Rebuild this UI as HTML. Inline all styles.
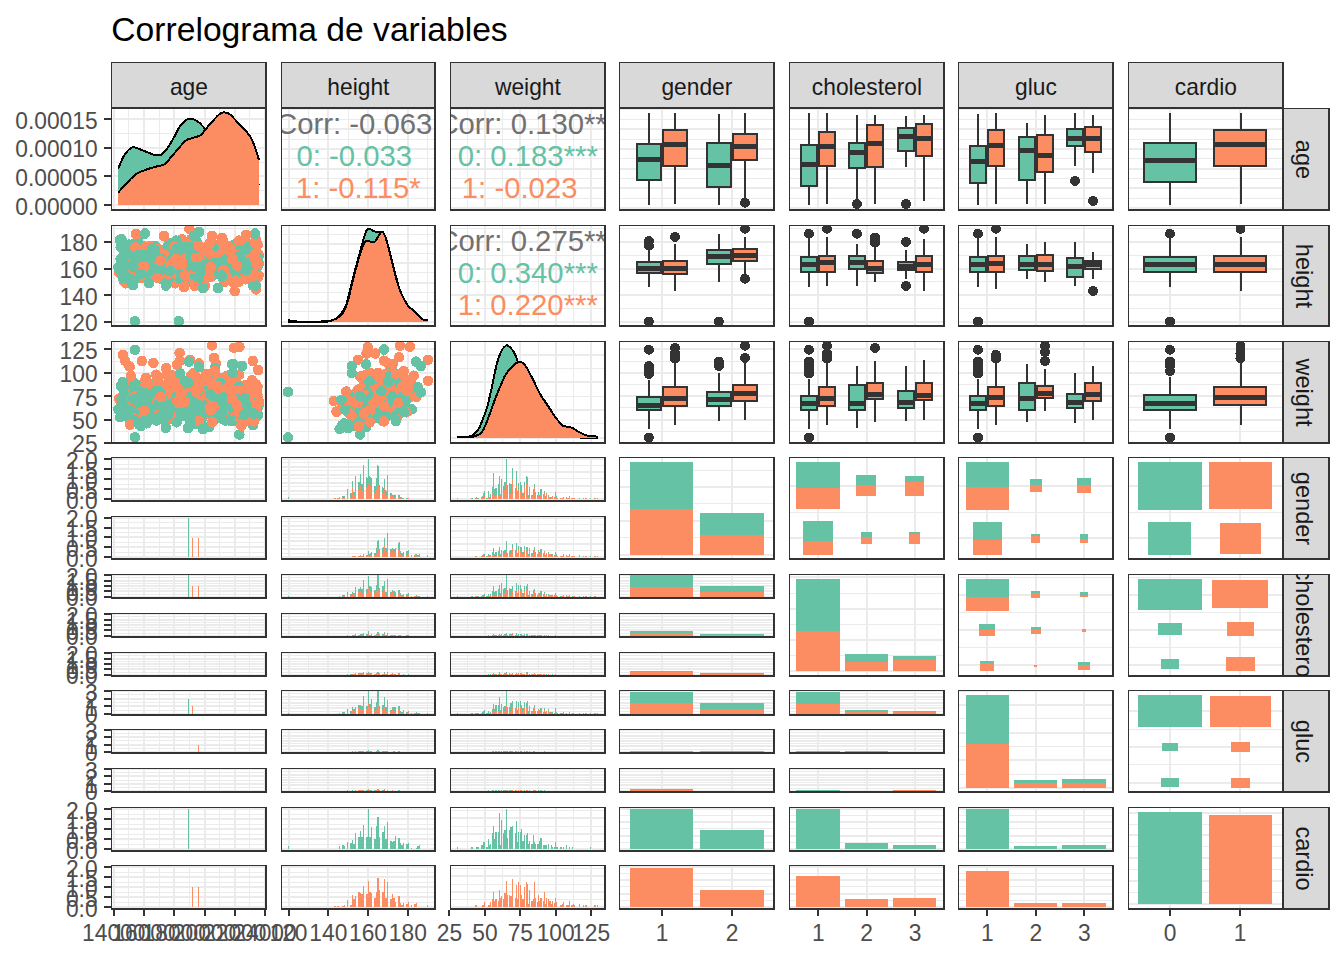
<!DOCTYPE html>
<html><head><meta charset="utf-8"><title>Correlograma de variables</title>
<style>html,body{margin:0;padding:0;background:#fff;}svg{display:block;font-family:"Liberation Sans",sans-serif;}.a{fill:#66C2A5}.b{fill:#FC8D62}</style>
</head><body>
<svg width="1344" height="960" viewBox="0 0 1344 960" shape-rendering="crispEdges">
<rect width="1344" height="960" fill="#fff"/>
<defs><clipPath id="c1"><rect x="1283" y="108" width="46" height="102"/></clipPath><clipPath id="c2"><rect x="1283" y="225" width="46" height="101"/></clipPath><clipPath id="c3"><rect x="1283" y="341" width="46" height="102"/></clipPath><clipPath id="c4"><rect x="1283" y="457" width="46" height="102"/></clipPath><clipPath id="c5"><rect x="1283" y="574" width="46" height="102"/></clipPath><clipPath id="c6"><rect x="1283" y="690" width="46" height="102"/></clipPath><clipPath id="c7"><rect x="1283" y="807" width="46" height="102"/></clipPath><clipPath id="c8"><rect x="111" y="108" width="155" height="102"/></clipPath><clipPath id="c9"><rect x="281" y="108" width="154" height="102"/></clipPath><clipPath id="c10"><rect x="450" y="108" width="155" height="102"/></clipPath><clipPath id="c11"><rect x="619" y="108" width="155" height="102"/></clipPath><clipPath id="c12"><rect x="789" y="108" width="155" height="102"/></clipPath><clipPath id="c13"><rect x="958" y="108" width="155" height="102"/></clipPath><clipPath id="c14"><rect x="1128" y="108" width="155" height="102"/></clipPath><clipPath id="c15"><rect x="111" y="225" width="155" height="101"/></clipPath><clipPath id="c16"><rect x="281" y="225" width="154" height="101"/></clipPath><clipPath id="c17"><rect x="450" y="225" width="155" height="101"/></clipPath><clipPath id="c18"><rect x="619" y="225" width="155" height="101"/></clipPath><clipPath id="c19"><rect x="789" y="225" width="155" height="101"/></clipPath><clipPath id="c20"><rect x="958" y="225" width="155" height="101"/></clipPath><clipPath id="c21"><rect x="1128" y="225" width="155" height="101"/></clipPath><clipPath id="c22"><rect x="111" y="341" width="155" height="102"/></clipPath><clipPath id="c23"><rect x="281" y="341" width="154" height="102"/></clipPath><clipPath id="c24"><rect x="450" y="341" width="155" height="102"/></clipPath><clipPath id="c25"><rect x="619" y="341" width="155" height="102"/></clipPath><clipPath id="c26"><rect x="789" y="341" width="155" height="102"/></clipPath><clipPath id="c27"><rect x="958" y="341" width="155" height="102"/></clipPath><clipPath id="c28"><rect x="1128" y="341" width="155" height="102"/></clipPath><clipPath id="c29"><rect x="619" y="574" width="155" height="24"/></clipPath><clipPath id="c30"><rect x="619" y="613" width="155" height="24"/></clipPath><clipPath id="c31"><rect x="619" y="652" width="155" height="24"/></clipPath><clipPath id="c32"><rect x="619" y="690" width="155" height="25"/></clipPath><clipPath id="c33"><rect x="619" y="729" width="155" height="24"/></clipPath><clipPath id="c34"><rect x="619" y="768" width="155" height="24"/></clipPath><clipPath id="c35"><rect x="789" y="690" width="155" height="25"/></clipPath><clipPath id="c36"><rect x="789" y="729" width="155" height="24"/></clipPath><clipPath id="c37"><rect x="789" y="768" width="155" height="24"/></clipPath><clipPath id="c38"><rect x="619" y="807" width="155" height="44"/></clipPath><clipPath id="c39"><rect x="619" y="865" width="155" height="44"/></clipPath><clipPath id="c40"><rect x="789" y="807" width="155" height="44"/></clipPath><clipPath id="c41"><rect x="789" y="865" width="155" height="44"/></clipPath><clipPath id="c42"><rect x="958" y="807" width="155" height="44"/></clipPath><clipPath id="c43"><rect x="958" y="865" width="155" height="44"/></clipPath></defs>
<text x="111.3" y="40.6" font-size="33.65" fill="#000" text-anchor="start" >Correlograma de variables</text>
<rect x="111" y="62" width="155" height="46" fill="#D9D9D9"/>
<path d="M111 62H267V108H111Z M112 63V107H265V63Z" fill="#333333" fill-rule="evenodd"/>
<text transform="translate(188.9 94.8) scale(0.966 1)" font-size="23.6" fill="#1A1A1A" text-anchor="middle" >age</text>
<rect x="281" y="62" width="154" height="46" fill="#D9D9D9"/>
<path d="M281 62H436V108H281Z M282 63V107H434V63Z" fill="#333333" fill-rule="evenodd"/>
<text transform="translate(358.4 94.8) scale(0.966 1)" font-size="23.6" fill="#1A1A1A" text-anchor="middle" >height</text>
<rect x="450" y="62" width="155" height="46" fill="#D9D9D9"/>
<path d="M450 62H606V108H450Z M451 63V107H604V63Z" fill="#333333" fill-rule="evenodd"/>
<text transform="translate(527.9 94.8) scale(0.966 1)" font-size="23.6" fill="#1A1A1A" text-anchor="middle" >weight</text>
<rect x="619" y="62" width="155" height="46" fill="#D9D9D9"/>
<path d="M619 62H775V108H619Z M620 63V107H773V63Z" fill="#333333" fill-rule="evenodd"/>
<text transform="translate(696.9 94.8) scale(0.966 1)" font-size="23.6" fill="#1A1A1A" text-anchor="middle" >gender</text>
<rect x="789" y="62" width="155" height="46" fill="#D9D9D9"/>
<path d="M789 62H945V108H789Z M790 63V107H943V63Z" fill="#333333" fill-rule="evenodd"/>
<text transform="translate(866.9 94.8) scale(0.966 1)" font-size="23.6" fill="#1A1A1A" text-anchor="middle" >cholesterol</text>
<rect x="958" y="62" width="155" height="46" fill="#D9D9D9"/>
<path d="M958 62H1114V108H958Z M959 63V107H1112V63Z" fill="#333333" fill-rule="evenodd"/>
<text transform="translate(1035.9 94.8) scale(0.966 1)" font-size="23.6" fill="#1A1A1A" text-anchor="middle" >gluc</text>
<rect x="1128" y="62" width="155" height="46" fill="#D9D9D9"/>
<path d="M1128 62H1284V108H1128Z M1129 63V107H1282V63Z" fill="#333333" fill-rule="evenodd"/>
<text transform="translate(1205.9 94.8) scale(0.966 1)" font-size="23.6" fill="#1A1A1A" text-anchor="middle" >cardio</text>
<rect x="1283" y="108" width="46" height="102" fill="#D9D9D9"/>
<path d="M1283 108H1330V211H1283Z M1284 109V209H1328V109Z" fill="#333333" fill-rule="evenodd"/>
<g clip-path="url(#c1)"><text transform="translate(1295.8 159.5) rotate(90) scale(1.0 1)" font-size="23.6" fill="#1A1A1A" text-anchor="middle">age</text></g>
<rect x="1283" y="225" width="46" height="101" fill="#D9D9D9"/>
<path d="M1283 225H1330V327H1283Z M1284 226V325H1328V226Z" fill="#333333" fill-rule="evenodd"/>
<g clip-path="url(#c2)"><text transform="translate(1295.8 276) rotate(90) scale(1.0 1)" font-size="23.6" fill="#1A1A1A" text-anchor="middle">height</text></g>
<rect x="1283" y="341" width="46" height="102" fill="#D9D9D9"/>
<path d="M1283 341H1330V444H1283Z M1284 342V442H1328V342Z" fill="#333333" fill-rule="evenodd"/>
<g clip-path="url(#c3)"><text transform="translate(1295.8 392.5) rotate(90) scale(1.0 1)" font-size="23.6" fill="#1A1A1A" text-anchor="middle">weight</text></g>
<rect x="1283" y="457" width="46" height="102" fill="#D9D9D9"/>
<path d="M1283 457H1330V560H1283Z M1284 458V558H1328V458Z" fill="#333333" fill-rule="evenodd"/>
<g clip-path="url(#c4)"><text transform="translate(1295.8 508.5) rotate(90) scale(1.0 1)" font-size="23.6" fill="#1A1A1A" text-anchor="middle">gender</text></g>
<rect x="1283" y="574" width="46" height="102" fill="#D9D9D9"/>
<path d="M1283 574H1330V677H1283Z M1284 575V675H1328V575Z" fill="#333333" fill-rule="evenodd"/>
<g clip-path="url(#c5)"><text transform="translate(1295.8 625.5) rotate(90) scale(1.0 1)" font-size="23.6" fill="#1A1A1A" text-anchor="middle">cholesterol</text></g>
<rect x="1283" y="690" width="46" height="102" fill="#D9D9D9"/>
<path d="M1283 690H1330V793H1283Z M1284 691V791H1328V691Z" fill="#333333" fill-rule="evenodd"/>
<g clip-path="url(#c6)"><text transform="translate(1295.8 741.5) rotate(90) scale(1.0 1)" font-size="23.6" fill="#1A1A1A" text-anchor="middle">gluc</text></g>
<rect x="1283" y="807" width="46" height="102" fill="#D9D9D9"/>
<path d="M1283 807H1330V910H1283Z M1284 808V908H1328V808Z" fill="#333333" fill-rule="evenodd"/>
<g clip-path="url(#c7)"><text transform="translate(1295.8 858.5) rotate(90) scale(1.0 1)" font-size="23.6" fill="#1A1A1A" text-anchor="middle">cardio</text></g>
<rect x="111" y="108" width="155" height="102" fill="#fff"/>
<path d="M111 190h155v1h-155zM111 162h155v1h-155zM111 133h155v1h-155zM111 204h155v2h-155zM111 175h155v2h-155zM111 147h155v2h-155zM111 118h155v2h-155zM128 108h1v102h-1zM159 108h1v102h-1zM189 108h1v102h-1zM219 108h1v102h-1zM249 108h1v102h-1zM113 108h2v102h-2zM143 108h2v102h-2zM173 108h2v102h-2zM204 108h2v102h-2zM234 108h2v102h-2zM264 108h2v102h-2z" fill="#EBEBEB"/>
<g clip-path="url(#c8)">
<path d="M118.25 205.1 L118.25 168.75 L118.67 167.75 L119.22 166.39 L119.88 164.76 L120.61 162.97 L121.39 161.12 L122.19 159.32 L122.99 157.66 L123.75 156.25 L124.5 155.03 L125.29 153.88 L126.09 152.8 L126.91 151.8 L127.71 150.89 L128.51 150.07 L129.27 149.35 L130 148.75 L130.65 148.26 L131.22 147.88 L131.75 147.6 L132.27 147.42 L132.81 147.33 L133.43 147.31 L134.14 147.37 L135 147.5 L135.99 147.73 L137.09 148.07 L138.27 148.52 L139.53 149.03 L140.85 149.59 L142.21 150.16 L143.6 150.72 L145 151.25 L146.48 151.82 L148.07 152.48 L149.72 153.18 L151.41 153.88 L153.07 154.51 L154.67 155.02 L156.16 155.37 L157.5 155.5 L158.68 155.42 L159.73 155.2 L160.68 154.84 L161.56 154.34 L162.41 153.73 L163.24 153 L164.1 152.17 L165 151.25 L165.94 150.2 L166.88 148.99 L167.81 147.65 L168.75 146.22 L169.69 144.71 L170.62 143.15 L171.56 141.57 L172.5 140 L173.45 138.35 L174.4 136.56 L175.37 134.7 L176.33 132.81 L177.28 130.97 L178.21 129.22 L179.12 127.63 L180 126.25 L180.85 125.08 L181.7 124.04 L182.52 123.14 L183.33 122.34 L184.11 121.65 L184.86 121.04 L185.57 120.49 L186.25 120 L186.86 119.58 L187.39 119.25 L187.87 119 L188.33 118.83 L188.79 118.72 L189.29 118.68 L189.85 118.69 L190.5 118.75 L191.24 118.85 L192.04 118.99 L192.9 119.19 L193.8 119.45 L194.72 119.78 L195.65 120.19 L196.58 120.67 L197.5 121.25 L198.41 121.94 L199.34 122.74 L200.28 123.64 L201.22 124.61 L202.17 125.63 L203.11 126.67 L204.06 127.72 L205 128.75 L205.94 129.81 L206.88 130.93 L207.81 132.08 L208.75 133.25 L209.69 134.4 L210.62 135.51 L211.56 136.55 L212.5 137.5 L213.42 138.35 L214.32 139.13 L215.2 139.84 L216.09 140.52 L217 141.15 L217.95 141.77 L218.94 142.38 L220 143 L221.13 143.59 L222.32 144.12 L223.57 144.63 L224.84 145.12 L226.14 145.64 L227.44 146.19 L228.73 146.8 L230 147.5 L231.25 148.27 L232.5 149.08 L233.75 149.93 L235 150.83 L236.25 151.78 L237.5 152.79 L238.75 153.86 L240 155 L241.28 156.24 L242.62 157.61 L243.97 159.05 L245.31 160.55 L246.62 162.05 L247.85 163.53 L248.99 164.94 L250 166.25 L250.87 167.45 L251.62 168.58 L252.29 169.66 L252.88 170.7 L253.42 171.74 L253.94 172.78 L254.46 173.86 L255 175 L255.58 176.26 L256.16 177.65 L256.75 179.1 L257.31 180.55 L257.84 181.93 L258.3 183.17 L258.7 184.22 L259 185 L259 205.1 Z" fill="#66C2A5"/>
<path d="M118.25 168.75 L118.67 167.75 L119.22 166.39 L119.88 164.76 L120.61 162.97 L121.39 161.12 L122.19 159.32 L122.99 157.66 L123.75 156.25 L124.5 155.03 L125.29 153.88 L126.09 152.8 L126.91 151.8 L127.71 150.89 L128.51 150.07 L129.27 149.35 L130 148.75 L130.65 148.26 L131.22 147.88 L131.75 147.6 L132.27 147.42 L132.81 147.33 L133.43 147.31 L134.14 147.37 L135 147.5 L135.99 147.73 L137.09 148.07 L138.27 148.52 L139.53 149.03 L140.85 149.59 L142.21 150.16 L143.6 150.72 L145 151.25 L146.48 151.82 L148.07 152.48 L149.72 153.18 L151.41 153.88 L153.07 154.51 L154.67 155.02 L156.16 155.37 L157.5 155.5 L158.68 155.42 L159.73 155.2 L160.68 154.84 L161.56 154.34 L162.41 153.73 L163.24 153 L164.1 152.17 L165 151.25 L165.94 150.2 L166.88 148.99 L167.81 147.65 L168.75 146.22 L169.69 144.71 L170.62 143.15 L171.56 141.57 L172.5 140 L173.45 138.35 L174.4 136.56 L175.37 134.7 L176.33 132.81 L177.28 130.97 L178.21 129.22 L179.12 127.63 L180 126.25 L180.85 125.08 L181.7 124.04 L182.52 123.14 L183.33 122.34 L184.11 121.65 L184.86 121.04 L185.57 120.49 L186.25 120 L186.86 119.58 L187.39 119.25 L187.87 119 L188.33 118.83 L188.79 118.72 L189.29 118.68 L189.85 118.69 L190.5 118.75 L191.24 118.85 L192.04 118.99 L192.9 119.19 L193.8 119.45 L194.72 119.78 L195.65 120.19 L196.58 120.67 L197.5 121.25 L198.41 121.94 L199.34 122.74 L200.28 123.64 L201.22 124.61 L202.17 125.63 L203.11 126.67 L204.06 127.72 L205 128.75 L205.94 129.81 L206.88 130.93 L207.81 132.08 L208.75 133.25 L209.69 134.4 L210.62 135.51 L211.56 136.55 L212.5 137.5 L213.42 138.35 L214.32 139.13 L215.2 139.84 L216.09 140.52 L217 141.15 L217.95 141.77 L218.94 142.38 L220 143 L221.13 143.59 L222.32 144.12 L223.57 144.63 L224.84 145.12 L226.14 145.64 L227.44 146.19 L228.73 146.8 L230 147.5 L231.25 148.27 L232.5 149.08 L233.75 149.93 L235 150.83 L236.25 151.78 L237.5 152.79 L238.75 153.86 L240 155 L241.28 156.24 L242.62 157.61 L243.97 159.05 L245.31 160.55 L246.62 162.05 L247.85 163.53 L248.99 164.94 L250 166.25 L250.87 167.45 L251.62 168.58 L252.29 169.66 L252.88 170.7 L253.42 171.74 L253.94 172.78 L254.46 173.86 L255 175 L255.58 176.26 L256.16 177.65 L256.75 179.1 L257.31 180.55 L257.84 181.93 L258.3 183.17 L258.7 184.22 L259 185" fill="none" stroke="#000" stroke-width="2" stroke-linejoin="round"/>
<path d="M118.25 205.1 L118.25 192.5 L118.75 191.94 L119.39 191.21 L120.14 190.35 L121 189.38 L121.93 188.33 L122.93 187.23 L123.95 186.11 L125 185 L126.09 183.84 L127.27 182.56 L128.51 181.21 L129.8 179.84 L131.11 178.49 L132.42 177.21 L133.73 176.03 L135 175 L136.23 174.13 L137.44 173.37 L138.64 172.7 L139.84 172.11 L141.07 171.56 L142.32 171.04 L143.63 170.53 L145 170 L146.48 169.46 L148.07 168.95 L149.72 168.45 L151.41 167.97 L153.07 167.51 L154.67 167.07 L156.16 166.65 L157.5 166.25 L158.66 165.94 L159.67 165.74 L160.57 165.61 L161.41 165.47 L162.22 165.27 L163.07 164.96 L163.98 164.47 L165 163.75 L166.13 162.76 L167.32 161.55 L168.57 160.17 L169.84 158.67 L171.14 157.1 L172.44 155.52 L173.73 153.97 L175 152.5 L176.28 151.03 L177.62 149.48 L178.97 147.9 L180.31 146.33 L181.62 144.83 L182.85 143.45 L183.99 142.24 L185 141.25 L185.83 140.52 L186.48 140.03 L187.02 139.7 L187.5 139.5 L187.98 139.36 L188.52 139.22 L189.17 139.04 L190 138.75 L191.04 138.4 L192.27 138.04 L193.6 137.69 L195 137.31 L196.4 136.92 L197.73 136.49 L198.96 136.02 L200 135.5 L200.85 134.94 L201.54 134.36 L202.13 133.75 L202.66 133.09 L203.16 132.4 L203.69 131.66 L204.29 130.86 L205 130 L205.82 129.05 L206.7 128.01 L207.63 126.9 L208.59 125.75 L209.58 124.58 L210.57 123.43 L211.55 122.31 L212.5 121.25 L213.45 120.21 L214.43 119.14 L215.42 118.07 L216.41 117.03 L217.37 116.05 L218.3 115.16 L219.18 114.38 L220 113.75 L220.74 113.27 L221.43 112.92 L222.06 112.68 L222.66 112.53 L223.23 112.46 L223.81 112.44 L224.39 112.46 L225 112.5 L225.59 112.54 L226.13 112.57 L226.66 112.64 L227.19 112.77 L227.76 112.98 L228.4 113.33 L229.14 113.82 L230 114.5 L231.01 115.4 L232.15 116.51 L233.38 117.78 L234.69 119.17 L236.03 120.63 L237.38 122.12 L238.72 123.59 L240 125 L241.28 126.37 L242.62 127.76 L243.97 129.16 L245.31 130.58 L246.62 132 L247.85 133.42 L248.99 134.84 L250 136.25 L250.87 137.65 L251.62 139.03 L252.29 140.41 L252.88 141.8 L253.42 143.19 L253.94 144.6 L254.46 146.03 L255 147.5 L255.58 149.09 L256.16 150.83 L256.75 152.65 L257.31 154.45 L257.84 156.17 L258.3 157.72 L258.7 159.03 L259 160 L259 205.1 Z" fill="#FC8D62"/>
<path d="M118.25 192.5 L118.75 191.94 L119.39 191.21 L120.14 190.35 L121 189.38 L121.93 188.33 L122.93 187.23 L123.95 186.11 L125 185 L126.09 183.84 L127.27 182.56 L128.51 181.21 L129.8 179.84 L131.11 178.49 L132.42 177.21 L133.73 176.03 L135 175 L136.23 174.13 L137.44 173.37 L138.64 172.7 L139.84 172.11 L141.07 171.56 L142.32 171.04 L143.63 170.53 L145 170 L146.48 169.46 L148.07 168.95 L149.72 168.45 L151.41 167.97 L153.07 167.51 L154.67 167.07 L156.16 166.65 L157.5 166.25 L158.66 165.94 L159.67 165.74 L160.57 165.61 L161.41 165.47 L162.22 165.27 L163.07 164.96 L163.98 164.47 L165 163.75 L166.13 162.76 L167.32 161.55 L168.57 160.17 L169.84 158.67 L171.14 157.1 L172.44 155.52 L173.73 153.97 L175 152.5 L176.28 151.03 L177.62 149.48 L178.97 147.9 L180.31 146.33 L181.62 144.83 L182.85 143.45 L183.99 142.24 L185 141.25 L185.83 140.52 L186.48 140.03 L187.02 139.7 L187.5 139.5 L187.98 139.36 L188.52 139.22 L189.17 139.04 L190 138.75 L191.04 138.4 L192.27 138.04 L193.6 137.69 L195 137.31 L196.4 136.92 L197.73 136.49 L198.96 136.02 L200 135.5 L200.85 134.94 L201.54 134.36 L202.13 133.75 L202.66 133.09 L203.16 132.4 L203.69 131.66 L204.29 130.86 L205 130 L205.82 129.05 L206.7 128.01 L207.63 126.9 L208.59 125.75 L209.58 124.58 L210.57 123.43 L211.55 122.31 L212.5 121.25 L213.45 120.21 L214.43 119.14 L215.42 118.07 L216.41 117.03 L217.37 116.05 L218.3 115.16 L219.18 114.38 L220 113.75 L220.74 113.27 L221.43 112.92 L222.06 112.68 L222.66 112.53 L223.23 112.46 L223.81 112.44 L224.39 112.46 L225 112.5 L225.59 112.54 L226.13 112.57 L226.66 112.64 L227.19 112.77 L227.76 112.98 L228.4 113.33 L229.14 113.82 L230 114.5 L231.01 115.4 L232.15 116.51 L233.38 117.78 L234.69 119.17 L236.03 120.63 L237.38 122.12 L238.72 123.59 L240 125 L241.28 126.37 L242.62 127.76 L243.97 129.16 L245.31 130.58 L246.62 132 L247.85 133.42 L248.99 134.84 L250 136.25 L250.87 137.65 L251.62 139.03 L252.29 140.41 L252.88 141.8 L253.42 143.19 L253.94 144.6 L254.46 146.03 L255 147.5 L255.58 149.09 L256.16 150.83 L256.75 152.65 L257.31 154.45 L257.84 156.17 L258.3 157.72 L258.7 159.03 L259 160" fill="none" stroke="#000" stroke-width="2" stroke-linejoin="round"/>
</g>
<path d="M111 108H267V211H111Z M112 109V209H265V109Z" fill="#333333" fill-rule="evenodd"/>
<rect x="281" y="108" width="154" height="102" fill="#fff"/>
<path d="M281 198h154v1h-154zM281 178h154v1h-154zM281 158h154v1h-154zM281 139h154v1h-154zM281 119h154v1h-154zM281 207h154v2h-154zM281 187h154v2h-154zM281 168h154v2h-154zM281 148h154v2h-154zM281 128h154v2h-154zM281 108h154v2h-154zM308 108h1v102h-1zM348 108h1v102h-1zM387 108h1v102h-1zM427 108h1v102h-1zM288 108h2v102h-2zM327 108h2v102h-2zM367 108h2v102h-2zM407 108h2v102h-2z" fill="#EBEBEB"/>
<g clip-path="url(#c9)">
<text x="358.3" y="133.7" font-size="29.3" fill="#717171" text-anchor="middle" >Corr: -0.063.</text>
<text x="354.23" y="165.9" font-size="29.3" fill="#66C2A5" text-anchor="middle" >0: -0.033</text>
<text x="358.3" y="198.4" font-size="29.3" fill="#FC8D62" text-anchor="middle" >1: -0.115*</text>
</g>
<path d="M281 108H436V211H281Z M282 109V209H434V109Z" fill="#333333" fill-rule="evenodd"/>
<rect x="450" y="108" width="155" height="102" fill="#fff"/>
<path d="M450 198h155v1h-155zM450 178h155v1h-155zM450 158h155v1h-155zM450 139h155v1h-155zM450 119h155v1h-155zM450 207h155v2h-155zM450 187h155v2h-155zM450 168h155v2h-155zM450 148h155v2h-155zM450 128h155v2h-155zM450 108h155v2h-155zM467 108h1v102h-1zM502 108h1v102h-1zM538 108h1v102h-1zM573 108h1v102h-1zM484 108h2v102h-2zM519 108h2v102h-2zM555 108h2v102h-2zM590 108h2v102h-2z" fill="#EBEBEB"/>
<g clip-path="url(#c10)">
<text x="527.8" y="133.7" font-size="29.3" fill="#717171" text-anchor="middle" >Corr: 0.130***</text>
<text x="527.8" y="165.9" font-size="29.3" fill="#66C2A5" text-anchor="middle" >0: 0.183***</text>
<text x="519.66" y="198.4" font-size="29.3" fill="#FC8D62" text-anchor="middle" >1: -0.023</text>
</g>
<path d="M450 108H606V211H450Z M451 109V209H604V109Z" fill="#333333" fill-rule="evenodd"/>
<rect x="619" y="108" width="155" height="102" fill="#fff"/>
<path d="M619 198h155v1h-155zM619 178h155v1h-155zM619 158h155v1h-155zM619 139h155v1h-155zM619 119h155v1h-155zM619 207h155v2h-155zM619 187h155v2h-155zM619 168h155v2h-155zM619 148h155v2h-155zM619 128h155v2h-155zM619 108h155v2h-155zM661 108h2v102h-2zM731 108h2v102h-2z" fill="#EBEBEB"/>
<g clip-path="url(#c11)">
<rect x="648" y="113" width="2" height="31" fill="#333333"/>
<rect x="648" y="179.9" width="2" height="24.7" fill="#333333"/>
<rect x="637" y="144" width="24" height="36" fill="#66C2A5" stroke="#333333" stroke-width="2"/>
<rect x="637" y="157" width="24" height="5" fill="#333333"/>
<rect x="674" y="113" width="2" height="17" fill="#333333"/>
<rect x="674" y="165.9" width="2" height="37.7" fill="#333333"/>
<rect x="663" y="130" width="24" height="36" fill="#FC8D62" stroke="#333333" stroke-width="2"/>
<rect x="663" y="142" width="24" height="5" fill="#333333"/>
<rect x="718" y="114.25" width="2" height="28.75" fill="#333333"/>
<rect x="718" y="186.75" width="2" height="17.85" fill="#333333"/>
<rect x="707" y="143" width="24" height="44" fill="#66C2A5" stroke="#333333" stroke-width="2"/>
<rect x="707" y="163" width="24" height="5" fill="#333333"/>
<rect x="744" y="113" width="2" height="21" fill="#333333"/>
<rect x="744" y="160" width="2" height="39" fill="#333333"/>
<rect x="733" y="134" width="24" height="26" fill="#FC8D62" stroke="#333333" stroke-width="2"/>
<rect x="733" y="144" width="24" height="5" fill="#333333"/>
<circle cx="745" cy="202.75" r="5" fill="#333333"/>
</g>
<path d="M619 108H775V211H619Z M620 109V209H773V109Z" fill="#333333" fill-rule="evenodd"/>
<rect x="789" y="108" width="155" height="102" fill="#fff"/>
<path d="M789 198h155v1h-155zM789 178h155v1h-155zM789 158h155v1h-155zM789 139h155v1h-155zM789 119h155v1h-155zM789 207h155v2h-155zM789 187h155v2h-155zM789 168h155v2h-155zM789 148h155v2h-155zM789 128h155v2h-155zM789 108h155v2h-155zM817 108h2v102h-2zM866 108h2v102h-2zM914 108h2v102h-2z" fill="#EBEBEB"/>
<g clip-path="url(#c12)">
<rect x="808" y="113" width="2" height="32" fill="#333333"/>
<rect x="808" y="185.9" width="2" height="18.7" fill="#333333"/>
<rect x="801" y="145" width="16" height="41" fill="#66C2A5" stroke="#333333" stroke-width="2"/>
<rect x="801" y="162" width="16" height="5" fill="#333333"/>
<rect x="826" y="113" width="2" height="18.75" fill="#333333"/>
<rect x="826" y="165.9" width="2" height="37.7" fill="#333333"/>
<rect x="819" y="132" width="16" height="34" fill="#FC8D62" stroke="#333333" stroke-width="2"/>
<rect x="819" y="144" width="16" height="5" fill="#333333"/>
<rect x="856" y="115.25" width="2" height="27.75" fill="#333333"/>
<rect x="856" y="168" width="2" height="31" fill="#333333"/>
<rect x="849" y="143" width="16" height="25" fill="#66C2A5" stroke="#333333" stroke-width="2"/>
<rect x="849" y="150" width="16" height="5" fill="#333333"/>
<circle cx="856.9" cy="204" r="5" fill="#333333"/>
<rect x="874" y="115.25" width="2" height="9.65" fill="#333333"/>
<rect x="874" y="167.1" width="2" height="36.5" fill="#333333"/>
<rect x="867" y="125" width="16" height="42" fill="#FC8D62" stroke="#333333" stroke-width="2"/>
<rect x="867" y="141" width="16" height="5" fill="#333333"/>
<rect x="905" y="116.1" width="2" height="11.9" fill="#333333"/>
<rect x="905" y="151.1" width="2" height="15.8" fill="#333333"/>
<rect x="898" y="128" width="16" height="23" fill="#66C2A5" stroke="#333333" stroke-width="2"/>
<rect x="898" y="134" width="16" height="5" fill="#333333"/>
<circle cx="906" cy="204" r="5" fill="#333333"/>
<rect x="923" y="115.25" width="2" height="8.75" fill="#333333"/>
<rect x="923" y="155.9" width="2" height="45" fill="#333333"/>
<rect x="916" y="124" width="16" height="32" fill="#FC8D62" stroke="#333333" stroke-width="2"/>
<rect x="916" y="136" width="16" height="5" fill="#333333"/>
</g>
<path d="M789 108H945V211H789Z M790 109V209H943V109Z" fill="#333333" fill-rule="evenodd"/>
<rect x="958" y="108" width="155" height="102" fill="#fff"/>
<path d="M958 198h155v1h-155zM958 178h155v1h-155zM958 158h155v1h-155zM958 139h155v1h-155zM958 119h155v1h-155zM958 207h155v2h-155zM958 187h155v2h-155zM958 168h155v2h-155zM958 148h155v2h-155zM958 128h155v2h-155zM958 108h155v2h-155zM986 108h2v102h-2zM1035 108h2v102h-2zM1083 108h2v102h-2z" fill="#EBEBEB"/>
<g clip-path="url(#c13)">
<rect x="977" y="114.25" width="2" height="31.65" fill="#333333"/>
<rect x="977" y="183" width="2" height="21.6" fill="#333333"/>
<rect x="970" y="146" width="16" height="37" fill="#66C2A5" stroke="#333333" stroke-width="2"/>
<rect x="970" y="159" width="16" height="5" fill="#333333"/>
<rect x="995" y="113" width="2" height="16.9" fill="#333333"/>
<rect x="995" y="165.9" width="2" height="37.7" fill="#333333"/>
<rect x="988" y="130" width="16" height="36" fill="#FC8D62" stroke="#333333" stroke-width="2"/>
<rect x="988" y="143" width="16" height="5" fill="#333333"/>
<rect x="1026" y="123.1" width="2" height="14" fill="#333333"/>
<rect x="1026" y="180" width="2" height="23.6" fill="#333333"/>
<rect x="1019" y="137" width="16" height="43" fill="#66C2A5" stroke="#333333" stroke-width="2"/>
<rect x="1019" y="148" width="16" height="5" fill="#333333"/>
<rect x="1044" y="115.25" width="2" height="19.35" fill="#333333"/>
<rect x="1044" y="172.1" width="2" height="31.5" fill="#333333"/>
<rect x="1037" y="135" width="16" height="37" fill="#FC8D62" stroke="#333333" stroke-width="2"/>
<rect x="1037" y="153" width="16" height="5" fill="#333333"/>
<rect x="1074" y="113" width="2" height="16" fill="#333333"/>
<rect x="1074" y="146.1" width="2" height="19.5" fill="#333333"/>
<rect x="1067" y="129" width="16" height="17" fill="#66C2A5" stroke="#333333" stroke-width="2"/>
<rect x="1067" y="136" width="16" height="5" fill="#333333"/>
<circle cx="1075" cy="180.9" r="5" fill="#333333"/>
<rect x="1092" y="115.25" width="2" height="11.65" fill="#333333"/>
<rect x="1092" y="152.1" width="2" height="20.65" fill="#333333"/>
<rect x="1085" y="127" width="16" height="25" fill="#FC8D62" stroke="#333333" stroke-width="2"/>
<rect x="1085" y="136" width="16" height="5" fill="#333333"/>
<circle cx="1093.1" cy="200.9" r="5" fill="#333333"/>
</g>
<path d="M958 108H1114V211H958Z M959 109V209H1112V109Z" fill="#333333" fill-rule="evenodd"/>
<rect x="1128" y="108" width="155" height="102" fill="#fff"/>
<path d="M1128 198h155v1h-155zM1128 178h155v1h-155zM1128 158h155v1h-155zM1128 139h155v1h-155zM1128 119h155v1h-155zM1128 207h155v2h-155zM1128 187h155v2h-155zM1128 168h155v2h-155zM1128 148h155v2h-155zM1128 128h155v2h-155zM1128 108h155v2h-155zM1169 108h2v102h-2zM1239 108h2v102h-2z" fill="#EBEBEB"/>
<g clip-path="url(#c14)">
<rect x="1169" y="113" width="2" height="30" fill="#333333"/>
<rect x="1169" y="182.1" width="2" height="22.5" fill="#333333"/>
<rect x="1144" y="143" width="52" height="39" fill="#66C2A5" stroke="#333333" stroke-width="2"/>
<rect x="1144" y="158" width="52" height="5" fill="#333333"/>
<rect x="1240" y="113" width="2" height="17" fill="#333333"/>
<rect x="1240" y="165.9" width="2" height="37.7" fill="#333333"/>
<rect x="1214" y="130" width="52" height="36" fill="#FC8D62" stroke="#333333" stroke-width="2"/>
<rect x="1214" y="142" width="52" height="5" fill="#333333"/>
</g>
<path d="M1128 108H1284V211H1128Z M1129 109V209H1282V109Z" fill="#333333" fill-rule="evenodd"/>
<rect x="111" y="225" width="155" height="101" fill="#fff"/>
<path d="M111 308h155v1h-155zM111 281h155v1h-155zM111 255h155v1h-155zM111 228h155v1h-155zM111 321h155v2h-155zM111 294h155v2h-155zM111 268h155v2h-155zM111 241h155v2h-155zM128 225h1v101h-1zM159 225h1v101h-1zM189 225h1v101h-1zM219 225h1v101h-1zM249 225h1v101h-1zM113 225h2v101h-2zM143 225h2v101h-2zM173 225h2v101h-2zM204 225h2v101h-2zM234 225h2v101h-2zM264 225h2v101h-2z" fill="#EBEBEB"/>
<g clip-path="url(#c15)">
<circle class="a" r="5.3" cx="202.2" cy="268.6"/>
<circle class="b" r="5.3" cx="151.8" cy="267.3"/>
<circle class="b" r="5.3" cx="239.2" cy="264.6"/>
<circle class="b" r="5.3" cx="208.8" cy="257.9"/>
<circle class="b" r="5.3" cx="201.0" cy="253.9"/>
<circle class="b" r="5.3" cx="245.3" cy="249.9"/>
<circle class="a" r="5.3" cx="234.6" cy="269.9"/>
<circle class="a" r="5.3" cx="229.4" cy="256.6"/>
<circle class="a" r="5.3" cx="250.3" cy="268.6"/>
<circle class="b" r="5.3" cx="125.7" cy="283.3"/>
<circle class="a" r="5.3" cx="234.9" cy="268.6"/>
<circle class="a" r="5.3" cx="120.7" cy="247.3"/>
<circle class="b" r="5.3" cx="163.2" cy="256.6"/>
<circle class="a" r="5.3" cx="223.0" cy="259.3"/>
<circle class="a" r="5.3" cx="183.9" cy="243.3"/>
<circle class="a" r="5.3" cx="186.3" cy="263.3"/>
<circle class="b" r="5.3" cx="192.1" cy="264.6"/>
<circle class="a" r="5.3" cx="151.8" cy="257.9"/>
<circle class="a" r="5.3" cx="205.5" cy="249.9"/>
<circle class="a" r="5.3" cx="165.4" cy="273.9"/>
<circle class="a" r="5.3" cx="200.3" cy="272.6"/>
<circle class="a" r="5.3" cx="177.1" cy="268.6"/>
<circle class="a" r="5.3" cx="236.3" cy="260.6"/>
<circle class="a" r="5.3" cx="189.2" cy="257.9"/>
<circle class="a" r="5.3" cx="126.8" cy="253.9"/>
<circle class="b" r="5.3" cx="175.4" cy="283.3"/>
<circle class="b" r="5.3" cx="211.3" cy="276.6"/>
<circle class="a" r="5.3" cx="241.8" cy="256.6"/>
<circle class="b" r="5.3" cx="181.7" cy="260.6"/>
<circle class="b" r="5.3" cx="161.0" cy="257.9"/>
<circle class="a" r="5.3" cx="121.9" cy="264.6"/>
<circle class="b" r="5.3" cx="179.0" cy="248.6"/>
<circle class="b" r="5.3" cx="124.5" cy="273.9"/>
<circle class="a" r="5.3" cx="140.8" cy="277.9"/>
<circle class="b" r="5.3" cx="184.7" cy="265.9"/>
<circle class="b" r="5.3" cx="222.1" cy="255.3"/>
<circle class="b" r="5.3" cx="168.2" cy="272.6"/>
<circle class="b" r="5.3" cx="210.2" cy="273.9"/>
<circle class="a" r="5.3" cx="188.0" cy="281.9"/>
<circle class="b" r="5.3" cx="231.2" cy="255.3"/>
<circle class="a" r="5.3" cx="253.5" cy="260.6"/>
<circle class="a" r="5.3" cx="177.4" cy="275.3"/>
<circle class="b" r="5.3" cx="219.8" cy="273.9"/>
<circle class="a" r="5.3" cx="130.2" cy="252.6"/>
<circle class="a" r="5.3" cx="145.7" cy="264.6"/>
<circle class="a" r="5.3" cx="212.2" cy="260.6"/>
<circle class="a" r="5.3" cx="129.5" cy="267.3"/>
<circle class="a" r="5.3" cx="214.0" cy="260.6"/>
<circle class="a" r="5.3" cx="230.2" cy="249.9"/>
<circle class="b" r="5.3" cx="222.0" cy="263.3"/>
<circle class="b" r="5.3" cx="227.8" cy="269.9"/>
<circle class="a" r="5.3" cx="128.8" cy="263.3"/>
<circle class="b" r="5.3" cx="219.7" cy="260.6"/>
<circle class="b" r="5.3" cx="228.8" cy="267.3"/>
<circle class="b" r="5.3" cx="123.7" cy="280.6"/>
<circle class="b" r="5.3" cx="185.6" cy="277.9"/>
<circle class="b" r="5.3" cx="201.6" cy="259.3"/>
<circle class="a" r="5.3" cx="239.4" cy="273.9"/>
<circle class="b" r="5.3" cx="188.1" cy="273.9"/>
<circle class="b" r="5.3" cx="222.5" cy="256.6"/>
<circle class="a" r="5.3" cx="221.4" cy="261.9"/>
<circle class="a" r="5.3" cx="159.7" cy="267.3"/>
<circle class="b" r="5.3" cx="161.4" cy="255.3"/>
<circle class="a" r="5.3" cx="189.5" cy="257.9"/>
<circle class="b" r="5.3" cx="226.4" cy="260.6"/>
<circle class="a" r="5.3" cx="246.5" cy="272.6"/>
<circle class="b" r="5.3" cx="191.9" cy="263.3"/>
<circle class="a" r="5.3" cx="202.2" cy="267.3"/>
<circle class="b" r="5.3" cx="210.9" cy="264.6"/>
<circle class="b" r="5.3" cx="140.0" cy="249.9"/>
<circle class="b" r="5.3" cx="223.1" cy="259.3"/>
<circle class="a" r="5.3" cx="182.3" cy="263.3"/>
<circle class="b" r="5.3" cx="207.9" cy="256.6"/>
<circle class="a" r="5.3" cx="190.5" cy="272.6"/>
<circle class="a" r="5.3" cx="149.9" cy="256.6"/>
<circle class="a" r="5.3" cx="201.8" cy="259.3"/>
<circle class="a" r="5.3" cx="149.8" cy="269.9"/>
<circle class="b" r="5.3" cx="257.6" cy="244.6"/>
<circle class="a" r="5.3" cx="122.5" cy="265.9"/>
<circle class="a" r="5.3" cx="224.5" cy="263.3"/>
<circle class="b" r="5.3" cx="133.6" cy="257.9"/>
<circle class="a" r="5.3" cx="208.8" cy="275.3"/>
<circle class="b" r="5.3" cx="138.7" cy="273.9"/>
<circle class="b" r="5.3" cx="204.4" cy="259.3"/>
<circle class="b" r="5.3" cx="235.8" cy="271.3"/>
<circle class="a" r="5.3" cx="209.3" cy="255.3"/>
<circle class="a" r="5.3" cx="146.6" cy="268.6"/>
<circle class="b" r="5.3" cx="195.3" cy="275.3"/>
<circle class="b" r="5.3" cx="236.6" cy="256.6"/>
<circle class="b" r="5.3" cx="143.5" cy="263.3"/>
<circle class="a" r="5.3" cx="228.2" cy="268.6"/>
<circle class="b" r="5.3" cx="178.5" cy="263.3"/>
<circle class="b" r="5.3" cx="252.6" cy="269.9"/>
<circle class="b" r="5.3" cx="205.4" cy="275.3"/>
<circle class="b" r="5.3" cx="145.0" cy="263.3"/>
<circle class="b" r="5.3" cx="144.6" cy="265.9"/>
<circle class="a" r="5.3" cx="191.8" cy="263.3"/>
<circle class="a" r="5.3" cx="213.8" cy="256.6"/>
<circle class="a" r="5.3" cx="201.1" cy="263.3"/>
<circle class="b" r="5.3" cx="220.5" cy="247.3"/>
<circle class="b" r="5.3" cx="245.8" cy="269.9"/>
<circle class="a" r="5.3" cx="189.8" cy="267.3"/>
<circle class="b" r="5.3" cx="210.6" cy="269.9"/>
<circle class="b" r="5.3" cx="212.3" cy="263.3"/>
<circle class="b" r="5.3" cx="176.4" cy="277.9"/>
<circle class="b" r="5.3" cx="203.0" cy="268.6"/>
<circle class="a" r="5.3" cx="177.9" cy="255.3"/>
<circle class="a" r="5.3" cx="132.7" cy="249.9"/>
<circle class="a" r="5.3" cx="132.2" cy="244.6"/>
<circle class="b" r="5.3" cx="123.9" cy="260.6"/>
<circle class="b" r="5.3" cx="191.8" cy="267.3"/>
<circle class="a" r="5.3" cx="133.3" cy="279.3"/>
<circle class="b" r="5.3" cx="191.6" cy="259.3"/>
<circle class="a" r="5.3" cx="123.1" cy="249.9"/>
<circle class="b" r="5.3" cx="203.8" cy="269.9"/>
<circle class="b" r="5.3" cx="193.8" cy="256.6"/>
<circle class="b" r="5.3" cx="234.6" cy="259.3"/>
<circle class="a" r="5.3" cx="132.9" cy="267.3"/>
<circle class="b" r="5.3" cx="232.5" cy="252.6"/>
<circle class="b" r="5.3" cx="251.1" cy="277.9"/>
<circle class="b" r="5.3" cx="236.2" cy="261.9"/>
<circle class="a" r="5.3" cx="208.3" cy="252.6"/>
<circle class="a" r="5.3" cx="139.3" cy="265.9"/>
<circle class="b" r="5.3" cx="153.5" cy="255.3"/>
<circle class="b" r="5.3" cx="232.4" cy="253.9"/>
<circle class="b" r="5.3" cx="184.0" cy="260.6"/>
<circle class="a" r="5.3" cx="129.7" cy="255.3"/>
<circle class="b" r="5.3" cx="221.0" cy="265.9"/>
<circle class="a" r="5.3" cx="135.3" cy="257.9"/>
<circle class="b" r="5.3" cx="209.0" cy="260.6"/>
<circle class="a" r="5.3" cx="243.3" cy="272.6"/>
<circle class="b" r="5.3" cx="142.1" cy="256.6"/>
<circle class="b" r="5.3" cx="215.9" cy="255.3"/>
<circle class="a" r="5.3" cx="236.4" cy="268.6"/>
<circle class="a" r="5.3" cx="230.3" cy="259.3"/>
<circle class="b" r="5.3" cx="182.3" cy="267.3"/>
<circle class="a" r="5.3" cx="184.1" cy="265.9"/>
<circle class="a" r="5.3" cx="202.1" cy="276.6"/>
<circle class="b" r="5.3" cx="235.3" cy="253.9"/>
<circle class="b" r="5.3" cx="193.6" cy="267.3"/>
<circle class="b" r="5.3" cx="179.6" cy="273.9"/>
<circle class="a" r="5.3" cx="169.4" cy="273.9"/>
<circle class="a" r="5.3" cx="238.7" cy="252.6"/>
<circle class="b" r="5.3" cx="215.4" cy="267.3"/>
<circle class="a" r="5.3" cx="180.6" cy="249.9"/>
<circle class="b" r="5.3" cx="227.2" cy="275.3"/>
<circle class="b" r="5.3" cx="239.3" cy="272.6"/>
<circle class="a" r="5.3" cx="201.7" cy="279.3"/>
<circle class="a" r="5.3" cx="241.6" cy="260.6"/>
<circle class="b" r="5.3" cx="243.7" cy="256.6"/>
<circle class="b" r="5.3" cx="234.6" cy="252.6"/>
<circle class="b" r="5.3" cx="169.8" cy="261.9"/>
<circle class="b" r="5.3" cx="225.3" cy="268.6"/>
<circle class="b" r="5.3" cx="245.6" cy="279.3"/>
<circle class="b" r="5.3" cx="184.8" cy="264.6"/>
<circle class="b" r="5.3" cx="204.5" cy="272.6"/>
<circle class="b" r="5.3" cx="166.3" cy="275.3"/>
<circle class="b" r="5.3" cx="223.5" cy="261.9"/>
<circle class="a" r="5.3" cx="191.6" cy="264.6"/>
<circle class="b" r="5.3" cx="203.0" cy="264.6"/>
<circle class="a" r="5.3" cx="205.7" cy="272.6"/>
<circle class="b" r="5.3" cx="125.2" cy="272.6"/>
<circle class="b" r="5.3" cx="160.7" cy="264.6"/>
<circle class="a" r="5.3" cx="177.7" cy="257.9"/>
<circle class="b" r="5.3" cx="236.0" cy="267.3"/>
<circle class="b" r="5.3" cx="246.4" cy="244.6"/>
<circle class="a" r="5.3" cx="250.3" cy="269.9"/>
<circle class="a" r="5.3" cx="142.0" cy="256.6"/>
<circle class="b" r="5.3" cx="216.9" cy="268.6"/>
<circle class="b" r="5.3" cx="189.4" cy="257.9"/>
<circle class="b" r="5.3" cx="142.1" cy="252.6"/>
<circle class="a" r="5.3" cx="165.9" cy="263.3"/>
<circle class="a" r="5.3" cx="248.3" cy="247.3"/>
<circle class="a" r="5.3" cx="227.2" cy="263.3"/>
<circle class="b" r="5.3" cx="225.9" cy="245.9"/>
<circle class="b" r="5.3" cx="142.5" cy="267.3"/>
<circle class="a" r="5.3" cx="148.3" cy="277.9"/>
<circle class="b" r="5.3" cx="172.1" cy="267.3"/>
<circle class="b" r="5.3" cx="205.7" cy="268.6"/>
<circle class="a" r="5.3" cx="256.6" cy="260.6"/>
<circle class="b" r="5.3" cx="238.2" cy="277.9"/>
<circle class="b" r="5.3" cx="193.7" cy="260.6"/>
<circle class="b" r="5.3" cx="241.0" cy="248.6"/>
<circle class="b" r="5.3" cx="168.3" cy="255.3"/>
<circle class="a" r="5.3" cx="204.9" cy="249.9"/>
<circle class="a" r="5.3" cx="168.7" cy="277.9"/>
<circle class="a" r="5.3" cx="176.6" cy="260.6"/>
<circle class="b" r="5.3" cx="165.3" cy="263.3"/>
<circle class="a" r="5.3" cx="211.4" cy="261.9"/>
<circle class="a" r="5.3" cx="227.5" cy="272.6"/>
<circle class="a" r="5.3" cx="162.8" cy="259.3"/>
<circle class="a" r="5.3" cx="164.7" cy="257.9"/>
<circle class="b" r="5.3" cx="178.8" cy="259.3"/>
<circle class="a" r="5.3" cx="205.1" cy="251.3"/>
<circle class="a" r="5.3" cx="162.1" cy="269.9"/>
<circle class="a" r="5.3" cx="186.6" cy="252.6"/>
<circle class="b" r="5.3" cx="248.2" cy="260.6"/>
<circle class="a" r="5.3" cx="185.5" cy="265.9"/>
<circle class="a" r="5.3" cx="258.7" cy="255.3"/>
<circle class="a" r="5.3" cx="197.4" cy="267.3"/>
<circle class="b" r="5.3" cx="216.1" cy="260.6"/>
<circle class="a" r="5.3" cx="196.4" cy="261.9"/>
<circle class="a" r="5.3" cx="197.2" cy="256.6"/>
<circle class="a" r="5.3" cx="143.7" cy="256.6"/>
<circle class="b" r="5.3" cx="223.6" cy="261.9"/>
<circle class="b" r="5.3" cx="213.9" cy="261.9"/>
<circle class="a" r="5.3" cx="139.7" cy="265.9"/>
<circle class="b" r="5.3" cx="249.9" cy="263.3"/>
<circle class="a" r="5.3" cx="170.6" cy="268.6"/>
<circle class="b" r="5.3" cx="227.2" cy="259.3"/>
<circle class="b" r="5.3" cx="183.9" cy="268.6"/>
<circle class="b" r="5.3" cx="198.8" cy="253.9"/>
<circle class="a" r="5.3" cx="146.5" cy="259.3"/>
<circle class="a" r="5.3" cx="171.4" cy="264.6"/>
<circle class="a" r="5.3" cx="174.0" cy="259.3"/>
<circle class="b" r="5.3" cx="227.6" cy="257.9"/>
<circle class="a" r="5.3" cx="147.5" cy="256.6"/>
<circle class="a" r="5.3" cx="245.4" cy="271.3"/>
<circle class="b" r="5.3" cx="235.9" cy="253.9"/>
<circle class="a" r="5.3" cx="197.8" cy="261.9"/>
<circle class="a" r="5.3" cx="158.4" cy="264.6"/>
<circle class="b" r="5.3" cx="225.2" cy="244.6"/>
<circle class="b" r="5.3" cx="225.1" cy="265.9"/>
<circle class="b" r="5.3" cx="219.7" cy="253.9"/>
<circle class="b" r="5.3" cx="219.7" cy="267.3"/>
<circle class="b" r="5.3" cx="212.0" cy="273.9"/>
<circle class="a" r="5.3" cx="128.9" cy="244.6"/>
<circle class="b" r="5.3" cx="247.6" cy="257.9"/>
<circle class="b" r="5.3" cx="212.8" cy="272.6"/>
<circle class="b" r="5.3" cx="170.3" cy="267.3"/>
<circle class="a" r="5.3" cx="196.4" cy="263.3"/>
<circle class="a" r="5.3" cx="132.9" cy="255.3"/>
<circle class="b" r="5.3" cx="248.3" cy="256.6"/>
<circle class="b" r="5.3" cx="241.3" cy="268.6"/>
<circle class="b" r="5.3" cx="217.3" cy="255.3"/>
<circle class="b" r="5.3" cx="252.4" cy="248.6"/>
<circle class="a" r="5.3" cx="190.7" cy="268.6"/>
<circle class="b" r="5.3" cx="228.3" cy="263.3"/>
<circle class="a" r="5.3" cx="252.3" cy="257.9"/>
<circle class="b" r="5.3" cx="119.1" cy="272.6"/>
<circle class="a" r="5.3" cx="199.2" cy="259.3"/>
<circle class="b" r="5.3" cx="180.8" cy="257.9"/>
<circle class="a" r="5.3" cx="188.7" cy="257.9"/>
<circle class="b" r="5.3" cx="221.0" cy="261.9"/>
<circle class="a" r="5.3" cx="194.3" cy="276.6"/>
<circle class="b" r="5.3" cx="213.8" cy="260.6"/>
<circle class="a" r="5.3" cx="182.7" cy="267.3"/>
<circle class="a" r="5.3" cx="199.6" cy="253.9"/>
<circle class="a" r="5.3" cx="147.3" cy="276.6"/>
<circle class="a" r="5.3" cx="125.5" cy="261.9"/>
<circle class="b" r="5.3" cx="157.8" cy="263.3"/>
<circle class="a" r="5.3" cx="184.8" cy="249.9"/>
<circle class="b" r="5.3" cx="247.8" cy="260.6"/>
<circle class="b" r="5.3" cx="233.3" cy="265.9"/>
<circle class="b" r="5.3" cx="191.4" cy="260.6"/>
<circle class="a" r="5.3" cx="229.0" cy="260.6"/>
<circle class="a" r="5.3" cx="121.4" cy="263.3"/>
<circle class="b" r="5.3" cx="214.1" cy="251.3"/>
<circle class="a" r="5.3" cx="179.6" cy="259.3"/>
<circle class="a" r="5.3" cx="196.6" cy="241.9"/>
<circle class="b" r="5.3" cx="160.8" cy="275.3"/>
<circle class="b" r="5.3" cx="212.5" cy="261.9"/>
<circle class="b" r="5.3" cx="220.4" cy="263.3"/>
<circle class="a" r="5.3" cx="228.4" cy="272.6"/>
<circle class="b" r="5.3" cx="258.1" cy="253.9"/>
<circle class="a" r="5.3" cx="229.7" cy="272.6"/>
<circle class="a" r="5.3" cx="190.0" cy="263.3"/>
<circle class="b" r="5.3" cx="243.6" cy="255.3"/>
<circle class="a" r="5.3" cx="151.4" cy="259.3"/>
<circle class="a" r="5.3" cx="156.2" cy="271.3"/>
<circle class="b" r="5.3" cx="247.0" cy="277.9"/>
<circle class="b" r="5.3" cx="210.3" cy="260.6"/>
<circle class="b" r="5.3" cx="237.2" cy="259.3"/>
<circle class="a" r="5.3" cx="154.5" cy="267.3"/>
<circle class="a" r="5.3" cx="183.0" cy="271.3"/>
<circle class="a" r="5.3" cx="196.3" cy="257.9"/>
<circle class="b" r="5.3" cx="176.3" cy="261.9"/>
<circle class="a" r="5.3" cx="258.1" cy="264.6"/>
<circle class="a" r="5.3" cx="179.2" cy="268.6"/>
<circle class="b" r="5.3" cx="210.7" cy="256.6"/>
<circle class="a" r="5.3" cx="185.1" cy="259.3"/>
<circle class="a" r="5.3" cx="197.5" cy="260.6"/>
<circle class="a" r="5.3" cx="199.2" cy="267.3"/>
<circle class="a" r="5.3" cx="222.6" cy="271.3"/>
<circle class="b" r="5.3" cx="146.2" cy="263.3"/>
<circle class="b" r="5.3" cx="214.2" cy="263.3"/>
<circle class="b" r="5.3" cx="203.7" cy="264.6"/>
<circle class="b" r="5.3" cx="151.6" cy="271.3"/>
<circle class="a" r="5.3" cx="228.7" cy="245.9"/>
<circle class="a" r="5.3" cx="212.8" cy="273.9"/>
<circle class="b" r="5.3" cx="184.6" cy="273.9"/>
<circle class="a" r="5.3" cx="204.5" cy="264.6"/>
<circle class="b" r="5.3" cx="242.6" cy="253.9"/>
<circle class="a" r="5.3" cx="239.4" cy="264.6"/>
<circle class="a" r="5.3" cx="208.4" cy="253.9"/>
<circle class="b" r="5.3" cx="243.2" cy="260.6"/>
<circle class="a" r="5.3" cx="203.4" cy="265.9"/>
<circle class="a" r="5.3" cx="228.7" cy="263.3"/>
<circle class="b" r="5.3" cx="228.6" cy="264.6"/>
<circle class="b" r="5.3" cx="192.8" cy="271.3"/>
<circle class="b" r="5.3" cx="214.7" cy="260.6"/>
<circle class="b" r="5.3" cx="203.3" cy="265.9"/>
<circle class="b" r="5.3" cx="212.2" cy="260.6"/>
<circle class="a" r="5.3" cx="211.8" cy="272.6"/>
<circle class="b" r="5.3" cx="251.2" cy="273.9"/>
<circle class="a" r="5.3" cx="143.3" cy="261.9"/>
<circle class="b" r="5.3" cx="235.6" cy="265.9"/>
<circle class="b" r="5.3" cx="226.2" cy="260.6"/>
<circle class="a" r="5.3" cx="197.4" cy="261.9"/>
<circle class="b" r="5.3" cx="258.6" cy="275.3"/>
<circle class="a" r="5.3" cx="213.6" cy="261.9"/>
<circle class="b" r="5.3" cx="212.9" cy="249.9"/>
<circle class="a" r="5.3" cx="175.6" cy="272.6"/>
<circle class="b" r="5.3" cx="134.5" cy="261.9"/>
<circle class="a" r="5.3" cx="149.7" cy="248.6"/>
<circle class="a" r="5.3" cx="155.4" cy="245.9"/>
<circle class="b" r="5.3" cx="254.3" cy="259.3"/>
<circle class="a" r="5.3" cx="135.4" cy="263.3"/>
<circle class="b" r="5.3" cx="238.0" cy="257.9"/>
<circle class="b" r="5.3" cx="257.1" cy="260.6"/>
<circle class="a" r="5.3" cx="185.7" cy="260.6"/>
<circle class="b" r="5.3" cx="214.2" cy="247.3"/>
<circle class="b" r="5.3" cx="237.8" cy="268.6"/>
<circle class="a" r="5.3" cx="134.8" cy="252.6"/>
<circle class="b" r="5.3" cx="196.6" cy="264.6"/>
<circle class="a" r="5.3" cx="187.5" cy="264.6"/>
<circle class="a" r="5.3" cx="222.1" cy="252.6"/>
<circle class="b" r="5.3" cx="208.6" cy="253.9"/>
<circle class="a" r="5.3" cx="142.8" cy="271.3"/>
<circle class="a" r="5.3" cx="234.5" cy="272.6"/>
<circle class="a" r="5.3" cx="253.6" cy="259.3"/>
<circle class="a" r="5.3" cx="183.4" cy="248.6"/>
<circle class="b" r="5.3" cx="257.5" cy="265.9"/>
<circle class="a" r="5.3" cx="255.7" cy="255.3"/>
<circle class="a" r="5.3" cx="134.3" cy="263.3"/>
<circle class="b" r="5.3" cx="255.6" cy="267.3"/>
<circle class="a" r="5.3" cx="185.7" cy="264.6"/>
<circle class="b" r="5.3" cx="193.6" cy="265.9"/>
<circle class="b" r="5.3" cx="189.7" cy="253.9"/>
<circle class="a" r="5.3" cx="173.1" cy="244.6"/>
<circle class="b" r="5.3" cx="236.5" cy="264.6"/>
<circle class="a" r="5.3" cx="169.6" cy="267.3"/>
<circle class="a" r="5.3" cx="147.0" cy="264.6"/>
<circle class="a" r="5.3" cx="178.9" cy="257.9"/>
<circle class="b" r="5.3" cx="198.0" cy="244.6"/>
<circle class="a" r="5.3" cx="211.1" cy="256.6"/>
<circle class="a" r="5.3" cx="210.5" cy="243.3"/>
<circle class="b" r="5.3" cx="198.5" cy="261.9"/>
<circle class="a" r="5.3" cx="199.2" cy="251.3"/>
<circle class="a" r="5.3" cx="203.1" cy="256.6"/>
<circle class="b" r="5.3" cx="142.9" cy="259.3"/>
<circle class="b" r="5.3" cx="178.2" cy="271.3"/>
<circle class="b" r="5.3" cx="186.9" cy="271.3"/>
<circle class="a" r="5.3" cx="139.1" cy="259.3"/>
<circle class="b" r="5.3" cx="195.6" cy="273.9"/>
<circle class="a" r="5.3" cx="180.6" cy="255.3"/>
<circle class="a" r="5.3" cx="203.3" cy="260.6"/>
<circle class="b" r="5.3" cx="192.3" cy="264.6"/>
<circle class="b" r="5.3" cx="186.4" cy="248.6"/>
<circle class="a" r="5.3" cx="215.1" cy="265.9"/>
<circle class="a" r="5.3" cx="248.1" cy="265.9"/>
<circle class="a" r="5.3" cx="195.1" cy="259.3"/>
<circle class="b" r="5.3" cx="187.9" cy="251.3"/>
<circle class="a" r="5.3" cx="198.7" cy="273.9"/>
<circle class="b" r="5.3" cx="180.3" cy="257.9"/>
<circle class="b" r="5.3" cx="196.7" cy="271.3"/>
<circle class="a" r="5.3" cx="159.3" cy="256.6"/>
<circle class="b" r="5.3" cx="227.9" cy="265.9"/>
<circle class="a" r="5.3" cx="225.6" cy="272.6"/>
<circle class="a" r="5.3" cx="221.8" cy="275.3"/>
<circle class="a" r="5.3" cx="210.6" cy="267.3"/>
<circle class="b" r="5.3" cx="257.8" cy="253.9"/>
<circle class="b" r="5.3" cx="259.0" cy="263.3"/>
<circle class="a" r="5.3" cx="124.9" cy="272.6"/>
<circle class="a" r="5.3" cx="220.1" cy="273.9"/>
<circle class="a" r="5.3" cx="187.0" cy="260.6"/>
<circle class="b" r="5.3" cx="222.9" cy="268.6"/>
<circle class="b" r="5.3" cx="146.7" cy="269.9"/>
<circle class="a" r="5.3" cx="203.7" cy="249.9"/>
<circle class="b" r="5.3" cx="152.3" cy="253.9"/>
<circle class="b" r="5.3" cx="182.0" cy="239.3"/>
<circle class="b" r="5.3" cx="199.5" cy="269.9"/>
<circle class="b" r="5.3" cx="144.8" cy="256.6"/>
<circle class="b" r="5.3" cx="218.6" cy="264.6"/>
<circle class="b" r="5.3" cx="246.3" cy="263.3"/>
<circle class="b" r="5.3" cx="205.6" cy="257.9"/>
<circle class="b" r="5.3" cx="243.8" cy="257.9"/>
<circle class="a" r="5.3" cx="167.8" cy="256.6"/>
<circle class="b" r="5.3" cx="221.4" cy="264.6"/>
<circle class="b" r="5.3" cx="197.8" cy="260.6"/>
<circle class="b" r="5.3" cx="177.1" cy="249.9"/>
<circle class="a" r="5.3" cx="208.3" cy="261.9"/>
<circle class="b" r="5.3" cx="250.5" cy="244.6"/>
<circle class="a" r="5.3" cx="213.8" cy="271.3"/>
<circle class="b" r="5.3" cx="229.8" cy="271.3"/>
<circle class="a" r="5.3" cx="150.2" cy="259.3"/>
<circle class="a" r="5.3" cx="211.0" cy="267.3"/>
<circle class="a" r="5.3" cx="240.6" cy="263.3"/>
<circle class="b" r="5.3" cx="144.4" cy="275.3"/>
<circle class="a" r="5.3" cx="203.5" cy="257.9"/>
<circle class="b" r="5.3" cx="228.0" cy="257.9"/>
<circle class="a" r="5.3" cx="171.1" cy="252.6"/>
<circle class="b" r="5.3" cx="251.4" cy="261.9"/>
<circle class="a" r="5.3" cx="214.9" cy="252.6"/>
<circle class="b" r="5.3" cx="153.8" cy="267.3"/>
<circle class="a" r="5.3" cx="246.8" cy="260.6"/>
<circle class="a" r="5.3" cx="153.5" cy="273.9"/>
<circle class="a" r="5.3" cx="241.5" cy="248.6"/>
<circle class="a" r="5.3" cx="258.3" cy="257.9"/>
<circle class="b" r="5.3" cx="136.4" cy="264.6"/>
<circle class="a" r="5.3" cx="190.7" cy="261.9"/>
<circle class="b" r="5.3" cx="214.1" cy="264.6"/>
<circle class="a" r="5.3" cx="181.0" cy="271.3"/>
<circle class="a" r="5.3" cx="248.2" cy="255.3"/>
<circle class="a" r="5.3" cx="202.9" cy="260.6"/>
<circle class="b" r="5.3" cx="230.5" cy="252.6"/>
<circle class="b" r="5.3" cx="222.7" cy="264.6"/>
<circle class="b" r="5.3" cx="212.7" cy="256.6"/>
<circle class="a" r="5.3" cx="152.3" cy="251.3"/>
<circle class="b" r="5.3" cx="247.7" cy="272.6"/>
<circle class="a" r="5.3" cx="157.2" cy="272.6"/>
<circle class="b" r="5.3" cx="229.5" cy="264.6"/>
<circle class="a" r="5.3" cx="223.7" cy="257.9"/>
<circle class="a" r="5.3" cx="230.9" cy="259.3"/>
<circle class="a" r="5.3" cx="137.1" cy="265.9"/>
<circle class="b" r="5.3" cx="252.1" cy="260.6"/>
<circle class="a" r="5.3" cx="225.2" cy="268.6"/>
<circle class="a" r="5.3" cx="131.0" cy="269.9"/>
<circle class="a" r="5.3" cx="240.2" cy="271.3"/>
<circle class="b" r="5.3" cx="214.5" cy="251.3"/>
<circle class="b" r="5.3" cx="219.7" cy="271.3"/>
<circle class="a" r="5.3" cx="168.8" cy="243.3"/>
<circle class="b" r="5.3" cx="182.9" cy="267.3"/>
<circle class="b" r="5.3" cx="214.3" cy="259.3"/>
<circle class="a" r="5.3" cx="223.3" cy="255.3"/>
<circle class="b" r="5.3" cx="214.2" cy="267.3"/>
<circle class="b" r="5.3" cx="123.7" cy="251.3"/>
<circle class="a" r="5.3" cx="200.9" cy="279.3"/>
<circle class="a" r="5.3" cx="200.6" cy="249.9"/>
<circle class="b" r="5.3" cx="217.1" cy="251.3"/>
<circle class="a" r="5.3" cx="246.5" cy="255.3"/>
<circle class="b" r="5.3" cx="251.1" cy="263.3"/>
<circle class="b" r="5.3" cx="172.7" cy="265.9"/>
<circle class="b" r="5.3" cx="234.1" cy="265.9"/>
<circle class="b" r="5.3" cx="247.0" cy="257.9"/>
<circle class="a" r="5.3" cx="253.4" cy="276.6"/>
<circle class="a" r="5.3" cx="249.5" cy="245.9"/>
<circle class="a" r="5.3" cx="161.7" cy="249.9"/>
<circle class="b" r="5.3" cx="158.5" cy="264.6"/>
<circle class="b" r="5.3" cx="191.6" cy="273.9"/>
<circle class="b" r="5.3" cx="219.0" cy="247.3"/>
<circle class="a" r="5.3" cx="226.3" cy="269.9"/>
<circle class="a" r="5.3" cx="168.9" cy="259.3"/>
<circle class="a" r="5.3" cx="150.7" cy="251.3"/>
<circle class="a" r="5.3" cx="217.1" cy="272.6"/>
<circle class="b" r="5.3" cx="218.6" cy="265.9"/>
<circle class="b" r="5.3" cx="157.6" cy="248.6"/>
<circle class="a" r="5.3" cx="135.6" cy="268.6"/>
<circle class="a" r="5.3" cx="189.6" cy="275.3"/>
<circle class="b" r="5.3" cx="245.1" cy="268.6"/>
<circle class="a" r="5.3" cx="218.2" cy="264.6"/>
<circle class="b" r="5.3" cx="223.5" cy="267.3"/>
<circle class="a" r="5.3" cx="168.2" cy="255.3"/>
<circle class="b" r="5.3" cx="147.8" cy="264.6"/>
<circle class="b" r="5.3" cx="185.5" cy="256.6"/>
<circle class="a" r="5.3" cx="187.7" cy="255.3"/>
<circle class="b" r="5.3" cx="139.6" cy="272.6"/>
<circle class="b" r="5.3" cx="178.2" cy="257.9"/>
<circle class="a" r="5.3" cx="192.0" cy="253.9"/>
<circle class="b" r="5.3" cx="206.0" cy="261.9"/>
<circle class="a" r="5.3" cx="156.5" cy="260.6"/>
<circle class="a" r="5.3" cx="153.0" cy="252.6"/>
<circle class="a" r="5.3" cx="209.0" cy="269.9"/>
<circle class="b" r="5.3" cx="222.4" cy="267.3"/>
<circle class="a" r="5.3" cx="235.3" cy="259.3"/>
<circle class="b" r="5.3" cx="137.0" cy="264.6"/>
<circle class="a" r="5.3" cx="250.5" cy="261.9"/>
<circle class="b" r="5.3" cx="199.4" cy="259.3"/>
<circle class="a" r="5.3" cx="192.2" cy="264.6"/>
<circle class="b" r="5.3" cx="194.7" cy="276.6"/>
<circle class="b" r="5.3" cx="187.9" cy="265.9"/>
<circle class="a" r="5.3" cx="196.0" cy="271.3"/>
<circle class="b" r="5.3" cx="252.7" cy="255.3"/>
<circle class="a" r="5.3" cx="235.8" cy="253.9"/>
<circle class="a" r="5.3" cx="234.6" cy="244.6"/>
<circle class="a" r="5.3" cx="155.0" cy="268.6"/>
<circle class="b" r="5.3" cx="149.8" cy="245.9"/>
<circle class="a" r="5.3" cx="253.1" cy="285.9"/>
<circle class="b" r="5.3" cx="237.7" cy="257.9"/>
<circle class="b" r="5.3" cx="238.2" cy="268.6"/>
<circle class="b" r="5.3" cx="249.3" cy="253.9"/>
<circle class="a" r="5.3" cx="174.8" cy="275.3"/>
<circle class="b" r="5.3" cx="187.4" cy="269.9"/>
<circle class="a" r="5.3" cx="186.8" cy="267.3"/>
<circle class="b" r="5.3" cx="152.9" cy="276.6"/>
<circle class="b" r="5.3" cx="175.4" cy="256.6"/>
<circle class="b" r="5.3" cx="193.5" cy="267.3"/>
<circle class="a" r="5.3" cx="257.4" cy="267.3"/>
<circle class="b" r="5.3" cx="188.9" cy="267.3"/>
<circle class="b" r="5.3" cx="189.5" cy="257.9"/>
<circle class="a" r="5.3" cx="232.5" cy="280.6"/>
<circle class="a" r="5.3" cx="249.1" cy="265.9"/>
<circle class="b" r="5.3" cx="165.4" cy="269.9"/>
<circle class="a" r="5.3" cx="182.4" cy="247.3"/>
<circle class="b" r="5.3" cx="257.3" cy="261.9"/>
<circle class="b" r="5.3" cx="220.0" cy="257.9"/>
<circle class="a" r="5.3" cx="187.4" cy="260.6"/>
<circle class="a" r="5.3" cx="132.4" cy="271.3"/>
<circle class="a" r="5.3" cx="148.4" cy="255.3"/>
<circle class="b" r="5.3" cx="235.8" cy="267.3"/>
<circle class="b" r="5.3" cx="253.9" cy="267.3"/>
<circle class="a" r="5.3" cx="202.1" cy="248.6"/>
<circle class="b" r="5.3" cx="192.8" cy="277.9"/>
<circle class="b" r="5.3" cx="229.3" cy="264.6"/>
<circle class="b" r="5.3" cx="169.9" cy="261.9"/>
<circle class="b" r="5.3" cx="196.0" cy="253.9"/>
<circle class="b" r="5.3" cx="244.5" cy="272.6"/>
<circle class="a" r="5.3" cx="191.5" cy="244.6"/>
<circle class="b" r="5.3" cx="233.5" cy="264.6"/>
<circle class="a" r="5.3" cx="216.3" cy="271.3"/>
<circle class="a" r="5.3" cx="229.9" cy="265.9"/>
<circle class="b" r="5.3" cx="226.0" cy="260.6"/>
<circle class="b" r="5.3" cx="246.5" cy="260.6"/>
<circle class="a" r="5.3" cx="128.8" cy="244.6"/>
<circle class="b" r="5.3" cx="227.8" cy="269.9"/>
<circle class="b" r="5.3" cx="159.4" cy="259.3"/>
<circle class="b" r="5.3" cx="220.9" cy="252.6"/>
<circle class="a" r="5.3" cx="118.4" cy="267.3"/>
<circle class="b" r="5.3" cx="173.2" cy="243.3"/>
<circle class="b" r="5.3" cx="226.6" cy="264.6"/>
<circle class="a" r="5.3" cx="231.1" cy="263.3"/>
<circle class="a" r="5.3" cx="122.8" cy="277.9"/>
<circle class="a" r="5.3" cx="194.2" cy="259.3"/>
<circle class="a" r="5.3" cx="129.1" cy="264.6"/>
<circle class="b" r="5.3" cx="213.9" cy="261.9"/>
<circle class="a" r="5.3" cx="184.7" cy="273.9"/>
<circle class="b" r="5.3" cx="227.3" cy="257.9"/>
<circle class="a" r="5.3" cx="159.9" cy="253.9"/>
<circle class="b" r="5.3" cx="230.4" cy="267.3"/>
<circle class="b" r="5.3" cx="193.3" cy="269.9"/>
<circle class="a" r="5.3" cx="207.5" cy="273.9"/>
<circle class="b" r="5.3" cx="254.1" cy="261.9"/>
<circle class="b" r="5.3" cx="237.3" cy="263.3"/>
<circle class="b" r="5.3" cx="257.6" cy="277.9"/>
<circle class="a" r="5.3" cx="176.0" cy="273.9"/>
<circle class="a" r="5.3" cx="137.0" cy="249.9"/>
<circle class="a" r="5.3" cx="173.5" cy="273.9"/>
<circle class="b" r="5.3" cx="232.7" cy="281.9"/>
<circle class="b" r="5.3" cx="173.6" cy="269.9"/>
<circle class="a" r="5.3" cx="203.2" cy="271.3"/>
<circle class="a" r="5.3" cx="193.0" cy="267.3"/>
<circle class="b" r="5.3" cx="160.8" cy="263.3"/>
<circle class="a" r="5.3" cx="184.6" cy="251.3"/>
<circle class="a" r="5.3" cx="210.2" cy="268.6"/>
<circle class="a" r="5.3" cx="164.9" cy="259.3"/>
<circle class="b" r="5.3" cx="248.0" cy="259.3"/>
<circle class="b" r="5.3" cx="234.5" cy="268.6"/>
<circle class="a" r="5.3" cx="156.4" cy="259.3"/>
<circle class="b" r="5.3" cx="195.0" cy="263.3"/>
<circle class="a" r="5.3" cx="214.6" cy="259.3"/>
<circle class="b" r="5.3" cx="196.4" cy="259.3"/>
<circle class="a" r="5.3" cx="139.1" cy="269.9"/>
<circle class="b" r="5.3" cx="207.2" cy="257.9"/>
<circle class="a" r="5.3" cx="163.0" cy="255.3"/>
<circle class="b" r="5.3" cx="141.6" cy="256.6"/>
<circle class="b" r="5.3" cx="146.4" cy="255.3"/>
<circle class="b" r="5.3" cx="204.8" cy="253.9"/>
<circle class="b" r="5.3" cx="210.4" cy="244.6"/>
<circle class="a" r="5.3" cx="185.9" cy="272.6"/>
<circle class="a" r="5.3" cx="140.0" cy="251.3"/>
<circle class="b" r="5.3" cx="145.4" cy="268.6"/>
<circle class="b" r="5.3" cx="142.3" cy="277.9"/>
<circle class="b" r="5.3" cx="164.7" cy="259.3"/>
<circle class="a" r="5.3" cx="130.9" cy="271.3"/>
<circle class="b" r="5.3" cx="224.0" cy="265.9"/>
<circle class="a" r="5.3" cx="179.4" cy="265.9"/>
<circle class="a" r="5.3" cx="166.6" cy="276.6"/>
<circle class="b" r="5.3" cx="149.0" cy="257.9"/>
<circle class="a" r="5.3" cx="228.6" cy="273.9"/>
<circle class="a" r="5.3" cx="184.6" cy="255.3"/>
<circle class="b" r="5.3" cx="254.8" cy="243.3"/>
<circle class="a" r="5.3" cx="192.8" cy="269.9"/>
<circle class="a" r="5.3" cx="150.7" cy="261.9"/>
<circle class="a" r="5.3" cx="162.5" cy="279.3"/>
<circle class="b" r="5.3" cx="230.6" cy="253.9"/>
<circle class="a" r="5.3" cx="181.4" cy="260.6"/>
<circle class="b" r="5.3" cx="147.8" cy="257.9"/>
<circle class="b" r="5.3" cx="195.8" cy="275.3"/>
<circle class="b" r="5.3" cx="204.9" cy="285.9"/>
<circle class="b" r="5.3" cx="199.8" cy="248.6"/>
<circle class="a" r="5.3" cx="188.4" cy="261.9"/>
<circle class="a" r="5.3" cx="209.0" cy="260.6"/>
<circle class="b" r="5.3" cx="143.0" cy="245.9"/>
<circle class="a" r="5.3" cx="188.9" cy="264.6"/>
<circle class="a" r="5.3" cx="121.0" cy="271.3"/>
<circle class="b" r="5.3" cx="221.2" cy="260.6"/>
<circle class="a" r="5.3" cx="212.5" cy="253.9"/>
<circle class="b" r="5.3" cx="171.0" cy="264.6"/>
<circle class="b" r="5.3" cx="239.4" cy="240.6"/>
<circle class="b" r="5.3" cx="197.3" cy="271.3"/>
<circle class="a" r="5.3" cx="221.6" cy="273.9"/>
<circle class="a" r="5.3" cx="200.0" cy="267.3"/>
<circle class="a" r="5.3" cx="148.5" cy="265.9"/>
<circle class="b" r="5.3" cx="144.6" cy="260.6"/>
<circle class="b" r="5.3" cx="209.5" cy="267.3"/>
<circle class="a" r="5.3" cx="223.5" cy="247.3"/>
<circle class="b" r="5.3" cx="219.0" cy="269.9"/>
<circle class="a" r="5.3" cx="166.9" cy="257.9"/>
<circle class="b" r="5.3" cx="239.1" cy="247.3"/>
<circle class="b" r="5.3" cx="183.1" cy="263.3"/>
<circle class="a" r="5.3" cx="238.2" cy="257.9"/>
<circle class="a" r="5.3" cx="126.0" cy="255.3"/>
<circle class="b" r="5.3" cx="230.8" cy="277.9"/>
<circle class="a" r="5.3" cx="183.4" cy="265.9"/>
<circle class="a" r="5.3" cx="239.6" cy="272.6"/>
<circle class="b" r="5.3" cx="231.6" cy="280.6"/>
<circle class="b" r="5.3" cx="232.0" cy="256.6"/>
<circle class="a" r="5.3" cx="221.7" cy="268.6"/>
<circle class="a" r="5.3" cx="191.1" cy="257.9"/>
<circle class="a" r="5.3" cx="208.5" cy="249.9"/>
<circle class="b" r="5.3" cx="218.1" cy="272.6"/>
<circle class="b" r="5.3" cx="217.9" cy="257.9"/>
<circle class="b" r="5.3" cx="162.9" cy="253.9"/>
<circle class="b" r="5.3" cx="234.5" cy="264.6"/>
<circle class="a" r="5.3" cx="195.4" cy="240.6"/>
<circle class="a" r="5.3" cx="178.4" cy="260.6"/>
<circle class="b" r="5.3" cx="192.3" cy="273.9"/>
<circle class="a" r="5.3" cx="212.9" cy="247.3"/>
<circle class="a" r="5.3" cx="197.4" cy="244.6"/>
<circle class="b" r="5.3" cx="188.1" cy="264.6"/>
<circle class="a" r="5.3" cx="183.4" cy="257.9"/>
<circle class="b" r="5.3" cx="222.1" cy="248.6"/>
<circle class="a" r="5.3" cx="189.0" cy="268.6"/>
<circle class="a" r="5.3" cx="253.0" cy="277.9"/>
<circle class="b" r="5.3" cx="128.4" cy="252.6"/>
<circle class="b" r="5.3" cx="136.6" cy="259.3"/>
<circle class="a" r="5.3" cx="145.1" cy="268.6"/>
<circle class="a" r="5.3" cx="192.7" cy="255.3"/>
<circle class="a" r="5.3" cx="176.4" cy="240.6"/>
<circle class="b" r="5.3" cx="147.2" cy="269.9"/>
<circle class="a" r="5.3" cx="149.1" cy="253.9"/>
<circle class="a" r="5.3" cx="147.6" cy="272.6"/>
<circle class="b" r="5.3" cx="245.5" cy="268.6"/>
<circle class="b" r="5.3" cx="231.8" cy="267.3"/>
<circle class="b" r="5.3" cx="171.4" cy="264.6"/>
<circle class="b" r="5.3" cx="185.3" cy="268.6"/>
<circle class="a" r="5.3" cx="124.3" cy="251.3"/>
<circle class="a" r="5.3" cx="190.9" cy="245.9"/>
<circle class="b" r="5.3" cx="233.5" cy="251.3"/>
<circle class="b" r="5.3" cx="233.3" cy="275.3"/>
<circle class="a" r="5.3" cx="167.1" cy="271.3"/>
<circle class="a" r="5.3" cx="168.6" cy="244.6"/>
<circle class="a" r="5.3" cx="233.2" cy="260.6"/>
<circle class="b" r="5.3" cx="169.1" cy="267.3"/>
<circle class="b" r="5.3" cx="227.9" cy="268.6"/>
<circle class="b" r="5.3" cx="247.5" cy="260.6"/>
<circle class="b" r="5.3" cx="160.9" cy="272.6"/>
<circle class="b" r="5.3" cx="139.2" cy="273.9"/>
<circle class="a" r="5.3" cx="146.1" cy="269.9"/>
<circle class="b" r="5.3" cx="237.0" cy="265.9"/>
<circle class="a" r="5.3" cx="239.1" cy="257.9"/>
<circle class="a" r="5.3" cx="170.3" cy="249.9"/>
<circle class="a" r="5.3" cx="230.7" cy="268.6"/>
<circle class="b" r="5.3" cx="175.0" cy="249.9"/>
<circle class="a" r="5.3" cx="221.7" cy="272.6"/>
<circle class="a" r="5.3" cx="190.8" cy="252.6"/>
<circle class="b" r="5.3" cx="227.3" cy="263.3"/>
<circle class="a" r="5.3" cx="219.3" cy="255.3"/>
<circle class="a" r="5.3" cx="225.5" cy="251.3"/>
<circle class="a" r="5.3" cx="217.3" cy="257.9"/>
<circle class="b" r="5.3" cx="166.4" cy="261.9"/>
<circle class="a" r="5.3" cx="138.1" cy="240.6"/>
<circle class="b" r="5.3" cx="153.8" cy="256.6"/>
<circle class="b" r="5.3" cx="227.4" cy="255.3"/>
<circle class="b" r="5.3" cx="177.4" cy="259.3"/>
<circle class="a" r="5.3" cx="237.7" cy="265.9"/>
<circle class="b" r="5.3" cx="232.8" cy="257.9"/>
<circle class="b" r="5.3" cx="190.7" cy="268.6"/>
<circle class="b" r="5.3" cx="212.2" cy="265.9"/>
<circle class="a" r="5.3" cx="149.5" cy="256.6"/>
<circle class="b" r="5.3" cx="199.0" cy="252.6"/>
<circle class="a" r="5.3" cx="220.2" cy="248.6"/>
<circle class="b" r="5.3" cx="232.5" cy="253.9"/>
<circle class="b" r="5.3" cx="168.6" cy="261.9"/>
<circle class="a" r="5.3" cx="181.4" cy="264.6"/>
<circle class="b" r="5.3" cx="128.2" cy="257.9"/>
<circle class="a" r="5.3" cx="192.1" cy="272.6"/>
<circle class="a" r="5.3" cx="157.0" cy="256.6"/>
<circle class="b" r="5.3" cx="214.6" cy="251.3"/>
<circle class="b" r="5.3" cx="132.7" cy="268.6"/>
<circle class="a" r="5.3" cx="123.8" cy="255.3"/>
<circle class="b" r="5.3" cx="148.1" cy="257.9"/>
<circle class="a" r="5.3" cx="133.9" cy="244.6"/>
<circle class="b" r="5.3" cx="176.6" cy="273.9"/>
<circle class="a" r="5.3" cx="200.6" cy="261.9"/>
<circle class="a" r="5.3" cx="146.7" cy="272.6"/>
<circle class="a" r="5.3" cx="122.2" cy="272.6"/>
<circle class="b" r="5.3" cx="251.1" cy="271.3"/>
<circle class="b" r="5.3" cx="203.4" cy="255.3"/>
<circle class="a" r="5.3" cx="146.2" cy="259.3"/>
<circle class="b" r="5.3" cx="232.3" cy="257.9"/>
<circle class="b" r="5.3" cx="151.8" cy="255.3"/>
<circle class="b" r="5.3" cx="211.9" cy="251.3"/>
<circle class="a" r="5.3" cx="196.2" cy="276.6"/>
<circle class="b" r="5.3" cx="192.4" cy="264.6"/>
<circle class="a" r="5.3" cx="229.6" cy="255.3"/>
<circle class="a" r="5.3" cx="229.3" cy="265.9"/>
<circle class="a" r="5.3" cx="218.7" cy="261.9"/>
<circle class="a" r="5.3" cx="186.5" cy="261.9"/>
<circle class="b" r="5.3" cx="168.8" cy="273.9"/>
<circle class="b" r="5.3" cx="211.8" cy="248.6"/>
<circle class="a" r="5.3" cx="196.0" cy="261.9"/>
<circle class="a" r="5.3" cx="212.7" cy="268.6"/>
<circle class="b" r="5.3" cx="211.2" cy="260.6"/>
<circle class="b" r="5.3" cx="211.6" cy="256.6"/>
<circle class="b" r="5.3" cx="205.5" cy="256.6"/>
<circle class="a" r="5.3" cx="200.6" cy="265.9"/>
<circle class="b" r="5.3" cx="224.5" cy="277.9"/>
<circle class="b" r="5.3" cx="167.3" cy="257.9"/>
<circle class="b" r="5.3" cx="232.3" cy="265.9"/>
<circle class="a" r="5.3" cx="125.3" cy="260.6"/>
<circle class="b" r="5.3" cx="228.7" cy="253.9"/>
<circle class="b" r="5.3" cx="142.9" cy="268.6"/>
<circle class="a" r="5.3" cx="130.8" cy="251.3"/>
<circle class="b" r="5.3" cx="176.5" cy="260.6"/>
<circle class="a" r="5.3" cx="249.3" cy="264.6"/>
<circle class="a" r="5.3" cx="154.7" cy="273.9"/>
<circle class="b" r="5.3" cx="238.8" cy="267.3"/>
<circle class="a" r="5.3" cx="158.3" cy="265.9"/>
<circle class="a" r="5.3" cx="208.0" cy="263.3"/>
<circle class="a" r="5.3" cx="241.1" cy="257.9"/>
<circle class="b" r="5.3" cx="228.5" cy="245.9"/>
<circle class="a" r="5.3" cx="238.8" cy="261.9"/>
<circle class="a" r="5.3" cx="232.1" cy="271.3"/>
<circle class="a" r="5.3" cx="152.2" cy="261.9"/>
<circle class="a" r="5.3" cx="222.6" cy="264.6"/>
<circle class="b" r="5.3" cx="172.7" cy="259.3"/>
<circle class="a" r="5.3" cx="239.4" cy="263.3"/>
<circle class="b" r="5.3" cx="153.8" cy="275.3"/>
<circle class="b" r="5.3" cx="183.6" cy="275.3"/>
<circle class="b" r="5.3" cx="179.3" cy="267.3"/>
<circle class="a" r="5.3" cx="249.1" cy="257.9"/>
<circle class="a" r="5.3" cx="149.2" cy="263.3"/>
<circle class="b" r="5.3" cx="238.2" cy="265.9"/>
<circle class="b" r="5.3" cx="191.1" cy="239.3"/>
<circle class="b" r="5.3" cx="199.7" cy="265.9"/>
<circle class="b" r="5.3" cx="240.2" cy="251.3"/>
<circle class="a" r="5.3" cx="201.7" cy="256.6"/>
<circle class="b" r="5.3" cx="194.8" cy="285.9"/>
<circle class="a" r="5.3" cx="224.3" cy="257.9"/>
<circle class="b" r="5.3" cx="188.2" cy="261.9"/>
<circle class="a" r="5.3" cx="224.4" cy="257.9"/>
<circle class="b" r="5.3" cx="204.3" cy="277.9"/>
<circle class="a" r="5.3" cx="141.6" cy="263.3"/>
<circle class="a" r="5.3" cx="230.4" cy="257.9"/>
<circle class="a" r="5.3" cx="199.5" cy="256.6"/>
<circle class="b" r="5.3" cx="156.3" cy="252.6"/>
<circle class="a" r="5.3" cx="139.4" cy="268.6"/>
<circle class="a" r="5.3" cx="134.0" cy="279.3"/>
<circle class="a" r="5.3" cx="152.2" cy="260.6"/>
<circle class="b" r="5.3" cx="221.9" cy="253.9"/>
<circle class="a" r="5.3" cx="195.0" cy="252.6"/>
<circle class="b" r="5.3" cx="193.1" cy="259.3"/>
<circle class="b" r="5.3" cx="256.0" cy="239.3"/>
<circle class="b" r="5.3" cx="207.3" cy="271.3"/>
<circle class="b" r="5.3" cx="149.9" cy="264.6"/>
<circle class="a" r="5.3" cx="208.2" cy="253.9"/>
<circle class="b" r="5.3" cx="199.1" cy="257.9"/>
<circle class="b" r="5.3" cx="231.4" cy="253.9"/>
<circle class="a" r="5.3" cx="130.4" cy="259.3"/>
<circle class="a" r="5.3" cx="239.4" cy="249.9"/>
<circle class="b" r="5.3" cx="197.2" cy="257.9"/>
<circle class="a" r="5.3" cx="214.4" cy="273.9"/>
<circle class="b" r="5.3" cx="200.0" cy="251.3"/>
<circle class="b" r="5.3" cx="212.7" cy="261.9"/>
<circle class="b" r="5.3" cx="230.1" cy="256.6"/>
<circle class="b" r="5.3" cx="256.8" cy="260.6"/>
<circle class="b" r="5.3" cx="247.2" cy="260.6"/>
<circle class="a" r="5.3" cx="236.6" cy="268.6"/>
<circle class="a" r="5.3" cx="163.3" cy="261.9"/>
<circle class="a" r="5.3" cx="120.6" cy="259.3"/>
<circle class="a" r="5.3" cx="121.7" cy="260.6"/>
<circle class="a" r="5.3" cx="169.2" cy="259.3"/>
<circle class="b" r="5.3" cx="246.5" cy="276.6"/>
<circle class="b" r="5.3" cx="174.5" cy="247.3"/>
<circle class="a" r="5.3" cx="179.7" cy="268.6"/>
<circle class="b" r="5.3" cx="180.3" cy="260.6"/>
<circle class="b" r="5.3" cx="228.5" cy="271.3"/>
<circle class="a" r="5.3" cx="202.2" cy="261.9"/>
<circle class="a" r="5.3" cx="148.4" cy="259.3"/>
<circle class="b" r="5.3" cx="222.9" cy="240.6"/>
<circle class="b" r="5.3" cx="249.2" cy="265.9"/>
<circle class="a" r="5.3" cx="192.1" cy="273.9"/>
<circle class="a" r="5.3" cx="183.5" cy="273.9"/>
<circle class="a" r="5.3" cx="206.1" cy="268.6"/>
<circle class="b" r="5.3" cx="178.6" cy="267.3"/>
<circle class="a" r="5.3" cx="184.7" cy="253.9"/>
<circle class="a" r="5.3" cx="138.6" cy="257.9"/>
<circle class="a" r="5.3" cx="247.8" cy="263.3"/>
<circle class="a" r="5.3" cx="148.6" cy="263.3"/>
<circle class="a" r="5.3" cx="131.1" cy="264.6"/>
<circle class="b" r="5.3" cx="212.7" cy="264.6"/>
<circle class="a" r="5.3" cx="121.4" cy="239.3"/>
<circle class="a" r="5.3" cx="179.2" cy="261.9"/>
<circle class="b" r="5.3" cx="216.3" cy="260.6"/>
<circle class="b" r="5.3" cx="251.1" cy="268.6"/>
<circle class="a" r="5.3" cx="229.2" cy="257.9"/>
<circle class="a" r="5.3" cx="131.9" cy="249.9"/>
<circle class="b" r="5.3" cx="217.7" cy="256.6"/>
<circle class="a" r="5.3" cx="152.1" cy="248.6"/>
<circle class="b" r="5.3" cx="222.4" cy="248.6"/>
<circle class="b" r="5.3" cx="171.4" cy="256.6"/>
<circle class="a" r="5.3" cx="190.3" cy="247.3"/>
<circle class="b" r="5.3" cx="136.5" cy="269.9"/>
<circle class="a" r="5.3" cx="202.4" cy="252.6"/>
<circle class="b" r="5.3" cx="244.7" cy="256.6"/>
<circle class="a" r="5.3" cx="210.2" cy="260.6"/>
<circle class="b" r="5.3" cx="214.7" cy="244.6"/>
<circle class="a" r="5.3" cx="150.8" cy="259.3"/>
<circle class="b" r="5.3" cx="250.2" cy="265.9"/>
<circle class="a" r="5.3" cx="184.0" cy="273.9"/>
<circle class="a" r="5.3" cx="168.8" cy="264.6"/>
<circle class="a" r="5.3" cx="190.4" cy="265.9"/>
<circle class="a" r="5.3" cx="237.8" cy="256.6"/>
<circle class="b" r="5.3" cx="247.4" cy="277.9"/>
<circle class="b" r="5.3" cx="237.7" cy="268.6"/>
<circle class="a" r="5.3" cx="213.5" cy="247.3"/>
<circle class="a" r="5.3" cx="168.7" cy="253.9"/>
<circle class="b" r="5.3" cx="163.9" cy="253.9"/>
<circle class="b" r="5.3" cx="150.4" cy="268.6"/>
<circle class="a" r="5.3" cx="213.3" cy="269.9"/>
<circle class="a" r="5.3" cx="188.5" cy="267.3"/>
<circle class="b" r="5.3" cx="238.1" cy="269.9"/>
<circle class="a" r="5.3" cx="240.1" cy="263.3"/>
<circle class="a" r="5.3" cx="154.9" cy="249.9"/>
<circle class="a" r="5.3" cx="172.8" cy="268.6"/>
<circle class="b" r="5.3" cx="224.4" cy="281.9"/>
<circle class="a" r="5.3" cx="228.5" cy="257.9"/>
<circle class="a" r="5.3" cx="242.0" cy="260.6"/>
<circle class="b" r="5.3" cx="195.3" cy="267.3"/>
<circle class="b" r="5.3" cx="126.9" cy="256.6"/>
<circle class="b" r="5.3" cx="175.5" cy="259.3"/>
<circle class="b" r="5.3" cx="254.8" cy="256.6"/>
<circle class="b" r="5.3" cx="135.2" cy="247.3"/>
<circle class="b" r="5.3" cx="188.9" cy="256.6"/>
<circle class="b" r="5.3" cx="217.3" cy="265.9"/>
<circle class="b" r="5.3" cx="189.5" cy="268.6"/>
<circle class="a" r="5.3" cx="209.7" cy="249.9"/>
<circle class="b" r="5.3" cx="197.2" cy="253.9"/>
<circle class="a" r="5.3" cx="178.5" cy="260.6"/>
<circle class="a" r="5.3" cx="184.4" cy="253.9"/>
<circle class="b" r="5.3" cx="218.3" cy="264.6"/>
<circle class="b" r="5.3" cx="236.5" cy="255.3"/>
<circle class="a" r="5.3" cx="177.2" cy="248.6"/>
<circle class="b" r="5.3" cx="231.8" cy="261.9"/>
<circle class="a" r="5.3" cx="151.6" cy="261.9"/>
<circle class="b" r="5.3" cx="238.5" cy="268.6"/>
<circle class="b" r="5.3" cx="235.3" cy="269.9"/>
<circle class="a" r="5.3" cx="130.4" cy="280.6"/>
<circle class="a" r="5.3" cx="124.0" cy="267.3"/>
<circle class="a" r="5.3" cx="203.2" cy="265.9"/>
<circle class="b" r="5.3" cx="216.8" cy="261.9"/>
<circle class="b" r="5.3" cx="199.5" cy="259.3"/>
<circle class="a" r="5.3" cx="242.2" cy="267.3"/>
<circle class="a" r="5.3" cx="221.9" cy="276.6"/>
<circle class="a" r="5.3" cx="217.4" cy="264.6"/>
<circle class="b" r="5.3" cx="206.2" cy="249.9"/>
<circle class="b" r="5.3" cx="188.9" cy="260.6"/>
<circle class="a" r="5.3" cx="214.6" cy="264.6"/>
<circle class="a" r="5.3" cx="150.4" cy="268.6"/>
<circle class="b" r="5.3" cx="158.0" cy="263.3"/>
<circle class="a" r="5.3" cx="123.7" cy="264.6"/>
<circle class="a" r="5.3" cx="161.6" cy="269.9"/>
<circle class="b" r="5.3" cx="144.3" cy="260.6"/>
<circle class="a" r="5.3" cx="137.4" cy="257.9"/>
<circle class="a" r="5.3" cx="210.6" cy="265.9"/>
<circle class="a" r="5.3" cx="145.2" cy="253.9"/>
<circle class="b" r="5.3" cx="229.9" cy="264.6"/>
<circle class="a" r="5.3" cx="161.6" cy="264.6"/>
<circle class="a" r="5.3" cx="150.7" cy="267.3"/>
<circle class="a" r="5.3" cx="150.2" cy="271.3"/>
<circle class="b" r="5.3" cx="185.7" cy="257.9"/>
<circle class="a" r="5.3" cx="121.9" cy="243.3"/>
<circle class="b" r="5.3" cx="177.0" cy="269.9"/>
<circle class="a" r="5.3" cx="180.6" cy="279.3"/>
<circle class="a" r="5.3" cx="126.0" cy="255.3"/>
<circle class="b" r="5.3" cx="209.4" cy="276.6"/>
<circle class="b" r="5.3" cx="253.9" cy="276.6"/>
<circle class="b" r="5.3" cx="204.5" cy="256.6"/>
<circle class="a" r="5.3" cx="204.8" cy="264.6"/>
<circle class="a" r="5.3" cx="159.5" cy="268.6"/>
<circle class="a" r="5.3" cx="181.3" cy="272.6"/>
<circle class="a" r="5.3" cx="144.5" cy="257.9"/>
<circle class="b" r="5.3" cx="230.6" cy="251.3"/>
<circle class="b" r="5.3" cx="196.8" cy="268.6"/>
<circle class="b" r="5.3" cx="212.6" cy="257.9"/>
<circle class="b" r="5.3" cx="209.4" cy="269.9"/>
<circle class="b" r="5.3" cx="180.1" cy="261.9"/>
<circle class="a" r="5.3" cx="199.1" cy="277.9"/>
<circle class="a" r="5.3" cx="140.1" cy="271.3"/>
<circle class="a" r="5.3" cx="245.7" cy="249.9"/>
<circle class="b" r="5.3" cx="227.6" cy="263.3"/>
<circle class="b" r="5.3" cx="209.5" cy="243.3"/>
<circle class="a" r="5.3" cx="140.7" cy="261.9"/>
<circle class="a" r="5.3" cx="255.4" cy="264.6"/>
<circle class="b" r="5.3" cx="255.8" cy="243.3"/>
<circle class="a" r="5.3" cx="124.1" cy="264.6"/>
<circle class="a" r="5.3" cx="231.7" cy="267.3"/>
<circle class="a" r="5.3" cx="244.7" cy="263.3"/>
<circle class="a" r="5.3" cx="237.8" cy="260.6"/>
<circle class="a" r="5.3" cx="253.1" cy="259.3"/>
<circle class="b" r="5.3" cx="220.6" cy="267.3"/>
<circle class="b" r="5.3" cx="138.8" cy="267.3"/>
<circle class="a" r="5.3" cx="209.8" cy="256.6"/>
<circle class="b" r="5.3" cx="221.8" cy="261.9"/>
<circle class="b" r="5.3" cx="170.6" cy="264.6"/>
<circle class="a" r="5.3" cx="191.2" cy="252.6"/>
<circle class="a" r="5.3" cx="250.8" cy="263.3"/>
<circle class="a" r="5.3" cx="223.2" cy="268.6"/>
<circle class="a" r="5.3" cx="224.0" cy="260.6"/>
<circle class="a" r="5.3" cx="237.8" cy="256.6"/>
<circle class="a" r="5.3" cx="134.9" cy="259.3"/>
<circle class="a" r="5.3" cx="193.7" cy="253.9"/>
<circle class="a" r="5.3" cx="200.7" cy="271.3"/>
<circle class="a" r="5.3" cx="170.3" cy="271.3"/>
<circle class="a" r="5.3" cx="233.5" cy="269.9"/>
<circle class="a" r="5.3" cx="186.0" cy="267.3"/>
<circle class="a" r="5.3" cx="223.8" cy="265.9"/>
<circle class="a" r="5.3" cx="195.1" cy="265.9"/>
<circle class="b" r="5.3" cx="255.7" cy="275.3"/>
<circle class="b" r="5.3" cx="157.4" cy="277.9"/>
<circle class="a" r="5.3" cx="218.4" cy="261.9"/>
<circle class="b" r="5.3" cx="198.9" cy="245.9"/>
<circle class="a" r="5.3" cx="157.7" cy="257.9"/>
<circle class="a" r="5.3" cx="214.9" cy="265.9"/>
<circle class="a" r="5.3" cx="189.7" cy="260.6"/>
<circle class="a" r="5.3" cx="133.4" cy="267.3"/>
<circle class="b" r="5.3" cx="210.0" cy="253.9"/>
<circle class="a" r="5.3" cx="138.7" cy="255.3"/>
<circle class="b" r="5.3" cx="181.6" cy="261.9"/>
<circle class="b" r="5.3" cx="223.5" cy="269.9"/>
<circle class="a" r="5.3" cx="237.9" cy="269.9"/>
<circle class="b" r="5.3" cx="195.8" cy="257.9"/>
<circle class="a" r="5.3" cx="222.0" cy="275.3"/>
<circle class="b" r="5.3" cx="238.9" cy="281.9"/>
<circle class="b" r="5.3" cx="144.3" cy="267.3"/>
<circle class="a" r="5.3" cx="195.0" cy="267.3"/>
<circle class="b" r="5.3" cx="237.3" cy="265.9"/>
<circle class="a" r="5.3" cx="184.7" cy="269.9"/>
<circle class="b" r="5.3" cx="210.6" cy="267.3"/>
<circle class="b" r="5.3" cx="184.9" cy="275.3"/>
<circle class="a" r="5.3" cx="246.3" cy="269.9"/>
<circle class="a" r="5.3" cx="140.7" cy="273.9"/>
<circle class="b" r="5.3" cx="232.3" cy="259.3"/>
<circle class="b" r="5.3" cx="178.4" cy="260.6"/>
<circle class="a" r="5.3" cx="161.6" cy="259.3"/>
<circle class="b" r="5.3" cx="181.9" cy="264.6"/>
<circle class="b" r="5.3" cx="257.2" cy="264.6"/>
<circle class="b" r="5.3" cx="253.8" cy="257.9"/>
<circle class="b" r="5.3" cx="160.7" cy="260.6"/>
<circle class="a" r="5.3" cx="134.9" cy="321.2"/>
<circle class="a" r="5.3" cx="178.8" cy="321.2"/>
<circle class="b" r="5.3" cx="189.4" cy="228.8"/>
<circle class="a" r="5.3" cx="255.0" cy="233.5"/>
<circle class="a" r="5.3" cx="165.9" cy="285.6"/>
<circle class="b" r="5.3" cx="234.6" cy="291.2"/>
<circle class="b" r="5.3" cx="255.9" cy="289.4"/>
<circle class="a" r="5.3" cx="255.9" cy="285.6"/>
<circle class="b" r="5.3" cx="136.0" cy="234.0"/>
<circle class="a" r="5.3" cx="145.0" cy="233.5"/>
<circle class="b" r="5.3" cx="164.0" cy="236.0"/>
<circle class="a" r="5.3" cx="194.0" cy="236.0"/>
<circle class="a" r="5.3" cx="199.0" cy="232.0"/>
<circle class="b" r="5.3" cx="212.0" cy="236.0"/>
<circle class="b" r="5.3" cx="222.0" cy="238.0"/>
<circle class="b" r="5.3" cx="246.0" cy="235.0"/>
<circle class="a" r="5.3" cx="133.0" cy="285.0"/>
<circle class="a" r="5.3" cx="149.0" cy="283.0"/>
<circle class="b" r="5.3" cx="184.0" cy="287.0"/>
<circle class="a" r="5.3" cx="203.0" cy="288.0"/>
<circle class="a" r="5.3" cx="218.0" cy="288.0"/>
<circle class="a" r="5.3" cx="120.0" cy="240.0"/>
</g>
<path d="M111 225H267V327H111Z M112 226V325H265V226Z" fill="#333333" fill-rule="evenodd"/>
<rect x="281" y="225" width="154" height="101" fill="#fff"/>
<path d="M281 311h154v1h-154zM281 292h154v1h-154zM281 272h154v1h-154zM281 253h154v1h-154zM281 234h154v1h-154zM281 321h154v2h-154zM281 301h154v2h-154zM281 282h154v2h-154zM281 262h154v2h-154zM281 243h154v2h-154zM308 225h1v101h-1zM348 225h1v101h-1zM387 225h1v101h-1zM427 225h1v101h-1zM288 225h2v101h-2zM327 225h2v101h-2zM367 225h2v101h-2zM407 225h2v101h-2z" fill="#EBEBEB"/>
<g clip-path="url(#c16)">
<path d="M288 321.9 L288 319.38 L288.15 319.47 L288.31 319.61 L288.5 319.77 L288.73 319.95 L289.01 320.13 L289.35 320.31 L289.76 320.48 L290.25 320.62 L290.78 320.76 L291.33 320.89 L291.92 321.01 L292.58 321.13 L293.34 321.24 L294.23 321.34 L295.27 321.43 L296.5 321.5 L297.95 321.55 L299.61 321.6 L301.43 321.62 L303.38 321.64 L305.4 321.65 L307.46 321.65 L309.51 321.64 L311.5 321.62 L313.55 321.61 L315.74 321.59 L318 321.56 L320.25 321.52 L322.43 321.48 L324.45 321.42 L326.25 321.34 L327.75 321.25 L328.92 321.14 L329.82 321 L330.5 320.85 L331.03 320.68 L331.46 320.51 L331.85 320.33 L332.26 320.16 L332.75 320 L333.27 319.87 L333.76 319.78 L334.22 319.7 L334.66 319.61 L335.1 319.49 L335.55 319.33 L336.01 319.09 L336.5 318.75 L337.03 318.3 L337.58 317.75 L338.15 317.12 L338.73 316.45 L339.3 315.74 L339.85 315.04 L340.38 314.37 L340.88 313.75 L341.33 313.18 L341.76 312.64 L342.17 312.12 L342.55 311.6 L342.93 311.08 L343.29 310.54 L343.65 309.98 L344 309.38 L344.34 308.76 L344.67 308.16 L344.98 307.55 L345.29 306.91 L345.59 306.23 L345.89 305.49 L346.19 304.67 L346.5 303.75 L346.81 302.73 L347.11 301.62 L347.41 300.43 L347.71 299.18 L348.02 297.88 L348.33 296.53 L348.66 295.15 L349 293.75 L349.36 292.3 L349.74 290.79 L350.13 289.22 L350.52 287.62 L350.93 286 L351.33 284.39 L351.73 282.8 L352.12 281.25 L352.51 279.75 L352.89 278.28 L353.27 276.83 L353.65 275.39 L354.03 273.94 L354.42 272.46 L354.83 270.94 L355.25 269.38 L355.69 267.75 L356.14 266.07 L356.61 264.36 L357.09 262.62 L357.57 260.86 L358.05 259.11 L358.53 257.36 L359 255.62 L359.47 253.88 L359.95 252.1 L360.43 250.3 L360.91 248.52 L361.39 246.76 L361.86 245.05 L362.31 243.41 L362.75 241.88 L363.17 240.4 L363.58 238.96 L363.98 237.56 L364.38 236.23 L364.76 234.97 L365.13 233.82 L365.51 232.78 L365.88 231.88 L366.23 231.1 L366.56 230.44 L366.87 229.88 L367.19 229.43 L367.51 229.07 L367.85 228.8 L368.22 228.61 L368.62 228.5 L369.07 228.51 L369.54 228.66 L370.03 228.92 L370.55 229.26 L371.08 229.63 L371.62 230.01 L372.18 230.35 L372.75 230.62 L373.34 230.86 L373.97 231.09 L374.62 231.32 L375.27 231.54 L375.93 231.74 L376.57 231.91 L377.18 232.04 L377.75 232.12 L378.28 232.13 L378.79 232.05 L379.28 231.91 L379.74 231.76 L380.19 231.62 L380.64 231.52 L381.07 231.52 L381.5 231.62 L381.92 231.8 L382.31 232 L382.69 232.23 L383.06 232.54 L383.43 232.94 L383.81 233.47 L384.21 234.14 L384.62 235 L385.06 236.06 L385.52 237.3 L385.99 238.69 L386.46 240.21 L386.94 241.82 L387.42 243.49 L387.9 245.18 L388.38 246.88 L388.84 248.6 L389.31 250.42 L389.78 252.3 L390.25 254.22 L390.72 256.16 L391.19 258.1 L391.66 260.01 L392.12 261.88 L392.6 263.72 L393.08 265.59 L393.56 267.45 L394.04 269.3 L394.51 271.12 L394.98 272.89 L395.44 274.61 L395.88 276.25 L396.29 277.82 L396.69 279.33 L397.07 280.78 L397.44 282.19 L397.81 283.56 L398.19 284.89 L398.58 286.2 L399 287.5 L399.44 288.77 L399.89 290.02 L400.36 291.24 L400.84 292.42 L401.32 293.58 L401.8 294.71 L402.28 295.81 L402.75 296.88 L403.22 297.93 L403.69 298.97 L404.16 299.99 L404.62 300.98 L405.09 301.92 L405.56 302.81 L406.03 303.63 L406.5 304.38 L406.97 305.02 L407.44 305.58 L407.91 306.06 L408.38 306.48 L408.84 306.88 L409.31 307.28 L409.78 307.68 L410.25 308.12 L410.71 308.59 L411.16 309.03 L411.6 309.48 L412.05 309.92 L412.5 310.38 L412.97 310.85 L413.47 311.35 L414 311.88 L414.57 312.45 L415.18 313.08 L415.81 313.74 L416.46 314.41 L417.12 315.08 L417.76 315.73 L418.4 316.33 L419 316.88 L419.58 317.38 L420.13 317.86 L420.68 318.32 L421.21 318.75 L421.74 319.14 L422.28 319.48 L422.82 319.77 L423.38 320 L423.97 320.15 L424.62 320.22 L425.29 320.23 L425.96 320.2 L426.59 320.14 L427.16 320.07 L427.64 320.02 L428 320 L428 321.9 Z" fill="#66C2A5"/>
<path d="M288 319.38 L288.15 319.47 L288.31 319.61 L288.5 319.77 L288.73 319.95 L289.01 320.13 L289.35 320.31 L289.76 320.48 L290.25 320.62 L290.78 320.76 L291.33 320.89 L291.92 321.01 L292.58 321.13 L293.34 321.24 L294.23 321.34 L295.27 321.43 L296.5 321.5 L297.95 321.55 L299.61 321.6 L301.43 321.62 L303.38 321.64 L305.4 321.65 L307.46 321.65 L309.51 321.64 L311.5 321.62 L313.55 321.61 L315.74 321.59 L318 321.56 L320.25 321.52 L322.43 321.48 L324.45 321.42 L326.25 321.34 L327.75 321.25 L328.92 321.14 L329.82 321 L330.5 320.85 L331.03 320.68 L331.46 320.51 L331.85 320.33 L332.26 320.16 L332.75 320 L333.27 319.87 L333.76 319.78 L334.22 319.7 L334.66 319.61 L335.1 319.49 L335.55 319.33 L336.01 319.09 L336.5 318.75 L337.03 318.3 L337.58 317.75 L338.15 317.12 L338.73 316.45 L339.3 315.74 L339.85 315.04 L340.38 314.37 L340.88 313.75 L341.33 313.18 L341.76 312.64 L342.17 312.12 L342.55 311.6 L342.93 311.08 L343.29 310.54 L343.65 309.98 L344 309.38 L344.34 308.76 L344.67 308.16 L344.98 307.55 L345.29 306.91 L345.59 306.23 L345.89 305.49 L346.19 304.67 L346.5 303.75 L346.81 302.73 L347.11 301.62 L347.41 300.43 L347.71 299.18 L348.02 297.88 L348.33 296.53 L348.66 295.15 L349 293.75 L349.36 292.3 L349.74 290.79 L350.13 289.22 L350.52 287.62 L350.93 286 L351.33 284.39 L351.73 282.8 L352.12 281.25 L352.51 279.75 L352.89 278.28 L353.27 276.83 L353.65 275.39 L354.03 273.94 L354.42 272.46 L354.83 270.94 L355.25 269.38 L355.69 267.75 L356.14 266.07 L356.61 264.36 L357.09 262.62 L357.57 260.86 L358.05 259.11 L358.53 257.36 L359 255.62 L359.47 253.88 L359.95 252.1 L360.43 250.3 L360.91 248.52 L361.39 246.76 L361.86 245.05 L362.31 243.41 L362.75 241.88 L363.17 240.4 L363.58 238.96 L363.98 237.56 L364.38 236.23 L364.76 234.97 L365.13 233.82 L365.51 232.78 L365.88 231.88 L366.23 231.1 L366.56 230.44 L366.87 229.88 L367.19 229.43 L367.51 229.07 L367.85 228.8 L368.22 228.61 L368.62 228.5 L369.07 228.51 L369.54 228.66 L370.03 228.92 L370.55 229.26 L371.08 229.63 L371.62 230.01 L372.18 230.35 L372.75 230.62 L373.34 230.86 L373.97 231.09 L374.62 231.32 L375.27 231.54 L375.93 231.74 L376.57 231.91 L377.18 232.04 L377.75 232.12 L378.28 232.13 L378.79 232.05 L379.28 231.91 L379.74 231.76 L380.19 231.62 L380.64 231.52 L381.07 231.52 L381.5 231.62 L381.92 231.8 L382.31 232 L382.69 232.23 L383.06 232.54 L383.43 232.94 L383.81 233.47 L384.21 234.14 L384.62 235 L385.06 236.06 L385.52 237.3 L385.99 238.69 L386.46 240.21 L386.94 241.82 L387.42 243.49 L387.9 245.18 L388.38 246.88 L388.84 248.6 L389.31 250.42 L389.78 252.3 L390.25 254.22 L390.72 256.16 L391.19 258.1 L391.66 260.01 L392.12 261.88 L392.6 263.72 L393.08 265.59 L393.56 267.45 L394.04 269.3 L394.51 271.12 L394.98 272.89 L395.44 274.61 L395.88 276.25 L396.29 277.82 L396.69 279.33 L397.07 280.78 L397.44 282.19 L397.81 283.56 L398.19 284.89 L398.58 286.2 L399 287.5 L399.44 288.77 L399.89 290.02 L400.36 291.24 L400.84 292.42 L401.32 293.58 L401.8 294.71 L402.28 295.81 L402.75 296.88 L403.22 297.93 L403.69 298.97 L404.16 299.99 L404.62 300.98 L405.09 301.92 L405.56 302.81 L406.03 303.63 L406.5 304.38 L406.97 305.02 L407.44 305.58 L407.91 306.06 L408.38 306.48 L408.84 306.88 L409.31 307.28 L409.78 307.68 L410.25 308.12 L410.71 308.59 L411.16 309.03 L411.6 309.48 L412.05 309.92 L412.5 310.38 L412.97 310.85 L413.47 311.35 L414 311.88 L414.57 312.45 L415.18 313.08 L415.81 313.74 L416.46 314.41 L417.12 315.08 L417.76 315.73 L418.4 316.33 L419 316.88 L419.58 317.38 L420.13 317.86 L420.68 318.32 L421.21 318.75 L421.74 319.14 L422.28 319.48 L422.82 319.77 L423.38 320 L423.97 320.15 L424.62 320.22 L425.29 320.23 L425.96 320.2 L426.59 320.14 L427.16 320.07 L427.64 320.02 L428 320" fill="none" stroke="#000" stroke-width="2" stroke-linejoin="round"/>
<path d="M288 321.9 L288 321.62 L289.86 321.63 L292.39 321.63 L295.41 321.63 L298.73 321.63 L302.19 321.63 L305.58 321.63 L308.75 321.63 L311.5 321.62 L313.96 321.62 L316.34 321.63 L318.62 321.65 L320.78 321.66 L322.8 321.65 L324.65 321.63 L326.31 321.58 L327.75 321.5 L328.9 321.39 L329.76 321.26 L330.39 321.11 L330.88 320.94 L331.28 320.74 L331.68 320.52 L332.14 320.27 L332.75 320 L333.48 319.7 L334.25 319.39 L335.06 319.06 L335.88 318.7 L336.69 318.3 L337.5 317.87 L338.27 317.4 L339 316.88 L339.69 316.32 L340.37 315.75 L341.02 315.14 L341.66 314.49 L342.27 313.79 L342.87 313.02 L343.44 312.18 L344 311.25 L344.53 310.24 L345.03 309.17 L345.5 308.04 L345.95 306.84 L346.4 305.56 L346.84 304.2 L347.29 302.77 L347.75 301.25 L348.22 299.61 L348.69 297.85 L349.16 295.99 L349.62 294.06 L350.09 292.09 L350.56 290.12 L351.03 288.16 L351.5 286.25 L351.97 284.37 L352.44 282.47 L352.91 280.57 L353.38 278.67 L353.84 276.78 L354.31 274.91 L354.78 273.07 L355.25 271.25 L355.71 269.46 L356.17 267.7 L356.63 265.95 L357.09 264.22 L357.55 262.51 L358.02 260.82 L358.5 259.15 L359 257.5 L359.52 255.82 L360.06 254.1 L360.62 252.36 L361.19 250.66 L361.75 249.04 L362.31 247.52 L362.85 246.17 L363.38 245 L363.87 244.03 L364.36 243.2 L364.83 242.52 L365.29 241.95 L365.75 241.5 L366.2 241.13 L366.66 240.85 L367.12 240.62 L367.59 240.52 L368.06 240.57 L368.53 240.74 L369 240.98 L369.47 241.25 L369.94 241.52 L370.41 241.74 L370.88 241.88 L371.34 241.97 L371.81 242.09 L372.28 242.21 L372.75 242.3 L373.22 242.34 L373.69 242.3 L374.16 242.15 L374.62 241.88 L375.1 241.43 L375.57 240.83 L376.05 240.12 L376.52 239.34 L377 238.52 L377.46 237.7 L377.92 236.93 L378.38 236.25 L378.82 235.59 L379.26 234.89 L379.69 234.19 L380.12 233.52 L380.54 232.91 L380.95 232.41 L381.35 232.05 L381.75 231.88 L382.13 231.86 L382.5 231.97 L382.85 232.2 L383.2 232.54 L383.55 232.99 L383.9 233.56 L384.26 234.23 L384.62 235 L385 235.89 L385.37 236.9 L385.75 238.03 L386.13 239.26 L386.52 240.58 L386.92 241.99 L387.33 243.46 L387.75 245 L388.19 246.65 L388.66 248.46 L389.14 250.37 L389.62 252.34 L390.11 254.34 L390.59 256.31 L391.06 258.21 L391.5 260 L391.92 261.69 L392.33 263.33 L392.72 264.93 L393.1 266.48 L393.48 268.01 L393.86 269.52 L394.24 271.01 L394.62 272.5 L395.01 273.97 L395.39 275.43 L395.77 276.87 L396.15 278.28 L396.53 279.68 L396.92 281.05 L397.33 282.41 L397.75 283.75 L398.19 285.08 L398.64 286.4 L399.11 287.7 L399.59 288.98 L400.07 290.24 L400.55 291.46 L401.03 292.63 L401.5 293.75 L401.97 294.82 L402.45 295.86 L402.93 296.86 L403.41 297.81 L403.89 298.73 L404.36 299.61 L404.81 300.45 L405.25 301.25 L405.66 302 L406.05 302.71 L406.41 303.36 L406.77 303.98 L407.14 304.58 L407.52 305.15 L407.93 305.7 L408.38 306.25 L408.86 306.77 L409.37 307.25 L409.9 307.69 L410.45 308.12 L411.01 308.56 L411.58 309 L412.16 309.48 L412.75 310 L413.35 310.57 L413.96 311.18 L414.58 311.81 L415.21 312.46 L415.85 313.12 L416.49 313.76 L417.12 314.4 L417.75 315 L418.37 315.6 L418.99 316.23 L419.61 316.85 L420.23 317.46 L420.86 318.04 L421.48 318.56 L422.11 319.01 L422.75 319.38 L423.43 319.64 L424.17 319.81 L424.93 319.91 L425.69 319.96 L426.4 319.98 L427.05 319.98 L427.59 319.98 L428 320 L428 321.9 Z" fill="#FC8D62"/>
<path d="M288 321.62 L289.86 321.63 L292.39 321.63 L295.41 321.63 L298.73 321.63 L302.19 321.63 L305.58 321.63 L308.75 321.63 L311.5 321.62 L313.96 321.62 L316.34 321.63 L318.62 321.65 L320.78 321.66 L322.8 321.65 L324.65 321.63 L326.31 321.58 L327.75 321.5 L328.9 321.39 L329.76 321.26 L330.39 321.11 L330.88 320.94 L331.28 320.74 L331.68 320.52 L332.14 320.27 L332.75 320 L333.48 319.7 L334.25 319.39 L335.06 319.06 L335.88 318.7 L336.69 318.3 L337.5 317.87 L338.27 317.4 L339 316.88 L339.69 316.32 L340.37 315.75 L341.02 315.14 L341.66 314.49 L342.27 313.79 L342.87 313.02 L343.44 312.18 L344 311.25 L344.53 310.24 L345.03 309.17 L345.5 308.04 L345.95 306.84 L346.4 305.56 L346.84 304.2 L347.29 302.77 L347.75 301.25 L348.22 299.61 L348.69 297.85 L349.16 295.99 L349.62 294.06 L350.09 292.09 L350.56 290.12 L351.03 288.16 L351.5 286.25 L351.97 284.37 L352.44 282.47 L352.91 280.57 L353.38 278.67 L353.84 276.78 L354.31 274.91 L354.78 273.07 L355.25 271.25 L355.71 269.46 L356.17 267.7 L356.63 265.95 L357.09 264.22 L357.55 262.51 L358.02 260.82 L358.5 259.15 L359 257.5 L359.52 255.82 L360.06 254.1 L360.62 252.36 L361.19 250.66 L361.75 249.04 L362.31 247.52 L362.85 246.17 L363.38 245 L363.87 244.03 L364.36 243.2 L364.83 242.52 L365.29 241.95 L365.75 241.5 L366.2 241.13 L366.66 240.85 L367.12 240.62 L367.59 240.52 L368.06 240.57 L368.53 240.74 L369 240.98 L369.47 241.25 L369.94 241.52 L370.41 241.74 L370.88 241.88 L371.34 241.97 L371.81 242.09 L372.28 242.21 L372.75 242.3 L373.22 242.34 L373.69 242.3 L374.16 242.15 L374.62 241.88 L375.1 241.43 L375.57 240.83 L376.05 240.12 L376.52 239.34 L377 238.52 L377.46 237.7 L377.92 236.93 L378.38 236.25 L378.82 235.59 L379.26 234.89 L379.69 234.19 L380.12 233.52 L380.54 232.91 L380.95 232.41 L381.35 232.05 L381.75 231.88 L382.13 231.86 L382.5 231.97 L382.85 232.2 L383.2 232.54 L383.55 232.99 L383.9 233.56 L384.26 234.23 L384.62 235 L385 235.89 L385.37 236.9 L385.75 238.03 L386.13 239.26 L386.52 240.58 L386.92 241.99 L387.33 243.46 L387.75 245 L388.19 246.65 L388.66 248.46 L389.14 250.37 L389.62 252.34 L390.11 254.34 L390.59 256.31 L391.06 258.21 L391.5 260 L391.92 261.69 L392.33 263.33 L392.72 264.93 L393.1 266.48 L393.48 268.01 L393.86 269.52 L394.24 271.01 L394.62 272.5 L395.01 273.97 L395.39 275.43 L395.77 276.87 L396.15 278.28 L396.53 279.68 L396.92 281.05 L397.33 282.41 L397.75 283.75 L398.19 285.08 L398.64 286.4 L399.11 287.7 L399.59 288.98 L400.07 290.24 L400.55 291.46 L401.03 292.63 L401.5 293.75 L401.97 294.82 L402.45 295.86 L402.93 296.86 L403.41 297.81 L403.89 298.73 L404.36 299.61 L404.81 300.45 L405.25 301.25 L405.66 302 L406.05 302.71 L406.41 303.36 L406.77 303.98 L407.14 304.58 L407.52 305.15 L407.93 305.7 L408.38 306.25 L408.86 306.77 L409.37 307.25 L409.9 307.69 L410.45 308.12 L411.01 308.56 L411.58 309 L412.16 309.48 L412.75 310 L413.35 310.57 L413.96 311.18 L414.58 311.81 L415.21 312.46 L415.85 313.12 L416.49 313.76 L417.12 314.4 L417.75 315 L418.37 315.6 L418.99 316.23 L419.61 316.85 L420.23 317.46 L420.86 318.04 L421.48 318.56 L422.11 319.01 L422.75 319.38 L423.43 319.64 L424.17 319.81 L424.93 319.91 L425.69 319.96 L426.4 319.98 L427.05 319.98 L427.59 319.98 L428 320" fill="none" stroke="#000" stroke-width="2" stroke-linejoin="round"/>
</g>
<path d="M281 225H436V327H281Z M282 226V325H434V226Z" fill="#333333" fill-rule="evenodd"/>
<rect x="450" y="225" width="155" height="101" fill="#fff"/>
<path d="M450 308h155v1h-155zM450 281h155v1h-155zM450 255h155v1h-155zM450 228h155v1h-155zM450 321h155v2h-155zM450 294h155v2h-155zM450 268h155v2h-155zM450 241h155v2h-155zM467 225h1v101h-1zM502 225h1v101h-1zM538 225h1v101h-1zM573 225h1v101h-1zM484 225h2v101h-2zM519 225h2v101h-2zM555 225h2v101h-2zM590 225h2v101h-2z" fill="#EBEBEB"/>
<g clip-path="url(#c17)">
<text x="527.8" y="250.7" font-size="29.3" fill="#717171" text-anchor="middle" >Corr: 0.275***</text>
<text x="527.8" y="282.9" font-size="29.3" fill="#66C2A5" text-anchor="middle" >0: 0.340***</text>
<text x="527.8" y="315.4" font-size="29.3" fill="#FC8D62" text-anchor="middle" >1: 0.220***</text>
</g>
<path d="M450 225H606V327H450Z M451 226V325H604V226Z" fill="#333333" fill-rule="evenodd"/>
<rect x="619" y="225" width="155" height="101" fill="#fff"/>
<path d="M619 308h155v1h-155zM619 281h155v1h-155zM619 255h155v1h-155zM619 228h155v1h-155zM619 321h155v2h-155zM619 294h155v2h-155zM619 268h155v2h-155zM619 241h155v2h-155zM661 225h2v101h-2zM731 225h2v101h-2z" fill="#EBEBEB"/>
<g clip-path="url(#c18)">
<rect x="648" y="250" width="2" height="11.9" fill="#333333"/>
<rect x="648" y="273.1" width="2" height="13.8" fill="#333333"/>
<rect x="637" y="262" width="24" height="11" fill="#66C2A5" stroke="#333333" stroke-width="2"/>
<rect x="637" y="266" width="24" height="5" fill="#333333"/>
<circle cx="648.9" cy="241" r="5" fill="#333333"/>
<circle cx="648.9" cy="245.6" r="5" fill="#333333"/>
<circle cx="648.9" cy="321.5" r="5" fill="#333333"/>
<rect x="674" y="244.4" width="2" height="16.6" fill="#333333"/>
<rect x="674" y="274" width="2" height="16.6" fill="#333333"/>
<rect x="663" y="261" width="24" height="13" fill="#FC8D62" stroke="#333333" stroke-width="2"/>
<rect x="663" y="266" width="24" height="5" fill="#333333"/>
<circle cx="675" cy="236.9" r="5" fill="#333333"/>
<rect x="718" y="234" width="2" height="16" fill="#333333"/>
<rect x="718" y="264" width="2" height="17.6" fill="#333333"/>
<rect x="707" y="250" width="24" height="14" fill="#66C2A5" stroke="#333333" stroke-width="2"/>
<rect x="707" y="254" width="24" height="5" fill="#333333"/>
<circle cx="718.9" cy="321.5" r="5" fill="#333333"/>
<rect x="744" y="237.25" width="2" height="11.75" fill="#333333"/>
<rect x="744" y="261" width="2" height="12.75" fill="#333333"/>
<rect x="733" y="249" width="24" height="12" fill="#FC8D62" stroke="#333333" stroke-width="2"/>
<rect x="733" y="253" width="24" height="5" fill="#333333"/>
<circle cx="745" cy="228.75" r="5" fill="#333333"/>
<circle cx="745" cy="278.75" r="5" fill="#333333"/>
</g>
<path d="M619 225H775V327H619Z M620 226V325H773V226Z" fill="#333333" fill-rule="evenodd"/>
<rect x="789" y="225" width="155" height="101" fill="#fff"/>
<path d="M789 308h155v1h-155zM789 281h155v1h-155zM789 255h155v1h-155zM789 228h155v1h-155zM789 321h155v2h-155zM789 294h155v2h-155zM789 268h155v2h-155zM789 241h155v2h-155zM817 225h2v101h-2zM866 225h2v101h-2zM914 225h2v101h-2z" fill="#EBEBEB"/>
<g clip-path="url(#c19)">
<rect x="808" y="238.75" width="2" height="18.5" fill="#333333"/>
<rect x="808" y="271.9" width="2" height="15" fill="#333333"/>
<rect x="801" y="257" width="16" height="15" fill="#66C2A5" stroke="#333333" stroke-width="2"/>
<rect x="801" y="262" width="16" height="5" fill="#333333"/>
<circle cx="809" cy="233.75" r="5" fill="#333333"/>
<circle cx="809" cy="321.5" r="5" fill="#333333"/>
<rect x="826" y="237.25" width="2" height="19" fill="#333333"/>
<rect x="826" y="271.9" width="2" height="13.7" fill="#333333"/>
<rect x="819" y="256" width="16" height="16" fill="#FC8D62" stroke="#333333" stroke-width="2"/>
<rect x="819" y="260" width="16" height="5" fill="#333333"/>
<circle cx="827" cy="228.75" r="5" fill="#333333"/>
<rect x="856" y="244.4" width="2" height="11.85" fill="#333333"/>
<rect x="856" y="269" width="2" height="16.6" fill="#333333"/>
<rect x="849" y="256" width="16" height="13" fill="#66C2A5" stroke="#333333" stroke-width="2"/>
<rect x="849" y="260" width="16" height="5" fill="#333333"/>
<circle cx="856.9" cy="233.75" r="5" fill="#333333"/>
<rect x="874" y="246.9" width="2" height="14.1" fill="#333333"/>
<rect x="874" y="272.9" width="2" height="8.7" fill="#333333"/>
<rect x="867" y="261" width="16" height="12" fill="#FC8D62" stroke="#333333" stroke-width="2"/>
<rect x="867" y="266" width="16" height="5" fill="#333333"/>
<circle cx="875" cy="237.5" r="5" fill="#333333"/>
<circle cx="875" cy="242.5" r="5" fill="#333333"/>
<rect x="905" y="250.4" width="2" height="11.5" fill="#333333"/>
<rect x="905" y="270" width="2" height="8.5" fill="#333333"/>
<rect x="898" y="262" width="16" height="8" fill="#66C2A5" stroke="#333333" stroke-width="2"/>
<rect x="898" y="264" width="16" height="5" fill="#333333"/>
<circle cx="906" cy="241.9" r="5" fill="#333333"/>
<circle cx="906" cy="285.9" r="5" fill="#333333"/>
<rect x="923" y="238.5" width="2" height="17.75" fill="#333333"/>
<rect x="923" y="271.9" width="2" height="18.7" fill="#333333"/>
<rect x="916" y="256" width="16" height="16" fill="#FC8D62" stroke="#333333" stroke-width="2"/>
<rect x="916" y="262" width="16" height="5" fill="#333333"/>
<circle cx="924.1" cy="228.75" r="5" fill="#333333"/>
</g>
<path d="M789 225H945V327H789Z M790 226V325H943V226Z" fill="#333333" fill-rule="evenodd"/>
<rect x="958" y="225" width="155" height="101" fill="#fff"/>
<path d="M958 308h155v1h-155zM958 281h155v1h-155zM958 255h155v1h-155zM958 228h155v1h-155zM958 321h155v2h-155zM958 294h155v2h-155zM958 268h155v2h-155zM958 241h155v2h-155zM986 225h2v101h-2zM1035 225h2v101h-2zM1083 225h2v101h-2z" fill="#EBEBEB"/>
<g clip-path="url(#c20)">
<rect x="977" y="238.75" width="2" height="18.5" fill="#333333"/>
<rect x="977" y="271.9" width="2" height="15" fill="#333333"/>
<rect x="970" y="257" width="16" height="15" fill="#66C2A5" stroke="#333333" stroke-width="2"/>
<rect x="970" y="262" width="16" height="5" fill="#333333"/>
<circle cx="978" cy="233.75" r="5" fill="#333333"/>
<circle cx="978" cy="321.5" r="5" fill="#333333"/>
<rect x="995" y="237.25" width="2" height="19" fill="#333333"/>
<rect x="995" y="271.9" width="2" height="16.85" fill="#333333"/>
<rect x="988" y="256" width="16" height="16" fill="#FC8D62" stroke="#333333" stroke-width="2"/>
<rect x="988" y="261" width="16" height="5" fill="#333333"/>
<circle cx="996" cy="228.75" r="5" fill="#333333"/>
<rect x="1026" y="244.4" width="2" height="11.85" fill="#333333"/>
<rect x="1026" y="270" width="2" height="8.75" fill="#333333"/>
<rect x="1019" y="256" width="16" height="14" fill="#66C2A5" stroke="#333333" stroke-width="2"/>
<rect x="1019" y="262" width="16" height="5" fill="#333333"/>
<rect x="1044" y="242.25" width="2" height="12.75" fill="#333333"/>
<rect x="1044" y="271" width="2" height="10.6" fill="#333333"/>
<rect x="1037" y="255" width="16" height="16" fill="#FC8D62" stroke="#333333" stroke-width="2"/>
<rect x="1037" y="262" width="16" height="5" fill="#333333"/>
<rect x="1074" y="242.25" width="2" height="15.85" fill="#333333"/>
<rect x="1074" y="276.9" width="2" height="8.7" fill="#333333"/>
<rect x="1067" y="258" width="16" height="19" fill="#66C2A5" stroke="#333333" stroke-width="2"/>
<rect x="1067" y="264" width="16" height="5" fill="#333333"/>
<rect x="1092" y="252.25" width="2" height="8.75" fill="#333333"/>
<rect x="1092" y="269" width="2" height="9.75" fill="#333333"/>
<rect x="1085" y="261" width="16" height="8" fill="#FC8D62" stroke="#333333" stroke-width="2"/>
<rect x="1085" y="262" width="16" height="5" fill="#333333"/>
<circle cx="1093.1" cy="290.9" r="5" fill="#333333"/>
</g>
<path d="M958 225H1114V327H958Z M959 226V325H1112V226Z" fill="#333333" fill-rule="evenodd"/>
<rect x="1128" y="225" width="155" height="101" fill="#fff"/>
<path d="M1128 308h155v1h-155zM1128 281h155v1h-155zM1128 255h155v1h-155zM1128 228h155v1h-155zM1128 321h155v2h-155zM1128 294h155v2h-155zM1128 268h155v2h-155zM1128 241h155v2h-155zM1169 225h2v101h-2zM1239 225h2v101h-2z" fill="#EBEBEB"/>
<g clip-path="url(#c21)">
<rect x="1169" y="238.75" width="2" height="18.5" fill="#333333"/>
<rect x="1169" y="271.9" width="2" height="15" fill="#333333"/>
<rect x="1144" y="257" width="52" height="15" fill="#66C2A5" stroke="#333333" stroke-width="2"/>
<rect x="1144" y="262" width="52" height="5" fill="#333333"/>
<circle cx="1170" cy="233.75" r="5" fill="#333333"/>
<circle cx="1170" cy="321.5" r="5" fill="#333333"/>
<rect x="1240" y="237.25" width="2" height="19" fill="#333333"/>
<rect x="1240" y="271.9" width="2" height="18.7" fill="#333333"/>
<rect x="1214" y="256" width="52" height="16" fill="#FC8D62" stroke="#333333" stroke-width="2"/>
<rect x="1214" y="262" width="52" height="5" fill="#333333"/>
<circle cx="1240.5" cy="228.75" r="5" fill="#333333"/>
</g>
<path d="M1128 225H1284V327H1128Z M1129 226V325H1282V226Z" fill="#333333" fill-rule="evenodd"/>
<rect x="111" y="341" width="155" height="102" fill="#fff"/>
<path d="M111 431h155v1h-155zM111 407h155v1h-155zM111 384h155v1h-155zM111 361h155v1h-155zM111 419h155v2h-155zM111 395h155v2h-155zM111 372h155v2h-155zM111 348h155v2h-155zM128 341h1v102h-1zM159 341h1v102h-1zM189 341h1v102h-1zM219 341h1v102h-1zM249 341h1v102h-1zM113 341h2v102h-2zM143 341h2v102h-2zM173 341h2v102h-2zM204 341h2v102h-2zM234 341h2v102h-2zM264 341h2v102h-2z" fill="#EBEBEB"/>
<g clip-path="url(#c22)">
<circle class="a" r="5.3" cx="202.2" cy="410.2"/>
<circle class="b" r="5.3" cx="151.8" cy="399.0"/>
<circle class="b" r="5.3" cx="239.2" cy="374.7"/>
<circle class="b" r="5.3" cx="208.8" cy="394.3"/>
<circle class="b" r="5.3" cx="201.0" cy="392.5"/>
<circle class="b" r="5.3" cx="245.3" cy="385.0"/>
<circle class="a" r="5.3" cx="234.6" cy="420.5"/>
<circle class="a" r="5.3" cx="229.4" cy="402.7"/>
<circle class="a" r="5.3" cx="250.3" cy="407.4"/>
<circle class="b" r="5.3" cx="125.7" cy="406.5"/>
<circle class="a" r="5.3" cx="234.9" cy="399.9"/>
<circle class="a" r="5.3" cx="120.7" cy="399.9"/>
<circle class="b" r="5.3" cx="163.2" cy="397.1"/>
<circle class="a" r="5.3" cx="223.0" cy="380.3"/>
<circle class="a" r="5.3" cx="183.9" cy="382.2"/>
<circle class="a" r="5.3" cx="186.3" cy="407.4"/>
<circle class="b" r="5.3" cx="192.1" cy="395.3"/>
<circle class="a" r="5.3" cx="151.8" cy="401.8"/>
<circle class="a" r="5.3" cx="205.5" cy="391.5"/>
<circle class="a" r="5.3" cx="165.4" cy="413.9"/>
<circle class="a" r="5.3" cx="200.3" cy="406.5"/>
<circle class="a" r="5.3" cx="177.1" cy="399.9"/>
<circle class="a" r="5.3" cx="236.3" cy="399.9"/>
<circle class="a" r="5.3" cx="189.2" cy="411.1"/>
<circle class="a" r="5.3" cx="126.8" cy="385.9"/>
<circle class="b" r="5.3" cx="175.4" cy="391.5"/>
<circle class="b" r="5.3" cx="211.3" cy="415.8"/>
<circle class="a" r="5.3" cx="241.8" cy="409.3"/>
<circle class="b" r="5.3" cx="181.7" cy="405.5"/>
<circle class="b" r="5.3" cx="161.0" cy="388.7"/>
<circle class="a" r="5.3" cx="121.9" cy="409.3"/>
<circle class="b" r="5.3" cx="179.0" cy="387.8"/>
<circle class="b" r="5.3" cx="124.5" cy="408.3"/>
<circle class="a" r="5.3" cx="140.8" cy="426.1"/>
<circle class="b" r="5.3" cx="184.7" cy="413.9"/>
<circle class="b" r="5.3" cx="222.1" cy="378.5"/>
<circle class="b" r="5.3" cx="168.2" cy="413.0"/>
<circle class="b" r="5.3" cx="210.2" cy="409.3"/>
<circle class="a" r="5.3" cx="188.0" cy="428.0"/>
<circle class="b" r="5.3" cx="231.2" cy="397.1"/>
<circle class="a" r="5.3" cx="253.5" cy="408.3"/>
<circle class="a" r="5.3" cx="177.4" cy="400.9"/>
<circle class="b" r="5.3" cx="219.8" cy="397.1"/>
<circle class="a" r="5.3" cx="130.2" cy="389.7"/>
<circle class="a" r="5.3" cx="145.7" cy="407.4"/>
<circle class="a" r="5.3" cx="212.2" cy="401.8"/>
<circle class="a" r="5.3" cx="129.5" cy="386.9"/>
<circle class="a" r="5.3" cx="214.0" cy="406.5"/>
<circle class="a" r="5.3" cx="230.2" cy="399.9"/>
<circle class="b" r="5.3" cx="222.0" cy="397.1"/>
<circle class="b" r="5.3" cx="227.8" cy="403.7"/>
<circle class="a" r="5.3" cx="128.8" cy="392.5"/>
<circle class="b" r="5.3" cx="219.7" cy="404.6"/>
<circle class="b" r="5.3" cx="228.8" cy="409.3"/>
<circle class="b" r="5.3" cx="123.7" cy="407.4"/>
<circle class="b" r="5.3" cx="185.6" cy="409.3"/>
<circle class="b" r="5.3" cx="201.6" cy="395.3"/>
<circle class="a" r="5.3" cx="239.4" cy="434.5"/>
<circle class="b" r="5.3" cx="188.1" cy="399.0"/>
<circle class="b" r="5.3" cx="222.5" cy="396.2"/>
<circle class="a" r="5.3" cx="221.4" cy="412.1"/>
<circle class="a" r="5.3" cx="159.7" cy="402.7"/>
<circle class="b" r="5.3" cx="161.4" cy="385.9"/>
<circle class="a" r="5.3" cx="189.5" cy="416.7"/>
<circle class="b" r="5.3" cx="226.4" cy="389.7"/>
<circle class="a" r="5.3" cx="246.5" cy="419.5"/>
<circle class="b" r="5.3" cx="191.9" cy="391.5"/>
<circle class="a" r="5.3" cx="202.2" cy="413.9"/>
<circle class="b" r="5.3" cx="210.9" cy="403.7"/>
<circle class="b" r="5.3" cx="140.0" cy="387.8"/>
<circle class="b" r="5.3" cx="223.1" cy="404.6"/>
<circle class="a" r="5.3" cx="182.3" cy="400.9"/>
<circle class="b" r="5.3" cx="207.9" cy="387.8"/>
<circle class="a" r="5.3" cx="190.5" cy="412.1"/>
<circle class="a" r="5.3" cx="149.9" cy="406.5"/>
<circle class="a" r="5.3" cx="201.8" cy="418.6"/>
<circle class="a" r="5.3" cx="149.8" cy="413.0"/>
<circle class="b" r="5.3" cx="257.6" cy="398.1"/>
<circle class="a" r="5.3" cx="122.5" cy="396.2"/>
<circle class="a" r="5.3" cx="224.5" cy="398.1"/>
<circle class="b" r="5.3" cx="133.6" cy="396.2"/>
<circle class="a" r="5.3" cx="208.8" cy="399.0"/>
<circle class="b" r="5.3" cx="138.7" cy="401.8"/>
<circle class="b" r="5.3" cx="204.4" cy="400.9"/>
<circle class="b" r="5.3" cx="235.8" cy="385.0"/>
<circle class="a" r="5.3" cx="209.3" cy="394.3"/>
<circle class="a" r="5.3" cx="146.6" cy="388.7"/>
<circle class="b" r="5.3" cx="195.3" cy="402.7"/>
<circle class="b" r="5.3" cx="236.6" cy="387.8"/>
<circle class="b" r="5.3" cx="143.5" cy="391.5"/>
<circle class="a" r="5.3" cx="228.2" cy="399.0"/>
<circle class="b" r="5.3" cx="178.5" cy="402.7"/>
<circle class="b" r="5.3" cx="252.6" cy="391.5"/>
<circle class="b" r="5.3" cx="205.4" cy="413.9"/>
<circle class="b" r="5.3" cx="145.0" cy="397.1"/>
<circle class="b" r="5.3" cx="144.6" cy="381.3"/>
<circle class="a" r="5.3" cx="191.8" cy="412.1"/>
<circle class="a" r="5.3" cx="213.8" cy="399.9"/>
<circle class="a" r="5.3" cx="201.1" cy="407.4"/>
<circle class="b" r="5.3" cx="220.5" cy="385.0"/>
<circle class="b" r="5.3" cx="245.8" cy="404.6"/>
<circle class="a" r="5.3" cx="189.8" cy="401.8"/>
<circle class="b" r="5.3" cx="210.6" cy="406.5"/>
<circle class="b" r="5.3" cx="212.3" cy="398.1"/>
<circle class="b" r="5.3" cx="176.4" cy="409.3"/>
<circle class="b" r="5.3" cx="203.0" cy="401.8"/>
<circle class="a" r="5.3" cx="177.9" cy="395.3"/>
<circle class="a" r="5.3" cx="132.7" cy="418.6"/>
<circle class="a" r="5.3" cx="132.2" cy="381.3"/>
<circle class="b" r="5.3" cx="123.9" cy="401.8"/>
<circle class="b" r="5.3" cx="191.8" cy="404.6"/>
<circle class="a" r="5.3" cx="133.3" cy="413.0"/>
<circle class="b" r="5.3" cx="191.6" cy="400.9"/>
<circle class="a" r="5.3" cx="123.1" cy="405.5"/>
<circle class="b" r="5.3" cx="203.8" cy="397.1"/>
<circle class="b" r="5.3" cx="193.8" cy="390.6"/>
<circle class="b" r="5.3" cx="234.6" cy="398.1"/>
<circle class="a" r="5.3" cx="132.9" cy="390.6"/>
<circle class="b" r="5.3" cx="232.5" cy="393.4"/>
<circle class="b" r="5.3" cx="251.1" cy="405.5"/>
<circle class="b" r="5.3" cx="236.2" cy="396.2"/>
<circle class="a" r="5.3" cx="208.3" cy="405.5"/>
<circle class="a" r="5.3" cx="139.3" cy="403.7"/>
<circle class="b" r="5.3" cx="153.5" cy="401.8"/>
<circle class="b" r="5.3" cx="232.4" cy="395.3"/>
<circle class="b" r="5.3" cx="184.0" cy="405.5"/>
<circle class="a" r="5.3" cx="129.7" cy="400.9"/>
<circle class="b" r="5.3" cx="221.0" cy="397.1"/>
<circle class="a" r="5.3" cx="135.3" cy="404.6"/>
<circle class="b" r="5.3" cx="209.0" cy="400.9"/>
<circle class="a" r="5.3" cx="243.3" cy="416.7"/>
<circle class="b" r="5.3" cx="142.1" cy="395.3"/>
<circle class="b" r="5.3" cx="215.9" cy="363.5"/>
<circle class="a" r="5.3" cx="236.4" cy="406.5"/>
<circle class="a" r="5.3" cx="230.3" cy="399.9"/>
<circle class="b" r="5.3" cx="182.3" cy="401.8"/>
<circle class="a" r="5.3" cx="184.1" cy="407.4"/>
<circle class="a" r="5.3" cx="202.1" cy="426.1"/>
<circle class="b" r="5.3" cx="235.3" cy="386.9"/>
<circle class="b" r="5.3" cx="193.6" cy="372.8"/>
<circle class="b" r="5.3" cx="179.6" cy="399.0"/>
<circle class="a" r="5.3" cx="169.4" cy="412.1"/>
<circle class="a" r="5.3" cx="238.7" cy="402.7"/>
<circle class="b" r="5.3" cx="215.4" cy="375.7"/>
<circle class="a" r="5.3" cx="180.6" cy="405.5"/>
<circle class="b" r="5.3" cx="227.2" cy="393.4"/>
<circle class="b" r="5.3" cx="239.3" cy="395.3"/>
<circle class="a" r="5.3" cx="201.7" cy="409.3"/>
<circle class="a" r="5.3" cx="241.6" cy="407.4"/>
<circle class="b" r="5.3" cx="243.7" cy="398.1"/>
<circle class="b" r="5.3" cx="234.6" cy="396.2"/>
<circle class="b" r="5.3" cx="169.8" cy="383.1"/>
<circle class="b" r="5.3" cx="225.3" cy="396.2"/>
<circle class="b" r="5.3" cx="245.6" cy="409.3"/>
<circle class="b" r="5.3" cx="184.8" cy="390.6"/>
<circle class="b" r="5.3" cx="204.5" cy="404.6"/>
<circle class="b" r="5.3" cx="166.3" cy="408.3"/>
<circle class="b" r="5.3" cx="223.5" cy="393.4"/>
<circle class="a" r="5.3" cx="191.6" cy="408.3"/>
<circle class="b" r="5.3" cx="203.0" cy="410.2"/>
<circle class="a" r="5.3" cx="205.7" cy="391.5"/>
<circle class="b" r="5.3" cx="125.2" cy="402.7"/>
<circle class="b" r="5.3" cx="160.7" cy="400.9"/>
<circle class="a" r="5.3" cx="177.7" cy="408.3"/>
<circle class="b" r="5.3" cx="236.0" cy="382.2"/>
<circle class="b" r="5.3" cx="246.4" cy="390.6"/>
<circle class="a" r="5.3" cx="250.3" cy="404.6"/>
<circle class="a" r="5.3" cx="142.0" cy="402.7"/>
<circle class="b" r="5.3" cx="216.9" cy="386.9"/>
<circle class="b" r="5.3" cx="189.4" cy="384.1"/>
<circle class="b" r="5.3" cx="142.1" cy="391.5"/>
<circle class="a" r="5.3" cx="165.9" cy="401.8"/>
<circle class="a" r="5.3" cx="248.3" cy="401.8"/>
<circle class="a" r="5.3" cx="227.2" cy="404.6"/>
<circle class="b" r="5.3" cx="225.9" cy="385.0"/>
<circle class="b" r="5.3" cx="142.5" cy="408.3"/>
<circle class="a" r="5.3" cx="148.3" cy="413.9"/>
<circle class="b" r="5.3" cx="172.1" cy="401.8"/>
<circle class="b" r="5.3" cx="205.7" cy="397.1"/>
<circle class="a" r="5.3" cx="256.6" cy="401.8"/>
<circle class="b" r="5.3" cx="238.2" cy="396.2"/>
<circle class="b" r="5.3" cx="193.7" cy="401.8"/>
<circle class="b" r="5.3" cx="241.0" cy="415.8"/>
<circle class="b" r="5.3" cx="168.3" cy="399.9"/>
<circle class="a" r="5.3" cx="204.9" cy="395.3"/>
<circle class="a" r="5.3" cx="168.7" cy="418.6"/>
<circle class="a" r="5.3" cx="176.6" cy="406.5"/>
<circle class="b" r="5.3" cx="165.3" cy="404.6"/>
<circle class="a" r="5.3" cx="211.4" cy="388.7"/>
<circle class="a" r="5.3" cx="227.5" cy="399.0"/>
<circle class="a" r="5.3" cx="162.8" cy="406.5"/>
<circle class="a" r="5.3" cx="164.7" cy="405.5"/>
<circle class="b" r="5.3" cx="178.8" cy="393.4"/>
<circle class="a" r="5.3" cx="205.1" cy="400.9"/>
<circle class="a" r="5.3" cx="162.1" cy="392.5"/>
<circle class="a" r="5.3" cx="186.6" cy="399.0"/>
<circle class="b" r="5.3" cx="248.2" cy="393.4"/>
<circle class="a" r="5.3" cx="185.5" cy="415.8"/>
<circle class="a" r="5.3" cx="258.7" cy="404.6"/>
<circle class="a" r="5.3" cx="197.4" cy="404.6"/>
<circle class="b" r="5.3" cx="216.1" cy="405.5"/>
<circle class="a" r="5.3" cx="196.4" cy="406.5"/>
<circle class="a" r="5.3" cx="197.2" cy="403.7"/>
<circle class="a" r="5.3" cx="143.7" cy="411.1"/>
<circle class="b" r="5.3" cx="223.6" cy="392.5"/>
<circle class="b" r="5.3" cx="213.9" cy="383.1"/>
<circle class="a" r="5.3" cx="139.7" cy="413.9"/>
<circle class="b" r="5.3" cx="249.9" cy="402.7"/>
<circle class="a" r="5.3" cx="170.6" cy="398.1"/>
<circle class="b" r="5.3" cx="227.2" cy="409.3"/>
<circle class="b" r="5.3" cx="183.9" cy="407.4"/>
<circle class="b" r="5.3" cx="198.8" cy="399.9"/>
<circle class="a" r="5.3" cx="146.5" cy="404.6"/>
<circle class="a" r="5.3" cx="171.4" cy="400.9"/>
<circle class="a" r="5.3" cx="174.0" cy="408.3"/>
<circle class="b" r="5.3" cx="227.6" cy="385.9"/>
<circle class="a" r="5.3" cx="147.5" cy="406.5"/>
<circle class="a" r="5.3" cx="245.4" cy="395.3"/>
<circle class="b" r="5.3" cx="235.9" cy="399.9"/>
<circle class="a" r="5.3" cx="197.8" cy="398.1"/>
<circle class="a" r="5.3" cx="158.4" cy="409.3"/>
<circle class="b" r="5.3" cx="225.2" cy="406.5"/>
<circle class="b" r="5.3" cx="225.1" cy="402.7"/>
<circle class="b" r="5.3" cx="219.7" cy="389.7"/>
<circle class="b" r="5.3" cx="219.7" cy="404.6"/>
<circle class="b" r="5.3" cx="212.0" cy="408.3"/>
<circle class="a" r="5.3" cx="128.9" cy="385.9"/>
<circle class="b" r="5.3" cx="247.6" cy="395.3"/>
<circle class="b" r="5.3" cx="212.8" cy="412.1"/>
<circle class="b" r="5.3" cx="170.3" cy="417.7"/>
<circle class="a" r="5.3" cx="196.4" cy="409.3"/>
<circle class="a" r="5.3" cx="132.9" cy="413.0"/>
<circle class="b" r="5.3" cx="248.3" cy="385.9"/>
<circle class="b" r="5.3" cx="241.3" cy="396.2"/>
<circle class="b" r="5.3" cx="217.3" cy="390.6"/>
<circle class="b" r="5.3" cx="252.4" cy="397.1"/>
<circle class="a" r="5.3" cx="190.7" cy="406.5"/>
<circle class="b" r="5.3" cx="228.3" cy="399.9"/>
<circle class="a" r="5.3" cx="252.3" cy="416.7"/>
<circle class="b" r="5.3" cx="119.1" cy="399.0"/>
<circle class="a" r="5.3" cx="199.2" cy="406.5"/>
<circle class="b" r="5.3" cx="180.8" cy="394.3"/>
<circle class="a" r="5.3" cx="188.7" cy="411.1"/>
<circle class="b" r="5.3" cx="221.0" cy="405.5"/>
<circle class="a" r="5.3" cx="194.3" cy="424.2"/>
<circle class="b" r="5.3" cx="213.8" cy="399.9"/>
<circle class="a" r="5.3" cx="182.7" cy="400.9"/>
<circle class="a" r="5.3" cx="199.6" cy="410.2"/>
<circle class="a" r="5.3" cx="147.3" cy="408.3"/>
<circle class="a" r="5.3" cx="125.5" cy="407.4"/>
<circle class="b" r="5.3" cx="157.8" cy="393.4"/>
<circle class="a" r="5.3" cx="184.8" cy="394.3"/>
<circle class="b" r="5.3" cx="247.8" cy="400.9"/>
<circle class="b" r="5.3" cx="233.3" cy="394.3"/>
<circle class="b" r="5.3" cx="191.4" cy="388.7"/>
<circle class="a" r="5.3" cx="229.0" cy="408.3"/>
<circle class="a" r="5.3" cx="121.4" cy="415.8"/>
<circle class="b" r="5.3" cx="214.1" cy="399.9"/>
<circle class="a" r="5.3" cx="179.6" cy="392.5"/>
<circle class="a" r="5.3" cx="196.6" cy="392.5"/>
<circle class="b" r="5.3" cx="160.8" cy="411.1"/>
<circle class="b" r="5.3" cx="212.5" cy="372.8"/>
<circle class="b" r="5.3" cx="220.4" cy="402.7"/>
<circle class="a" r="5.3" cx="228.4" cy="402.7"/>
<circle class="b" r="5.3" cx="258.1" cy="370.0"/>
<circle class="a" r="5.3" cx="229.7" cy="406.5"/>
<circle class="a" r="5.3" cx="190.0" cy="403.7"/>
<circle class="b" r="5.3" cx="243.6" cy="391.5"/>
<circle class="a" r="5.3" cx="151.4" cy="395.3"/>
<circle class="a" r="5.3" cx="156.2" cy="420.5"/>
<circle class="b" r="5.3" cx="247.0" cy="409.3"/>
<circle class="b" r="5.3" cx="210.3" cy="404.6"/>
<circle class="b" r="5.3" cx="237.2" cy="397.1"/>
<circle class="a" r="5.3" cx="154.5" cy="399.9"/>
<circle class="a" r="5.3" cx="183.0" cy="402.7"/>
<circle class="a" r="5.3" cx="196.3" cy="401.8"/>
<circle class="b" r="5.3" cx="176.3" cy="401.8"/>
<circle class="a" r="5.3" cx="258.1" cy="414.9"/>
<circle class="a" r="5.3" cx="179.2" cy="403.7"/>
<circle class="b" r="5.3" cx="210.7" cy="403.7"/>
<circle class="a" r="5.3" cx="185.1" cy="409.3"/>
<circle class="a" r="5.3" cx="197.5" cy="403.7"/>
<circle class="a" r="5.3" cx="199.2" cy="398.1"/>
<circle class="a" r="5.3" cx="222.6" cy="405.5"/>
<circle class="b" r="5.3" cx="146.2" cy="396.2"/>
<circle class="b" r="5.3" cx="214.2" cy="394.3"/>
<circle class="b" r="5.3" cx="203.7" cy="409.3"/>
<circle class="b" r="5.3" cx="151.6" cy="404.6"/>
<circle class="a" r="5.3" cx="228.7" cy="387.8"/>
<circle class="a" r="5.3" cx="212.8" cy="413.0"/>
<circle class="b" r="5.3" cx="184.6" cy="398.1"/>
<circle class="a" r="5.3" cx="204.5" cy="405.5"/>
<circle class="b" r="5.3" cx="242.6" cy="385.9"/>
<circle class="a" r="5.3" cx="239.4" cy="412.1"/>
<circle class="a" r="5.3" cx="208.4" cy="410.2"/>
<circle class="b" r="5.3" cx="243.2" cy="385.9"/>
<circle class="a" r="5.3" cx="203.4" cy="404.6"/>
<circle class="a" r="5.3" cx="228.7" cy="407.4"/>
<circle class="b" r="5.3" cx="228.6" cy="405.5"/>
<circle class="b" r="5.3" cx="192.8" cy="399.9"/>
<circle class="b" r="5.3" cx="214.7" cy="404.6"/>
<circle class="b" r="5.3" cx="203.3" cy="397.1"/>
<circle class="b" r="5.3" cx="212.2" cy="402.7"/>
<circle class="a" r="5.3" cx="211.8" cy="413.9"/>
<circle class="b" r="5.3" cx="251.2" cy="411.1"/>
<circle class="a" r="5.3" cx="143.3" cy="398.1"/>
<circle class="b" r="5.3" cx="235.6" cy="404.6"/>
<circle class="b" r="5.3" cx="226.2" cy="400.9"/>
<circle class="a" r="5.3" cx="197.4" cy="408.3"/>
<circle class="b" r="5.3" cx="258.6" cy="400.9"/>
<circle class="a" r="5.3" cx="213.6" cy="404.6"/>
<circle class="b" r="5.3" cx="212.9" cy="397.1"/>
<circle class="a" r="5.3" cx="175.6" cy="405.5"/>
<circle class="b" r="5.3" cx="134.5" cy="396.2"/>
<circle class="a" r="5.3" cx="149.7" cy="384.1"/>
<circle class="a" r="5.3" cx="155.4" cy="392.5"/>
<circle class="b" r="5.3" cx="254.3" cy="393.4"/>
<circle class="a" r="5.3" cx="135.4" cy="404.6"/>
<circle class="b" r="5.3" cx="238.0" cy="394.3"/>
<circle class="b" r="5.3" cx="257.1" cy="403.7"/>
<circle class="a" r="5.3" cx="185.7" cy="410.2"/>
<circle class="b" r="5.3" cx="214.2" cy="394.3"/>
<circle class="b" r="5.3" cx="237.8" cy="395.3"/>
<circle class="a" r="5.3" cx="134.8" cy="389.7"/>
<circle class="b" r="5.3" cx="196.6" cy="396.2"/>
<circle class="a" r="5.3" cx="187.5" cy="409.3"/>
<circle class="a" r="5.3" cx="222.1" cy="406.5"/>
<circle class="b" r="5.3" cx="208.6" cy="392.5"/>
<circle class="a" r="5.3" cx="142.8" cy="418.6"/>
<circle class="a" r="5.3" cx="234.5" cy="394.3"/>
<circle class="a" r="5.3" cx="253.6" cy="408.3"/>
<circle class="a" r="5.3" cx="183.4" cy="396.2"/>
<circle class="b" r="5.3" cx="257.5" cy="386.9"/>
<circle class="a" r="5.3" cx="255.7" cy="392.5"/>
<circle class="a" r="5.3" cx="134.3" cy="398.1"/>
<circle class="b" r="5.3" cx="255.6" cy="398.1"/>
<circle class="a" r="5.3" cx="185.7" cy="405.5"/>
<circle class="b" r="5.3" cx="193.6" cy="407.4"/>
<circle class="b" r="5.3" cx="189.7" cy="397.1"/>
<circle class="a" r="5.3" cx="173.1" cy="407.4"/>
<circle class="b" r="5.3" cx="236.5" cy="382.2"/>
<circle class="a" r="5.3" cx="169.6" cy="400.9"/>
<circle class="a" r="5.3" cx="147.0" cy="415.8"/>
<circle class="a" r="5.3" cx="178.9" cy="392.5"/>
<circle class="b" r="5.3" cx="198.0" cy="378.5"/>
<circle class="a" r="5.3" cx="211.1" cy="412.1"/>
<circle class="a" r="5.3" cx="210.5" cy="389.7"/>
<circle class="b" r="5.3" cx="198.5" cy="392.5"/>
<circle class="a" r="5.3" cx="199.2" cy="409.3"/>
<circle class="a" r="5.3" cx="203.1" cy="386.9"/>
<circle class="b" r="5.3" cx="142.9" cy="402.7"/>
<circle class="b" r="5.3" cx="178.2" cy="404.6"/>
<circle class="b" r="5.3" cx="186.9" cy="410.2"/>
<circle class="a" r="5.3" cx="139.1" cy="398.1"/>
<circle class="b" r="5.3" cx="195.6" cy="399.0"/>
<circle class="a" r="5.3" cx="180.6" cy="415.8"/>
<circle class="a" r="5.3" cx="203.3" cy="394.3"/>
<circle class="b" r="5.3" cx="192.3" cy="402.7"/>
<circle class="b" r="5.3" cx="186.4" cy="386.9"/>
<circle class="a" r="5.3" cx="215.1" cy="419.5"/>
<circle class="a" r="5.3" cx="248.1" cy="414.9"/>
<circle class="a" r="5.3" cx="195.1" cy="410.2"/>
<circle class="b" r="5.3" cx="187.9" cy="389.7"/>
<circle class="a" r="5.3" cx="198.7" cy="421.4"/>
<circle class="b" r="5.3" cx="180.3" cy="360.7"/>
<circle class="b" r="5.3" cx="196.7" cy="411.1"/>
<circle class="a" r="5.3" cx="159.3" cy="395.3"/>
<circle class="b" r="5.3" cx="227.9" cy="399.9"/>
<circle class="a" r="5.3" cx="225.6" cy="411.1"/>
<circle class="a" r="5.3" cx="221.8" cy="413.0"/>
<circle class="a" r="5.3" cx="210.6" cy="392.5"/>
<circle class="b" r="5.3" cx="257.8" cy="406.5"/>
<circle class="b" r="5.3" cx="259.0" cy="404.6"/>
<circle class="a" r="5.3" cx="124.9" cy="402.7"/>
<circle class="a" r="5.3" cx="220.1" cy="395.3"/>
<circle class="a" r="5.3" cx="187.0" cy="400.9"/>
<circle class="b" r="5.3" cx="222.9" cy="407.4"/>
<circle class="b" r="5.3" cx="146.7" cy="398.1"/>
<circle class="a" r="5.3" cx="203.7" cy="400.9"/>
<circle class="b" r="5.3" cx="152.3" cy="385.9"/>
<circle class="b" r="5.3" cx="182.0" cy="388.7"/>
<circle class="b" r="5.3" cx="199.5" cy="403.7"/>
<circle class="b" r="5.3" cx="144.8" cy="390.6"/>
<circle class="b" r="5.3" cx="218.6" cy="405.5"/>
<circle class="b" r="5.3" cx="246.3" cy="398.1"/>
<circle class="b" r="5.3" cx="205.6" cy="376.6"/>
<circle class="b" r="5.3" cx="243.8" cy="395.3"/>
<circle class="a" r="5.3" cx="167.8" cy="402.7"/>
<circle class="b" r="5.3" cx="221.4" cy="391.5"/>
<circle class="b" r="5.3" cx="197.8" cy="399.9"/>
<circle class="b" r="5.3" cx="177.1" cy="390.6"/>
<circle class="a" r="5.3" cx="208.3" cy="395.3"/>
<circle class="b" r="5.3" cx="250.5" cy="383.1"/>
<circle class="a" r="5.3" cx="213.8" cy="409.3"/>
<circle class="b" r="5.3" cx="229.8" cy="375.7"/>
<circle class="a" r="5.3" cx="150.2" cy="413.0"/>
<circle class="a" r="5.3" cx="211.0" cy="405.5"/>
<circle class="a" r="5.3" cx="240.6" cy="402.7"/>
<circle class="b" r="5.3" cx="144.4" cy="393.4"/>
<circle class="a" r="5.3" cx="203.5" cy="397.1"/>
<circle class="b" r="5.3" cx="228.0" cy="393.4"/>
<circle class="a" r="5.3" cx="171.1" cy="394.3"/>
<circle class="b" r="5.3" cx="251.4" cy="392.5"/>
<circle class="a" r="5.3" cx="214.9" cy="368.2"/>
<circle class="b" r="5.3" cx="153.8" cy="403.7"/>
<circle class="a" r="5.3" cx="246.8" cy="404.6"/>
<circle class="a" r="5.3" cx="153.5" cy="414.9"/>
<circle class="a" r="5.3" cx="241.5" cy="398.1"/>
<circle class="a" r="5.3" cx="258.3" cy="406.5"/>
<circle class="b" r="5.3" cx="136.4" cy="401.8"/>
<circle class="a" r="5.3" cx="190.7" cy="395.3"/>
<circle class="b" r="5.3" cx="214.1" cy="395.3"/>
<circle class="a" r="5.3" cx="181.0" cy="408.3"/>
<circle class="a" r="5.3" cx="248.2" cy="396.2"/>
<circle class="a" r="5.3" cx="202.9" cy="409.3"/>
<circle class="b" r="5.3" cx="230.5" cy="398.1"/>
<circle class="b" r="5.3" cx="222.7" cy="399.9"/>
<circle class="b" r="5.3" cx="212.7" cy="378.5"/>
<circle class="a" r="5.3" cx="152.3" cy="401.8"/>
<circle class="b" r="5.3" cx="247.7" cy="399.9"/>
<circle class="a" r="5.3" cx="157.2" cy="412.1"/>
<circle class="b" r="5.3" cx="229.5" cy="405.5"/>
<circle class="a" r="5.3" cx="223.7" cy="401.8"/>
<circle class="a" r="5.3" cx="230.9" cy="398.1"/>
<circle class="a" r="5.3" cx="137.1" cy="399.9"/>
<circle class="b" r="5.3" cx="252.1" cy="380.3"/>
<circle class="a" r="5.3" cx="225.2" cy="420.5"/>
<circle class="a" r="5.3" cx="131.0" cy="411.1"/>
<circle class="a" r="5.3" cx="240.2" cy="397.1"/>
<circle class="b" r="5.3" cx="214.5" cy="396.2"/>
<circle class="b" r="5.3" cx="219.7" cy="405.5"/>
<circle class="a" r="5.3" cx="168.8" cy="398.1"/>
<circle class="b" r="5.3" cx="182.9" cy="400.9"/>
<circle class="b" r="5.3" cx="214.3" cy="412.1"/>
<circle class="a" r="5.3" cx="223.3" cy="397.1"/>
<circle class="b" r="5.3" cx="214.2" cy="396.2"/>
<circle class="b" r="5.3" cx="123.7" cy="383.1"/>
<circle class="a" r="5.3" cx="200.9" cy="417.7"/>
<circle class="a" r="5.3" cx="200.6" cy="394.3"/>
<circle class="b" r="5.3" cx="217.1" cy="388.7"/>
<circle class="a" r="5.3" cx="246.5" cy="402.7"/>
<circle class="b" r="5.3" cx="251.1" cy="391.5"/>
<circle class="b" r="5.3" cx="172.7" cy="407.4"/>
<circle class="b" r="5.3" cx="234.1" cy="395.3"/>
<circle class="b" r="5.3" cx="247.0" cy="386.9"/>
<circle class="a" r="5.3" cx="253.4" cy="413.9"/>
<circle class="a" r="5.3" cx="249.5" cy="402.7"/>
<circle class="a" r="5.3" cx="161.7" cy="396.2"/>
<circle class="b" r="5.3" cx="158.5" cy="393.4"/>
<circle class="b" r="5.3" cx="191.6" cy="399.9"/>
<circle class="b" r="5.3" cx="219.0" cy="402.7"/>
<circle class="a" r="5.3" cx="226.3" cy="414.9"/>
<circle class="a" r="5.3" cx="168.9" cy="390.6"/>
<circle class="a" r="5.3" cx="150.7" cy="401.8"/>
<circle class="a" r="5.3" cx="217.1" cy="411.1"/>
<circle class="b" r="5.3" cx="218.6" cy="401.8"/>
<circle class="b" r="5.3" cx="157.6" cy="378.5"/>
<circle class="a" r="5.3" cx="135.6" cy="384.1"/>
<circle class="a" r="5.3" cx="189.6" cy="405.5"/>
<circle class="b" r="5.3" cx="245.1" cy="398.1"/>
<circle class="a" r="5.3" cx="218.2" cy="417.7"/>
<circle class="b" r="5.3" cx="223.5" cy="413.0"/>
<circle class="a" r="5.3" cx="168.2" cy="403.7"/>
<circle class="b" r="5.3" cx="147.8" cy="400.9"/>
<circle class="b" r="5.3" cx="185.5" cy="391.5"/>
<circle class="a" r="5.3" cx="187.7" cy="396.2"/>
<circle class="b" r="5.3" cx="139.6" cy="412.1"/>
<circle class="b" r="5.3" cx="178.2" cy="391.5"/>
<circle class="a" r="5.3" cx="192.0" cy="406.5"/>
<circle class="b" r="5.3" cx="206.0" cy="406.5"/>
<circle class="a" r="5.3" cx="156.5" cy="400.9"/>
<circle class="a" r="5.3" cx="153.0" cy="403.7"/>
<circle class="a" r="5.3" cx="209.0" cy="427.0"/>
<circle class="b" r="5.3" cx="222.4" cy="410.2"/>
<circle class="a" r="5.3" cx="235.3" cy="407.4"/>
<circle class="b" r="5.3" cx="137.0" cy="407.4"/>
<circle class="a" r="5.3" cx="250.5" cy="408.3"/>
<circle class="b" r="5.3" cx="199.4" cy="397.1"/>
<circle class="a" r="5.3" cx="192.2" cy="417.7"/>
<circle class="b" r="5.3" cx="194.7" cy="409.3"/>
<circle class="b" r="5.3" cx="187.9" cy="403.7"/>
<circle class="a" r="5.3" cx="196.0" cy="419.5"/>
<circle class="b" r="5.3" cx="252.7" cy="404.6"/>
<circle class="a" r="5.3" cx="235.8" cy="385.9"/>
<circle class="a" r="5.3" cx="234.6" cy="396.2"/>
<circle class="a" r="5.3" cx="155.0" cy="410.2"/>
<circle class="b" r="5.3" cx="149.8" cy="387.8"/>
<circle class="a" r="5.3" cx="253.1" cy="425.2"/>
<circle class="b" r="5.3" cx="237.7" cy="390.6"/>
<circle class="b" r="5.3" cx="238.2" cy="412.1"/>
<circle class="b" r="5.3" cx="249.3" cy="387.8"/>
<circle class="a" r="5.3" cx="174.8" cy="401.8"/>
<circle class="b" r="5.3" cx="187.4" cy="405.5"/>
<circle class="a" r="5.3" cx="186.8" cy="397.1"/>
<circle class="b" r="5.3" cx="152.9" cy="410.2"/>
<circle class="b" r="5.3" cx="175.4" cy="406.5"/>
<circle class="b" r="5.3" cx="193.5" cy="416.7"/>
<circle class="a" r="5.3" cx="257.4" cy="403.7"/>
<circle class="b" r="5.3" cx="188.9" cy="391.5"/>
<circle class="b" r="5.3" cx="189.5" cy="392.5"/>
<circle class="a" r="5.3" cx="232.5" cy="413.0"/>
<circle class="a" r="5.3" cx="249.1" cy="414.9"/>
<circle class="b" r="5.3" cx="165.4" cy="400.9"/>
<circle class="a" r="5.3" cx="182.4" cy="384.1"/>
<circle class="b" r="5.3" cx="257.3" cy="394.3"/>
<circle class="b" r="5.3" cx="220.0" cy="387.8"/>
<circle class="a" r="5.3" cx="187.4" cy="394.3"/>
<circle class="a" r="5.3" cx="132.4" cy="406.5"/>
<circle class="a" r="5.3" cx="148.4" cy="398.1"/>
<circle class="b" r="5.3" cx="235.8" cy="402.7"/>
<circle class="b" r="5.3" cx="253.9" cy="401.8"/>
<circle class="a" r="5.3" cx="202.1" cy="400.9"/>
<circle class="b" r="5.3" cx="192.8" cy="394.3"/>
<circle class="b" r="5.3" cx="229.3" cy="379.4"/>
<circle class="b" r="5.3" cx="169.9" cy="398.1"/>
<circle class="b" r="5.3" cx="196.0" cy="379.4"/>
<circle class="b" r="5.3" cx="244.5" cy="421.4"/>
<circle class="a" r="5.3" cx="191.5" cy="394.3"/>
<circle class="b" r="5.3" cx="233.5" cy="380.3"/>
<circle class="a" r="5.3" cx="216.3" cy="418.6"/>
<circle class="a" r="5.3" cx="229.9" cy="401.8"/>
<circle class="b" r="5.3" cx="226.0" cy="392.5"/>
<circle class="b" r="5.3" cx="246.5" cy="403.7"/>
<circle class="a" r="5.3" cx="128.8" cy="393.4"/>
<circle class="b" r="5.3" cx="227.8" cy="413.9"/>
<circle class="b" r="5.3" cx="159.4" cy="398.1"/>
<circle class="b" r="5.3" cx="220.9" cy="394.3"/>
<circle class="a" r="5.3" cx="118.4" cy="409.3"/>
<circle class="b" r="5.3" cx="173.2" cy="385.9"/>
<circle class="b" r="5.3" cx="226.6" cy="396.2"/>
<circle class="a" r="5.3" cx="231.1" cy="408.3"/>
<circle class="a" r="5.3" cx="122.8" cy="410.2"/>
<circle class="a" r="5.3" cx="194.2" cy="411.1"/>
<circle class="a" r="5.3" cx="129.1" cy="407.4"/>
<circle class="b" r="5.3" cx="213.9" cy="393.4"/>
<circle class="a" r="5.3" cx="184.7" cy="399.0"/>
<circle class="b" r="5.3" cx="227.3" cy="399.9"/>
<circle class="a" r="5.3" cx="159.9" cy="403.7"/>
<circle class="b" r="5.3" cx="230.4" cy="402.7"/>
<circle class="b" r="5.3" cx="193.3" cy="414.9"/>
<circle class="a" r="5.3" cx="207.5" cy="407.4"/>
<circle class="b" r="5.3" cx="254.1" cy="388.7"/>
<circle class="b" r="5.3" cx="237.3" cy="399.0"/>
<circle class="b" r="5.3" cx="257.6" cy="403.7"/>
<circle class="a" r="5.3" cx="176.0" cy="403.7"/>
<circle class="a" r="5.3" cx="137.0" cy="402.7"/>
<circle class="a" r="5.3" cx="173.5" cy="410.2"/>
<circle class="b" r="5.3" cx="232.7" cy="409.3"/>
<circle class="b" r="5.3" cx="173.6" cy="412.1"/>
<circle class="a" r="5.3" cx="203.2" cy="408.3"/>
<circle class="a" r="5.3" cx="193.0" cy="394.3"/>
<circle class="b" r="5.3" cx="160.8" cy="396.2"/>
<circle class="a" r="5.3" cx="184.6" cy="397.1"/>
<circle class="a" r="5.3" cx="210.2" cy="413.0"/>
<circle class="a" r="5.3" cx="164.9" cy="388.7"/>
<circle class="b" r="5.3" cx="248.0" cy="388.7"/>
<circle class="b" r="5.3" cx="234.5" cy="394.3"/>
<circle class="a" r="5.3" cx="156.4" cy="399.9"/>
<circle class="b" r="5.3" cx="195.0" cy="405.5"/>
<circle class="a" r="5.3" cx="214.6" cy="389.7"/>
<circle class="b" r="5.3" cx="196.4" cy="398.1"/>
<circle class="a" r="5.3" cx="139.1" cy="408.3"/>
<circle class="b" r="5.3" cx="207.2" cy="388.7"/>
<circle class="a" r="5.3" cx="163.0" cy="399.0"/>
<circle class="b" r="5.3" cx="141.6" cy="394.3"/>
<circle class="b" r="5.3" cx="146.4" cy="412.1"/>
<circle class="b" r="5.3" cx="204.8" cy="383.1"/>
<circle class="b" r="5.3" cx="210.4" cy="394.3"/>
<circle class="a" r="5.3" cx="185.9" cy="410.2"/>
<circle class="a" r="5.3" cx="140.0" cy="399.0"/>
<circle class="b" r="5.3" cx="145.4" cy="398.1"/>
<circle class="b" r="5.3" cx="142.3" cy="407.4"/>
<circle class="b" r="5.3" cx="164.7" cy="385.9"/>
<circle class="a" r="5.3" cx="130.9" cy="405.5"/>
<circle class="b" r="5.3" cx="224.0" cy="396.2"/>
<circle class="a" r="5.3" cx="179.4" cy="409.3"/>
<circle class="a" r="5.3" cx="166.6" cy="416.7"/>
<circle class="b" r="5.3" cx="149.0" cy="385.0"/>
<circle class="a" r="5.3" cx="228.6" cy="412.1"/>
<circle class="a" r="5.3" cx="184.6" cy="400.9"/>
<circle class="b" r="5.3" cx="254.8" cy="390.6"/>
<circle class="a" r="5.3" cx="192.8" cy="403.7"/>
<circle class="a" r="5.3" cx="150.7" cy="399.0"/>
<circle class="a" r="5.3" cx="162.5" cy="419.5"/>
<circle class="b" r="5.3" cx="230.6" cy="385.9"/>
<circle class="a" r="5.3" cx="181.4" cy="391.5"/>
<circle class="b" r="5.3" cx="147.8" cy="399.9"/>
<circle class="b" r="5.3" cx="195.8" cy="416.7"/>
<circle class="b" r="5.3" cx="204.9" cy="405.5"/>
<circle class="b" r="5.3" cx="199.8" cy="392.5"/>
<circle class="a" r="5.3" cx="188.4" cy="408.3"/>
<circle class="a" r="5.3" cx="209.0" cy="408.3"/>
<circle class="b" r="5.3" cx="143.0" cy="393.4"/>
<circle class="a" r="5.3" cx="188.9" cy="407.4"/>
<circle class="a" r="5.3" cx="121.0" cy="416.7"/>
<circle class="b" r="5.3" cx="221.2" cy="392.5"/>
<circle class="a" r="5.3" cx="212.5" cy="392.5"/>
<circle class="b" r="5.3" cx="171.0" cy="404.6"/>
<circle class="b" r="5.3" cx="239.4" cy="346.7"/>
<circle class="b" r="5.3" cx="197.3" cy="402.7"/>
<circle class="a" r="5.3" cx="221.6" cy="412.1"/>
<circle class="a" r="5.3" cx="200.0" cy="399.0"/>
<circle class="a" r="5.3" cx="148.5" cy="405.5"/>
<circle class="b" r="5.3" cx="144.6" cy="385.9"/>
<circle class="b" r="5.3" cx="209.5" cy="399.0"/>
<circle class="a" r="5.3" cx="223.5" cy="398.1"/>
<circle class="b" r="5.3" cx="219.0" cy="397.1"/>
<circle class="a" r="5.3" cx="166.9" cy="408.3"/>
<circle class="b" r="5.3" cx="239.1" cy="397.1"/>
<circle class="b" r="5.3" cx="183.1" cy="405.5"/>
<circle class="a" r="5.3" cx="238.2" cy="399.0"/>
<circle class="a" r="5.3" cx="126.0" cy="403.7"/>
<circle class="b" r="5.3" cx="230.8" cy="405.5"/>
<circle class="a" r="5.3" cx="183.4" cy="392.5"/>
<circle class="a" r="5.3" cx="239.6" cy="409.3"/>
<circle class="b" r="5.3" cx="231.6" cy="409.3"/>
<circle class="b" r="5.3" cx="232.0" cy="393.4"/>
<circle class="a" r="5.3" cx="221.7" cy="399.9"/>
<circle class="a" r="5.3" cx="191.1" cy="396.2"/>
<circle class="a" r="5.3" cx="208.5" cy="385.9"/>
<circle class="b" r="5.3" cx="218.1" cy="413.9"/>
<circle class="b" r="5.3" cx="217.9" cy="394.3"/>
<circle class="b" r="5.3" cx="162.9" cy="390.6"/>
<circle class="b" r="5.3" cx="234.5" cy="407.4"/>
<circle class="a" r="5.3" cx="195.4" cy="389.7"/>
<circle class="a" r="5.3" cx="178.4" cy="394.3"/>
<circle class="b" r="5.3" cx="192.3" cy="408.3"/>
<circle class="a" r="5.3" cx="212.9" cy="397.1"/>
<circle class="a" r="5.3" cx="197.4" cy="392.5"/>
<circle class="b" r="5.3" cx="188.1" cy="407.4"/>
<circle class="a" r="5.3" cx="183.4" cy="400.9"/>
<circle class="b" r="5.3" cx="222.1" cy="405.5"/>
<circle class="a" r="5.3" cx="189.0" cy="415.8"/>
<circle class="a" r="5.3" cx="253.0" cy="397.1"/>
<circle class="b" r="5.3" cx="128.4" cy="399.0"/>
<circle class="b" r="5.3" cx="136.6" cy="411.1"/>
<circle class="a" r="5.3" cx="145.1" cy="393.4"/>
<circle class="a" r="5.3" cx="192.7" cy="405.5"/>
<circle class="a" r="5.3" cx="176.4" cy="395.3"/>
<circle class="b" r="5.3" cx="147.2" cy="387.8"/>
<circle class="a" r="5.3" cx="149.1" cy="406.5"/>
<circle class="a" r="5.3" cx="147.6" cy="413.9"/>
<circle class="b" r="5.3" cx="245.5" cy="407.4"/>
<circle class="b" r="5.3" cx="231.8" cy="385.0"/>
<circle class="b" r="5.3" cx="171.4" cy="396.2"/>
<circle class="b" r="5.3" cx="185.3" cy="406.5"/>
<circle class="a" r="5.3" cx="124.3" cy="411.1"/>
<circle class="a" r="5.3" cx="190.9" cy="388.7"/>
<circle class="b" r="5.3" cx="233.5" cy="392.5"/>
<circle class="b" r="5.3" cx="233.3" cy="389.7"/>
<circle class="a" r="5.3" cx="167.1" cy="410.2"/>
<circle class="a" r="5.3" cx="168.6" cy="391.5"/>
<circle class="a" r="5.3" cx="233.2" cy="391.5"/>
<circle class="b" r="5.3" cx="169.1" cy="398.1"/>
<circle class="b" r="5.3" cx="227.9" cy="409.3"/>
<circle class="b" r="5.3" cx="247.5" cy="395.3"/>
<circle class="b" r="5.3" cx="160.9" cy="399.9"/>
<circle class="b" r="5.3" cx="139.2" cy="399.9"/>
<circle class="a" r="5.3" cx="146.1" cy="405.5"/>
<circle class="b" r="5.3" cx="237.0" cy="408.3"/>
<circle class="a" r="5.3" cx="239.1" cy="386.9"/>
<circle class="a" r="5.3" cx="170.3" cy="394.3"/>
<circle class="a" r="5.3" cx="230.7" cy="398.1"/>
<circle class="b" r="5.3" cx="175.0" cy="381.3"/>
<circle class="a" r="5.3" cx="221.7" cy="406.5"/>
<circle class="a" r="5.3" cx="190.8" cy="397.1"/>
<circle class="b" r="5.3" cx="227.3" cy="408.3"/>
<circle class="a" r="5.3" cx="219.3" cy="393.4"/>
<circle class="a" r="5.3" cx="225.5" cy="403.7"/>
<circle class="a" r="5.3" cx="217.3" cy="413.9"/>
<circle class="b" r="5.3" cx="166.4" cy="393.4"/>
<circle class="a" r="5.3" cx="138.1" cy="392.5"/>
<circle class="b" r="5.3" cx="153.8" cy="405.5"/>
<circle class="b" r="5.3" cx="227.4" cy="375.7"/>
<circle class="b" r="5.3" cx="177.4" cy="396.2"/>
<circle class="a" r="5.3" cx="237.7" cy="417.7"/>
<circle class="b" r="5.3" cx="232.8" cy="394.3"/>
<circle class="b" r="5.3" cx="190.7" cy="388.7"/>
<circle class="b" r="5.3" cx="212.2" cy="398.1"/>
<circle class="a" r="5.3" cx="149.5" cy="406.5"/>
<circle class="b" r="5.3" cx="199.0" cy="406.5"/>
<circle class="a" r="5.3" cx="220.2" cy="383.1"/>
<circle class="b" r="5.3" cx="232.5" cy="407.4"/>
<circle class="b" r="5.3" cx="168.6" cy="413.0"/>
<circle class="a" r="5.3" cx="181.4" cy="410.2"/>
<circle class="b" r="5.3" cx="128.2" cy="397.1"/>
<circle class="a" r="5.3" cx="192.1" cy="408.3"/>
<circle class="a" r="5.3" cx="157.0" cy="408.3"/>
<circle class="b" r="5.3" cx="214.6" cy="392.5"/>
<circle class="b" r="5.3" cx="132.7" cy="390.6"/>
<circle class="a" r="5.3" cx="123.8" cy="394.3"/>
<circle class="b" r="5.3" cx="148.1" cy="405.5"/>
<circle class="a" r="5.3" cx="133.9" cy="388.7"/>
<circle class="b" r="5.3" cx="176.6" cy="376.6"/>
<circle class="a" r="5.3" cx="200.6" cy="403.7"/>
<circle class="a" r="5.3" cx="146.7" cy="423.3"/>
<circle class="a" r="5.3" cx="122.2" cy="410.2"/>
<circle class="b" r="5.3" cx="251.1" cy="392.5"/>
<circle class="b" r="5.3" cx="203.4" cy="381.3"/>
<circle class="a" r="5.3" cx="146.2" cy="395.3"/>
<circle class="b" r="5.3" cx="232.3" cy="402.7"/>
<circle class="b" r="5.3" cx="151.8" cy="404.6"/>
<circle class="b" r="5.3" cx="211.9" cy="399.0"/>
<circle class="a" r="5.3" cx="196.2" cy="411.1"/>
<circle class="b" r="5.3" cx="192.4" cy="408.3"/>
<circle class="a" r="5.3" cx="229.6" cy="395.3"/>
<circle class="a" r="5.3" cx="229.3" cy="396.2"/>
<circle class="a" r="5.3" cx="218.7" cy="401.8"/>
<circle class="a" r="5.3" cx="186.5" cy="399.0"/>
<circle class="b" r="5.3" cx="168.8" cy="395.3"/>
<circle class="b" r="5.3" cx="211.8" cy="397.1"/>
<circle class="a" r="5.3" cx="196.0" cy="406.5"/>
<circle class="a" r="5.3" cx="212.7" cy="399.9"/>
<circle class="b" r="5.3" cx="211.2" cy="400.9"/>
<circle class="b" r="5.3" cx="211.6" cy="373.8"/>
<circle class="b" r="5.3" cx="205.5" cy="399.9"/>
<circle class="a" r="5.3" cx="200.6" cy="411.1"/>
<circle class="b" r="5.3" cx="224.5" cy="412.1"/>
<circle class="b" r="5.3" cx="167.3" cy="385.0"/>
<circle class="b" r="5.3" cx="232.3" cy="403.7"/>
<circle class="a" r="5.3" cx="125.3" cy="406.5"/>
<circle class="b" r="5.3" cx="228.7" cy="404.6"/>
<circle class="b" r="5.3" cx="142.9" cy="399.0"/>
<circle class="a" r="5.3" cx="130.8" cy="401.8"/>
<circle class="b" r="5.3" cx="176.5" cy="403.7"/>
<circle class="a" r="5.3" cx="249.3" cy="406.5"/>
<circle class="a" r="5.3" cx="154.7" cy="412.1"/>
<circle class="b" r="5.3" cx="238.8" cy="402.7"/>
<circle class="a" r="5.3" cx="158.3" cy="410.2"/>
<circle class="a" r="5.3" cx="208.0" cy="398.1"/>
<circle class="a" r="5.3" cx="241.1" cy="402.7"/>
<circle class="b" r="5.3" cx="228.5" cy="395.3"/>
<circle class="a" r="5.3" cx="238.8" cy="404.6"/>
<circle class="a" r="5.3" cx="232.1" cy="411.1"/>
<circle class="a" r="5.3" cx="152.2" cy="406.5"/>
<circle class="a" r="5.3" cx="222.6" cy="406.5"/>
<circle class="b" r="5.3" cx="172.7" cy="392.5"/>
<circle class="a" r="5.3" cx="239.4" cy="413.9"/>
<circle class="b" r="5.3" cx="153.8" cy="408.3"/>
<circle class="b" r="5.3" cx="183.6" cy="411.1"/>
<circle class="b" r="5.3" cx="179.3" cy="399.9"/>
<circle class="a" r="5.3" cx="249.1" cy="398.1"/>
<circle class="a" r="5.3" cx="149.2" cy="396.2"/>
<circle class="b" r="5.3" cx="238.2" cy="394.3"/>
<circle class="b" r="5.3" cx="191.1" cy="375.7"/>
<circle class="b" r="5.3" cx="199.7" cy="395.3"/>
<circle class="b" r="5.3" cx="240.2" cy="394.3"/>
<circle class="a" r="5.3" cx="201.7" cy="410.2"/>
<circle class="b" r="5.3" cx="194.8" cy="406.5"/>
<circle class="a" r="5.3" cx="224.3" cy="407.4"/>
<circle class="b" r="5.3" cx="188.2" cy="392.5"/>
<circle class="a" r="5.3" cx="224.4" cy="399.9"/>
<circle class="b" r="5.3" cx="204.3" cy="411.1"/>
<circle class="a" r="5.3" cx="141.6" cy="406.5"/>
<circle class="a" r="5.3" cx="230.4" cy="408.3"/>
<circle class="a" r="5.3" cx="199.5" cy="394.3"/>
<circle class="b" r="5.3" cx="156.3" cy="374.7"/>
<circle class="a" r="5.3" cx="139.4" cy="391.5"/>
<circle class="a" r="5.3" cx="134.0" cy="403.7"/>
<circle class="a" r="5.3" cx="152.2" cy="402.7"/>
<circle class="b" r="5.3" cx="221.9" cy="390.6"/>
<circle class="a" r="5.3" cx="195.0" cy="394.3"/>
<circle class="b" r="5.3" cx="193.1" cy="401.8"/>
<circle class="b" r="5.3" cx="256.0" cy="385.9"/>
<circle class="b" r="5.3" cx="207.3" cy="399.9"/>
<circle class="b" r="5.3" cx="149.9" cy="406.5"/>
<circle class="a" r="5.3" cx="208.2" cy="375.7"/>
<circle class="b" r="5.3" cx="199.1" cy="386.9"/>
<circle class="b" r="5.3" cx="231.4" cy="399.9"/>
<circle class="a" r="5.3" cx="130.4" cy="419.5"/>
<circle class="a" r="5.3" cx="239.4" cy="395.3"/>
<circle class="b" r="5.3" cx="197.2" cy="410.2"/>
<circle class="a" r="5.3" cx="214.4" cy="398.1"/>
<circle class="b" r="5.3" cx="200.0" cy="397.1"/>
<circle class="b" r="5.3" cx="212.7" cy="400.9"/>
<circle class="b" r="5.3" cx="230.1" cy="399.9"/>
<circle class="b" r="5.3" cx="256.8" cy="392.5"/>
<circle class="b" r="5.3" cx="247.2" cy="388.7"/>
<circle class="a" r="5.3" cx="236.6" cy="417.7"/>
<circle class="a" r="5.3" cx="163.3" cy="404.6"/>
<circle class="a" r="5.3" cx="120.6" cy="408.3"/>
<circle class="a" r="5.3" cx="121.7" cy="399.0"/>
<circle class="a" r="5.3" cx="169.2" cy="409.3"/>
<circle class="b" r="5.3" cx="246.5" cy="406.5"/>
<circle class="b" r="5.3" cx="174.5" cy="389.7"/>
<circle class="a" r="5.3" cx="179.7" cy="399.9"/>
<circle class="b" r="5.3" cx="180.3" cy="397.1"/>
<circle class="b" r="5.3" cx="228.5" cy="401.8"/>
<circle class="a" r="5.3" cx="202.2" cy="410.2"/>
<circle class="a" r="5.3" cx="148.4" cy="413.0"/>
<circle class="b" r="5.3" cx="222.9" cy="397.1"/>
<circle class="b" r="5.3" cx="249.2" cy="399.0"/>
<circle class="a" r="5.3" cx="192.1" cy="402.7"/>
<circle class="a" r="5.3" cx="183.5" cy="407.4"/>
<circle class="a" r="5.3" cx="206.1" cy="407.4"/>
<circle class="b" r="5.3" cx="178.6" cy="394.3"/>
<circle class="a" r="5.3" cx="184.7" cy="396.2"/>
<circle class="a" r="5.3" cx="138.6" cy="409.3"/>
<circle class="a" r="5.3" cx="247.8" cy="405.5"/>
<circle class="a" r="5.3" cx="148.6" cy="406.5"/>
<circle class="a" r="5.3" cx="131.1" cy="401.8"/>
<circle class="b" r="5.3" cx="212.7" cy="395.3"/>
<circle class="a" r="5.3" cx="121.4" cy="409.3"/>
<circle class="a" r="5.3" cx="179.2" cy="405.5"/>
<circle class="b" r="5.3" cx="216.3" cy="399.9"/>
<circle class="b" r="5.3" cx="251.1" cy="393.4"/>
<circle class="a" r="5.3" cx="229.2" cy="402.7"/>
<circle class="a" r="5.3" cx="131.9" cy="408.3"/>
<circle class="b" r="5.3" cx="217.7" cy="388.7"/>
<circle class="a" r="5.3" cx="152.1" cy="407.4"/>
<circle class="b" r="5.3" cx="222.4" cy="393.4"/>
<circle class="b" r="5.3" cx="171.4" cy="389.7"/>
<circle class="a" r="5.3" cx="190.3" cy="409.3"/>
<circle class="b" r="5.3" cx="136.5" cy="402.7"/>
<circle class="a" r="5.3" cx="202.4" cy="399.0"/>
<circle class="b" r="5.3" cx="244.7" cy="393.4"/>
<circle class="a" r="5.3" cx="210.2" cy="408.3"/>
<circle class="b" r="5.3" cx="214.7" cy="371.0"/>
<circle class="a" r="5.3" cx="150.8" cy="408.3"/>
<circle class="b" r="5.3" cx="250.2" cy="395.3"/>
<circle class="a" r="5.3" cx="184.0" cy="413.0"/>
<circle class="a" r="5.3" cx="168.8" cy="413.0"/>
<circle class="a" r="5.3" cx="190.4" cy="414.9"/>
<circle class="a" r="5.3" cx="237.8" cy="402.7"/>
<circle class="b" r="5.3" cx="247.4" cy="401.8"/>
<circle class="b" r="5.3" cx="237.7" cy="394.3"/>
<circle class="a" r="5.3" cx="213.5" cy="399.0"/>
<circle class="a" r="5.3" cx="168.7" cy="404.6"/>
<circle class="b" r="5.3" cx="163.9" cy="385.0"/>
<circle class="b" r="5.3" cx="150.4" cy="389.7"/>
<circle class="a" r="5.3" cx="213.3" cy="401.8"/>
<circle class="a" r="5.3" cx="188.5" cy="383.1"/>
<circle class="b" r="5.3" cx="238.1" cy="398.1"/>
<circle class="a" r="5.3" cx="240.1" cy="405.5"/>
<circle class="a" r="5.3" cx="154.9" cy="391.5"/>
<circle class="a" r="5.3" cx="172.8" cy="402.7"/>
<circle class="b" r="5.3" cx="224.4" cy="400.9"/>
<circle class="a" r="5.3" cx="228.5" cy="403.7"/>
<circle class="a" r="5.3" cx="242.0" cy="412.1"/>
<circle class="b" r="5.3" cx="195.3" cy="401.8"/>
<circle class="b" r="5.3" cx="126.9" cy="401.8"/>
<circle class="b" r="5.3" cx="175.5" cy="394.3"/>
<circle class="b" r="5.3" cx="254.8" cy="385.0"/>
<circle class="b" r="5.3" cx="135.2" cy="396.2"/>
<circle class="b" r="5.3" cx="188.9" cy="403.7"/>
<circle class="b" r="5.3" cx="217.3" cy="400.9"/>
<circle class="b" r="5.3" cx="189.5" cy="395.3"/>
<circle class="a" r="5.3" cx="209.7" cy="401.8"/>
<circle class="b" r="5.3" cx="197.2" cy="401.8"/>
<circle class="a" r="5.3" cx="178.5" cy="398.1"/>
<circle class="a" r="5.3" cx="184.4" cy="407.4"/>
<circle class="b" r="5.3" cx="218.3" cy="397.1"/>
<circle class="b" r="5.3" cx="236.5" cy="402.7"/>
<circle class="a" r="5.3" cx="177.2" cy="395.3"/>
<circle class="b" r="5.3" cx="231.8" cy="399.0"/>
<circle class="a" r="5.3" cx="151.6" cy="397.1"/>
<circle class="b" r="5.3" cx="238.5" cy="390.6"/>
<circle class="b" r="5.3" cx="235.3" cy="416.7"/>
<circle class="a" r="5.3" cx="130.4" cy="424.2"/>
<circle class="a" r="5.3" cx="124.0" cy="408.3"/>
<circle class="a" r="5.3" cx="203.2" cy="412.1"/>
<circle class="b" r="5.3" cx="216.8" cy="385.9"/>
<circle class="b" r="5.3" cx="199.5" cy="400.9"/>
<circle class="a" r="5.3" cx="242.2" cy="414.9"/>
<circle class="a" r="5.3" cx="221.9" cy="418.6"/>
<circle class="a" r="5.3" cx="217.4" cy="413.0"/>
<circle class="b" r="5.3" cx="206.2" cy="373.8"/>
<circle class="b" r="5.3" cx="188.9" cy="396.2"/>
<circle class="a" r="5.3" cx="214.6" cy="408.3"/>
<circle class="a" r="5.3" cx="150.4" cy="419.5"/>
<circle class="b" r="5.3" cx="158.0" cy="401.8"/>
<circle class="a" r="5.3" cx="123.7" cy="386.9"/>
<circle class="a" r="5.3" cx="161.6" cy="404.6"/>
<circle class="b" r="5.3" cx="144.3" cy="411.1"/>
<circle class="a" r="5.3" cx="137.4" cy="407.4"/>
<circle class="a" r="5.3" cx="210.6" cy="399.0"/>
<circle class="a" r="5.3" cx="145.2" cy="393.4"/>
<circle class="b" r="5.3" cx="229.9" cy="387.8"/>
<circle class="a" r="5.3" cx="161.6" cy="397.1"/>
<circle class="a" r="5.3" cx="150.7" cy="419.5"/>
<circle class="a" r="5.3" cx="150.2" cy="415.8"/>
<circle class="b" r="5.3" cx="185.7" cy="402.7"/>
<circle class="a" r="5.3" cx="121.9" cy="400.9"/>
<circle class="b" r="5.3" cx="177.0" cy="402.7"/>
<circle class="a" r="5.3" cx="180.6" cy="412.1"/>
<circle class="a" r="5.3" cx="126.0" cy="412.1"/>
<circle class="b" r="5.3" cx="209.4" cy="400.9"/>
<circle class="b" r="5.3" cx="253.9" cy="409.3"/>
<circle class="b" r="5.3" cx="204.5" cy="399.0"/>
<circle class="a" r="5.3" cx="204.8" cy="405.5"/>
<circle class="a" r="5.3" cx="159.5" cy="391.5"/>
<circle class="a" r="5.3" cx="181.3" cy="415.8"/>
<circle class="a" r="5.3" cx="144.5" cy="397.1"/>
<circle class="b" r="5.3" cx="230.6" cy="391.5"/>
<circle class="b" r="5.3" cx="196.8" cy="405.5"/>
<circle class="b" r="5.3" cx="212.6" cy="389.7"/>
<circle class="b" r="5.3" cx="209.4" cy="395.3"/>
<circle class="b" r="5.3" cx="180.1" cy="399.0"/>
<circle class="a" r="5.3" cx="199.1" cy="405.5"/>
<circle class="a" r="5.3" cx="140.1" cy="402.7"/>
<circle class="a" r="5.3" cx="245.7" cy="404.6"/>
<circle class="b" r="5.3" cx="227.6" cy="388.7"/>
<circle class="b" r="5.3" cx="209.5" cy="382.2"/>
<circle class="a" r="5.3" cx="140.7" cy="406.5"/>
<circle class="a" r="5.3" cx="255.4" cy="417.7"/>
<circle class="b" r="5.3" cx="255.8" cy="384.1"/>
<circle class="a" r="5.3" cx="124.1" cy="405.5"/>
<circle class="a" r="5.3" cx="231.7" cy="399.0"/>
<circle class="a" r="5.3" cx="244.7" cy="398.1"/>
<circle class="a" r="5.3" cx="237.8" cy="402.7"/>
<circle class="a" r="5.3" cx="253.1" cy="413.0"/>
<circle class="b" r="5.3" cx="220.6" cy="407.4"/>
<circle class="b" r="5.3" cx="138.8" cy="403.7"/>
<circle class="a" r="5.3" cx="209.8" cy="394.3"/>
<circle class="b" r="5.3" cx="221.8" cy="405.5"/>
<circle class="b" r="5.3" cx="170.6" cy="374.7"/>
<circle class="a" r="5.3" cx="191.2" cy="396.2"/>
<circle class="a" r="5.3" cx="250.8" cy="407.4"/>
<circle class="a" r="5.3" cx="223.2" cy="403.7"/>
<circle class="a" r="5.3" cx="224.0" cy="418.6"/>
<circle class="a" r="5.3" cx="237.8" cy="399.0"/>
<circle class="a" r="5.3" cx="134.9" cy="420.5"/>
<circle class="a" r="5.3" cx="193.7" cy="402.7"/>
<circle class="a" r="5.3" cx="200.7" cy="412.1"/>
<circle class="a" r="5.3" cx="170.3" cy="409.3"/>
<circle class="a" r="5.3" cx="233.5" cy="364.4"/>
<circle class="a" r="5.3" cx="186.0" cy="381.3"/>
<circle class="a" r="5.3" cx="223.8" cy="397.1"/>
<circle class="a" r="5.3" cx="195.1" cy="416.7"/>
<circle class="b" r="5.3" cx="255.7" cy="410.2"/>
<circle class="b" r="5.3" cx="157.4" cy="401.8"/>
<circle class="a" r="5.3" cx="218.4" cy="399.9"/>
<circle class="b" r="5.3" cx="198.9" cy="386.9"/>
<circle class="a" r="5.3" cx="157.7" cy="404.6"/>
<circle class="a" r="5.3" cx="214.9" cy="398.1"/>
<circle class="a" r="5.3" cx="189.7" cy="416.7"/>
<circle class="a" r="5.3" cx="133.4" cy="399.0"/>
<circle class="b" r="5.3" cx="210.0" cy="407.4"/>
<circle class="a" r="5.3" cx="138.7" cy="402.7"/>
<circle class="b" r="5.3" cx="181.6" cy="393.4"/>
<circle class="b" r="5.3" cx="223.5" cy="413.0"/>
<circle class="a" r="5.3" cx="237.9" cy="413.0"/>
<circle class="b" r="5.3" cx="195.8" cy="391.5"/>
<circle class="a" r="5.3" cx="222.0" cy="413.0"/>
<circle class="b" r="5.3" cx="238.9" cy="412.1"/>
<circle class="b" r="5.3" cx="144.3" cy="411.1"/>
<circle class="a" r="5.3" cx="195.0" cy="407.4"/>
<circle class="b" r="5.3" cx="237.3" cy="405.5"/>
<circle class="a" r="5.3" cx="184.7" cy="408.3"/>
<circle class="b" r="5.3" cx="210.6" cy="410.2"/>
<circle class="b" r="5.3" cx="184.9" cy="401.8"/>
<circle class="a" r="5.3" cx="246.3" cy="416.7"/>
<circle class="a" r="5.3" cx="140.7" cy="396.2"/>
<circle class="b" r="5.3" cx="232.3" cy="399.0"/>
<circle class="b" r="5.3" cx="178.4" cy="388.7"/>
<circle class="a" r="5.3" cx="161.6" cy="403.7"/>
<circle class="b" r="5.3" cx="181.9" cy="402.7"/>
<circle class="b" r="5.3" cx="257.2" cy="403.7"/>
<circle class="b" r="5.3" cx="253.8" cy="421.4"/>
<circle class="b" r="5.3" cx="160.7" cy="397.1"/>
<circle class="b" r="5.3" cx="122.8" cy="354.8"/>
<circle class="b" r="5.3" cx="125.2" cy="361.0"/>
<circle class="b" r="5.3" cx="129.6" cy="366.6"/>
<circle class="b" r="5.3" cx="130.9" cy="376.0"/>
<circle class="b" r="5.3" cx="141.9" cy="361.0"/>
<circle class="b" r="5.3" cx="153.4" cy="362.9"/>
<circle class="b" r="5.3" cx="145.9" cy="377.9"/>
<circle class="b" r="5.3" cx="166.2" cy="368.2"/>
<circle class="b" r="5.3" cx="166.5" cy="374.8"/>
<circle class="b" r="5.3" cx="179.6" cy="352.9"/>
<circle class="b" r="5.3" cx="177.1" cy="364.8"/>
<circle class="b" r="5.3" cx="212.1" cy="345.4"/>
<circle class="b" r="5.3" cx="234.0" cy="347.9"/>
<circle class="b" r="5.3" cx="214.0" cy="357.9"/>
<circle class="b" r="5.3" cx="252.8" cy="361.0"/>
<circle class="b" r="5.3" cx="190.2" cy="359.8"/>
<circle class="b" r="5.3" cx="199.0" cy="363.5"/>
<circle class="b" r="5.3" cx="130.0" cy="424.8"/>
<circle class="b" r="5.3" cx="199.0" cy="421.0"/>
<circle class="b" r="5.3" cx="212.1" cy="422.2"/>
<circle class="b" r="5.3" cx="241.5" cy="426.0"/>
<circle class="b" r="5.3" cx="245.2" cy="421.0"/>
<circle class="b" r="5.3" cx="212.8" cy="406.0"/>
<circle class="a" r="5.3" cx="134.9" cy="349.8"/>
<circle class="a" r="5.3" cx="134.9" cy="437.2"/>
<circle class="a" r="5.3" cx="165.9" cy="427.9"/>
<circle class="a" r="5.3" cx="202.8" cy="429.1"/>
<circle class="a" r="5.3" cx="189.0" cy="361.6"/>
<circle class="a" r="5.3" cx="199.0" cy="366.6"/>
<circle class="a" r="5.3" cx="232.1" cy="364.1"/>
<circle class="a" r="5.3" cx="242.1" cy="366.0"/>
<circle class="a" r="5.3" cx="232.8" cy="372.9"/>
<circle class="a" r="5.3" cx="180.2" cy="373.5"/>
<circle class="a" r="5.3" cx="139.0" cy="424.8"/>
<circle class="a" r="5.3" cx="120.2" cy="417.2"/>
<circle class="a" r="5.3" cx="176.5" cy="422.2"/>
<circle class="a" r="5.3" cx="190.2" cy="421.0"/>
<circle class="a" r="5.3" cx="230.2" cy="421.0"/>
<circle class="a" r="5.3" cx="244.0" cy="414.8"/>
<circle class="a" r="5.3" cx="254.0" cy="413.5"/>
<circle class="a" r="5.3" cx="120.9" cy="386.0"/>
<circle class="a" r="5.3" cx="122.8" cy="382.2"/>
</g>
<path d="M111 341H267V444H111Z M112 342V442H265V342Z" fill="#333333" fill-rule="evenodd"/>
<rect x="281" y="341" width="154" height="102" fill="#fff"/>
<path d="M281 431h154v1h-154zM281 407h154v1h-154zM281 384h154v1h-154zM281 361h154v1h-154zM281 419h154v2h-154zM281 395h154v2h-154zM281 372h154v2h-154zM281 348h154v2h-154zM308 341h1v102h-1zM348 341h1v102h-1zM387 341h1v102h-1zM427 341h1v102h-1zM288 341h2v102h-2zM327 341h2v102h-2zM367 341h2v102h-2zM407 341h2v102h-2z" fill="#EBEBEB"/>
<g clip-path="url(#c23)">
<circle class="a" r="5.3" cx="368.0" cy="410.2"/>
<circle class="b" r="5.3" cx="370.0" cy="399.0"/>
<circle class="b" r="5.3" cx="374.0" cy="374.7"/>
<circle class="b" r="5.3" cx="383.9" cy="394.3"/>
<circle class="b" r="5.3" cx="389.9" cy="392.5"/>
<circle class="b" r="5.3" cx="395.9" cy="385.0"/>
<circle class="a" r="5.3" cx="366.0" cy="420.5"/>
<circle class="a" r="5.3" cx="385.9" cy="402.7"/>
<circle class="a" r="5.3" cx="368.0" cy="407.4"/>
<circle class="b" r="5.3" cx="346.2" cy="406.5"/>
<circle class="a" r="5.3" cx="368.0" cy="399.9"/>
<circle class="a" r="5.3" cx="399.8" cy="399.9"/>
<circle class="b" r="5.3" cx="385.9" cy="397.1"/>
<circle class="a" r="5.3" cx="381.9" cy="380.3"/>
<circle class="a" r="5.3" cx="405.8" cy="382.2"/>
<circle class="a" r="5.3" cx="376.0" cy="407.4"/>
<circle class="b" r="5.3" cx="374.0" cy="395.3"/>
<circle class="a" r="5.3" cx="383.9" cy="401.8"/>
<circle class="a" r="5.3" cx="395.9" cy="391.5"/>
<circle class="a" r="5.3" cx="360.1" cy="413.9"/>
<circle class="a" r="5.3" cx="362.1" cy="406.5"/>
<circle class="a" r="5.3" cx="368.0" cy="399.9"/>
<circle class="a" r="5.3" cx="379.9" cy="399.9"/>
<circle class="a" r="5.3" cx="383.9" cy="411.1"/>
<circle class="a" r="5.3" cx="389.9" cy="385.9"/>
<circle class="b" r="5.3" cx="346.2" cy="391.5"/>
<circle class="b" r="5.3" cx="356.1" cy="415.8"/>
<circle class="a" r="5.3" cx="385.9" cy="409.3"/>
<circle class="b" r="5.3" cx="379.9" cy="405.5"/>
<circle class="b" r="5.3" cx="383.9" cy="388.7"/>
<circle class="a" r="5.3" cx="374.0" cy="409.3"/>
<circle class="b" r="5.3" cx="397.8" cy="387.8"/>
<circle class="b" r="5.3" cx="360.1" cy="408.3"/>
<circle class="a" r="5.3" cx="354.1" cy="426.1"/>
<circle class="b" r="5.3" cx="372.0" cy="413.9"/>
<circle class="b" r="5.3" cx="387.9" cy="378.5"/>
<circle class="b" r="5.3" cx="362.1" cy="413.0"/>
<circle class="b" r="5.3" cx="360.1" cy="409.3"/>
<circle class="a" r="5.3" cx="348.1" cy="428.0"/>
<circle class="b" r="5.3" cx="387.9" cy="397.1"/>
<circle class="a" r="5.3" cx="379.9" cy="408.3"/>
<circle class="a" r="5.3" cx="358.1" cy="400.9"/>
<circle class="b" r="5.3" cx="360.1" cy="397.1"/>
<circle class="a" r="5.3" cx="391.9" cy="389.7"/>
<circle class="a" r="5.3" cx="374.0" cy="407.4"/>
<circle class="a" r="5.3" cx="379.9" cy="401.8"/>
<circle class="a" r="5.3" cx="370.0" cy="386.9"/>
<circle class="a" r="5.3" cx="379.9" cy="406.5"/>
<circle class="a" r="5.3" cx="395.9" cy="399.9"/>
<circle class="b" r="5.3" cx="376.0" cy="397.1"/>
<circle class="b" r="5.3" cx="366.0" cy="403.7"/>
<circle class="a" r="5.3" cx="376.0" cy="392.5"/>
<circle class="b" r="5.3" cx="379.9" cy="404.6"/>
<circle class="b" r="5.3" cx="370.0" cy="409.3"/>
<circle class="b" r="5.3" cx="350.1" cy="407.4"/>
<circle class="b" r="5.3" cx="354.1" cy="409.3"/>
<circle class="b" r="5.3" cx="381.9" cy="395.3"/>
<circle class="a" r="5.3" cx="360.1" cy="434.5"/>
<circle class="b" r="5.3" cx="360.1" cy="399.0"/>
<circle class="b" r="5.3" cx="385.9" cy="396.2"/>
<circle class="a" r="5.3" cx="378.0" cy="412.1"/>
<circle class="a" r="5.3" cx="370.0" cy="402.7"/>
<circle class="b" r="5.3" cx="387.9" cy="385.9"/>
<circle class="a" r="5.3" cx="383.9" cy="416.7"/>
<circle class="b" r="5.3" cx="379.9" cy="389.7"/>
<circle class="a" r="5.3" cx="362.1" cy="419.5"/>
<circle class="b" r="5.3" cx="376.0" cy="391.5"/>
<circle class="a" r="5.3" cx="370.0" cy="413.9"/>
<circle class="b" r="5.3" cx="374.0" cy="403.7"/>
<circle class="b" r="5.3" cx="395.9" cy="387.8"/>
<circle class="b" r="5.3" cx="381.9" cy="404.6"/>
<circle class="a" r="5.3" cx="376.0" cy="400.9"/>
<circle class="b" r="5.3" cx="385.9" cy="387.8"/>
<circle class="a" r="5.3" cx="362.1" cy="412.1"/>
<circle class="a" r="5.3" cx="385.9" cy="406.5"/>
<circle class="a" r="5.3" cx="381.9" cy="418.6"/>
<circle class="a" r="5.3" cx="366.0" cy="413.0"/>
<circle class="b" r="5.3" cx="403.8" cy="398.1"/>
<circle class="a" r="5.3" cx="372.0" cy="396.2"/>
<circle class="a" r="5.3" cx="376.0" cy="398.1"/>
<circle class="b" r="5.3" cx="383.9" cy="396.2"/>
<circle class="a" r="5.3" cx="358.1" cy="399.0"/>
<circle class="b" r="5.3" cx="360.1" cy="401.8"/>
<circle class="b" r="5.3" cx="381.9" cy="400.9"/>
<circle class="b" r="5.3" cx="364.0" cy="385.0"/>
<circle class="a" r="5.3" cx="387.9" cy="394.3"/>
<circle class="a" r="5.3" cx="368.0" cy="388.7"/>
<circle class="b" r="5.3" cx="358.1" cy="402.7"/>
<circle class="b" r="5.3" cx="385.9" cy="387.8"/>
<circle class="b" r="5.3" cx="376.0" cy="391.5"/>
<circle class="a" r="5.3" cx="368.0" cy="399.0"/>
<circle class="b" r="5.3" cx="376.0" cy="402.7"/>
<circle class="b" r="5.3" cx="366.0" cy="391.5"/>
<circle class="b" r="5.3" cx="358.1" cy="413.9"/>
<circle class="b" r="5.3" cx="376.0" cy="397.1"/>
<circle class="b" r="5.3" cx="372.0" cy="381.3"/>
<circle class="a" r="5.3" cx="376.0" cy="412.1"/>
<circle class="a" r="5.3" cx="385.9" cy="399.9"/>
<circle class="a" r="5.3" cx="376.0" cy="407.4"/>
<circle class="b" r="5.3" cx="399.8" cy="385.0"/>
<circle class="b" r="5.3" cx="366.0" cy="404.6"/>
<circle class="a" r="5.3" cx="370.0" cy="401.8"/>
<circle class="b" r="5.3" cx="366.0" cy="406.5"/>
<circle class="b" r="5.3" cx="376.0" cy="398.1"/>
<circle class="b" r="5.3" cx="354.1" cy="409.3"/>
<circle class="b" r="5.3" cx="368.0" cy="401.8"/>
<circle class="a" r="5.3" cx="387.9" cy="395.3"/>
<circle class="a" r="5.3" cx="395.9" cy="418.6"/>
<circle class="a" r="5.3" cx="403.8" cy="381.3"/>
<circle class="b" r="5.3" cx="379.9" cy="401.8"/>
<circle class="b" r="5.3" cx="370.0" cy="404.6"/>
<circle class="a" r="5.3" cx="352.1" cy="413.0"/>
<circle class="b" r="5.3" cx="381.9" cy="400.9"/>
<circle class="a" r="5.3" cx="395.9" cy="405.5"/>
<circle class="b" r="5.3" cx="366.0" cy="397.1"/>
<circle class="b" r="5.3" cx="385.9" cy="390.6"/>
<circle class="b" r="5.3" cx="381.9" cy="398.1"/>
<circle class="a" r="5.3" cx="370.0" cy="390.6"/>
<circle class="b" r="5.3" cx="391.9" cy="393.4"/>
<circle class="b" r="5.3" cx="354.1" cy="405.5"/>
<circle class="b" r="5.3" cx="378.0" cy="396.2"/>
<circle class="a" r="5.3" cx="391.9" cy="405.5"/>
<circle class="a" r="5.3" cx="372.0" cy="403.7"/>
<circle class="b" r="5.3" cx="387.9" cy="401.8"/>
<circle class="b" r="5.3" cx="389.9" cy="395.3"/>
<circle class="b" r="5.3" cx="379.9" cy="405.5"/>
<circle class="a" r="5.3" cx="387.9" cy="400.9"/>
<circle class="b" r="5.3" cx="372.0" cy="397.1"/>
<circle class="a" r="5.3" cx="383.9" cy="404.6"/>
<circle class="b" r="5.3" cx="379.9" cy="400.9"/>
<circle class="a" r="5.3" cx="362.1" cy="416.7"/>
<circle class="b" r="5.3" cx="385.9" cy="395.3"/>
<circle class="b" r="5.3" cx="387.9" cy="363.5"/>
<circle class="a" r="5.3" cx="368.0" cy="406.5"/>
<circle class="a" r="5.3" cx="381.9" cy="399.9"/>
<circle class="b" r="5.3" cx="370.0" cy="401.8"/>
<circle class="a" r="5.3" cx="372.0" cy="407.4"/>
<circle class="a" r="5.3" cx="356.1" cy="426.1"/>
<circle class="b" r="5.3" cx="389.9" cy="386.9"/>
<circle class="b" r="5.3" cx="370.0" cy="372.8"/>
<circle class="b" r="5.3" cx="360.1" cy="399.0"/>
<circle class="a" r="5.3" cx="360.1" cy="412.1"/>
<circle class="a" r="5.3" cx="391.9" cy="402.7"/>
<circle class="b" r="5.3" cx="370.0" cy="375.7"/>
<circle class="a" r="5.3" cx="395.9" cy="405.5"/>
<circle class="b" r="5.3" cx="358.1" cy="393.4"/>
<circle class="b" r="5.3" cx="362.1" cy="395.3"/>
<circle class="a" r="5.3" cx="352.1" cy="409.3"/>
<circle class="a" r="5.3" cx="379.9" cy="407.4"/>
<circle class="b" r="5.3" cx="385.9" cy="398.1"/>
<circle class="b" r="5.3" cx="391.9" cy="396.2"/>
<circle class="b" r="5.3" cx="378.0" cy="383.1"/>
<circle class="b" r="5.3" cx="368.0" cy="396.2"/>
<circle class="b" r="5.3" cx="352.1" cy="409.3"/>
<circle class="b" r="5.3" cx="374.0" cy="390.6"/>
<circle class="b" r="5.3" cx="362.1" cy="404.6"/>
<circle class="b" r="5.3" cx="358.1" cy="408.3"/>
<circle class="b" r="5.3" cx="378.0" cy="393.4"/>
<circle class="a" r="5.3" cx="374.0" cy="408.3"/>
<circle class="b" r="5.3" cx="374.0" cy="410.2"/>
<circle class="a" r="5.3" cx="362.1" cy="391.5"/>
<circle class="b" r="5.3" cx="362.1" cy="402.7"/>
<circle class="b" r="5.3" cx="374.0" cy="400.9"/>
<circle class="a" r="5.3" cx="383.9" cy="408.3"/>
<circle class="b" r="5.3" cx="370.0" cy="382.2"/>
<circle class="b" r="5.3" cx="403.8" cy="390.6"/>
<circle class="a" r="5.3" cx="366.0" cy="404.6"/>
<circle class="a" r="5.3" cx="385.9" cy="402.7"/>
<circle class="b" r="5.3" cx="368.0" cy="386.9"/>
<circle class="b" r="5.3" cx="383.9" cy="384.1"/>
<circle class="b" r="5.3" cx="391.9" cy="391.5"/>
<circle class="a" r="5.3" cx="376.0" cy="401.8"/>
<circle class="a" r="5.3" cx="399.8" cy="401.8"/>
<circle class="a" r="5.3" cx="376.0" cy="404.6"/>
<circle class="b" r="5.3" cx="401.8" cy="385.0"/>
<circle class="b" r="5.3" cx="370.0" cy="408.3"/>
<circle class="a" r="5.3" cx="354.1" cy="413.9"/>
<circle class="b" r="5.3" cx="370.0" cy="401.8"/>
<circle class="b" r="5.3" cx="368.0" cy="397.1"/>
<circle class="a" r="5.3" cx="379.9" cy="401.8"/>
<circle class="b" r="5.3" cx="354.1" cy="396.2"/>
<circle class="b" r="5.3" cx="379.9" cy="401.8"/>
<circle class="b" r="5.3" cx="397.8" cy="415.8"/>
<circle class="b" r="5.3" cx="387.9" cy="399.9"/>
<circle class="a" r="5.3" cx="395.9" cy="395.3"/>
<circle class="a" r="5.3" cx="354.1" cy="418.6"/>
<circle class="a" r="5.3" cx="379.9" cy="406.5"/>
<circle class="b" r="5.3" cx="376.0" cy="404.6"/>
<circle class="a" r="5.3" cx="378.0" cy="388.7"/>
<circle class="a" r="5.3" cx="362.1" cy="399.0"/>
<circle class="a" r="5.3" cx="381.9" cy="406.5"/>
<circle class="a" r="5.3" cx="383.9" cy="405.5"/>
<circle class="b" r="5.3" cx="381.9" cy="393.4"/>
<circle class="a" r="5.3" cx="393.9" cy="400.9"/>
<circle class="a" r="5.3" cx="366.0" cy="392.5"/>
<circle class="a" r="5.3" cx="391.9" cy="399.0"/>
<circle class="b" r="5.3" cx="379.9" cy="393.4"/>
<circle class="a" r="5.3" cx="372.0" cy="415.8"/>
<circle class="a" r="5.3" cx="387.9" cy="404.6"/>
<circle class="a" r="5.3" cx="370.0" cy="404.6"/>
<circle class="b" r="5.3" cx="379.9" cy="405.5"/>
<circle class="a" r="5.3" cx="378.0" cy="406.5"/>
<circle class="a" r="5.3" cx="385.9" cy="403.7"/>
<circle class="a" r="5.3" cx="385.9" cy="411.1"/>
<circle class="b" r="5.3" cx="378.0" cy="392.5"/>
<circle class="b" r="5.3" cx="378.0" cy="383.1"/>
<circle class="a" r="5.3" cx="372.0" cy="413.9"/>
<circle class="b" r="5.3" cx="376.0" cy="402.7"/>
<circle class="a" r="5.3" cx="368.0" cy="398.1"/>
<circle class="b" r="5.3" cx="381.9" cy="409.3"/>
<circle class="b" r="5.3" cx="368.0" cy="407.4"/>
<circle class="b" r="5.3" cx="389.9" cy="399.9"/>
<circle class="a" r="5.3" cx="381.9" cy="404.6"/>
<circle class="a" r="5.3" cx="374.0" cy="400.9"/>
<circle class="a" r="5.3" cx="381.9" cy="408.3"/>
<circle class="b" r="5.3" cx="383.9" cy="385.9"/>
<circle class="a" r="5.3" cx="385.9" cy="406.5"/>
<circle class="a" r="5.3" cx="364.0" cy="395.3"/>
<circle class="b" r="5.3" cx="389.9" cy="399.9"/>
<circle class="a" r="5.3" cx="378.0" cy="398.1"/>
<circle class="a" r="5.3" cx="374.0" cy="409.3"/>
<circle class="b" r="5.3" cx="403.8" cy="406.5"/>
<circle class="b" r="5.3" cx="372.0" cy="402.7"/>
<circle class="b" r="5.3" cx="389.9" cy="389.7"/>
<circle class="b" r="5.3" cx="370.0" cy="404.6"/>
<circle class="b" r="5.3" cx="360.1" cy="408.3"/>
<circle class="a" r="5.3" cx="403.8" cy="385.9"/>
<circle class="b" r="5.3" cx="383.9" cy="395.3"/>
<circle class="b" r="5.3" cx="362.1" cy="412.1"/>
<circle class="b" r="5.3" cx="370.0" cy="417.7"/>
<circle class="a" r="5.3" cx="376.0" cy="409.3"/>
<circle class="a" r="5.3" cx="387.9" cy="413.0"/>
<circle class="b" r="5.3" cx="385.9" cy="385.9"/>
<circle class="b" r="5.3" cx="368.0" cy="396.2"/>
<circle class="b" r="5.3" cx="387.9" cy="390.6"/>
<circle class="b" r="5.3" cx="397.8" cy="397.1"/>
<circle class="a" r="5.3" cx="368.0" cy="406.5"/>
<circle class="b" r="5.3" cx="376.0" cy="399.9"/>
<circle class="a" r="5.3" cx="383.9" cy="416.7"/>
<circle class="b" r="5.3" cx="362.1" cy="399.0"/>
<circle class="a" r="5.3" cx="381.9" cy="406.5"/>
<circle class="b" r="5.3" cx="383.9" cy="394.3"/>
<circle class="a" r="5.3" cx="383.9" cy="411.1"/>
<circle class="b" r="5.3" cx="378.0" cy="405.5"/>
<circle class="a" r="5.3" cx="356.1" cy="424.2"/>
<circle class="b" r="5.3" cx="379.9" cy="399.9"/>
<circle class="a" r="5.3" cx="370.0" cy="400.9"/>
<circle class="a" r="5.3" cx="389.9" cy="410.2"/>
<circle class="a" r="5.3" cx="356.1" cy="408.3"/>
<circle class="a" r="5.3" cx="378.0" cy="407.4"/>
<circle class="b" r="5.3" cx="376.0" cy="393.4"/>
<circle class="a" r="5.3" cx="395.9" cy="394.3"/>
<circle class="b" r="5.3" cx="379.9" cy="400.9"/>
<circle class="b" r="5.3" cx="372.0" cy="394.3"/>
<circle class="b" r="5.3" cx="379.9" cy="388.7"/>
<circle class="a" r="5.3" cx="379.9" cy="408.3"/>
<circle class="a" r="5.3" cx="376.0" cy="415.8"/>
<circle class="b" r="5.3" cx="393.9" cy="399.9"/>
<circle class="a" r="5.3" cx="381.9" cy="392.5"/>
<circle class="a" r="5.3" cx="407.8" cy="392.5"/>
<circle class="b" r="5.3" cx="358.1" cy="411.1"/>
<circle class="b" r="5.3" cx="378.0" cy="372.8"/>
<circle class="b" r="5.3" cx="376.0" cy="402.7"/>
<circle class="a" r="5.3" cx="362.1" cy="402.7"/>
<circle class="b" r="5.3" cx="389.9" cy="370.0"/>
<circle class="a" r="5.3" cx="362.1" cy="406.5"/>
<circle class="a" r="5.3" cx="376.0" cy="403.7"/>
<circle class="b" r="5.3" cx="387.9" cy="391.5"/>
<circle class="a" r="5.3" cx="381.9" cy="395.3"/>
<circle class="a" r="5.3" cx="364.0" cy="420.5"/>
<circle class="b" r="5.3" cx="354.1" cy="409.3"/>
<circle class="b" r="5.3" cx="379.9" cy="404.6"/>
<circle class="b" r="5.3" cx="381.9" cy="397.1"/>
<circle class="a" r="5.3" cx="370.0" cy="399.9"/>
<circle class="a" r="5.3" cx="364.0" cy="402.7"/>
<circle class="a" r="5.3" cx="383.9" cy="401.8"/>
<circle class="b" r="5.3" cx="378.0" cy="401.8"/>
<circle class="a" r="5.3" cx="374.0" cy="414.9"/>
<circle class="a" r="5.3" cx="368.0" cy="403.7"/>
<circle class="b" r="5.3" cx="385.9" cy="403.7"/>
<circle class="a" r="5.3" cx="381.9" cy="409.3"/>
<circle class="a" r="5.3" cx="379.9" cy="403.7"/>
<circle class="a" r="5.3" cx="370.0" cy="398.1"/>
<circle class="a" r="5.3" cx="364.0" cy="405.5"/>
<circle class="b" r="5.3" cx="376.0" cy="396.2"/>
<circle class="b" r="5.3" cx="376.0" cy="394.3"/>
<circle class="b" r="5.3" cx="374.0" cy="409.3"/>
<circle class="b" r="5.3" cx="364.0" cy="404.6"/>
<circle class="a" r="5.3" cx="401.8" cy="387.8"/>
<circle class="a" r="5.3" cx="360.1" cy="413.0"/>
<circle class="b" r="5.3" cx="360.1" cy="398.1"/>
<circle class="a" r="5.3" cx="374.0" cy="405.5"/>
<circle class="b" r="5.3" cx="389.9" cy="385.9"/>
<circle class="a" r="5.3" cx="374.0" cy="412.1"/>
<circle class="a" r="5.3" cx="389.9" cy="410.2"/>
<circle class="b" r="5.3" cx="379.9" cy="385.9"/>
<circle class="a" r="5.3" cx="372.0" cy="404.6"/>
<circle class="a" r="5.3" cx="376.0" cy="407.4"/>
<circle class="b" r="5.3" cx="374.0" cy="405.5"/>
<circle class="b" r="5.3" cx="364.0" cy="399.9"/>
<circle class="b" r="5.3" cx="379.9" cy="404.6"/>
<circle class="b" r="5.3" cx="372.0" cy="397.1"/>
<circle class="b" r="5.3" cx="379.9" cy="402.7"/>
<circle class="a" r="5.3" cx="362.1" cy="413.9"/>
<circle class="b" r="5.3" cx="360.1" cy="411.1"/>
<circle class="a" r="5.3" cx="378.0" cy="398.1"/>
<circle class="b" r="5.3" cx="372.0" cy="404.6"/>
<circle class="b" r="5.3" cx="379.9" cy="400.9"/>
<circle class="a" r="5.3" cx="378.0" cy="408.3"/>
<circle class="b" r="5.3" cx="358.1" cy="400.9"/>
<circle class="a" r="5.3" cx="378.0" cy="404.6"/>
<circle class="b" r="5.3" cx="395.9" cy="397.1"/>
<circle class="a" r="5.3" cx="362.1" cy="405.5"/>
<circle class="b" r="5.3" cx="378.0" cy="396.2"/>
<circle class="a" r="5.3" cx="397.8" cy="384.1"/>
<circle class="a" r="5.3" cx="401.8" cy="392.5"/>
<circle class="b" r="5.3" cx="381.9" cy="393.4"/>
<circle class="a" r="5.3" cx="376.0" cy="404.6"/>
<circle class="b" r="5.3" cx="383.9" cy="394.3"/>
<circle class="b" r="5.3" cx="379.9" cy="403.7"/>
<circle class="a" r="5.3" cx="379.9" cy="410.2"/>
<circle class="b" r="5.3" cx="399.8" cy="394.3"/>
<circle class="b" r="5.3" cx="368.0" cy="395.3"/>
<circle class="a" r="5.3" cx="391.9" cy="389.7"/>
<circle class="b" r="5.3" cx="374.0" cy="396.2"/>
<circle class="a" r="5.3" cx="374.0" cy="409.3"/>
<circle class="a" r="5.3" cx="391.9" cy="406.5"/>
<circle class="b" r="5.3" cx="389.9" cy="392.5"/>
<circle class="a" r="5.3" cx="364.0" cy="418.6"/>
<circle class="a" r="5.3" cx="362.1" cy="394.3"/>
<circle class="a" r="5.3" cx="381.9" cy="408.3"/>
<circle class="a" r="5.3" cx="397.8" cy="396.2"/>
<circle class="b" r="5.3" cx="372.0" cy="386.9"/>
<circle class="a" r="5.3" cx="387.9" cy="392.5"/>
<circle class="a" r="5.3" cx="376.0" cy="398.1"/>
<circle class="b" r="5.3" cx="370.0" cy="398.1"/>
<circle class="a" r="5.3" cx="374.0" cy="405.5"/>
<circle class="b" r="5.3" cx="372.0" cy="407.4"/>
<circle class="b" r="5.3" cx="389.9" cy="397.1"/>
<circle class="a" r="5.3" cx="403.8" cy="407.4"/>
<circle class="b" r="5.3" cx="374.0" cy="382.2"/>
<circle class="a" r="5.3" cx="370.0" cy="400.9"/>
<circle class="a" r="5.3" cx="374.0" cy="415.8"/>
<circle class="a" r="5.3" cx="383.9" cy="392.5"/>
<circle class="b" r="5.3" cx="403.8" cy="378.5"/>
<circle class="a" r="5.3" cx="385.9" cy="412.1"/>
<circle class="a" r="5.3" cx="405.8" cy="389.7"/>
<circle class="b" r="5.3" cx="378.0" cy="392.5"/>
<circle class="a" r="5.3" cx="393.9" cy="409.3"/>
<circle class="a" r="5.3" cx="385.9" cy="386.9"/>
<circle class="b" r="5.3" cx="381.9" cy="402.7"/>
<circle class="b" r="5.3" cx="364.0" cy="404.6"/>
<circle class="b" r="5.3" cx="364.0" cy="410.2"/>
<circle class="a" r="5.3" cx="381.9" cy="398.1"/>
<circle class="b" r="5.3" cx="360.1" cy="399.0"/>
<circle class="a" r="5.3" cx="387.9" cy="415.8"/>
<circle class="a" r="5.3" cx="379.9" cy="394.3"/>
<circle class="b" r="5.3" cx="374.0" cy="402.7"/>
<circle class="b" r="5.3" cx="397.8" cy="386.9"/>
<circle class="a" r="5.3" cx="372.0" cy="419.5"/>
<circle class="a" r="5.3" cx="372.0" cy="414.9"/>
<circle class="a" r="5.3" cx="381.9" cy="410.2"/>
<circle class="b" r="5.3" cx="393.9" cy="389.7"/>
<circle class="a" r="5.3" cx="360.1" cy="421.4"/>
<circle class="b" r="5.3" cx="383.9" cy="360.7"/>
<circle class="b" r="5.3" cx="364.0" cy="411.1"/>
<circle class="a" r="5.3" cx="385.9" cy="395.3"/>
<circle class="b" r="5.3" cx="372.0" cy="399.9"/>
<circle class="a" r="5.3" cx="362.1" cy="411.1"/>
<circle class="a" r="5.3" cx="358.1" cy="413.0"/>
<circle class="a" r="5.3" cx="370.0" cy="392.5"/>
<circle class="b" r="5.3" cx="389.9" cy="406.5"/>
<circle class="b" r="5.3" cx="376.0" cy="404.6"/>
<circle class="a" r="5.3" cx="362.1" cy="402.7"/>
<circle class="a" r="5.3" cx="360.1" cy="395.3"/>
<circle class="a" r="5.3" cx="379.9" cy="400.9"/>
<circle class="b" r="5.3" cx="368.0" cy="407.4"/>
<circle class="b" r="5.3" cx="366.0" cy="398.1"/>
<circle class="a" r="5.3" cx="395.9" cy="400.9"/>
<circle class="b" r="5.3" cx="389.9" cy="385.9"/>
<circle class="b" r="5.3" cx="415.7" cy="388.7"/>
<circle class="b" r="5.3" cx="366.0" cy="403.7"/>
<circle class="b" r="5.3" cx="385.9" cy="390.6"/>
<circle class="b" r="5.3" cx="374.0" cy="405.5"/>
<circle class="b" r="5.3" cx="376.0" cy="398.1"/>
<circle class="b" r="5.3" cx="383.9" cy="376.6"/>
<circle class="b" r="5.3" cx="383.9" cy="395.3"/>
<circle class="a" r="5.3" cx="385.9" cy="402.7"/>
<circle class="b" r="5.3" cx="374.0" cy="391.5"/>
<circle class="b" r="5.3" cx="379.9" cy="399.9"/>
<circle class="b" r="5.3" cx="395.9" cy="390.6"/>
<circle class="a" r="5.3" cx="378.0" cy="395.3"/>
<circle class="b" r="5.3" cx="403.8" cy="383.1"/>
<circle class="a" r="5.3" cx="364.0" cy="409.3"/>
<circle class="b" r="5.3" cx="364.0" cy="375.7"/>
<circle class="a" r="5.3" cx="381.9" cy="413.0"/>
<circle class="a" r="5.3" cx="370.0" cy="405.5"/>
<circle class="a" r="5.3" cx="376.0" cy="402.7"/>
<circle class="b" r="5.3" cx="358.1" cy="393.4"/>
<circle class="a" r="5.3" cx="383.9" cy="397.1"/>
<circle class="b" r="5.3" cx="383.9" cy="393.4"/>
<circle class="a" r="5.3" cx="391.9" cy="394.3"/>
<circle class="b" r="5.3" cx="378.0" cy="392.5"/>
<circle class="a" r="5.3" cx="391.9" cy="368.2"/>
<circle class="b" r="5.3" cx="370.0" cy="403.7"/>
<circle class="a" r="5.3" cx="379.9" cy="404.6"/>
<circle class="a" r="5.3" cx="360.1" cy="414.9"/>
<circle class="a" r="5.3" cx="397.8" cy="398.1"/>
<circle class="a" r="5.3" cx="383.9" cy="406.5"/>
<circle class="b" r="5.3" cx="374.0" cy="401.8"/>
<circle class="a" r="5.3" cx="378.0" cy="395.3"/>
<circle class="b" r="5.3" cx="374.0" cy="395.3"/>
<circle class="a" r="5.3" cx="364.0" cy="408.3"/>
<circle class="a" r="5.3" cx="387.9" cy="396.2"/>
<circle class="a" r="5.3" cx="379.9" cy="409.3"/>
<circle class="b" r="5.3" cx="391.9" cy="398.1"/>
<circle class="b" r="5.3" cx="374.0" cy="399.9"/>
<circle class="b" r="5.3" cx="385.9" cy="378.5"/>
<circle class="a" r="5.3" cx="393.9" cy="401.8"/>
<circle class="b" r="5.3" cx="362.1" cy="399.9"/>
<circle class="a" r="5.3" cx="362.1" cy="412.1"/>
<circle class="b" r="5.3" cx="374.0" cy="405.5"/>
<circle class="a" r="5.3" cx="383.9" cy="401.8"/>
<circle class="a" r="5.3" cx="381.9" cy="398.1"/>
<circle class="a" r="5.3" cx="372.0" cy="399.9"/>
<circle class="b" r="5.3" cx="379.9" cy="380.3"/>
<circle class="a" r="5.3" cx="368.0" cy="420.5"/>
<circle class="a" r="5.3" cx="366.0" cy="411.1"/>
<circle class="a" r="5.3" cx="364.0" cy="397.1"/>
<circle class="b" r="5.3" cx="393.9" cy="396.2"/>
<circle class="b" r="5.3" cx="364.0" cy="405.5"/>
<circle class="a" r="5.3" cx="405.8" cy="398.1"/>
<circle class="b" r="5.3" cx="370.0" cy="400.9"/>
<circle class="b" r="5.3" cx="381.9" cy="412.1"/>
<circle class="a" r="5.3" cx="387.9" cy="397.1"/>
<circle class="b" r="5.3" cx="370.0" cy="396.2"/>
<circle class="b" r="5.3" cx="393.9" cy="383.1"/>
<circle class="a" r="5.3" cx="352.1" cy="417.7"/>
<circle class="a" r="5.3" cx="395.9" cy="394.3"/>
<circle class="b" r="5.3" cx="393.9" cy="388.7"/>
<circle class="a" r="5.3" cx="387.9" cy="402.7"/>
<circle class="b" r="5.3" cx="376.0" cy="391.5"/>
<circle class="b" r="5.3" cx="372.0" cy="407.4"/>
<circle class="b" r="5.3" cx="372.0" cy="395.3"/>
<circle class="b" r="5.3" cx="383.9" cy="386.9"/>
<circle class="a" r="5.3" cx="356.1" cy="413.9"/>
<circle class="a" r="5.3" cx="401.8" cy="402.7"/>
<circle class="a" r="5.3" cx="395.9" cy="396.2"/>
<circle class="b" r="5.3" cx="374.0" cy="393.4"/>
<circle class="b" r="5.3" cx="360.1" cy="399.9"/>
<circle class="b" r="5.3" cx="399.8" cy="402.7"/>
<circle class="a" r="5.3" cx="366.0" cy="414.9"/>
<circle class="a" r="5.3" cx="381.9" cy="390.6"/>
<circle class="a" r="5.3" cx="393.9" cy="401.8"/>
<circle class="a" r="5.3" cx="362.1" cy="411.1"/>
<circle class="b" r="5.3" cx="372.0" cy="401.8"/>
<circle class="b" r="5.3" cx="397.8" cy="378.5"/>
<circle class="a" r="5.3" cx="368.0" cy="384.1"/>
<circle class="a" r="5.3" cx="358.1" cy="405.5"/>
<circle class="b" r="5.3" cx="368.0" cy="398.1"/>
<circle class="a" r="5.3" cx="374.0" cy="417.7"/>
<circle class="b" r="5.3" cx="370.0" cy="413.0"/>
<circle class="a" r="5.3" cx="387.9" cy="403.7"/>
<circle class="b" r="5.3" cx="374.0" cy="400.9"/>
<circle class="b" r="5.3" cx="385.9" cy="391.5"/>
<circle class="a" r="5.3" cx="387.9" cy="396.2"/>
<circle class="b" r="5.3" cx="362.1" cy="412.1"/>
<circle class="b" r="5.3" cx="383.9" cy="391.5"/>
<circle class="a" r="5.3" cx="389.9" cy="406.5"/>
<circle class="b" r="5.3" cx="378.0" cy="406.5"/>
<circle class="a" r="5.3" cx="379.9" cy="400.9"/>
<circle class="a" r="5.3" cx="391.9" cy="403.7"/>
<circle class="a" r="5.3" cx="366.0" cy="427.0"/>
<circle class="b" r="5.3" cx="370.0" cy="410.2"/>
<circle class="a" r="5.3" cx="381.9" cy="407.4"/>
<circle class="b" r="5.3" cx="374.0" cy="407.4"/>
<circle class="a" r="5.3" cx="378.0" cy="408.3"/>
<circle class="b" r="5.3" cx="381.9" cy="397.1"/>
<circle class="a" r="5.3" cx="374.0" cy="417.7"/>
<circle class="b" r="5.3" cx="356.1" cy="409.3"/>
<circle class="b" r="5.3" cx="372.0" cy="403.7"/>
<circle class="a" r="5.3" cx="364.0" cy="419.5"/>
<circle class="b" r="5.3" cx="387.9" cy="404.6"/>
<circle class="a" r="5.3" cx="389.9" cy="385.9"/>
<circle class="a" r="5.3" cx="403.8" cy="396.2"/>
<circle class="a" r="5.3" cx="368.0" cy="410.2"/>
<circle class="b" r="5.3" cx="401.8" cy="387.8"/>
<circle class="a" r="5.3" cx="342.2" cy="425.2"/>
<circle class="b" r="5.3" cx="383.9" cy="390.6"/>
<circle class="b" r="5.3" cx="368.0" cy="412.1"/>
<circle class="b" r="5.3" cx="389.9" cy="387.8"/>
<circle class="a" r="5.3" cx="358.1" cy="401.8"/>
<circle class="b" r="5.3" cx="366.0" cy="405.5"/>
<circle class="a" r="5.3" cx="370.0" cy="397.1"/>
<circle class="b" r="5.3" cx="356.1" cy="410.2"/>
<circle class="b" r="5.3" cx="385.9" cy="406.5"/>
<circle class="b" r="5.3" cx="370.0" cy="416.7"/>
<circle class="a" r="5.3" cx="370.0" cy="403.7"/>
<circle class="b" r="5.3" cx="370.0" cy="391.5"/>
<circle class="b" r="5.3" cx="383.9" cy="392.5"/>
<circle class="a" r="5.3" cx="350.1" cy="413.0"/>
<circle class="a" r="5.3" cx="372.0" cy="414.9"/>
<circle class="b" r="5.3" cx="366.0" cy="400.9"/>
<circle class="a" r="5.3" cx="399.8" cy="384.1"/>
<circle class="b" r="5.3" cx="378.0" cy="394.3"/>
<circle class="b" r="5.3" cx="383.9" cy="387.8"/>
<circle class="a" r="5.3" cx="379.9" cy="394.3"/>
<circle class="a" r="5.3" cx="364.0" cy="406.5"/>
<circle class="a" r="5.3" cx="387.9" cy="398.1"/>
<circle class="b" r="5.3" cx="370.0" cy="402.7"/>
<circle class="b" r="5.3" cx="370.0" cy="401.8"/>
<circle class="a" r="5.3" cx="397.8" cy="400.9"/>
<circle class="b" r="5.3" cx="354.1" cy="394.3"/>
<circle class="b" r="5.3" cx="374.0" cy="379.4"/>
<circle class="b" r="5.3" cx="378.0" cy="398.1"/>
<circle class="b" r="5.3" cx="389.9" cy="379.4"/>
<circle class="b" r="5.3" cx="362.1" cy="421.4"/>
<circle class="a" r="5.3" cx="403.8" cy="394.3"/>
<circle class="b" r="5.3" cx="374.0" cy="380.3"/>
<circle class="a" r="5.3" cx="364.0" cy="418.6"/>
<circle class="a" r="5.3" cx="372.0" cy="401.8"/>
<circle class="b" r="5.3" cx="379.9" cy="392.5"/>
<circle class="b" r="5.3" cx="379.9" cy="403.7"/>
<circle class="a" r="5.3" cx="403.8" cy="393.4"/>
<circle class="b" r="5.3" cx="366.0" cy="413.9"/>
<circle class="b" r="5.3" cx="381.9" cy="398.1"/>
<circle class="b" r="5.3" cx="391.9" cy="394.3"/>
<circle class="a" r="5.3" cx="370.0" cy="409.3"/>
<circle class="b" r="5.3" cx="405.8" cy="385.9"/>
<circle class="b" r="5.3" cx="374.0" cy="396.2"/>
<circle class="a" r="5.3" cx="376.0" cy="408.3"/>
<circle class="a" r="5.3" cx="354.1" cy="410.2"/>
<circle class="a" r="5.3" cx="381.9" cy="411.1"/>
<circle class="a" r="5.3" cx="374.0" cy="407.4"/>
<circle class="b" r="5.3" cx="378.0" cy="393.4"/>
<circle class="a" r="5.3" cx="360.1" cy="399.0"/>
<circle class="b" r="5.3" cx="383.9" cy="399.9"/>
<circle class="a" r="5.3" cx="389.9" cy="403.7"/>
<circle class="b" r="5.3" cx="370.0" cy="402.7"/>
<circle class="b" r="5.3" cx="366.0" cy="414.9"/>
<circle class="a" r="5.3" cx="360.1" cy="407.4"/>
<circle class="b" r="5.3" cx="378.0" cy="388.7"/>
<circle class="b" r="5.3" cx="376.0" cy="399.0"/>
<circle class="b" r="5.3" cx="354.1" cy="403.7"/>
<circle class="a" r="5.3" cx="360.1" cy="403.7"/>
<circle class="a" r="5.3" cx="395.9" cy="402.7"/>
<circle class="a" r="5.3" cx="360.1" cy="410.2"/>
<circle class="b" r="5.3" cx="348.1" cy="409.3"/>
<circle class="b" r="5.3" cx="366.0" cy="412.1"/>
<circle class="a" r="5.3" cx="364.0" cy="408.3"/>
<circle class="a" r="5.3" cx="370.0" cy="394.3"/>
<circle class="b" r="5.3" cx="376.0" cy="396.2"/>
<circle class="a" r="5.3" cx="393.9" cy="397.1"/>
<circle class="a" r="5.3" cx="368.0" cy="413.0"/>
<circle class="a" r="5.3" cx="381.9" cy="388.7"/>
<circle class="b" r="5.3" cx="381.9" cy="388.7"/>
<circle class="b" r="5.3" cx="368.0" cy="394.3"/>
<circle class="a" r="5.3" cx="381.9" cy="399.9"/>
<circle class="b" r="5.3" cx="376.0" cy="405.5"/>
<circle class="a" r="5.3" cx="381.9" cy="389.7"/>
<circle class="b" r="5.3" cx="381.9" cy="398.1"/>
<circle class="a" r="5.3" cx="366.0" cy="408.3"/>
<circle class="b" r="5.3" cx="383.9" cy="388.7"/>
<circle class="a" r="5.3" cx="387.9" cy="399.0"/>
<circle class="b" r="5.3" cx="385.9" cy="394.3"/>
<circle class="b" r="5.3" cx="387.9" cy="412.1"/>
<circle class="b" r="5.3" cx="389.9" cy="383.1"/>
<circle class="b" r="5.3" cx="403.8" cy="394.3"/>
<circle class="a" r="5.3" cx="362.1" cy="410.2"/>
<circle class="a" r="5.3" cx="393.9" cy="399.0"/>
<circle class="b" r="5.3" cx="368.0" cy="398.1"/>
<circle class="b" r="5.3" cx="354.1" cy="407.4"/>
<circle class="b" r="5.3" cx="381.9" cy="385.9"/>
<circle class="a" r="5.3" cx="364.0" cy="405.5"/>
<circle class="b" r="5.3" cx="372.0" cy="396.2"/>
<circle class="a" r="5.3" cx="372.0" cy="409.3"/>
<circle class="a" r="5.3" cx="356.1" cy="416.7"/>
<circle class="b" r="5.3" cx="383.9" cy="385.0"/>
<circle class="a" r="5.3" cx="360.1" cy="412.1"/>
<circle class="a" r="5.3" cx="387.9" cy="400.9"/>
<circle class="b" r="5.3" cx="405.8" cy="390.6"/>
<circle class="a" r="5.3" cx="366.0" cy="403.7"/>
<circle class="a" r="5.3" cx="378.0" cy="399.0"/>
<circle class="a" r="5.3" cx="352.1" cy="419.5"/>
<circle class="b" r="5.3" cx="389.9" cy="385.9"/>
<circle class="a" r="5.3" cx="379.9" cy="391.5"/>
<circle class="b" r="5.3" cx="383.9" cy="399.9"/>
<circle class="b" r="5.3" cx="358.1" cy="416.7"/>
<circle class="b" r="5.3" cx="342.2" cy="405.5"/>
<circle class="b" r="5.3" cx="397.8" cy="392.5"/>
<circle class="a" r="5.3" cx="378.0" cy="408.3"/>
<circle class="a" r="5.3" cx="379.9" cy="408.3"/>
<circle class="b" r="5.3" cx="401.8" cy="393.4"/>
<circle class="a" r="5.3" cx="374.0" cy="407.4"/>
<circle class="a" r="5.3" cx="364.0" cy="416.7"/>
<circle class="b" r="5.3" cx="379.9" cy="392.5"/>
<circle class="a" r="5.3" cx="389.9" cy="392.5"/>
<circle class="b" r="5.3" cx="374.0" cy="404.6"/>
<circle class="b" r="5.3" cx="409.8" cy="346.7"/>
<circle class="b" r="5.3" cx="364.0" cy="402.7"/>
<circle class="a" r="5.3" cx="360.1" cy="412.1"/>
<circle class="a" r="5.3" cx="370.0" cy="399.0"/>
<circle class="a" r="5.3" cx="372.0" cy="405.5"/>
<circle class="b" r="5.3" cx="379.9" cy="385.9"/>
<circle class="b" r="5.3" cx="370.0" cy="399.0"/>
<circle class="a" r="5.3" cx="399.8" cy="398.1"/>
<circle class="b" r="5.3" cx="366.0" cy="397.1"/>
<circle class="a" r="5.3" cx="383.9" cy="408.3"/>
<circle class="b" r="5.3" cx="399.8" cy="397.1"/>
<circle class="b" r="5.3" cx="376.0" cy="405.5"/>
<circle class="a" r="5.3" cx="383.9" cy="399.0"/>
<circle class="a" r="5.3" cx="387.9" cy="403.7"/>
<circle class="b" r="5.3" cx="354.1" cy="405.5"/>
<circle class="a" r="5.3" cx="372.0" cy="392.5"/>
<circle class="a" r="5.3" cx="362.1" cy="409.3"/>
<circle class="b" r="5.3" cx="350.1" cy="409.3"/>
<circle class="b" r="5.3" cx="385.9" cy="393.4"/>
<circle class="a" r="5.3" cx="368.0" cy="399.9"/>
<circle class="a" r="5.3" cx="383.9" cy="396.2"/>
<circle class="a" r="5.3" cx="395.9" cy="385.9"/>
<circle class="b" r="5.3" cx="362.1" cy="413.9"/>
<circle class="b" r="5.3" cx="383.9" cy="394.3"/>
<circle class="b" r="5.3" cx="389.9" cy="390.6"/>
<circle class="b" r="5.3" cx="374.0" cy="407.4"/>
<circle class="a" r="5.3" cx="409.8" cy="389.7"/>
<circle class="a" r="5.3" cx="379.9" cy="394.3"/>
<circle class="b" r="5.3" cx="360.1" cy="408.3"/>
<circle class="a" r="5.3" cx="399.8" cy="397.1"/>
<circle class="a" r="5.3" cx="403.8" cy="392.5"/>
<circle class="b" r="5.3" cx="374.0" cy="407.4"/>
<circle class="a" r="5.3" cx="383.9" cy="400.9"/>
<circle class="b" r="5.3" cx="397.8" cy="405.5"/>
<circle class="a" r="5.3" cx="368.0" cy="415.8"/>
<circle class="a" r="5.3" cx="354.1" cy="397.1"/>
<circle class="b" r="5.3" cx="391.9" cy="399.0"/>
<circle class="b" r="5.3" cx="381.9" cy="411.1"/>
<circle class="a" r="5.3" cx="368.0" cy="393.4"/>
<circle class="a" r="5.3" cx="387.9" cy="405.5"/>
<circle class="a" r="5.3" cx="409.8" cy="395.3"/>
<circle class="b" r="5.3" cx="366.0" cy="387.8"/>
<circle class="a" r="5.3" cx="389.9" cy="406.5"/>
<circle class="a" r="5.3" cx="362.1" cy="413.9"/>
<circle class="b" r="5.3" cx="368.0" cy="407.4"/>
<circle class="b" r="5.3" cx="370.0" cy="385.0"/>
<circle class="b" r="5.3" cx="374.0" cy="396.2"/>
<circle class="b" r="5.3" cx="368.0" cy="406.5"/>
<circle class="a" r="5.3" cx="393.9" cy="411.1"/>
<circle class="a" r="5.3" cx="401.8" cy="388.7"/>
<circle class="b" r="5.3" cx="393.9" cy="392.5"/>
<circle class="b" r="5.3" cx="358.1" cy="389.7"/>
<circle class="a" r="5.3" cx="364.0" cy="410.2"/>
<circle class="a" r="5.3" cx="403.8" cy="391.5"/>
<circle class="a" r="5.3" cx="379.9" cy="391.5"/>
<circle class="b" r="5.3" cx="370.0" cy="398.1"/>
<circle class="b" r="5.3" cx="368.0" cy="409.3"/>
<circle class="b" r="5.3" cx="379.9" cy="395.3"/>
<circle class="b" r="5.3" cx="362.1" cy="399.9"/>
<circle class="b" r="5.3" cx="360.1" cy="399.9"/>
<circle class="a" r="5.3" cx="366.0" cy="405.5"/>
<circle class="b" r="5.3" cx="372.0" cy="408.3"/>
<circle class="a" r="5.3" cx="383.9" cy="386.9"/>
<circle class="a" r="5.3" cx="395.9" cy="394.3"/>
<circle class="a" r="5.3" cx="368.0" cy="398.1"/>
<circle class="b" r="5.3" cx="395.9" cy="381.3"/>
<circle class="a" r="5.3" cx="362.1" cy="406.5"/>
<circle class="a" r="5.3" cx="391.9" cy="397.1"/>
<circle class="b" r="5.3" cx="376.0" cy="408.3"/>
<circle class="a" r="5.3" cx="387.9" cy="393.4"/>
<circle class="a" r="5.3" cx="393.9" cy="403.7"/>
<circle class="a" r="5.3" cx="383.9" cy="413.9"/>
<circle class="b" r="5.3" cx="378.0" cy="393.4"/>
<circle class="a" r="5.3" cx="409.8" cy="392.5"/>
<circle class="b" r="5.3" cx="385.9" cy="405.5"/>
<circle class="b" r="5.3" cx="387.9" cy="375.7"/>
<circle class="b" r="5.3" cx="381.9" cy="396.2"/>
<circle class="a" r="5.3" cx="372.0" cy="417.7"/>
<circle class="b" r="5.3" cx="383.9" cy="394.3"/>
<circle class="b" r="5.3" cx="368.0" cy="388.7"/>
<circle class="b" r="5.3" cx="372.0" cy="398.1"/>
<circle class="a" r="5.3" cx="385.9" cy="406.5"/>
<circle class="b" r="5.3" cx="391.9" cy="406.5"/>
<circle class="a" r="5.3" cx="397.8" cy="383.1"/>
<circle class="b" r="5.3" cx="389.9" cy="407.4"/>
<circle class="b" r="5.3" cx="378.0" cy="413.0"/>
<circle class="a" r="5.3" cx="374.0" cy="410.2"/>
<circle class="b" r="5.3" cx="383.9" cy="397.1"/>
<circle class="a" r="5.3" cx="362.1" cy="408.3"/>
<circle class="a" r="5.3" cx="385.9" cy="408.3"/>
<circle class="b" r="5.3" cx="393.9" cy="392.5"/>
<circle class="b" r="5.3" cx="368.0" cy="390.6"/>
<circle class="a" r="5.3" cx="387.9" cy="394.3"/>
<circle class="b" r="5.3" cx="383.9" cy="405.5"/>
<circle class="a" r="5.3" cx="403.8" cy="388.7"/>
<circle class="b" r="5.3" cx="360.1" cy="376.6"/>
<circle class="a" r="5.3" cx="378.0" cy="403.7"/>
<circle class="a" r="5.3" cx="362.1" cy="423.3"/>
<circle class="a" r="5.3" cx="362.1" cy="410.2"/>
<circle class="b" r="5.3" cx="364.0" cy="392.5"/>
<circle class="b" r="5.3" cx="387.9" cy="381.3"/>
<circle class="a" r="5.3" cx="381.9" cy="395.3"/>
<circle class="b" r="5.3" cx="383.9" cy="402.7"/>
<circle class="b" r="5.3" cx="387.9" cy="404.6"/>
<circle class="b" r="5.3" cx="393.9" cy="399.0"/>
<circle class="a" r="5.3" cx="356.1" cy="411.1"/>
<circle class="b" r="5.3" cx="374.0" cy="408.3"/>
<circle class="a" r="5.3" cx="387.9" cy="395.3"/>
<circle class="a" r="5.3" cx="372.0" cy="396.2"/>
<circle class="a" r="5.3" cx="378.0" cy="401.8"/>
<circle class="a" r="5.3" cx="378.0" cy="399.0"/>
<circle class="b" r="5.3" cx="360.1" cy="395.3"/>
<circle class="b" r="5.3" cx="397.8" cy="397.1"/>
<circle class="a" r="5.3" cx="378.0" cy="406.5"/>
<circle class="a" r="5.3" cx="368.0" cy="399.9"/>
<circle class="b" r="5.3" cx="379.9" cy="400.9"/>
<circle class="b" r="5.3" cx="385.9" cy="373.8"/>
<circle class="b" r="5.3" cx="385.9" cy="399.9"/>
<circle class="a" r="5.3" cx="372.0" cy="411.1"/>
<circle class="b" r="5.3" cx="354.1" cy="412.1"/>
<circle class="b" r="5.3" cx="383.9" cy="385.0"/>
<circle class="b" r="5.3" cx="372.0" cy="403.7"/>
<circle class="a" r="5.3" cx="379.9" cy="406.5"/>
<circle class="b" r="5.3" cx="389.9" cy="404.6"/>
<circle class="b" r="5.3" cx="368.0" cy="399.0"/>
<circle class="a" r="5.3" cx="393.9" cy="401.8"/>
<circle class="b" r="5.3" cx="379.9" cy="403.7"/>
<circle class="a" r="5.3" cx="374.0" cy="406.5"/>
<circle class="a" r="5.3" cx="360.1" cy="412.1"/>
<circle class="b" r="5.3" cx="370.0" cy="402.7"/>
<circle class="a" r="5.3" cx="372.0" cy="410.2"/>
<circle class="a" r="5.3" cx="376.0" cy="398.1"/>
<circle class="a" r="5.3" cx="383.9" cy="402.7"/>
<circle class="b" r="5.3" cx="401.8" cy="395.3"/>
<circle class="a" r="5.3" cx="378.0" cy="404.6"/>
<circle class="a" r="5.3" cx="364.0" cy="411.1"/>
<circle class="a" r="5.3" cx="378.0" cy="406.5"/>
<circle class="a" r="5.3" cx="374.0" cy="406.5"/>
<circle class="b" r="5.3" cx="381.9" cy="392.5"/>
<circle class="a" r="5.3" cx="376.0" cy="413.9"/>
<circle class="b" r="5.3" cx="358.1" cy="408.3"/>
<circle class="b" r="5.3" cx="358.1" cy="411.1"/>
<circle class="b" r="5.3" cx="370.0" cy="399.9"/>
<circle class="a" r="5.3" cx="383.9" cy="398.1"/>
<circle class="a" r="5.3" cx="376.0" cy="396.2"/>
<circle class="b" r="5.3" cx="372.0" cy="394.3"/>
<circle class="b" r="5.3" cx="413.7" cy="375.7"/>
<circle class="b" r="5.3" cx="372.0" cy="395.3"/>
<circle class="b" r="5.3" cx="393.9" cy="394.3"/>
<circle class="a" r="5.3" cx="385.9" cy="410.2"/>
<circle class="b" r="5.3" cx="342.2" cy="406.5"/>
<circle class="a" r="5.3" cx="383.9" cy="407.4"/>
<circle class="b" r="5.3" cx="378.0" cy="392.5"/>
<circle class="a" r="5.3" cx="383.9" cy="399.9"/>
<circle class="b" r="5.3" cx="354.1" cy="411.1"/>
<circle class="a" r="5.3" cx="376.0" cy="406.5"/>
<circle class="a" r="5.3" cx="383.9" cy="408.3"/>
<circle class="a" r="5.3" cx="385.9" cy="394.3"/>
<circle class="b" r="5.3" cx="391.9" cy="374.7"/>
<circle class="a" r="5.3" cx="368.0" cy="391.5"/>
<circle class="a" r="5.3" cx="352.1" cy="403.7"/>
<circle class="a" r="5.3" cx="379.9" cy="402.7"/>
<circle class="b" r="5.3" cx="389.9" cy="390.6"/>
<circle class="a" r="5.3" cx="391.9" cy="394.3"/>
<circle class="b" r="5.3" cx="381.9" cy="401.8"/>
<circle class="b" r="5.3" cx="413.7" cy="385.9"/>
<circle class="b" r="5.3" cx="364.0" cy="399.9"/>
<circle class="b" r="5.3" cx="374.0" cy="406.5"/>
<circle class="a" r="5.3" cx="389.9" cy="375.7"/>
<circle class="b" r="5.3" cx="383.9" cy="386.9"/>
<circle class="b" r="5.3" cx="389.9" cy="399.9"/>
<circle class="a" r="5.3" cx="381.9" cy="419.5"/>
<circle class="a" r="5.3" cx="395.9" cy="395.3"/>
<circle class="b" r="5.3" cx="383.9" cy="410.2"/>
<circle class="a" r="5.3" cx="360.1" cy="398.1"/>
<circle class="b" r="5.3" cx="393.9" cy="397.1"/>
<circle class="b" r="5.3" cx="378.0" cy="400.9"/>
<circle class="b" r="5.3" cx="385.9" cy="399.9"/>
<circle class="b" r="5.3" cx="379.9" cy="392.5"/>
<circle class="b" r="5.3" cx="379.9" cy="388.7"/>
<circle class="a" r="5.3" cx="368.0" cy="417.7"/>
<circle class="a" r="5.3" cx="378.0" cy="404.6"/>
<circle class="a" r="5.3" cx="381.9" cy="408.3"/>
<circle class="a" r="5.3" cx="379.9" cy="399.0"/>
<circle class="a" r="5.3" cx="381.9" cy="409.3"/>
<circle class="b" r="5.3" cx="356.1" cy="406.5"/>
<circle class="b" r="5.3" cx="399.8" cy="389.7"/>
<circle class="a" r="5.3" cx="368.0" cy="399.9"/>
<circle class="b" r="5.3" cx="379.9" cy="397.1"/>
<circle class="b" r="5.3" cx="364.0" cy="401.8"/>
<circle class="a" r="5.3" cx="378.0" cy="410.2"/>
<circle class="a" r="5.3" cx="381.9" cy="413.0"/>
<circle class="b" r="5.3" cx="409.8" cy="397.1"/>
<circle class="b" r="5.3" cx="372.0" cy="399.0"/>
<circle class="a" r="5.3" cx="360.1" cy="402.7"/>
<circle class="a" r="5.3" cx="360.1" cy="407.4"/>
<circle class="a" r="5.3" cx="368.0" cy="407.4"/>
<circle class="b" r="5.3" cx="370.0" cy="394.3"/>
<circle class="a" r="5.3" cx="389.9" cy="396.2"/>
<circle class="a" r="5.3" cx="383.9" cy="409.3"/>
<circle class="a" r="5.3" cx="376.0" cy="405.5"/>
<circle class="a" r="5.3" cx="376.0" cy="406.5"/>
<circle class="a" r="5.3" cx="374.0" cy="401.8"/>
<circle class="b" r="5.3" cx="374.0" cy="395.3"/>
<circle class="a" r="5.3" cx="411.8" cy="409.3"/>
<circle class="a" r="5.3" cx="378.0" cy="405.5"/>
<circle class="b" r="5.3" cx="379.9" cy="399.9"/>
<circle class="b" r="5.3" cx="368.0" cy="393.4"/>
<circle class="a" r="5.3" cx="383.9" cy="402.7"/>
<circle class="a" r="5.3" cx="395.9" cy="408.3"/>
<circle class="b" r="5.3" cx="385.9" cy="388.7"/>
<circle class="a" r="5.3" cx="397.8" cy="407.4"/>
<circle class="b" r="5.3" cx="397.8" cy="393.4"/>
<circle class="b" r="5.3" cx="385.9" cy="389.7"/>
<circle class="a" r="5.3" cx="399.8" cy="409.3"/>
<circle class="b" r="5.3" cx="366.0" cy="402.7"/>
<circle class="a" r="5.3" cx="391.9" cy="399.0"/>
<circle class="b" r="5.3" cx="385.9" cy="393.4"/>
<circle class="a" r="5.3" cx="379.9" cy="408.3"/>
<circle class="b" r="5.3" cx="403.8" cy="371.0"/>
<circle class="a" r="5.3" cx="381.9" cy="408.3"/>
<circle class="b" r="5.3" cx="372.0" cy="395.3"/>
<circle class="a" r="5.3" cx="360.1" cy="413.0"/>
<circle class="a" r="5.3" cx="374.0" cy="413.0"/>
<circle class="a" r="5.3" cx="372.0" cy="414.9"/>
<circle class="a" r="5.3" cx="385.9" cy="402.7"/>
<circle class="b" r="5.3" cx="354.1" cy="401.8"/>
<circle class="b" r="5.3" cx="368.0" cy="394.3"/>
<circle class="a" r="5.3" cx="399.8" cy="399.0"/>
<circle class="a" r="5.3" cx="389.9" cy="404.6"/>
<circle class="b" r="5.3" cx="389.9" cy="385.0"/>
<circle class="b" r="5.3" cx="368.0" cy="389.7"/>
<circle class="a" r="5.3" cx="366.0" cy="401.8"/>
<circle class="a" r="5.3" cx="370.0" cy="383.1"/>
<circle class="b" r="5.3" cx="366.0" cy="398.1"/>
<circle class="a" r="5.3" cx="376.0" cy="405.5"/>
<circle class="a" r="5.3" cx="395.9" cy="391.5"/>
<circle class="a" r="5.3" cx="368.0" cy="402.7"/>
<circle class="b" r="5.3" cx="348.1" cy="400.9"/>
<circle class="a" r="5.3" cx="383.9" cy="403.7"/>
<circle class="a" r="5.3" cx="379.9" cy="412.1"/>
<circle class="b" r="5.3" cx="370.0" cy="401.8"/>
<circle class="b" r="5.3" cx="385.9" cy="401.8"/>
<circle class="b" r="5.3" cx="381.9" cy="394.3"/>
<circle class="b" r="5.3" cx="385.9" cy="385.0"/>
<circle class="b" r="5.3" cx="399.8" cy="396.2"/>
<circle class="b" r="5.3" cx="385.9" cy="403.7"/>
<circle class="b" r="5.3" cx="372.0" cy="400.9"/>
<circle class="b" r="5.3" cx="368.0" cy="395.3"/>
<circle class="a" r="5.3" cx="395.9" cy="401.8"/>
<circle class="b" r="5.3" cx="389.9" cy="401.8"/>
<circle class="a" r="5.3" cx="379.9" cy="398.1"/>
<circle class="a" r="5.3" cx="389.9" cy="407.4"/>
<circle class="b" r="5.3" cx="374.0" cy="397.1"/>
<circle class="b" r="5.3" cx="387.9" cy="402.7"/>
<circle class="a" r="5.3" cx="397.8" cy="395.3"/>
<circle class="b" r="5.3" cx="378.0" cy="399.0"/>
<circle class="a" r="5.3" cx="378.0" cy="397.1"/>
<circle class="b" r="5.3" cx="368.0" cy="390.6"/>
<circle class="b" r="5.3" cx="366.0" cy="416.7"/>
<circle class="a" r="5.3" cx="350.1" cy="424.2"/>
<circle class="a" r="5.3" cx="370.0" cy="408.3"/>
<circle class="a" r="5.3" cx="372.0" cy="412.1"/>
<circle class="b" r="5.3" cx="378.0" cy="385.9"/>
<circle class="b" r="5.3" cx="381.9" cy="400.9"/>
<circle class="a" r="5.3" cx="370.0" cy="414.9"/>
<circle class="a" r="5.3" cx="356.1" cy="418.6"/>
<circle class="a" r="5.3" cx="374.0" cy="413.0"/>
<circle class="b" r="5.3" cx="395.9" cy="373.8"/>
<circle class="b" r="5.3" cx="379.9" cy="396.2"/>
<circle class="a" r="5.3" cx="374.0" cy="408.3"/>
<circle class="a" r="5.3" cx="368.0" cy="419.5"/>
<circle class="b" r="5.3" cx="376.0" cy="401.8"/>
<circle class="a" r="5.3" cx="374.0" cy="386.9"/>
<circle class="a" r="5.3" cx="366.0" cy="404.6"/>
<circle class="b" r="5.3" cx="379.9" cy="411.1"/>
<circle class="a" r="5.3" cx="383.9" cy="407.4"/>
<circle class="a" r="5.3" cx="372.0" cy="399.0"/>
<circle class="a" r="5.3" cx="389.9" cy="393.4"/>
<circle class="b" r="5.3" cx="374.0" cy="387.8"/>
<circle class="a" r="5.3" cx="374.0" cy="397.1"/>
<circle class="a" r="5.3" cx="370.0" cy="419.5"/>
<circle class="a" r="5.3" cx="364.0" cy="415.8"/>
<circle class="b" r="5.3" cx="383.9" cy="402.7"/>
<circle class="a" r="5.3" cx="405.8" cy="400.9"/>
<circle class="b" r="5.3" cx="366.0" cy="402.7"/>
<circle class="a" r="5.3" cx="352.1" cy="412.1"/>
<circle class="a" r="5.3" cx="387.9" cy="412.1"/>
<circle class="b" r="5.3" cx="356.1" cy="400.9"/>
<circle class="b" r="5.3" cx="356.1" cy="409.3"/>
<circle class="b" r="5.3" cx="385.9" cy="399.0"/>
<circle class="a" r="5.3" cx="374.0" cy="405.5"/>
<circle class="a" r="5.3" cx="368.0" cy="391.5"/>
<circle class="a" r="5.3" cx="362.1" cy="415.8"/>
<circle class="a" r="5.3" cx="383.9" cy="397.1"/>
<circle class="b" r="5.3" cx="393.9" cy="391.5"/>
<circle class="b" r="5.3" cx="368.0" cy="405.5"/>
<circle class="b" r="5.3" cx="383.9" cy="389.7"/>
<circle class="b" r="5.3" cx="366.0" cy="395.3"/>
<circle class="b" r="5.3" cx="378.0" cy="399.0"/>
<circle class="a" r="5.3" cx="354.1" cy="405.5"/>
<circle class="a" r="5.3" cx="364.0" cy="402.7"/>
<circle class="a" r="5.3" cx="395.9" cy="404.6"/>
<circle class="b" r="5.3" cx="376.0" cy="388.7"/>
<circle class="b" r="5.3" cx="405.8" cy="382.2"/>
<circle class="a" r="5.3" cx="378.0" cy="406.5"/>
<circle class="a" r="5.3" cx="374.0" cy="417.7"/>
<circle class="b" r="5.3" cx="405.8" cy="384.1"/>
<circle class="a" r="5.3" cx="374.0" cy="405.5"/>
<circle class="a" r="5.3" cx="370.0" cy="399.0"/>
<circle class="a" r="5.3" cx="376.0" cy="398.1"/>
<circle class="a" r="5.3" cx="379.9" cy="402.7"/>
<circle class="a" r="5.3" cx="381.9" cy="413.0"/>
<circle class="b" r="5.3" cx="370.0" cy="407.4"/>
<circle class="b" r="5.3" cx="370.0" cy="403.7"/>
<circle class="a" r="5.3" cx="385.9" cy="394.3"/>
<circle class="b" r="5.3" cx="378.0" cy="405.5"/>
<circle class="b" r="5.3" cx="374.0" cy="374.7"/>
<circle class="a" r="5.3" cx="391.9" cy="396.2"/>
<circle class="a" r="5.3" cx="376.0" cy="407.4"/>
<circle class="a" r="5.3" cx="368.0" cy="403.7"/>
<circle class="a" r="5.3" cx="379.9" cy="418.6"/>
<circle class="a" r="5.3" cx="385.9" cy="399.0"/>
<circle class="a" r="5.3" cx="381.9" cy="420.5"/>
<circle class="a" r="5.3" cx="389.9" cy="402.7"/>
<circle class="a" r="5.3" cx="364.0" cy="412.1"/>
<circle class="a" r="5.3" cx="364.0" cy="409.3"/>
<circle class="a" r="5.3" cx="366.0" cy="364.4"/>
<circle class="a" r="5.3" cx="370.0" cy="381.3"/>
<circle class="a" r="5.3" cx="372.0" cy="397.1"/>
<circle class="a" r="5.3" cx="372.0" cy="416.7"/>
<circle class="b" r="5.3" cx="358.1" cy="410.2"/>
<circle class="b" r="5.3" cx="354.1" cy="401.8"/>
<circle class="a" r="5.3" cx="378.0" cy="399.9"/>
<circle class="b" r="5.3" cx="401.8" cy="386.9"/>
<circle class="a" r="5.3" cx="383.9" cy="404.6"/>
<circle class="a" r="5.3" cx="372.0" cy="398.1"/>
<circle class="a" r="5.3" cx="379.9" cy="416.7"/>
<circle class="a" r="5.3" cx="370.0" cy="399.0"/>
<circle class="b" r="5.3" cx="389.9" cy="407.4"/>
<circle class="a" r="5.3" cx="387.9" cy="402.7"/>
<circle class="b" r="5.3" cx="378.0" cy="393.4"/>
<circle class="b" r="5.3" cx="366.0" cy="413.0"/>
<circle class="a" r="5.3" cx="366.0" cy="413.0"/>
<circle class="b" r="5.3" cx="383.9" cy="391.5"/>
<circle class="a" r="5.3" cx="358.1" cy="413.0"/>
<circle class="b" r="5.3" cx="348.1" cy="412.1"/>
<circle class="b" r="5.3" cx="370.0" cy="411.1"/>
<circle class="a" r="5.3" cx="370.0" cy="407.4"/>
<circle class="b" r="5.3" cx="372.0" cy="405.5"/>
<circle class="a" r="5.3" cx="366.0" cy="408.3"/>
<circle class="b" r="5.3" cx="370.0" cy="410.2"/>
<circle class="b" r="5.3" cx="358.1" cy="401.8"/>
<circle class="a" r="5.3" cx="366.0" cy="416.7"/>
<circle class="a" r="5.3" cx="360.1" cy="396.2"/>
<circle class="b" r="5.3" cx="381.9" cy="399.0"/>
<circle class="b" r="5.3" cx="379.9" cy="388.7"/>
<circle class="a" r="5.3" cx="381.9" cy="403.7"/>
<circle class="b" r="5.3" cx="374.0" cy="402.7"/>
<circle class="b" r="5.3" cx="374.0" cy="403.7"/>
<circle class="b" r="5.3" cx="383.9" cy="421.4"/>
<circle class="b" r="5.3" cx="379.9" cy="397.1"/>
<circle class="b" r="5.3" cx="367.8" cy="347.2"/>
<circle class="b" r="5.3" cx="400.0" cy="345.8"/>
<circle class="b" r="5.3" cx="428.0" cy="359.8"/>
<circle class="b" r="5.3" cx="428.0" cy="380.8"/>
<circle class="b" r="5.3" cx="333.8" cy="401.0"/>
<circle class="b" r="5.3" cx="336.5" cy="411.6"/>
<circle class="b" r="5.3" cx="359.0" cy="426.0"/>
<circle class="b" r="5.3" cx="369.6" cy="422.2"/>
<circle class="b" r="5.3" cx="364.0" cy="413.5"/>
<circle class="b" r="5.3" cx="351.5" cy="416.0"/>
<circle class="b" r="5.3" cx="384.0" cy="406.0"/>
<circle class="b" r="5.3" cx="397.8" cy="402.9"/>
<circle class="b" r="5.3" cx="416.5" cy="396.6"/>
<circle class="b" r="5.3" cx="406.5" cy="388.5"/>
<circle class="b" r="5.3" cx="399.0" cy="357.2"/>
<circle class="b" r="5.3" cx="375.2" cy="353.5"/>
<circle class="b" r="5.3" cx="392.8" cy="364.1"/>
<circle class="b" r="5.3" cx="366.5" cy="353.5"/>
<circle class="b" r="5.3" cx="357.8" cy="359.8"/>
<circle class="b" r="5.3" cx="406.5" cy="412.2"/>
<circle class="a" r="5.3" cx="288.0" cy="391.9"/>
<circle class="a" r="5.3" cx="288.0" cy="437.5"/>
<circle class="a" r="5.3" cx="384.0" cy="349.5"/>
<circle class="a" r="5.3" cx="351.8" cy="365.8"/>
<circle class="a" r="5.3" cx="351.8" cy="372.9"/>
<circle class="a" r="5.3" cx="415.9" cy="361.6"/>
<circle class="a" r="5.3" cx="420.9" cy="366.0"/>
<circle class="a" r="5.3" cx="387.8" cy="382.2"/>
<circle class="a" r="5.3" cx="381.5" cy="391.0"/>
<circle class="a" r="5.3" cx="417.8" cy="387.2"/>
<circle class="a" r="5.3" cx="420.9" cy="392.2"/>
<circle class="a" r="5.3" cx="339.6" cy="429.1"/>
<circle class="a" r="5.3" cx="344.0" cy="423.5"/>
<circle class="a" r="5.3" cx="349.0" cy="424.8"/>
<circle class="a" r="5.3" cx="395.9" cy="421.0"/>
<circle class="a" r="5.3" cx="404.0" cy="412.2"/>
<circle class="a" r="5.3" cx="341.5" cy="399.8"/>
<circle class="a" r="5.3" cx="345.2" cy="409.8"/>
</g>
<path d="M281 341H436V444H281Z M282 342V442H434V342Z" fill="#333333" fill-rule="evenodd"/>
<rect x="450" y="341" width="155" height="102" fill="#fff"/>
<path d="M450 423h155v1h-155zM450 396h155v1h-155zM450 368h155v1h-155zM450 437h155v2h-155zM450 409h155v2h-155zM450 381h155v2h-155zM450 354h155v2h-155zM467 341h1v102h-1zM502 341h1v102h-1zM538 341h1v102h-1zM573 341h1v102h-1zM484 341h2v102h-2zM519 341h2v102h-2zM555 341h2v102h-2zM590 341h2v102h-2z" fill="#EBEBEB"/>
<g clip-path="url(#c24)">
<path d="M457 437.9 L457 436.62 L457.46 436.68 L458.07 436.77 L458.8 436.87 L459.61 436.98 L460.47 437.08 L461.34 437.17 L462.2 437.23 L463 437.25 L463.78 437.24 L464.57 437.23 L465.38 437.19 L466.19 437.13 L466.99 437.05 L467.77 436.94 L468.53 436.8 L469.25 436.62 L469.93 436.43 L470.59 436.22 L471.22 435.99 L471.83 435.73 L472.43 435.42 L473.03 435.06 L473.63 434.63 L474.25 434.12 L474.88 433.54 L475.53 432.9 L476.18 432.19 L476.83 431.43 L477.47 430.61 L478.09 429.75 L478.68 428.83 L479.25 427.88 L479.78 426.86 L480.28 425.77 L480.75 424.62 L481.2 423.42 L481.65 422.2 L482.09 420.96 L482.54 419.72 L483 418.5 L483.47 417.3 L483.95 416.1 L484.43 414.91 L484.91 413.7 L485.39 412.46 L485.86 411.19 L486.31 409.87 L486.75 408.5 L487.17 407.05 L487.59 405.52 L488 403.94 L488.39 402.33 L488.78 400.71 L489.15 399.1 L489.52 397.52 L489.88 396 L490.22 394.54 L490.54 393.13 L490.86 391.74 L491.16 390.38 L491.46 389.01 L491.76 387.62 L492.07 386.21 L492.38 384.75 L492.68 383.25 L492.99 381.71 L493.29 380.15 L493.59 378.58 L493.89 376.99 L494.21 375.4 L494.53 373.82 L494.88 372.25 L495.23 370.67 L495.6 369.05 L495.97 367.43 L496.36 365.8 L496.75 364.21 L497.16 362.66 L497.58 361.16 L498 359.75 L498.44 358.39 L498.89 357.07 L499.36 355.79 L499.84 354.55 L500.32 353.39 L500.8 352.29 L501.28 351.29 L501.75 350.38 L502.23 349.56 L502.73 348.84 L503.24 348.2 L503.74 347.64 L504.23 347.15 L504.69 346.71 L505.12 346.33 L505.5 346 L505.81 345.72 L506.06 345.49 L506.26 345.33 L506.44 345.22 L506.62 345.17 L506.82 345.18 L507.06 345.25 L507.38 345.38 L507.76 345.58 L508.2 345.86 L508.67 346.22 L509.17 346.62 L509.68 347.07 L510.19 347.54 L510.67 348.02 L511.12 348.5 L511.55 348.97 L511.95 349.43 L512.34 349.91 L512.73 350.41 L513.11 350.95 L513.48 351.53 L513.86 352.17 L514.25 352.88 L514.63 353.62 L515 354.4 L515.37 355.21 L515.73 356.08 L516.11 357.01 L516.51 358.03 L516.92 359.15 L517.38 360.38 L517.86 361.75 L518.37 363.28 L518.9 364.91 L519.45 366.62 L520.01 368.38 L520.58 370.13 L521.16 371.85 L521.75 373.5 L522.34 375.09 L522.93 376.67 L523.52 378.23 L524.13 379.79 L524.76 381.34 L525.4 382.89 L526.06 384.44 L526.75 386 L527.46 387.57 L528.2 389.15 L528.95 390.74 L529.72 392.33 L530.51 393.9 L531.32 395.46 L532.15 397 L533 398.5 L533.88 399.97 L534.79 401.43 L535.72 402.87 L536.67 404.28 L537.63 405.68 L538.6 407.05 L539.55 408.41 L540.5 409.75 L541.44 411.08 L542.38 412.4 L543.31 413.7 L544.25 414.98 L545.19 416.24 L546.12 417.46 L547.06 418.63 L548 419.75 L548.94 420.82 L549.88 421.86 L550.81 422.86 L551.75 423.81 L552.69 424.73 L553.62 425.61 L554.56 426.45 L555.5 427.25 L556.42 428 L557.32 428.71 L558.2 429.36 L559.09 429.98 L560 430.58 L560.95 431.15 L561.94 431.7 L563 432.25 L564.13 432.79 L565.32 433.32 L566.57 433.83 L567.84 434.32 L569.14 434.79 L570.44 435.22 L571.73 435.63 L573 436 L574.22 436.33 L575.38 436.64 L576.53 436.91 L577.69 437.15 L578.88 437.36 L580.15 437.56 L581.51 437.73 L583 437.88 L584.74 438 L586.75 438.08 L588.92 438.14 L591.12 438.18 L593.25 438.2 L595.19 438.22 L596.81 438.23 L598 438.25 L598 437.9 Z" fill="#66C2A5"/>
<path d="M457 436.62 L457.46 436.68 L458.07 436.77 L458.8 436.87 L459.61 436.98 L460.47 437.08 L461.34 437.17 L462.2 437.23 L463 437.25 L463.78 437.24 L464.57 437.23 L465.38 437.19 L466.19 437.13 L466.99 437.05 L467.77 436.94 L468.53 436.8 L469.25 436.62 L469.93 436.43 L470.59 436.22 L471.22 435.99 L471.83 435.73 L472.43 435.42 L473.03 435.06 L473.63 434.63 L474.25 434.12 L474.88 433.54 L475.53 432.9 L476.18 432.19 L476.83 431.43 L477.47 430.61 L478.09 429.75 L478.68 428.83 L479.25 427.88 L479.78 426.86 L480.28 425.77 L480.75 424.62 L481.2 423.42 L481.65 422.2 L482.09 420.96 L482.54 419.72 L483 418.5 L483.47 417.3 L483.95 416.1 L484.43 414.91 L484.91 413.7 L485.39 412.46 L485.86 411.19 L486.31 409.87 L486.75 408.5 L487.17 407.05 L487.59 405.52 L488 403.94 L488.39 402.33 L488.78 400.71 L489.15 399.1 L489.52 397.52 L489.88 396 L490.22 394.54 L490.54 393.13 L490.86 391.74 L491.16 390.38 L491.46 389.01 L491.76 387.62 L492.07 386.21 L492.38 384.75 L492.68 383.25 L492.99 381.71 L493.29 380.15 L493.59 378.58 L493.89 376.99 L494.21 375.4 L494.53 373.82 L494.88 372.25 L495.23 370.67 L495.6 369.05 L495.97 367.43 L496.36 365.8 L496.75 364.21 L497.16 362.66 L497.58 361.16 L498 359.75 L498.44 358.39 L498.89 357.07 L499.36 355.79 L499.84 354.55 L500.32 353.39 L500.8 352.29 L501.28 351.29 L501.75 350.38 L502.23 349.56 L502.73 348.84 L503.24 348.2 L503.74 347.64 L504.23 347.15 L504.69 346.71 L505.12 346.33 L505.5 346 L505.81 345.72 L506.06 345.49 L506.26 345.33 L506.44 345.22 L506.62 345.17 L506.82 345.18 L507.06 345.25 L507.38 345.38 L507.76 345.58 L508.2 345.86 L508.67 346.22 L509.17 346.62 L509.68 347.07 L510.19 347.54 L510.67 348.02 L511.12 348.5 L511.55 348.97 L511.95 349.43 L512.34 349.91 L512.73 350.41 L513.11 350.95 L513.48 351.53 L513.86 352.17 L514.25 352.88 L514.63 353.62 L515 354.4 L515.37 355.21 L515.73 356.08 L516.11 357.01 L516.51 358.03 L516.92 359.15 L517.38 360.38 L517.86 361.75 L518.37 363.28 L518.9 364.91 L519.45 366.62 L520.01 368.38 L520.58 370.13 L521.16 371.85 L521.75 373.5 L522.34 375.09 L522.93 376.67 L523.52 378.23 L524.13 379.79 L524.76 381.34 L525.4 382.89 L526.06 384.44 L526.75 386 L527.46 387.57 L528.2 389.15 L528.95 390.74 L529.72 392.33 L530.51 393.9 L531.32 395.46 L532.15 397 L533 398.5 L533.88 399.97 L534.79 401.43 L535.72 402.87 L536.67 404.28 L537.63 405.68 L538.6 407.05 L539.55 408.41 L540.5 409.75 L541.44 411.08 L542.38 412.4 L543.31 413.7 L544.25 414.98 L545.19 416.24 L546.12 417.46 L547.06 418.63 L548 419.75 L548.94 420.82 L549.88 421.86 L550.81 422.86 L551.75 423.81 L552.69 424.73 L553.62 425.61 L554.56 426.45 L555.5 427.25 L556.42 428 L557.32 428.71 L558.2 429.36 L559.09 429.98 L560 430.58 L560.95 431.15 L561.94 431.7 L563 432.25 L564.13 432.79 L565.32 433.32 L566.57 433.83 L567.84 434.32 L569.14 434.79 L570.44 435.22 L571.73 435.63 L573 436 L574.22 436.33 L575.38 436.64 L576.53 436.91 L577.69 437.15 L578.88 437.36 L580.15 437.56 L581.51 437.73 L583 437.88 L584.74 438 L586.75 438.08 L588.92 438.14 L591.12 438.18 L593.25 438.2 L595.19 438.22 L596.81 438.23 L598 438.25" fill="none" stroke="#000" stroke-width="2" stroke-linejoin="round"/>
<path d="M457 437.9 L457 437.25 L457.98 437.26 L459.31 437.29 L460.91 437.33 L462.66 437.37 L464.47 437.39 L466.23 437.38 L467.86 437.34 L469.25 437.25 L470.43 437.11 L471.52 436.94 L472.52 436.74 L473.45 436.51 L474.33 436.25 L475.16 435.98 L475.96 435.68 L476.75 435.38 L477.5 435.08 L478.19 434.81 L478.84 434.54 L479.45 434.24 L480.03 433.89 L480.6 433.46 L481.17 432.92 L481.75 432.25 L482.33 431.43 L482.9 430.49 L483.46 429.44 L484.02 428.3 L484.56 427.12 L485.09 425.91 L485.61 424.69 L486.12 423.5 L486.63 422.3 L487.12 421.06 L487.6 419.79 L488.08 418.5 L488.54 417.21 L489 415.94 L489.44 414.7 L489.88 413.5 L490.29 412.35 L490.69 411.25 L491.07 410.18 L491.44 409.12 L491.81 408.07 L492.19 407 L492.58 405.9 L493 404.75 L493.44 403.55 L493.89 402.31 L494.36 401.04 L494.84 399.75 L495.32 398.46 L495.8 397.19 L496.28 395.95 L496.75 394.75 L497.21 393.6 L497.67 392.5 L498.13 391.43 L498.59 390.38 L499.05 389.32 L499.52 388.25 L500 387.15 L500.5 386 L501.02 384.78 L501.55 383.5 L502.09 382.18 L502.65 380.84 L503.21 379.53 L503.77 378.27 L504.32 377.08 L504.88 376 L505.42 375.03 L505.95 374.14 L506.49 373.33 L507.02 372.56 L507.56 371.84 L508.11 371.14 L508.67 370.45 L509.25 369.75 L509.85 369.05 L510.49 368.35 L511.13 367.67 L511.79 367.02 L512.44 366.39 L513.07 365.79 L513.68 365.25 L514.25 364.75 L514.78 364.3 L515.29 363.9 L515.78 363.53 L516.24 363.2 L516.69 362.91 L517.14 362.66 L517.57 362.44 L518 362.25 L518.41 362.08 L518.8 361.93 L519.16 361.8 L519.52 361.72 L519.89 361.68 L520.27 361.71 L520.68 361.81 L521.12 362 L521.61 362.26 L522.12 362.59 L522.65 362.98 L523.2 363.44 L523.76 363.97 L524.33 364.57 L524.91 365.24 L525.5 366 L526.1 366.86 L526.71 367.82 L527.33 368.88 L527.96 370 L528.6 371.17 L529.24 372.36 L529.87 373.56 L530.5 374.75 L531.12 375.94 L531.75 377.16 L532.38 378.41 L533 379.67 L533.62 380.95 L534.25 382.22 L534.88 383.49 L535.5 384.75 L536.12 386.02 L536.75 387.31 L537.38 388.61 L538 389.91 L538.62 391.18 L539.25 392.43 L539.88 393.62 L540.5 394.75 L541.12 395.81 L541.75 396.8 L542.38 397.75 L543 398.66 L543.62 399.55 L544.25 400.43 L544.88 401.33 L545.5 402.25 L546.12 403.19 L546.75 404.12 L547.38 405.06 L548 406 L548.62 406.94 L549.25 407.88 L549.88 408.81 L550.5 409.75 L551.12 410.69 L551.72 411.62 L552.32 412.56 L552.92 413.5 L553.53 414.44 L554.16 415.38 L554.82 416.31 L555.5 417.25 L556.23 418.23 L557.02 419.26 L557.83 420.31 L558.66 421.35 L559.49 422.35 L560.29 423.27 L561.05 424.08 L561.75 424.75 L562.39 425.26 L562.98 425.64 L563.53 425.92 L564.05 426.12 L564.57 426.26 L565.08 426.38 L565.59 426.49 L566.12 426.62 L566.67 426.75 L567.2 426.83 L567.74 426.87 L568.27 426.9 L568.81 426.93 L569.36 426.99 L569.92 427.09 L570.5 427.25 L571.1 427.47 L571.71 427.73 L572.33 428.02 L572.96 428.34 L573.6 428.68 L574.24 429.04 L574.87 429.39 L575.5 429.75 L576.12 430.11 L576.72 430.5 L577.32 430.9 L577.92 431.31 L578.53 431.72 L579.16 432.12 L579.82 432.51 L580.5 432.88 L581.22 433.23 L581.97 433.59 L582.75 433.94 L583.55 434.28 L584.35 434.6 L585.16 434.9 L585.96 435.16 L586.75 435.38 L587.54 435.54 L588.34 435.65 L589.15 435.73 L589.95 435.78 L590.75 435.82 L591.53 435.86 L592.28 435.92 L593 436 L593.72 436.11 L594.46 436.25 L595.19 436.39 L595.89 436.54 L596.55 436.68 L597.13 436.81 L597.62 436.92 L598 437 L598 437.9 Z" fill="#FC8D62"/>
<path d="M457 437.25 L457.98 437.26 L459.31 437.29 L460.91 437.33 L462.66 437.37 L464.47 437.39 L466.23 437.38 L467.86 437.34 L469.25 437.25 L470.43 437.11 L471.52 436.94 L472.52 436.74 L473.45 436.51 L474.33 436.25 L475.16 435.98 L475.96 435.68 L476.75 435.38 L477.5 435.08 L478.19 434.81 L478.84 434.54 L479.45 434.24 L480.03 433.89 L480.6 433.46 L481.17 432.92 L481.75 432.25 L482.33 431.43 L482.9 430.49 L483.46 429.44 L484.02 428.3 L484.56 427.12 L485.09 425.91 L485.61 424.69 L486.12 423.5 L486.63 422.3 L487.12 421.06 L487.6 419.79 L488.08 418.5 L488.54 417.21 L489 415.94 L489.44 414.7 L489.88 413.5 L490.29 412.35 L490.69 411.25 L491.07 410.18 L491.44 409.12 L491.81 408.07 L492.19 407 L492.58 405.9 L493 404.75 L493.44 403.55 L493.89 402.31 L494.36 401.04 L494.84 399.75 L495.32 398.46 L495.8 397.19 L496.28 395.95 L496.75 394.75 L497.21 393.6 L497.67 392.5 L498.13 391.43 L498.59 390.38 L499.05 389.32 L499.52 388.25 L500 387.15 L500.5 386 L501.02 384.78 L501.55 383.5 L502.09 382.18 L502.65 380.84 L503.21 379.53 L503.77 378.27 L504.32 377.08 L504.88 376 L505.42 375.03 L505.95 374.14 L506.49 373.33 L507.02 372.56 L507.56 371.84 L508.11 371.14 L508.67 370.45 L509.25 369.75 L509.85 369.05 L510.49 368.35 L511.13 367.67 L511.79 367.02 L512.44 366.39 L513.07 365.79 L513.68 365.25 L514.25 364.75 L514.78 364.3 L515.29 363.9 L515.78 363.53 L516.24 363.2 L516.69 362.91 L517.14 362.66 L517.57 362.44 L518 362.25 L518.41 362.08 L518.8 361.93 L519.16 361.8 L519.52 361.72 L519.89 361.68 L520.27 361.71 L520.68 361.81 L521.12 362 L521.61 362.26 L522.12 362.59 L522.65 362.98 L523.2 363.44 L523.76 363.97 L524.33 364.57 L524.91 365.24 L525.5 366 L526.1 366.86 L526.71 367.82 L527.33 368.88 L527.96 370 L528.6 371.17 L529.24 372.36 L529.87 373.56 L530.5 374.75 L531.12 375.94 L531.75 377.16 L532.38 378.41 L533 379.67 L533.62 380.95 L534.25 382.22 L534.88 383.49 L535.5 384.75 L536.12 386.02 L536.75 387.31 L537.38 388.61 L538 389.91 L538.62 391.18 L539.25 392.43 L539.88 393.62 L540.5 394.75 L541.12 395.81 L541.75 396.8 L542.38 397.75 L543 398.66 L543.62 399.55 L544.25 400.43 L544.88 401.33 L545.5 402.25 L546.12 403.19 L546.75 404.12 L547.38 405.06 L548 406 L548.62 406.94 L549.25 407.88 L549.88 408.81 L550.5 409.75 L551.12 410.69 L551.72 411.62 L552.32 412.56 L552.92 413.5 L553.53 414.44 L554.16 415.38 L554.82 416.31 L555.5 417.25 L556.23 418.23 L557.02 419.26 L557.83 420.31 L558.66 421.35 L559.49 422.35 L560.29 423.27 L561.05 424.08 L561.75 424.75 L562.39 425.26 L562.98 425.64 L563.53 425.92 L564.05 426.12 L564.57 426.26 L565.08 426.38 L565.59 426.49 L566.12 426.62 L566.67 426.75 L567.2 426.83 L567.74 426.87 L568.27 426.9 L568.81 426.93 L569.36 426.99 L569.92 427.09 L570.5 427.25 L571.1 427.47 L571.71 427.73 L572.33 428.02 L572.96 428.34 L573.6 428.68 L574.24 429.04 L574.87 429.39 L575.5 429.75 L576.12 430.11 L576.72 430.5 L577.32 430.9 L577.92 431.31 L578.53 431.72 L579.16 432.12 L579.82 432.51 L580.5 432.88 L581.22 433.23 L581.97 433.59 L582.75 433.94 L583.55 434.28 L584.35 434.6 L585.16 434.9 L585.96 435.16 L586.75 435.38 L587.54 435.54 L588.34 435.65 L589.15 435.73 L589.95 435.78 L590.75 435.82 L591.53 435.86 L592.28 435.92 L593 436 L593.72 436.11 L594.46 436.25 L595.19 436.39 L595.89 436.54 L596.55 436.68 L597.13 436.81 L597.62 436.92 L598 437" fill="none" stroke="#000" stroke-width="2" stroke-linejoin="round"/>
</g>
<path d="M450 341H606V444H450Z M451 342V442H604V342Z" fill="#333333" fill-rule="evenodd"/>
<rect x="619" y="341" width="155" height="102" fill="#fff"/>
<path d="M619 431h155v1h-155zM619 407h155v1h-155zM619 384h155v1h-155zM619 361h155v1h-155zM619 419h155v2h-155zM619 395h155v2h-155zM619 372h155v2h-155zM619 348h155v2h-155zM661 341h2v102h-2zM731 341h2v102h-2z" fill="#EBEBEB"/>
<g clip-path="url(#c25)">
<rect x="648" y="379.75" width="2" height="17.25" fill="#333333"/>
<rect x="648" y="410" width="2" height="18.5" fill="#333333"/>
<rect x="637" y="397" width="24" height="13" fill="#66C2A5" stroke="#333333" stroke-width="2"/>
<rect x="637" y="403" width="24" height="5" fill="#333333"/>
<circle cx="648.9" cy="349.75" r="5" fill="#333333"/>
<circle cx="648.9" cy="366" r="5" fill="#333333"/>
<circle cx="648.9" cy="370.4" r="5" fill="#333333"/>
<circle cx="648.9" cy="374.1" r="5" fill="#333333"/>
<circle cx="648.9" cy="437.5" r="5" fill="#333333"/>
<rect x="674" y="362.9" width="2" height="24.1" fill="#333333"/>
<rect x="674" y="405.75" width="2" height="19.65" fill="#333333"/>
<rect x="663" y="387" width="24" height="19" fill="#FC8D62" stroke="#333333" stroke-width="2"/>
<rect x="663" y="396" width="24" height="5" fill="#333333"/>
<circle cx="675" cy="347.9" r="5" fill="#333333"/>
<circle cx="675" cy="353.5" r="5" fill="#333333"/>
<circle cx="675" cy="358.5" r="5" fill="#333333"/>
<rect x="718" y="373.25" width="2" height="18.75" fill="#333333"/>
<rect x="718" y="406" width="2" height="14.75" fill="#333333"/>
<rect x="707" y="392" width="24" height="14" fill="#66C2A5" stroke="#333333" stroke-width="2"/>
<rect x="707" y="397" width="24" height="5" fill="#333333"/>
<circle cx="718.9" cy="361.6" r="5" fill="#333333"/>
<circle cx="718.9" cy="366" r="5" fill="#333333"/>
<rect x="744" y="362.9" width="2" height="22.1" fill="#333333"/>
<rect x="744" y="401" width="2" height="18.75" fill="#333333"/>
<rect x="733" y="385" width="24" height="16" fill="#FC8D62" stroke="#333333" stroke-width="2"/>
<rect x="733" y="391" width="24" height="5" fill="#333333"/>
<circle cx="745" cy="345.75" r="5" fill="#333333"/>
<circle cx="745" cy="357.9" r="5" fill="#333333"/>
</g>
<path d="M619 341H775V444H619Z M620 342V442H773V342Z" fill="#333333" fill-rule="evenodd"/>
<rect x="789" y="341" width="155" height="102" fill="#fff"/>
<path d="M789 431h155v1h-155zM789 407h155v1h-155zM789 384h155v1h-155zM789 361h155v1h-155zM789 419h155v2h-155zM789 395h155v2h-155zM789 372h155v2h-155zM789 348h155v2h-155zM817 341h2v102h-2zM866 341h2v102h-2zM914 341h2v102h-2z" fill="#EBEBEB"/>
<g clip-path="url(#c26)">
<rect x="808" y="378.5" width="2" height="17.5" fill="#333333"/>
<rect x="808" y="410" width="2" height="18.5" fill="#333333"/>
<rect x="801" y="396" width="16" height="14" fill="#66C2A5" stroke="#333333" stroke-width="2"/>
<rect x="801" y="401" width="16" height="5" fill="#333333"/>
<circle cx="809" cy="349.75" r="5" fill="#333333"/>
<circle cx="809" cy="361.6" r="5" fill="#333333"/>
<circle cx="809" cy="366" r="5" fill="#333333"/>
<circle cx="809" cy="370.4" r="5" fill="#333333"/>
<circle cx="809" cy="373.5" r="5" fill="#333333"/>
<circle cx="809" cy="437.5" r="5" fill="#333333"/>
<rect x="826" y="362.9" width="2" height="24.1" fill="#333333"/>
<rect x="826" y="405.75" width="2" height="19.65" fill="#333333"/>
<rect x="819" y="387" width="16" height="19" fill="#FC8D62" stroke="#333333" stroke-width="2"/>
<rect x="819" y="396" width="16" height="5" fill="#333333"/>
<circle cx="827" cy="345.75" r="5" fill="#333333"/>
<circle cx="827" cy="353.5" r="5" fill="#333333"/>
<circle cx="827" cy="358.5" r="5" fill="#333333"/>
<rect x="856" y="366.25" width="2" height="18.75" fill="#333333"/>
<rect x="856" y="410" width="2" height="17.5" fill="#333333"/>
<rect x="849" y="385" width="16" height="25" fill="#66C2A5" stroke="#333333" stroke-width="2"/>
<rect x="849" y="401" width="16" height="5" fill="#333333"/>
<rect x="874" y="361.4" width="2" height="21.7" fill="#333333"/>
<rect x="874" y="399.1" width="2" height="22.5" fill="#333333"/>
<rect x="867" y="383" width="16" height="16" fill="#FC8D62" stroke="#333333" stroke-width="2"/>
<rect x="867" y="392" width="16" height="5" fill="#333333"/>
<circle cx="875" cy="347.9" r="5" fill="#333333"/>
<rect x="905" y="366.25" width="2" height="24.75" fill="#333333"/>
<rect x="905" y="407.9" width="2" height="12.85" fill="#333333"/>
<rect x="898" y="391" width="16" height="17" fill="#66C2A5" stroke="#333333" stroke-width="2"/>
<rect x="898" y="400" width="16" height="5" fill="#333333"/>
<rect x="923" y="360.4" width="2" height="22.7" fill="#333333"/>
<rect x="923" y="400" width="2" height="19.75" fill="#333333"/>
<rect x="916" y="383" width="16" height="17" fill="#FC8D62" stroke="#333333" stroke-width="2"/>
<rect x="916" y="393" width="16" height="5" fill="#333333"/>
</g>
<path d="M789 341H945V444H789Z M790 342V442H943V342Z" fill="#333333" fill-rule="evenodd"/>
<rect x="958" y="341" width="155" height="102" fill="#fff"/>
<path d="M958 431h155v1h-155zM958 407h155v1h-155zM958 384h155v1h-155zM958 361h155v1h-155zM958 419h155v2h-155zM958 395h155v2h-155zM958 372h155v2h-155zM958 348h155v2h-155zM986 341h2v102h-2zM1035 341h2v102h-2zM1083 341h2v102h-2z" fill="#EBEBEB"/>
<g clip-path="url(#c27)">
<rect x="977" y="378.5" width="2" height="17.5" fill="#333333"/>
<rect x="977" y="410" width="2" height="18.5" fill="#333333"/>
<rect x="970" y="396" width="16" height="14" fill="#66C2A5" stroke="#333333" stroke-width="2"/>
<rect x="970" y="401" width="16" height="5" fill="#333333"/>
<circle cx="978" cy="349.75" r="5" fill="#333333"/>
<circle cx="978" cy="361.6" r="5" fill="#333333"/>
<circle cx="978" cy="366" r="5" fill="#333333"/>
<circle cx="978" cy="370.4" r="5" fill="#333333"/>
<circle cx="978" cy="373.5" r="5" fill="#333333"/>
<circle cx="978" cy="437.5" r="5" fill="#333333"/>
<rect x="995" y="362.9" width="2" height="24.1" fill="#333333"/>
<rect x="995" y="405.75" width="2" height="19.65" fill="#333333"/>
<rect x="988" y="387" width="16" height="19" fill="#FC8D62" stroke="#333333" stroke-width="2"/>
<rect x="988" y="395" width="16" height="5" fill="#333333"/>
<circle cx="996" cy="354.75" r="5" fill="#333333"/>
<circle cx="996" cy="358.5" r="5" fill="#333333"/>
<rect x="1026" y="364.4" width="2" height="18.7" fill="#333333"/>
<rect x="1026" y="410" width="2" height="11.6" fill="#333333"/>
<rect x="1019" y="383" width="16" height="27" fill="#66C2A5" stroke="#333333" stroke-width="2"/>
<rect x="1019" y="396" width="16" height="5" fill="#333333"/>
<rect x="1044" y="369.4" width="2" height="16.6" fill="#333333"/>
<rect x="1044" y="398.1" width="2" height="12.5" fill="#333333"/>
<rect x="1037" y="386" width="16" height="12" fill="#FC8D62" stroke="#333333" stroke-width="2"/>
<rect x="1037" y="391" width="16" height="5" fill="#333333"/>
<circle cx="1045" cy="345.75" r="5" fill="#333333"/>
<circle cx="1045" cy="352.25" r="5" fill="#333333"/>
<circle cx="1045" cy="361" r="5" fill="#333333"/>
<rect x="1074" y="373.25" width="2" height="20.85" fill="#333333"/>
<rect x="1074" y="407.9" width="2" height="14.6" fill="#333333"/>
<rect x="1067" y="394" width="16" height="14" fill="#66C2A5" stroke="#333333" stroke-width="2"/>
<rect x="1067" y="400" width="16" height="5" fill="#333333"/>
<rect x="1092" y="366.25" width="2" height="16.85" fill="#333333"/>
<rect x="1092" y="401" width="2" height="18.75" fill="#333333"/>
<rect x="1085" y="383" width="16" height="18" fill="#FC8D62" stroke="#333333" stroke-width="2"/>
<rect x="1085" y="392" width="16" height="5" fill="#333333"/>
</g>
<path d="M958 341H1114V444H958Z M959 342V442H1112V342Z" fill="#333333" fill-rule="evenodd"/>
<rect x="1128" y="341" width="155" height="102" fill="#fff"/>
<path d="M1128 431h155v1h-155zM1128 407h155v1h-155zM1128 384h155v1h-155zM1128 361h155v1h-155zM1128 419h155v2h-155zM1128 395h155v2h-155zM1128 372h155v2h-155zM1128 348h155v2h-155zM1169 341h2v102h-2zM1239 341h2v102h-2z" fill="#EBEBEB"/>
<g clip-path="url(#c28)">
<rect x="1169" y="376.6" width="2" height="18.4" fill="#333333"/>
<rect x="1169" y="410" width="2" height="18.5" fill="#333333"/>
<rect x="1144" y="395" width="52" height="15" fill="#66C2A5" stroke="#333333" stroke-width="2"/>
<rect x="1144" y="401" width="52" height="5" fill="#333333"/>
<circle cx="1170" cy="349.75" r="5" fill="#333333"/>
<circle cx="1170" cy="361.6" r="5" fill="#333333"/>
<circle cx="1170" cy="366" r="5" fill="#333333"/>
<circle cx="1170" cy="371" r="5" fill="#333333"/>
<circle cx="1170" cy="437.5" r="5" fill="#333333"/>
<rect x="1240" y="362.9" width="2" height="24.1" fill="#333333"/>
<rect x="1240" y="405" width="2" height="20.4" fill="#333333"/>
<rect x="1214" y="387" width="52" height="18" fill="#FC8D62" stroke="#333333" stroke-width="2"/>
<rect x="1214" y="395" width="52" height="5" fill="#333333"/>
<circle cx="1240.5" cy="345.75" r="5" fill="#333333"/>
<circle cx="1240.5" cy="347.9" r="5" fill="#333333"/>
<circle cx="1240.5" cy="353.5" r="5" fill="#333333"/>
<circle cx="1240.5" cy="358.5" r="5" fill="#333333"/>
</g>
<path d="M1128 341H1284V444H1128Z M1129 342V442H1282V342Z" fill="#333333" fill-rule="evenodd"/>
<rect x="111" y="457" width="155" height="44" fill="#fff"/>
<path d="M111 494h155v1h-155zM111 484h155v1h-155zM111 474h155v1h-155zM111 464h155v1h-155zM111 498h155v2h-155zM111 488h155v2h-155zM111 478h155v2h-155zM111 468h155v2h-155zM111 458h155v2h-155zM128 457h1v44h-1zM159 457h1v44h-1zM189 457h1v44h-1zM219 457h1v44h-1zM249 457h1v44h-1zM113 457h2v44h-2zM143 457h2v44h-2zM173 457h2v44h-2zM204 457h2v44h-2zM234 457h2v44h-2zM264 457h2v44h-2z" fill="#EBEBEB"/>
<rect x="111" y="516" width="155" height="43" fill="#fff"/>
<path d="M111 552h155v1h-155zM111 542h155v1h-155zM111 532h155v1h-155zM111 522h155v1h-155zM111 556h155v2h-155zM111 546h155v2h-155zM111 536h155v2h-155zM111 527h155v2h-155zM111 517h155v2h-155zM128 516h1v43h-1zM159 516h1v43h-1zM189 516h1v43h-1zM219 516h1v43h-1zM249 516h1v43h-1zM113 516h2v43h-2zM143 516h2v43h-2zM173 516h2v43h-2zM204 516h2v43h-2zM234 516h2v43h-2zM264 516h2v43h-2z" fill="#EBEBEB"/>
<rect x="188" y="517.95" width="1" height="39.09" fill="#66C2A5"/>
<rect x="192" y="537.5" width="1" height="19.55" fill="#FC8D62"/>
<rect x="198" y="537.5" width="1" height="19.55" fill="#FC8D62"/>
<path d="M111 457H267V502H111Z M112 458V500H265V458Z" fill="#333333" fill-rule="evenodd"/>
<path d="M111 516H267V560H111Z M112 517V558H265V517Z" fill="#333333" fill-rule="evenodd"/>
<rect x="281" y="457" width="154" height="44" fill="#fff"/>
<path d="M281 494h154v1h-154zM281 486h154v1h-154zM281 478h154v1h-154zM281 470h154v1h-154zM281 462h154v1h-154zM281 498h154v2h-154zM281 490h154v2h-154zM281 482h154v2h-154zM281 474h154v2h-154zM281 466h154v2h-154zM281 458h154v2h-154zM308 457h1v44h-1zM348 457h1v44h-1zM387 457h1v44h-1zM427 457h1v44h-1zM288 457h2v44h-2zM327 457h2v44h-2zM367 457h2v44h-2zM407 457h2v44h-2z" fill="#EBEBEB"/>
<rect x="281" y="516" width="154" height="43" fill="#fff"/>
<path d="M281 553h154v1h-154zM281 545h154v1h-154zM281 537h154v1h-154zM281 529h154v1h-154zM281 521h154v1h-154zM281 556h154v2h-154zM281 548h154v2h-154zM281 540h154v2h-154zM281 533h154v2h-154zM281 525h154v2h-154zM281 517h154v2h-154zM308 516h1v43h-1zM348 516h1v43h-1zM387 516h1v43h-1zM427 516h1v43h-1zM288 516h2v43h-2zM327 516h2v43h-2zM367 516h2v43h-2zM407 516h2v43h-2z" fill="#EBEBEB"/>
<path d="M334 498h2v1h-2zM337 498h2v1h-2zM342 498h2v1h-2zM344 497h1v2h-1zM347 495h1v4h-1zM350 498h2v1h-2zM352 487h1v12h-1zM353 495h2v4h-2zM355 491h1v8h-1zM358 489h2v10h-2zM360 486h1v13h-1zM361 491h2v8h-2zM363 483h1v16h-1zM366 488h1v11h-1zM367 488h1v11h-1zM368 484h1v15h-1zM369 486h1v13h-1zM370 486h1v13h-1zM371 489h1v10h-1zM374 493h2v6h-2zM376 489h1v10h-1zM377 486h1v13h-1zM378 486h1v13h-1zM379 492h1v7h-1zM382 493h1v6h-1zM383 493h1v6h-1zM384 488h1v11h-1zM385 495h1v4h-1zM386 495h1v4h-1zM387 487h1v12h-1zM390 496h2v3h-2zM392 496h1v3h-1zM393 497h2v2h-2zM395 498h1v1h-1zM398 497h2v2h-2zM400 498h2v1h-2zM403 498h1v1h-1zM408 498h1v1h-1z" fill="#FC8D62"/>
<path d="M288 497h1v2h-1zM339 497h1v2h-1zM342 496h2v2h-2zM344 496h1v1h-1zM347 489h1v6h-1zM350 493h2v5h-2zM352 481h1v6h-1zM353 492h2v3h-2zM355 476h1v15h-1zM358 482h2v7h-2zM360 474h1v12h-1zM361 484h2v7h-2zM363 465h1v18h-1zM366 477h1v11h-1zM367 478h1v10h-1zM368 459h1v25h-1zM369 476h1v10h-1zM370 477h1v9h-1zM371 478h1v11h-1zM374 486h2v7h-2zM376 478h1v11h-1zM377 465h1v21h-1zM378 466h1v20h-1zM379 485h1v7h-1zM382 487h1v6h-1zM383 488h1v5h-1zM384 479h1v9h-1zM385 490h1v5h-1zM386 491h1v4h-1zM387 475h1v12h-1zM390 493h2v3h-2zM392 495h1v1h-1zM393 495h2v2h-2zM395 495h1v3h-1zM398 495h2v2h-2zM400 497h2v1h-2zM402 498h1v1h-1zM406 498h2v1h-2z" fill="#66C2A5"/>
<path d="M352 556h4v1h-4zM358 556h2v1h-2zM360 556h1v1h-1zM361 556h2v1h-2zM363 555h1v2h-1zM366 556h2v1h-2zM368 555h1v2h-1zM369 555h1v2h-1zM370 555h1v2h-1zM371 555h1v2h-1zM374 555h2v2h-2zM376 554h1v3h-1zM377 549h1v8h-1zM378 549h1v8h-1zM379 552h1v5h-1zM382 553h1v4h-1zM383 553h1v4h-1zM384 545h1v12h-1zM385 553h1v4h-1zM386 552h1v5h-1zM387 546h1v11h-1zM390 552h2v5h-2zM392 550h1v7h-1zM393 553h1v4h-1zM394 552h1v5h-1zM395 554h1v3h-1zM398 550h1v7h-1zM399 550h1v7h-1zM400 554h1v3h-1zM401 556h2v1h-2zM403 554h1v3h-1zM406 555h2v2h-2zM408 553h1v4h-1zM411 556h1v1h-1zM414 555h1v2h-1zM415 554h1v3h-1zM416 555h1v2h-1zM427 555h1v2h-1z" fill="#FC8D62"/>
<path d="M360 555h1v1h-1zM363 554h1v1h-1zM366 555h2v1h-2zM368 551h1v4h-1zM369 554h1v1h-1zM370 553h1v2h-1zM371 552h1v3h-1zM374 553h2v2h-2zM376 548h1v6h-1zM377 541h1v8h-1zM378 540h1v9h-1zM379 549h1v3h-1zM382 548h1v5h-1zM383 547h1v6h-1zM384 538h1v7h-1zM385 548h1v5h-1zM386 548h1v4h-1zM387 533h1v13h-1zM390 549h2v3h-2zM392 548h1v2h-1zM393 549h1v4h-1zM394 549h1v3h-1zM395 548h1v6h-1zM398 543h1v7h-1zM399 542h1v8h-1zM400 551h1v3h-1zM401 553h2v3h-2zM403 552h1v2h-1zM406 551h2v4h-2zM408 550h1v3h-1zM411 555h1v1h-1zM416 554h1v1h-1zM417 555h2v2h-2zM419 554h1v3h-1z" fill="#66C2A5"/>
<path d="M281 457H436V502H281Z M282 458V500H434V458Z" fill="#333333" fill-rule="evenodd"/>
<path d="M281 516H436V560H281Z M282 517V558H434V517Z" fill="#333333" fill-rule="evenodd"/>
<rect x="450" y="457" width="155" height="44" fill="#fff"/>
<path d="M450 492h155v1h-155zM450 478h155v1h-155zM450 465h155v1h-155zM450 498h155v2h-155zM450 485h155v2h-155zM450 471h155v2h-155zM450 458h155v2h-155zM467 457h1v44h-1zM502 457h1v44h-1zM538 457h1v44h-1zM573 457h1v44h-1zM484 457h2v44h-2zM519 457h2v44h-2zM555 457h2v44h-2zM590 457h2v44h-2z" fill="#EBEBEB"/>
<rect x="450" y="516" width="155" height="43" fill="#fff"/>
<path d="M450 550h155v1h-155zM450 537h155v1h-155zM450 524h155v1h-155zM450 556h155v2h-155zM450 543h155v2h-155zM450 530h155v2h-155zM450 517h155v2h-155zM467 516h1v43h-1zM502 516h1v43h-1zM538 516h1v43h-1zM573 516h1v43h-1zM484 516h2v43h-2zM519 516h2v43h-2zM555 516h2v43h-2zM590 516h2v43h-2z" fill="#EBEBEB"/>
<path d="M475 498h1v1h-1zM476 498h1v1h-1zM482 498h1v1h-1zM483 498h1v1h-1zM484 496h1v3h-1zM488 498h1v1h-1zM489 498h1v1h-1zM490 497h1v2h-1zM492 494h1v5h-1zM493 489h1v10h-1zM494 496h1v3h-1zM495 495h2v4h-2zM498 496h1v3h-1zM499 492h1v7h-1zM500 495h1v4h-1zM501 494h1v5h-1zM503 493h1v6h-1zM504 490h2v9h-2zM506 484h1v15h-1zM507 491h1v8h-1zM509 494h1v5h-1zM510 494h2v5h-2zM512 480h1v19h-1zM515 496h1v3h-1zM516 485h1v14h-1zM517 494h1v5h-1zM518 490h1v9h-1zM520 491h1v8h-1zM521 493h1v6h-1zM522 496h2v3h-2zM524 487h1v12h-1zM526 484h1v15h-1zM527 485h1v14h-1zM528 498h1v1h-1zM529 491h1v8h-1zM531 496h2v3h-2zM533 496h1v3h-1zM534 488h1v11h-1zM535 494h1v5h-1zM537 497h1v2h-1zM538 495h1v4h-1zM539 497h1v2h-1zM540 495h2v4h-2zM543 496h1v3h-1zM544 493h1v6h-1zM545 497h1v2h-1zM546 494h1v5h-1zM548 497h1v2h-1zM549 497h2v2h-2zM551 498h1v1h-1zM552 496h1v3h-1zM554 498h1v1h-1zM555 495h1v4h-1zM556 497h1v2h-1zM560 498h3v1h-3zM563 498h1v1h-1zM566 498h1v1h-1zM567 498h2v1h-2zM569 497h1v2h-1zM571 498h4v1h-4zM579 498h1v1h-1zM583 498h1v1h-1zM585 498h2v1h-2zM594 498h2v1h-2zM597 498h1v1h-1z" fill="#FC8D62"/>
<path d="M457 498h1v1h-1zM471 498h2v1h-2zM476 497h1v1h-1zM477 498h2v1h-2zM481 497h1v2h-1zM482 496h1v2h-1zM483 493h1v5h-1zM484 491h1v5h-1zM486 498h2v1h-2zM488 491h1v7h-1zM489 497h1v1h-1zM490 494h1v3h-1zM492 487h1v7h-1zM493 473h1v16h-1zM494 489h1v7h-1zM495 488h2v7h-2zM498 484h1v12h-1zM499 476h1v16h-1zM500 494h1v1h-1zM501 479h1v15h-1zM503 486h1v7h-1zM504 482h2v8h-2zM506 459h1v25h-1zM507 485h1v6h-1zM509 483h1v11h-1zM510 484h2v10h-2zM512 468h1v12h-1zM515 488h1v8h-1zM516 471h1v14h-1zM517 491h1v3h-1zM518 483h1v7h-1zM520 482h1v9h-1zM521 485h1v8h-1zM522 493h2v3h-2zM524 482h1v5h-1zM526 476h1v8h-1zM527 477h1v8h-1zM528 495h1v3h-1zM529 487h1v4h-1zM531 495h2v1h-2zM533 489h1v7h-1zM534 484h1v4h-1zM535 492h1v2h-1zM537 495h1v2h-1zM538 492h1v3h-1zM539 495h1v2h-1zM540 489h2v6h-2zM543 494h1v2h-1zM544 491h1v2h-1zM545 496h1v1h-1zM546 493h1v1h-1zM548 495h1v2h-1zM551 497h1v1h-1zM554 497h1v1h-1zM555 492h1v3h-1zM556 496h1v1h-1zM557 498h1v1h-1zM563 497h1v1h-1zM566 497h1v1h-1zM569 496h1v1h-1zM590 498h1v1h-1z" fill="#66C2A5"/>
<path d="M475 556h2v1h-2zM482 556h1v1h-1zM483 556h2v1h-2zM488 556h1v1h-1zM489 556h2v1h-2zM492 555h1v2h-1zM493 554h1v3h-1zM494 556h1v1h-1zM495 556h2v1h-2zM498 556h1v1h-1zM499 554h1v3h-1zM500 555h1v2h-1zM501 555h1v2h-1zM503 555h1v2h-1zM504 554h2v3h-2zM506 551h1v6h-1zM507 555h1v2h-1zM509 555h1v2h-1zM510 554h2v3h-2zM512 548h1v9h-1zM515 554h1v3h-1zM516 552h1v5h-1zM517 555h1v2h-1zM518 550h1v7h-1zM520 551h1v6h-1zM521 554h1v3h-1zM522 554h2v3h-2zM524 549h1v8h-1zM526 552h1v5h-1zM527 551h1v6h-1zM528 556h1v1h-1zM529 550h1v7h-1zM531 555h2v2h-2zM533 555h1v2h-1zM534 550h1v7h-1zM535 554h1v3h-1zM537 556h1v1h-1zM538 552h1v5h-1zM539 555h1v2h-1zM540 553h2v4h-2zM543 554h1v3h-1zM544 552h1v5h-1zM545 556h1v1h-1zM546 554h1v3h-1zM548 554h1v3h-1zM549 554h2v3h-2zM551 556h1v1h-1zM552 555h1v2h-1zM554 556h1v1h-1zM555 554h1v3h-1zM556 555h1v2h-1zM560 556h3v1h-3zM563 555h1v2h-1zM566 556h1v1h-1zM567 556h2v1h-2zM569 555h1v2h-1zM571 556h4v1h-4zM579 555h1v2h-1zM583 556h1v1h-1zM585 556h2v1h-2zM594 556h2v1h-2zM597 556h1v1h-1z" fill="#FC8D62"/>
<path d="M481 556h1v1h-1zM482 555h1v1h-1zM483 554h2v2h-2zM486 556h2v1h-2zM488 554h1v2h-1zM489 555h2v1h-2zM492 552h1v3h-1zM493 548h1v6h-1zM494 554h1v2h-1zM495 552h2v4h-2zM498 551h1v5h-1zM499 547h1v7h-1zM500 554h1v1h-1zM501 550h1v5h-1zM503 551h1v4h-1zM504 550h2v4h-2zM506 541h1v10h-1zM507 553h1v2h-1zM509 551h1v4h-1zM510 550h2v4h-2zM512 544h1v4h-1zM515 550h1v4h-1zM516 543h1v9h-1zM517 553h1v2h-1zM518 546h1v4h-1zM520 547h1v4h-1zM521 547h1v7h-1zM522 552h2v2h-2zM524 546h1v3h-1zM526 547h1v5h-1zM527 547h1v4h-1zM528 554h1v2h-1zM529 548h1v2h-1zM531 553h2v2h-2zM533 550h1v5h-1zM534 547h1v3h-1zM535 552h1v2h-1zM537 554h1v2h-1zM538 550h1v2h-1zM539 552h1v3h-1zM540 549h2v4h-2zM543 553h1v1h-1zM544 551h1v1h-1zM545 555h1v1h-1zM546 553h1v1h-1zM548 552h1v2h-1zM551 554h1v2h-1zM552 554h1v1h-1zM554 555h1v1h-1zM555 552h1v2h-1zM556 554h1v1h-1zM557 556h1v1h-1zM563 554h1v1h-1zM566 555h1v1h-1zM569 554h1v1h-1zM590 556h1v1h-1z" fill="#66C2A5"/>
<path d="M450 457H606V502H450Z M451 458V500H604V458Z" fill="#333333" fill-rule="evenodd"/>
<path d="M450 516H606V560H450Z M451 517V558H604V517Z" fill="#333333" fill-rule="evenodd"/>
<rect x="111" y="574" width="155" height="24" fill="#fff"/>
<path d="M111 594h155v1h-155zM111 588h155v1h-155zM111 583h155v1h-155zM111 577h155v1h-155zM111 596h155v2h-155zM111 590h155v2h-155zM111 585h155v2h-155zM111 580h155v2h-155zM111 574h155v2h-155zM128 574h1v24h-1zM159 574h1v24h-1zM189 574h1v24h-1zM219 574h1v24h-1zM249 574h1v24h-1zM113 574h2v24h-2zM143 574h2v24h-2zM173 574h2v24h-2zM204 574h2v24h-2zM234 574h2v24h-2zM264 574h2v24h-2z" fill="#EBEBEB"/>
<rect x="188" y="575.09" width="1" height="21.82" fill="#66C2A5"/>
<rect x="192" y="586" width="1" height="10.91" fill="#FC8D62"/>
<rect x="198" y="586" width="1" height="10.91" fill="#FC8D62"/>
<rect x="111" y="613" width="155" height="24" fill="#fff"/>
<path d="M111 633h155v1h-155zM111 627h155v1h-155zM111 622h155v1h-155zM111 616h155v1h-155zM111 635h155v2h-155zM111 629h155v2h-155zM111 624h155v2h-155zM111 619h155v2h-155zM111 613h155v2h-155zM128 613h1v24h-1zM159 613h1v24h-1zM189 613h1v24h-1zM219 613h1v24h-1zM249 613h1v24h-1zM113 613h2v24h-2zM143 613h2v24h-2zM173 613h2v24h-2zM204 613h2v24h-2zM234 613h2v24h-2zM264 613h2v24h-2z" fill="#EBEBEB"/>
<rect x="111" y="652" width="155" height="24" fill="#fff"/>
<path d="M111 672h155v1h-155zM111 666h155v1h-155zM111 661h155v1h-155zM111 655h155v1h-155zM111 674h155v2h-155zM111 668h155v2h-155zM111 663h155v2h-155zM111 658h155v2h-155zM111 652h155v2h-155zM128 652h1v24h-1zM159 652h1v24h-1zM189 652h1v24h-1zM219 652h1v24h-1zM249 652h1v24h-1zM113 652h2v24h-2zM143 652h2v24h-2zM173 652h2v24h-2zM204 652h2v24h-2zM234 652h2v24h-2zM264 652h2v24h-2z" fill="#EBEBEB"/>
<path d="M111 574H267V599H111Z M112 575V597H265V575Z" fill="#333333" fill-rule="evenodd"/>
<path d="M111 613H267V638H111Z M112 614V636H265V614Z" fill="#333333" fill-rule="evenodd"/>
<path d="M111 652H267V677H111Z M112 653V675H265V653Z" fill="#333333" fill-rule="evenodd"/>
<rect x="281" y="574" width="154" height="24" fill="#fff"/>
<path d="M281 594h154v1h-154zM281 588h154v1h-154zM281 583h154v1h-154zM281 577h154v1h-154zM281 596h154v2h-154zM281 590h154v2h-154zM281 585h154v2h-154zM281 580h154v2h-154zM281 574h154v2h-154zM308 574h1v24h-1zM348 574h1v24h-1zM387 574h1v24h-1zM427 574h1v24h-1zM288 574h2v24h-2zM327 574h2v24h-2zM367 574h2v24h-2zM407 574h2v24h-2z" fill="#EBEBEB"/>
<rect x="281" y="613" width="154" height="24" fill="#fff"/>
<path d="M281 633h154v1h-154zM281 627h154v1h-154zM281 622h154v1h-154zM281 616h154v1h-154zM281 635h154v2h-154zM281 629h154v2h-154zM281 624h154v2h-154zM281 619h154v2h-154zM281 613h154v2h-154zM308 613h1v24h-1zM348 613h1v24h-1zM387 613h1v24h-1zM427 613h1v24h-1zM288 613h2v24h-2zM327 613h2v24h-2zM367 613h2v24h-2zM407 613h2v24h-2z" fill="#EBEBEB"/>
<rect x="281" y="652" width="154" height="24" fill="#fff"/>
<path d="M281 672h154v1h-154zM281 666h154v1h-154zM281 661h154v1h-154zM281 655h154v1h-154zM281 674h154v2h-154zM281 668h154v2h-154zM281 663h154v2h-154zM281 658h154v2h-154zM281 652h154v2h-154zM308 652h1v24h-1zM348 652h1v24h-1zM387 652h1v24h-1zM427 652h1v24h-1zM288 652h2v24h-2zM327 652h2v24h-2zM367 652h2v24h-2zM407 652h2v24h-2z" fill="#EBEBEB"/>
<path d="M344 596h1v1h-1zM347 595h1v2h-1zM350 596h2v1h-2zM352 594h1v3h-1zM353 595h2v2h-2zM355 593h1v4h-1zM358 592h2v5h-2zM360 592h1v5h-1zM361 594h2v3h-2zM363 590h1v7h-1zM366 593h2v4h-2zM368 587h1v10h-1zM369 591h2v6h-2zM371 593h1v4h-1zM374 594h2v3h-2zM376 591h1v6h-1zM377 589h2v8h-2zM379 591h1v6h-1zM382 592h2v5h-2zM384 589h1v8h-1zM385 595h2v2h-2zM387 588h1v9h-1zM390 594h2v3h-2zM392 592h1v5h-1zM393 595h2v2h-2zM395 596h1v1h-1zM398 593h2v4h-2zM400 596h1v1h-1zM401 596h2v1h-2zM403 596h1v1h-1zM406 596h2v1h-2zM408 596h1v1h-1zM411 596h1v1h-1zM414 596h2v1h-2zM416 596h1v1h-1zM427 596h1v1h-1z" fill="#FC8D62"/>
<path d="M288 596h1v1h-1zM339 596h1v1h-1zM342 595h2v2h-2zM344 595h1v1h-1zM347 592h1v3h-1zM350 594h2v2h-2zM352 592h1v2h-1zM353 593h2v2h-2zM355 587h1v6h-1zM358 589h2v3h-2zM360 587h1v5h-1zM361 589h2v5h-2zM363 580h1v10h-1zM366 589h2v4h-2zM368 576h1v11h-1zM369 586h2v5h-2zM371 587h1v6h-1zM374 590h2v4h-2zM376 585h1v6h-1zM377 575h2v14h-2zM379 588h1v3h-1zM382 586h2v6h-2zM384 581h1v8h-1zM385 592h2v3h-2zM387 579h1v9h-1zM390 592h2v2h-2zM392 590h1v2h-1zM393 591h2v4h-2zM395 592h1v4h-1zM398 590h2v3h-2zM400 593h1v3h-1zM401 595h2v1h-2zM403 594h1v2h-1zM406 594h2v2h-2zM408 593h1v3h-1zM416 595h1v1h-1zM417 596h3v1h-3z" fill="#66C2A5"/>
<path d="M347 635h1v1h-1zM352 635h1v1h-1zM355 635h1v1h-1zM358 635h2v1h-2zM360 635h3v1h-3zM363 634h1v2h-1zM366 635h2v1h-2zM368 634h1v2h-1zM369 635h2v1h-2zM371 635h1v1h-1zM374 635h2v1h-2zM376 635h1v1h-1zM377 634h2v2h-2zM379 635h1v1h-1zM382 635h2v1h-2zM384 633h1v3h-1zM385 635h2v1h-2zM387 634h1v2h-1zM390 635h5v1h-5zM398 635h2v1h-2z" fill="#FC8D62"/>
<path d="M353 635h2v1h-2zM355 634h1v1h-1zM360 634h3v1h-3zM363 633h1v1h-1zM366 634h2v1h-2zM368 631h1v3h-1zM371 634h1v1h-1zM376 634h1v1h-1zM377 632h2v2h-2zM379 634h1v1h-1zM382 634h2v1h-2zM384 632h1v1h-1zM387 633h1v1h-1zM395 635h1v1h-1zM400 635h1v1h-1zM406 635h3v1h-3z" fill="#66C2A5"/>
<path d="M352 674h3v1h-3zM355 674h1v1h-1zM358 674h5v1h-5zM363 673h1v2h-1zM366 674h2v1h-2zM368 673h1v2h-1zM369 674h3v1h-3zM374 674h2v1h-2zM376 674h1v1h-1zM377 673h2v2h-2zM379 674h1v1h-1zM382 674h2v1h-2zM384 673h1v2h-1zM385 674h2v1h-2zM387 673h1v2h-1zM390 674h2v1h-2zM392 674h1v1h-1zM393 674h2v1h-2zM398 674h2v1h-2z" fill="#FC8D62"/>
<path d="M347 674h1v1h-1zM350 674h2v1h-2zM355 673h1v1h-1zM358 673h5v1h-5zM363 672h1v1h-1zM366 673h2v1h-2zM368 672h1v1h-1zM369 673h3v1h-3zM376 673h1v1h-1zM377 672h2v1h-2zM379 673h1v1h-1zM384 672h1v1h-1zM387 672h1v1h-1zM392 673h1v1h-1zM395 674h1v1h-1zM398 673h2v1h-2zM403 674h1v1h-1zM408 674h1v1h-1z" fill="#66C2A5"/>
<path d="M281 574H436V599H281Z M282 575V597H434V575Z" fill="#333333" fill-rule="evenodd"/>
<path d="M281 613H436V638H281Z M282 614V636H434V614Z" fill="#333333" fill-rule="evenodd"/>
<path d="M281 652H436V677H281Z M282 653V675H434V653Z" fill="#333333" fill-rule="evenodd"/>
<rect x="450" y="574" width="155" height="24" fill="#fff"/>
<path d="M450 594h155v1h-155zM450 588h155v1h-155zM450 583h155v1h-155zM450 577h155v1h-155zM450 596h155v2h-155zM450 590h155v2h-155zM450 585h155v2h-155zM450 580h155v2h-155zM450 574h155v2h-155zM467 574h1v24h-1zM502 574h1v24h-1zM538 574h1v24h-1zM573 574h1v24h-1zM484 574h2v24h-2zM519 574h2v24h-2zM555 574h2v24h-2zM590 574h2v24h-2z" fill="#EBEBEB"/>
<rect x="450" y="613" width="155" height="24" fill="#fff"/>
<path d="M450 633h155v1h-155zM450 627h155v1h-155zM450 622h155v1h-155zM450 616h155v1h-155zM450 635h155v2h-155zM450 629h155v2h-155zM450 624h155v2h-155zM450 619h155v2h-155zM450 613h155v2h-155zM467 613h1v24h-1zM502 613h1v24h-1zM538 613h1v24h-1zM573 613h1v24h-1zM484 613h2v24h-2zM519 613h2v24h-2zM555 613h2v24h-2zM590 613h2v24h-2z" fill="#EBEBEB"/>
<rect x="450" y="652" width="155" height="24" fill="#fff"/>
<path d="M450 672h155v1h-155zM450 666h155v1h-155zM450 661h155v1h-155zM450 655h155v1h-155zM450 674h155v2h-155zM450 668h155v2h-155zM450 663h155v2h-155zM450 658h155v2h-155zM450 652h155v2h-155zM467 652h1v24h-1zM502 652h1v24h-1zM538 652h1v24h-1zM573 652h1v24h-1zM484 652h2v24h-2zM519 652h2v24h-2zM555 652h2v24h-2zM590 652h2v24h-2z" fill="#EBEBEB"/>
<path d="M475 596h2v1h-2zM484 596h1v1h-1zM490 596h1v1h-1zM492 595h1v2h-1zM493 594h1v3h-1zM494 595h1v2h-1zM495 595h2v2h-2zM498 596h1v1h-1zM499 594h1v3h-1zM500 595h1v2h-1zM501 594h1v3h-1zM503 594h1v3h-1zM504 593h2v4h-2zM506 590h1v7h-1zM507 594h1v3h-1zM509 595h1v2h-1zM510 595h2v2h-2zM512 591h1v6h-1zM515 595h1v2h-1zM516 592h1v5h-1zM517 595h1v2h-1zM518 589h1v8h-1zM520 591h1v6h-1zM521 594h1v3h-1zM522 595h2v2h-2zM524 591h1v6h-1zM526 590h1v7h-1zM527 590h1v7h-1zM528 596h1v1h-1zM529 593h1v4h-1zM531 595h2v2h-2zM533 595h1v2h-1zM534 591h1v6h-1zM535 595h1v2h-1zM537 596h1v1h-1zM538 594h1v3h-1zM539 595h1v2h-1zM540 595h2v2h-2zM543 595h1v2h-1zM544 593h1v4h-1zM545 596h1v1h-1zM546 595h1v2h-1zM548 595h1v2h-1zM549 595h2v2h-2zM551 596h1v1h-1zM552 595h1v2h-1zM554 596h1v1h-1zM555 595h1v2h-1zM556 596h1v1h-1zM562 596h1v1h-1zM563 596h1v1h-1zM566 596h1v1h-1zM567 596h2v1h-2zM569 596h1v1h-1zM573 596h2v1h-2zM579 596h1v1h-1zM583 596h1v1h-1zM585 596h2v1h-2zM594 596h2v1h-2z" fill="#FC8D62"/>
<path d="M457 596h1v1h-1zM471 596h2v1h-2zM477 596h2v1h-2zM481 596h1v1h-1zM482 595h2v2h-2zM484 594h1v2h-1zM486 596h2v1h-2zM488 594h1v3h-1zM489 596h1v1h-1zM490 594h1v2h-1zM492 591h1v4h-1zM493 586h1v8h-1zM494 592h1v3h-1zM495 591h2v4h-2zM498 589h1v7h-1zM499 585h1v9h-1zM500 593h1v2h-1zM501 583h1v11h-1zM503 589h1v5h-1zM504 588h2v5h-2zM506 575h1v15h-1zM507 590h1v4h-1zM509 588h1v7h-1zM510 589h2v6h-2zM512 586h1v5h-1zM515 591h1v4h-1zM516 583h1v9h-1zM517 593h1v2h-1zM518 585h1v4h-1zM520 585h1v6h-1zM521 589h1v5h-1zM522 593h2v2h-2zM524 586h1v5h-1zM526 586h1v4h-1zM527 584h1v6h-1zM528 595h1v1h-1zM529 591h1v2h-1zM531 594h2v1h-2zM533 590h1v5h-1zM534 589h1v2h-1zM535 593h1v2h-1zM537 595h1v1h-1zM538 593h1v1h-1zM539 593h1v2h-1zM540 591h2v4h-2zM543 594h1v1h-1zM544 592h1v1h-1zM546 594h1v1h-1zM548 594h1v1h-1zM551 595h1v1h-1zM554 595h1v1h-1zM555 593h1v2h-1zM556 595h1v1h-1zM557 596h1v1h-1zM560 596h2v1h-2zM563 595h1v1h-1zM566 595h1v1h-1zM569 595h1v1h-1zM572 596h1v1h-1zM590 596h1v1h-1z" fill="#66C2A5"/>
<path d="M493 635h1v1h-1zM499 635h1v1h-1zM500 635h1v1h-1zM501 635h1v1h-1zM504 635h2v1h-2zM506 635h1v1h-1zM507 635h1v1h-1zM509 635h3v1h-3zM512 634h1v2h-1zM516 635h1v1h-1zM517 635h1v1h-1zM518 635h1v1h-1zM520 635h2v1h-2zM522 635h2v1h-2zM524 635h1v1h-1zM526 635h2v1h-2zM529 635h1v1h-1zM533 635h3v1h-3zM538 635h1v1h-1zM540 635h2v1h-2zM544 635h1v1h-1zM546 635h1v1h-1zM555 635h1v1h-1z" fill="#FC8D62"/>
<path d="M488 635h1v1h-1zM492 635h1v1h-1zM493 634h1v1h-1zM494 635h3v1h-3zM498 635h1v1h-1zM499 634h1v1h-1zM501 634h1v1h-1zM503 635h1v1h-1zM504 634h2v1h-2zM506 633h1v2h-1zM509 634h3v1h-3zM512 633h1v1h-1zM515 635h1v1h-1zM516 633h1v2h-1zM518 634h1v1h-1zM520 634h2v1h-2zM524 634h1v1h-1zM526 634h2v1h-2zM531 635h2v1h-2zM537 635h1v1h-1zM539 635h1v1h-1zM548 635h1v1h-1z" fill="#66C2A5"/>
<path d="M492 674h1v1h-1zM493 674h1v1h-1zM495 674h2v1h-2zM499 674h1v1h-1zM500 674h2v1h-2zM503 674h1v1h-1zM504 674h2v1h-2zM506 674h1v1h-1zM507 674h1v1h-1zM509 674h1v1h-1zM510 674h2v1h-2zM512 673h1v2h-1zM515 674h1v1h-1zM516 674h1v1h-1zM517 674h1v1h-1zM518 674h1v1h-1zM520 673h1v2h-1zM521 674h1v1h-1zM522 674h3v1h-3zM526 673h2v2h-2zM529 674h1v1h-1zM531 674h3v1h-3zM534 673h1v2h-1zM535 674h1v1h-1zM538 674h1v1h-1zM540 674h2v1h-2zM544 674h1v1h-1zM548 674h1v1h-1zM555 674h1v1h-1z" fill="#FC8D62"/>
<path d="M488 674h1v1h-1zM490 674h1v1h-1zM493 673h1v1h-1zM494 674h1v1h-1zM498 674h1v1h-1zM499 672h1v2h-1zM504 673h2v1h-2zM506 672h1v2h-1zM509 673h1v1h-1zM516 673h1v1h-1zM518 673h1v1h-1zM521 673h1v1h-1zM526 672h2v1h-2zM537 674h1v1h-1zM539 674h1v1h-1zM543 674h1v1h-1zM546 674h1v1h-1zM552 674h1v1h-1z" fill="#66C2A5"/>
<path d="M450 574H606V599H450Z M451 575V597H604V575Z" fill="#333333" fill-rule="evenodd"/>
<path d="M450 613H606V638H450Z M451 614V636H604V614Z" fill="#333333" fill-rule="evenodd"/>
<path d="M450 652H606V677H450Z M451 653V675H604V653Z" fill="#333333" fill-rule="evenodd"/>
<rect x="111" y="690" width="155" height="25" fill="#fff"/>
<path d="M111 710h155v1h-155zM111 702h155v1h-155zM111 694h155v1h-155zM111 713h155v2h-155zM111 705h155v2h-155zM111 698h155v2h-155zM111 690h155v2h-155zM128 690h1v25h-1zM159 690h1v25h-1zM189 690h1v25h-1zM219 690h1v25h-1zM249 690h1v25h-1zM113 690h2v25h-2zM143 690h2v25h-2zM173 690h2v25h-2zM204 690h2v25h-2zM234 690h2v25h-2zM264 690h2v25h-2z" fill="#EBEBEB"/>
<rect x="188" y="698.71" width="1" height="15.15" fill="#66C2A5"/>
<rect x="192" y="706.29" width="1" height="7.58" fill="#FC8D62"/>
<rect x="111" y="729" width="155" height="24" fill="#fff"/>
<path d="M111 748h155v1h-155zM111 740h155v1h-155zM111 733h155v1h-155zM111 751h155v2h-155zM111 744h155v2h-155zM111 736h155v2h-155zM111 729h155v2h-155zM128 729h1v24h-1zM159 729h1v24h-1zM189 729h1v24h-1zM219 729h1v24h-1zM249 729h1v24h-1zM113 729h2v24h-2zM143 729h2v24h-2zM173 729h2v24h-2zM204 729h2v24h-2zM234 729h2v24h-2zM264 729h2v24h-2z" fill="#EBEBEB"/>
<rect x="198" y="744.64" width="1" height="7.27" fill="#FC8D62"/>
<rect x="111" y="768" width="155" height="24" fill="#fff"/>
<path d="M111 787h155v1h-155zM111 780h155v1h-155zM111 772h155v1h-155zM111 790h155v2h-155zM111 783h155v2h-155zM111 775h155v2h-155zM111 768h155v2h-155zM128 768h1v24h-1zM159 768h1v24h-1zM189 768h1v24h-1zM219 768h1v24h-1zM249 768h1v24h-1zM113 768h2v24h-2zM143 768h2v24h-2zM173 768h2v24h-2zM204 768h2v24h-2zM234 768h2v24h-2zM264 768h2v24h-2z" fill="#EBEBEB"/>
<path d="M111 690H267V716H111Z M112 691V714H265V691Z" fill="#333333" fill-rule="evenodd"/>
<path d="M111 729H267V754H111Z M112 730V752H265V730Z" fill="#333333" fill-rule="evenodd"/>
<path d="M111 768H267V793H111Z M112 769V791H265V769Z" fill="#333333" fill-rule="evenodd"/>
<rect x="281" y="690" width="154" height="25" fill="#fff"/>
<path d="M281 711h154v1h-154zM281 705h154v1h-154zM281 699h154v1h-154zM281 693h154v1h-154zM281 713h154v2h-154zM281 707h154v2h-154zM281 702h154v2h-154zM281 696h154v2h-154zM281 690h154v2h-154zM308 690h1v25h-1zM348 690h1v25h-1zM387 690h1v25h-1zM427 690h1v25h-1zM288 690h2v25h-2zM327 690h2v25h-2zM367 690h2v25h-2zM407 690h2v25h-2z" fill="#EBEBEB"/>
<rect x="281" y="729" width="154" height="24" fill="#fff"/>
<path d="M281 749h154v1h-154zM281 743h154v1h-154zM281 738h154v1h-154zM281 732h154v1h-154zM281 751h154v2h-154zM281 745h154v2h-154zM281 740h154v2h-154zM281 735h154v2h-154zM281 729h154v2h-154zM308 729h1v24h-1zM348 729h1v24h-1zM387 729h1v24h-1zM427 729h1v24h-1zM288 729h2v24h-2zM327 729h2v24h-2zM367 729h2v24h-2zM407 729h2v24h-2z" fill="#EBEBEB"/>
<rect x="281" y="768" width="154" height="24" fill="#fff"/>
<path d="M281 788h154v1h-154zM281 782h154v1h-154zM281 777h154v1h-154zM281 771h154v1h-154zM281 790h154v2h-154zM281 784h154v2h-154zM281 779h154v2h-154zM281 774h154v2h-154zM281 768h154v2h-154zM308 768h1v24h-1zM348 768h1v24h-1zM387 768h1v24h-1zM427 768h1v24h-1zM288 768h2v24h-2zM327 768h2v24h-2zM367 768h2v24h-2zM407 768h2v24h-2z" fill="#EBEBEB"/>
<path d="M344 713h1v1h-1zM347 712h1v2h-1zM350 713h2v1h-2zM352 710h1v4h-1zM353 711h2v3h-2zM355 711h1v3h-1zM358 708h2v6h-2zM360 709h1v5h-1zM361 709h2v5h-2zM363 706h1v8h-1zM366 709h2v5h-2zM368 704h1v10h-1zM369 708h2v6h-2zM371 709h1v5h-1zM374 711h2v3h-2zM376 710h1v4h-1zM377 705h2v9h-2zM379 709h1v5h-1zM382 710h2v4h-2zM384 707h1v7h-1zM385 711h2v3h-2zM387 707h1v7h-1zM390 712h2v2h-2zM392 710h1v4h-1zM393 711h2v3h-2zM395 712h1v2h-1zM398 710h2v4h-2zM400 713h1v1h-1zM401 713h2v1h-2zM403 713h1v1h-1zM406 713h2v1h-2zM408 712h1v2h-1zM411 713h1v1h-1zM414 713h2v1h-2zM416 713h1v1h-1zM427 713h1v1h-1z" fill="#FC8D62"/>
<path d="M288 713h1v1h-1zM339 713h1v1h-1zM342 712h2v2h-2zM344 712h1v1h-1zM347 709h1v3h-1zM350 711h2v2h-2zM352 707h1v3h-1zM353 709h2v2h-2zM355 707h1v4h-1zM358 705h2v3h-2zM360 705h1v4h-1zM361 706h2v3h-2zM363 696h1v10h-1zM366 706h2v3h-2zM368 691h1v13h-1zM369 704h2v4h-2zM371 699h1v10h-1zM374 707h2v4h-2zM376 702h1v8h-1zM377 691h2v14h-2zM379 706h1v3h-1zM382 705h2v5h-2zM384 697h1v10h-1zM385 707h2v4h-2zM387 700h1v7h-1zM390 710h2v2h-2zM392 707h1v3h-1zM393 707h2v4h-2zM395 707h1v5h-1zM398 706h2v4h-2zM400 711h1v2h-1zM401 712h2v1h-2zM403 710h1v3h-1zM406 712h2v1h-2zM408 711h1v1h-1zM416 712h1v1h-1zM417 713h3v1h-3z" fill="#66C2A5"/>
<path d="M363 751h1v1h-1zM368 751h1v1h-1zM369 751h2v1h-2zM377 751h2v1h-2zM379 751h1v1h-1zM384 751h1v1h-1zM387 751h1v1h-1z" fill="#FC8D62"/>
<path d="M352 751h1v1h-1zM355 751h1v1h-1zM358 751h5v1h-5zM366 751h2v1h-2zM368 750h1v1h-1zM371 751h1v1h-1zM376 751h1v1h-1zM377 750h2v1h-2zM382 751h2v1h-2zM385 751h2v1h-2zM393 751h2v1h-2zM398 751h2v1h-2z" fill="#66C2A5"/>
<path d="M358 790h6v1h-6zM368 790h1v1h-1zM376 790h1v1h-1zM377 790h2v1h-2zM379 790h1v1h-1zM384 790h1v1h-1zM387 790h1v1h-1zM392 790h1v1h-1z" fill="#FC8D62"/>
<path d="M347 790h1v1h-1zM352 790h1v1h-1zM355 790h1v1h-1zM366 790h2v1h-2zM368 789h1v1h-1zM369 790h3v1h-3zM374 790h2v1h-2zM377 789h2v1h-2zM382 790h2v1h-2zM384 789h1v1h-1zM398 790h2v1h-2z" fill="#66C2A5"/>
<path d="M281 690H436V716H281Z M282 691V714H434V691Z" fill="#333333" fill-rule="evenodd"/>
<path d="M281 729H436V754H281Z M282 730V752H434V730Z" fill="#333333" fill-rule="evenodd"/>
<path d="M281 768H436V793H281Z M282 769V791H434V769Z" fill="#333333" fill-rule="evenodd"/>
<rect x="450" y="690" width="155" height="25" fill="#fff"/>
<path d="M450 711h155v1h-155zM450 705h155v1h-155zM450 699h155v1h-155zM450 693h155v1h-155zM450 713h155v2h-155zM450 707h155v2h-155zM450 702h155v2h-155zM450 696h155v2h-155zM450 690h155v2h-155zM467 690h1v25h-1zM502 690h1v25h-1zM538 690h1v25h-1zM573 690h1v25h-1zM484 690h2v25h-2zM519 690h2v25h-2zM555 690h2v25h-2zM590 690h2v25h-2z" fill="#EBEBEB"/>
<rect x="450" y="729" width="155" height="24" fill="#fff"/>
<path d="M450 749h155v1h-155zM450 743h155v1h-155zM450 738h155v1h-155zM450 732h155v1h-155zM450 751h155v2h-155zM450 745h155v2h-155zM450 740h155v2h-155zM450 735h155v2h-155zM450 729h155v2h-155zM467 729h1v24h-1zM502 729h1v24h-1zM538 729h1v24h-1zM573 729h1v24h-1zM484 729h2v24h-2zM519 729h2v24h-2zM555 729h2v24h-2zM590 729h2v24h-2z" fill="#EBEBEB"/>
<rect x="450" y="768" width="155" height="24" fill="#fff"/>
<path d="M450 788h155v1h-155zM450 782h155v1h-155zM450 777h155v1h-155zM450 771h155v1h-155zM450 790h155v2h-155zM450 784h155v2h-155zM450 779h155v2h-155zM450 774h155v2h-155zM450 768h155v2h-155zM467 768h1v24h-1zM502 768h1v24h-1zM538 768h1v24h-1zM573 768h1v24h-1zM484 768h2v24h-2zM519 768h2v24h-2zM555 768h2v24h-2zM590 768h2v24h-2z" fill="#EBEBEB"/>
<path d="M475 713h2v1h-2zM484 713h1v1h-1zM488 713h1v1h-1zM489 713h1v1h-1zM490 713h1v1h-1zM492 712h1v2h-1zM493 710h1v4h-1zM494 712h1v2h-1zM495 711h2v3h-2zM498 712h1v2h-1zM499 709h1v5h-1zM500 711h1v3h-1zM501 711h1v3h-1zM503 712h1v2h-1zM504 711h2v3h-2zM506 705h1v9h-1zM507 711h1v3h-1zM509 712h1v2h-1zM510 711h2v3h-2zM512 707h1v7h-1zM515 712h1v2h-1zM516 707h1v7h-1zM517 712h1v2h-1zM518 707h1v7h-1zM520 707h1v7h-1zM521 710h1v4h-1zM522 711h2v3h-2zM524 707h1v7h-1zM526 708h1v6h-1zM527 706h1v8h-1zM528 713h1v1h-1zM529 709h1v5h-1zM531 712h2v2h-2zM533 711h1v3h-1zM534 707h1v7h-1zM535 712h1v2h-1zM537 713h1v1h-1zM538 710h1v4h-1zM539 712h1v2h-1zM540 712h2v2h-2zM543 713h1v1h-1zM544 710h1v4h-1zM545 713h1v1h-1zM546 712h1v2h-1zM548 711h1v3h-1zM549 712h2v2h-2zM551 713h2v1h-2zM554 713h1v1h-1zM555 711h1v3h-1zM556 713h1v1h-1zM562 713h1v1h-1zM563 713h1v1h-1zM569 712h1v2h-1zM573 713h1v1h-1zM579 713h1v1h-1zM583 713h1v1h-1zM585 713h2v1h-2zM594 713h2v1h-2zM597 713h1v1h-1z" fill="#FC8D62"/>
<path d="M457 713h1v1h-1zM471 713h2v1h-2zM477 713h2v1h-2zM481 713h1v1h-1zM482 712h1v2h-1zM483 711h1v3h-1zM484 710h1v3h-1zM486 713h2v1h-2zM488 711h1v2h-1zM490 712h1v1h-1zM492 709h1v3h-1zM493 704h1v6h-1zM494 709h1v3h-1zM495 705h2v6h-2zM498 705h1v7h-1zM499 697h1v12h-1zM500 710h1v1h-1zM501 704h1v7h-1zM503 707h1v5h-1zM504 706h2v5h-2zM506 691h1v14h-1zM507 707h1v4h-1zM509 707h1v5h-1zM510 703h2v8h-2zM512 701h1v6h-1zM515 708h1v4h-1zM516 701h1v6h-1zM517 710h1v2h-1zM518 702h1v5h-1zM520 701h1v6h-1zM521 705h1v5h-1zM522 708h2v3h-2zM524 702h1v5h-1zM526 703h1v5h-1zM527 701h1v5h-1zM528 711h1v2h-1zM529 706h1v3h-1zM531 711h2v1h-2zM533 708h1v3h-1zM534 705h1v2h-1zM535 711h1v1h-1zM537 711h1v2h-1zM538 709h1v1h-1zM539 710h1v2h-1zM540 708h2v4h-2zM543 712h1v1h-1zM544 708h1v2h-1zM545 712h1v1h-1zM546 711h1v1h-1zM548 709h1v2h-1zM551 712h2v1h-2zM555 708h1v3h-1zM556 712h1v1h-1zM557 713h1v1h-1zM560 713h2v1h-2zM563 712h1v1h-1zM566 713h1v1h-1zM572 713h1v1h-1zM590 713h1v1h-1z" fill="#66C2A5"/>
<path d="M499 751h1v1h-1zM506 751h1v1h-1zM512 751h1v1h-1zM516 751h1v1h-1zM518 751h1v1h-1zM524 751h1v1h-1zM526 751h2v1h-2zM529 751h1v1h-1zM534 751h1v1h-1z" fill="#FC8D62"/>
<path d="M492 751h2v1h-2zM495 751h2v1h-2zM498 751h1v1h-1zM501 751h1v1h-1zM503 751h3v1h-3zM507 751h1v1h-1zM509 751h3v1h-3zM515 751h1v1h-1zM520 751h2v1h-2zM533 751h1v1h-1zM544 751h1v1h-1z" fill="#66C2A5"/>
<path d="M493 790h1v1h-1zM506 790h1v1h-1zM512 790h1v1h-1zM516 790h1v1h-1zM518 790h1v1h-1zM520 790h1v1h-1zM526 790h2v1h-2zM529 790h1v1h-1zM534 790h1v1h-1z" fill="#FC8D62"/>
<path d="M488 790h1v1h-1zM492 790h1v1h-1zM495 790h2v1h-2zM498 790h2v1h-2zM501 790h1v1h-1zM503 790h3v1h-3zM507 790h1v1h-1zM509 790h3v1h-3zM515 790h1v1h-1zM521 790h1v1h-1zM524 790h1v1h-1zM533 790h1v1h-1zM535 790h1v1h-1zM538 790h1v1h-1zM540 790h2v1h-2zM544 790h1v1h-1z" fill="#66C2A5"/>
<path d="M450 690H606V716H450Z M451 691V714H604V691Z" fill="#333333" fill-rule="evenodd"/>
<path d="M450 729H606V754H450Z M451 730V752H604V730Z" fill="#333333" fill-rule="evenodd"/>
<path d="M450 768H606V793H450Z M451 769V791H604V769Z" fill="#333333" fill-rule="evenodd"/>
<rect x="111" y="807" width="155" height="44" fill="#fff"/>
<path d="M111 844h155v1h-155zM111 834h155v1h-155zM111 824h155v1h-155zM111 814h155v1h-155zM111 848h155v2h-155zM111 838h155v2h-155zM111 828h155v2h-155zM111 818h155v2h-155zM111 808h155v2h-155zM128 807h1v44h-1zM159 807h1v44h-1zM189 807h1v44h-1zM219 807h1v44h-1zM249 807h1v44h-1zM113 807h2v44h-2zM143 807h2v44h-2zM173 807h2v44h-2zM204 807h2v44h-2zM234 807h2v44h-2zM264 807h2v44h-2z" fill="#EBEBEB"/>
<rect x="188" y="809" width="1" height="40" fill="#66C2A5"/>
<rect x="111" y="865" width="155" height="44" fill="#fff"/>
<path d="M111 902h155v1h-155zM111 892h155v1h-155zM111 882h155v1h-155zM111 872h155v1h-155zM111 906h155v2h-155zM111 896h155v2h-155zM111 886h155v2h-155zM111 876h155v2h-155zM111 866h155v2h-155zM128 865h1v44h-1zM159 865h1v44h-1zM189 865h1v44h-1zM219 865h1v44h-1zM249 865h1v44h-1zM113 865h2v44h-2zM143 865h2v44h-2zM173 865h2v44h-2zM204 865h2v44h-2zM234 865h2v44h-2zM264 865h2v44h-2z" fill="#EBEBEB"/>
<rect x="192" y="887" width="1" height="20" fill="#FC8D62"/>
<rect x="198" y="887" width="1" height="20" fill="#FC8D62"/>
<path d="M111 807H267V852H111Z M112 808V850H265V808Z" fill="#333333" fill-rule="evenodd"/>
<path d="M111 865H267V910H111Z M112 866V908H265V866Z" fill="#333333" fill-rule="evenodd"/>
<rect x="281" y="807" width="154" height="44" fill="#fff"/>
<path d="M281 844h154v1h-154zM281 834h154v1h-154zM281 824h154v1h-154zM281 814h154v1h-154zM281 848h154v2h-154zM281 838h154v2h-154zM281 828h154v2h-154zM281 818h154v2h-154zM281 808h154v2h-154zM308 807h1v44h-1zM348 807h1v44h-1zM387 807h1v44h-1zM427 807h1v44h-1zM288 807h2v44h-2zM327 807h2v44h-2zM367 807h2v44h-2zM407 807h2v44h-2z" fill="#EBEBEB"/>
<rect x="281" y="865" width="154" height="44" fill="#fff"/>
<path d="M281 902h154v1h-154zM281 892h154v1h-154zM281 882h154v1h-154zM281 872h154v1h-154zM281 906h154v2h-154zM281 896h154v2h-154zM281 886h154v2h-154zM281 876h154v2h-154zM281 866h154v2h-154zM308 865h1v44h-1zM348 865h1v44h-1zM387 865h1v44h-1zM427 865h1v44h-1zM288 865h2v44h-2zM327 865h2v44h-2zM367 865h2v44h-2zM407 865h2v44h-2z" fill="#EBEBEB"/>
<path d="M288 846h1v3h-1zM339 846h1v3h-1zM342 845h2v4h-2zM344 846h1v3h-1zM347 842h1v7h-1zM350 843h2v6h-2zM352 840h1v9h-1zM353 844h2v5h-2zM355 833h1v16h-1zM358 837h2v12h-2zM360 831h1v18h-1zM361 837h2v12h-2zM363 825h1v24h-1zM366 837h2v12h-2zM368 809h1v40h-1zM369 837h2v12h-2zM371 827h1v22h-1zM374 839h2v10h-2zM376 826h1v23h-1zM377 817h2v32h-2zM379 837h1v12h-1zM382 832h2v17h-2zM384 826h1v23h-1zM385 839h2v10h-2zM387 822h1v27h-1zM390 841h2v8h-2zM392 842h1v7h-1zM393 841h2v8h-2zM395 836h1v13h-1zM398 838h2v11h-2zM400 843h1v6h-1zM401 845h2v4h-2zM403 843h1v6h-1zM406 844h2v5h-2zM408 843h1v6h-1zM411 848h1v1h-1zM416 848h1v1h-1zM417 846h2v3h-2zM419 845h1v4h-1z" fill="#66C2A5"/>
<path d="M334 906h2v1h-2zM337 906h2v1h-2zM342 906h2v1h-2zM344 905h1v2h-1zM347 900h1v7h-1zM350 905h2v2h-2zM352 895h1v12h-1zM353 899h2v8h-2zM355 896h1v11h-1zM358 892h2v15h-2zM360 893h1v14h-1zM361 894h2v13h-2zM363 886h1v21h-1zM366 894h2v13h-2zM368 881h1v26h-1zM369 892h2v15h-2zM371 893h1v14h-1zM374 898h2v9h-2zM376 892h1v15h-1zM377 878h2v29h-2zM379 890h1v17h-1zM382 892h2v15h-2zM384 879h1v28h-1zM385 898h2v9h-2zM387 882h1v25h-1zM390 899h2v8h-2zM392 894h1v13h-1zM393 898h2v9h-2zM395 902h1v5h-1zM398 896h2v11h-2zM400 903h1v4h-1zM401 905h2v2h-2zM403 903h1v4h-1zM406 904h2v3h-2zM408 902h1v5h-1zM411 905h1v2h-1zM414 904h2v3h-2zM416 903h1v4h-1zM427 905h1v2h-1z" fill="#FC8D62"/>
<path d="M281 807H436V852H281Z M282 808V850H434V808Z" fill="#333333" fill-rule="evenodd"/>
<path d="M281 865H436V910H281Z M282 866V908H434V866Z" fill="#333333" fill-rule="evenodd"/>
<rect x="450" y="807" width="155" height="44" fill="#fff"/>
<path d="M450 841h155v1h-155zM450 826h155v1h-155zM450 810h155v1h-155zM450 848h155v2h-155zM450 833h155v2h-155zM450 817h155v2h-155zM467 807h1v44h-1zM502 807h1v44h-1zM538 807h1v44h-1zM573 807h1v44h-1zM484 807h2v44h-2zM519 807h2v44h-2zM555 807h2v44h-2zM590 807h2v44h-2z" fill="#EBEBEB"/>
<rect x="450" y="865" width="155" height="44" fill="#fff"/>
<path d="M450 899h155v1h-155zM450 884h155v1h-155zM450 868h155v1h-155zM450 906h155v2h-155zM450 891h155v2h-155zM450 875h155v2h-155zM467 865h1v44h-1zM502 865h1v44h-1zM538 865h1v44h-1zM573 865h1v44h-1zM484 865h2v44h-2zM519 865h2v44h-2zM555 865h2v44h-2zM590 865h2v44h-2z" fill="#EBEBEB"/>
<path d="M457 847h1v2h-1zM471 847h2v2h-2zM476 847h3v2h-3zM481 845h2v4h-2zM483 842h2v7h-2zM486 847h2v2h-2zM488 839h1v10h-1zM489 845h1v4h-1zM490 844h1v5h-1zM492 833h1v16h-1zM493 826h1v23h-1zM494 839h1v10h-1zM495 832h2v17h-2zM498 832h1v17h-1zM499 813h1v36h-1zM500 845h1v4h-1zM501 820h1v29h-1zM503 833h1v16h-1zM504 830h2v19h-2zM506 809h1v40h-1zM507 838h1v11h-1zM509 830h1v19h-1zM510 827h2v22h-2zM512 826h1v23h-1zM515 833h1v16h-1zM516 821h1v28h-1zM517 842h1v7h-1zM518 832h1v17h-1zM520 832h1v17h-1zM521 829h1v20h-1zM522 841h2v8h-2zM524 835h1v14h-1zM526 835h1v14h-1zM527 833h1v16h-1zM528 844h1v5h-1zM529 841h1v8h-1zM531 844h2v5h-2zM533 835h1v14h-1zM534 842h1v7h-1zM535 844h1v5h-1zM537 844h2v5h-2zM539 841h1v8h-1zM540 838h2v11h-2zM543 845h4v4h-4zM548 844h1v5h-1zM551 845h1v4h-1zM552 847h1v2h-1zM554 847h1v2h-1zM555 842h1v7h-1zM556 847h2v2h-2zM560 847h2v2h-2zM563 847h1v2h-1zM566 845h1v4h-1zM569 847h1v2h-1zM572 847h1v2h-1zM590 847h1v2h-1z" fill="#66C2A5"/>
<path d="M475 905h2v2h-2zM482 905h2v2h-2zM484 902h1v5h-1zM488 905h2v2h-2zM490 902h1v5h-1zM492 899h1v8h-1zM493 892h1v15h-1zM494 901h1v6h-1zM495 899h2v8h-2zM498 901h1v6h-1zM499 890h1v17h-1zM500 898h1v9h-1zM501 896h1v11h-1zM503 899h1v8h-1zM504 893h2v14h-2zM506 881h1v26h-1zM507 895h1v12h-1zM509 895h1v12h-1zM510 896h2v11h-2zM512 879h1v28h-1zM515 898h1v9h-1zM516 885h1v22h-1zM517 899h1v8h-1zM518 882h1v25h-1zM520 885h1v22h-1zM521 895h1v12h-1zM522 899h2v8h-2zM524 887h1v20h-1zM526 882h1v25h-1zM527 884h1v23h-1zM528 904h1v3h-1zM529 890h1v17h-1zM531 901h2v6h-2zM533 899h1v8h-1zM534 882h1v25h-1zM535 898h1v9h-1zM537 902h1v5h-1zM538 895h1v12h-1zM539 901h1v6h-1zM540 898h2v9h-2zM543 901h1v6h-1zM544 892h1v15h-1zM545 904h1v3h-1zM546 898h1v9h-1zM548 899h1v8h-1zM549 901h2v6h-2zM551 904h1v3h-1zM552 901h1v6h-1zM554 903h1v4h-1zM555 898h1v9h-1zM556 902h1v5h-1zM560 905h2v2h-2zM562 904h1v3h-1zM563 902h1v5h-1zM566 905h3v2h-3zM569 901h1v6h-1zM571 905h2v2h-2zM573 904h1v3h-1zM574 905h1v2h-1zM579 904h1v3h-1zM583 905h1v2h-1zM585 905h2v2h-2zM594 905h2v2h-2zM597 905h1v2h-1z" fill="#FC8D62"/>
<path d="M450 807H606V852H450Z M451 808V850H604V808Z" fill="#333333" fill-rule="evenodd"/>
<path d="M450 865H606V910H450Z M451 866V908H604V866Z" fill="#333333" fill-rule="evenodd"/>
<rect x="619" y="457" width="155" height="102" fill="#fff"/>
<path d="M619 537h155v1h-155zM619 503h155v1h-155zM619 470h155v1h-155zM619 554h155v2h-155zM619 520h155v2h-155zM619 486h155v2h-155zM661 457h2v102h-2zM731 457h2v102h-2z" fill="#EBEBEB"/>
<rect x="630" y="462" width="63" height="47.25" fill="#66C2A5"/>
<rect x="630" y="509.25" width="63" height="45.25" fill="#FC8D62"/>
<rect x="700" y="513" width="64" height="22" fill="#66C2A5"/>
<rect x="700" y="535" width="64" height="19.5" fill="#FC8D62"/>
<path d="M619 457H775V560H619Z M620 458V558H773V458Z" fill="#333333" fill-rule="evenodd"/>
<rect x="789" y="574" width="155" height="102" fill="#fff"/>
<path d="M789 655h155v1h-155zM789 624h155v1h-155zM789 593h155v1h-155zM789 670h155v2h-155zM789 639h155v2h-155zM789 608h155v2h-155zM789 576h155v2h-155zM817 574h2v102h-2zM866 574h2v102h-2zM914 574h2v102h-2z" fill="#EBEBEB"/>
<rect x="796" y="579.25" width="44" height="51.75" fill="#66C2A5"/>
<rect x="796" y="631" width="44" height="40" fill="#FC8D62"/>
<rect x="845" y="654.25" width="43" height="7.75" fill="#66C2A5"/>
<rect x="845" y="662" width="43" height="9" fill="#FC8D62"/>
<rect x="893" y="656.25" width="43" height="3.75" fill="#66C2A5"/>
<rect x="893" y="660" width="43" height="11" fill="#FC8D62"/>
<path d="M789 574H945V677H789Z M790 575V675H943V575Z" fill="#333333" fill-rule="evenodd"/>
<rect x="958" y="690" width="155" height="102" fill="#fff"/>
<path d="M958 774h155v1h-155zM958 746h155v1h-155zM958 718h155v1h-155zM958 691h155v1h-155zM958 787h155v2h-155zM958 759h155v2h-155zM958 732h155v2h-155zM958 704h155v2h-155zM986 690h2v102h-2zM1035 690h2v102h-2zM1083 690h2v102h-2z" fill="#EBEBEB"/>
<rect x="966" y="695" width="43" height="49" fill="#66C2A5"/>
<rect x="966" y="744" width="43" height="44" fill="#FC8D62"/>
<rect x="1014" y="780" width="43" height="3" fill="#66C2A5"/>
<rect x="1014" y="783" width="43" height="5" fill="#FC8D62"/>
<rect x="1062" y="779" width="44" height="4" fill="#66C2A5"/>
<rect x="1062" y="783" width="44" height="5" fill="#FC8D62"/>
<path d="M958 690H1114V793H958Z M959 691V791H1112V691Z" fill="#333333" fill-rule="evenodd"/>
<rect x="1128" y="807" width="155" height="102" fill="#fff"/>
<path d="M1128 892h155v1h-155zM1128 869h155v1h-155zM1128 846h155v1h-155zM1128 824h155v1h-155zM1128 903h155v2h-155zM1128 880h155v2h-155zM1128 857h155v2h-155zM1128 834h155v2h-155zM1128 812h155v2h-155zM1169 807h2v102h-2zM1239 807h2v102h-2z" fill="#EBEBEB"/>
<rect x="1138" y="812" width="64" height="91.75" fill="#66C2A5"/>
<rect x="1209" y="815" width="63" height="88.75" fill="#FC8D62"/>
<path d="M1128 807H1284V910H1128Z M1129 808V908H1282V808Z" fill="#333333" fill-rule="evenodd"/>
<rect x="789" y="457" width="155" height="102" fill="#fff"/>
<path d="M789 512h155v1h-155zM789 485h155v2h-155zM789 537h155v2h-155zM817 457h2v102h-2zM866 457h2v102h-2zM914 457h2v102h-2z" fill="#EBEBEB"/>
<rect x="796.25" y="462" width="43.75" height="26" fill="#66C2A5"/>
<rect x="796.25" y="488" width="43.75" height="20.75" fill="#FC8D62"/>
<rect x="856.25" y="475" width="19.75" height="10" fill="#66C2A5"/>
<rect x="856.25" y="485" width="19.75" height="10.75" fill="#FC8D62"/>
<rect x="905" y="476" width="19" height="6" fill="#66C2A5"/>
<rect x="905" y="482" width="19" height="13.75" fill="#FC8D62"/>
<rect x="803.25" y="521.25" width="29.75" height="19.5" fill="#66C2A5"/>
<rect x="803.25" y="540.75" width="29.75" height="13.75" fill="#FC8D62"/>
<rect x="861" y="532" width="11" height="5" fill="#66C2A5"/>
<rect x="861" y="537" width="11" height="6.75" fill="#FC8D62"/>
<rect x="909" y="532" width="11" height="2" fill="#66C2A5"/>
<rect x="909" y="534" width="11" height="9.75" fill="#FC8D62"/>
<path d="M789 457H945V560H789Z M790 458V558H943V458Z" fill="#333333" fill-rule="evenodd"/>
<rect x="958" y="457" width="155" height="102" fill="#fff"/>
<path d="M958 512h155v1h-155zM958 485h155v2h-155zM958 537h155v2h-155zM986 457h2v102h-2zM1035 457h2v102h-2zM1083 457h2v102h-2z" fill="#EBEBEB"/>
<rect x="966" y="462" width="43" height="25" fill="#66C2A5"/>
<rect x="966" y="487" width="43" height="23" fill="#FC8D62"/>
<rect x="1030" y="479" width="12" height="6" fill="#66C2A5"/>
<rect x="1030" y="485" width="12" height="7" fill="#FC8D62"/>
<rect x="1077" y="478" width="14" height="7" fill="#66C2A5"/>
<rect x="1077" y="485" width="14" height="8" fill="#FC8D62"/>
<rect x="973" y="522" width="29" height="18" fill="#66C2A5"/>
<rect x="973" y="540" width="29" height="14.5" fill="#FC8D62"/>
<rect x="1031" y="534" width="9" height="2.25" fill="#66C2A5"/>
<rect x="1031" y="536.25" width="9" height="6.75" fill="#FC8D62"/>
<rect x="1080" y="534" width="8" height="5" fill="#66C2A5"/>
<rect x="1080" y="539" width="8" height="4" fill="#FC8D62"/>
<path d="M958 457H1114V560H958Z M959 458V558H1112V458Z" fill="#333333" fill-rule="evenodd"/>
<rect x="958" y="574" width="155" height="102" fill="#fff"/>
<path d="M958 577h155v1h-155zM958 612h155v1h-155zM958 647h155v1h-155zM958 594h155v2h-155zM958 629h155v2h-155zM958 664h155v2h-155zM986 574h2v102h-2zM1035 574h2v102h-2zM1083 574h2v102h-2z" fill="#EBEBEB"/>
<rect x="966" y="579.25" width="43" height="17.75" fill="#66C2A5"/>
<rect x="966" y="597" width="43" height="13.75" fill="#FC8D62"/>
<rect x="1031" y="591" width="9" height="2" fill="#66C2A5"/>
<rect x="1031" y="593" width="9" height="5" fill="#FC8D62"/>
<rect x="1080" y="592" width="8" height="4" fill="#66C2A5"/>
<rect x="1080" y="596" width="8" height="1" fill="#FC8D62"/>
<rect x="979" y="624" width="16" height="6" fill="#66C2A5"/>
<rect x="979" y="630" width="16" height="6" fill="#FC8D62"/>
<rect x="1031" y="627" width="10" height="3" fill="#66C2A5"/>
<rect x="1031" y="630" width="10" height="4" fill="#FC8D62"/>
<rect x="1082" y="629" width="4" height="3" fill="#FC8D62"/>
<rect x="980" y="661" width="14" height="2" fill="#66C2A5"/>
<rect x="980" y="663" width="14" height="8" fill="#FC8D62"/>
<rect x="1034" y="665" width="3" height="0.5" fill="#66C2A5"/>
<rect x="1034" y="665.5" width="3" height="1.5" fill="#FC8D62"/>
<rect x="1078" y="662" width="12" height="3" fill="#66C2A5"/>
<rect x="1078" y="665" width="12" height="5" fill="#FC8D62"/>
<path d="M958 574H1114V677H958Z M959 575V675H1112V575Z" fill="#333333" fill-rule="evenodd"/>
<rect x="1128" y="457" width="155" height="102" fill="#fff"/>
<path d="M1128 512h155v1h-155zM1128 485h155v2h-155zM1128 537h155v2h-155zM1169 457h2v102h-2zM1239 457h2v102h-2z" fill="#EBEBEB"/>
<rect x="1138" y="462" width="64" height="48" fill="#66C2A5"/>
<rect x="1209" y="462" width="63" height="47" fill="#FC8D62"/>
<rect x="1148" y="522" width="43" height="32.5" fill="#66C2A5"/>
<rect x="1220" y="523" width="41" height="30.75" fill="#FC8D62"/>
<path d="M1128 457H1284V560H1128Z M1129 458V558H1282V458Z" fill="#333333" fill-rule="evenodd"/>
<rect x="1128" y="574" width="155" height="102" fill="#fff"/>
<path d="M1128 577h155v1h-155zM1128 612h155v1h-155zM1128 647h155v1h-155zM1128 594h155v2h-155zM1128 629h155v2h-155zM1128 664h155v2h-155zM1169 574h2v102h-2zM1239 574h2v102h-2z" fill="#EBEBEB"/>
<rect x="1138" y="579.25" width="64" height="30.75" fill="#66C2A5"/>
<rect x="1212" y="580" width="56" height="28" fill="#FC8D62"/>
<rect x="1158" y="623" width="24" height="12" fill="#66C2A5"/>
<rect x="1227" y="622" width="27" height="14" fill="#FC8D62"/>
<rect x="1161" y="659" width="18" height="10" fill="#66C2A5"/>
<rect x="1226" y="657" width="29" height="14" fill="#FC8D62"/>
<path d="M1128 574H1284V677H1128Z M1129 575V675H1282V575Z" fill="#333333" fill-rule="evenodd"/>
<rect x="1128" y="690" width="155" height="102" fill="#fff"/>
<path d="M1128 729h155v1h-155zM1128 764h155v1h-155zM1128 710h155v2h-155zM1128 746h155v2h-155zM1128 782h155v2h-155zM1169 690h2v102h-2zM1239 690h2v102h-2z" fill="#EBEBEB"/>
<rect x="1138" y="695" width="64" height="32" fill="#66C2A5"/>
<rect x="1210" y="696" width="61" height="31" fill="#FC8D62"/>
<rect x="1162" y="743" width="16" height="8" fill="#66C2A5"/>
<rect x="1231" y="742" width="19" height="10" fill="#FC8D62"/>
<rect x="1161" y="778" width="18" height="9" fill="#66C2A5"/>
<rect x="1231" y="778" width="19" height="10" fill="#FC8D62"/>
<path d="M1128 690H1284V793H1128Z M1129 691V791H1282V691Z" fill="#333333" fill-rule="evenodd"/>
<rect x="619" y="574" width="155" height="24" fill="#fff"/>
<path d="M619 594h155v1h-155zM619 588h155v1h-155zM619 583h155v1h-155zM619 577h155v1h-155zM619 596h155v2h-155zM619 590h155v2h-155zM619 585h155v2h-155zM619 580h155v2h-155zM619 574h155v2h-155zM661 574h2v24h-2zM731 574h2v24h-2z" fill="#EBEBEB"/>
<g clip-path="url(#c29)">
<rect x="630" y="574" width="63" height="13" fill="#66C2A5"/>
<rect x="630" y="587" width="63" height="9.75" fill="#FC8D62"/>
<rect x="700" y="586.25" width="64" height="5.75" fill="#66C2A5"/>
<rect x="700" y="592" width="64" height="4.75" fill="#FC8D62"/>
</g>
<path d="M619 574H775V599H619Z M620 575V597H773V575Z" fill="#333333" fill-rule="evenodd"/>
<rect x="619" y="613" width="155" height="24" fill="#fff"/>
<path d="M619 633h155v1h-155zM619 627h155v1h-155zM619 622h155v1h-155zM619 616h155v1h-155zM619 635h155v2h-155zM619 629h155v2h-155zM619 624h155v2h-155zM619 619h155v2h-155zM619 613h155v2h-155zM661 613h2v24h-2zM731 613h2v24h-2z" fill="#EBEBEB"/>
<g clip-path="url(#c30)">
<rect x="630" y="631" width="63" height="2" fill="#66C2A5"/>
<rect x="630" y="633" width="63" height="2.75" fill="#FC8D62"/>
<rect x="700" y="634" width="64" height="1" fill="#66C2A5"/>
<rect x="700" y="635" width="64" height="0.75" fill="#FC8D62"/>
</g>
<path d="M619 613H775V638H619Z M620 614V636H773V614Z" fill="#333333" fill-rule="evenodd"/>
<rect x="619" y="652" width="155" height="24" fill="#fff"/>
<path d="M619 672h155v1h-155zM619 666h155v1h-155zM619 661h155v1h-155zM619 655h155v1h-155zM619 674h155v2h-155zM619 668h155v2h-155zM619 663h155v2h-155zM619 658h155v2h-155zM619 652h155v2h-155zM661 652h2v24h-2zM731 652h2v24h-2z" fill="#EBEBEB"/>
<g clip-path="url(#c31)">
<rect x="630" y="671" width="63" height="1" fill="#66C2A5"/>
<rect x="630" y="672" width="63" height="2.5" fill="#FC8D62"/>
<rect x="700" y="673" width="64" height="0.75" fill="#66C2A5"/>
<rect x="700" y="673.75" width="64" height="0.75" fill="#FC8D62"/>
</g>
<path d="M619 652H775V677H619Z M620 653V675H773V653Z" fill="#333333" fill-rule="evenodd"/>
<rect x="619" y="690" width="155" height="25" fill="#fff"/>
<path d="M619 711h155v1h-155zM619 705h155v1h-155zM619 699h155v1h-155zM619 693h155v1h-155zM619 713h155v2h-155zM619 707h155v2h-155zM619 702h155v2h-155zM619 696h155v2h-155zM619 690h155v2h-155zM661 690h2v25h-2zM731 690h2v25h-2z" fill="#EBEBEB"/>
<g clip-path="url(#c32)">
<rect x="630" y="692" width="63" height="11" fill="#66C2A5"/>
<rect x="630" y="703" width="63" height="10.75" fill="#FC8D62"/>
<rect x="700" y="703" width="64" height="6" fill="#66C2A5"/>
<rect x="700" y="709" width="64" height="4.75" fill="#FC8D62"/>
</g>
<path d="M619 690H775V716H619Z M620 691V714H773V691Z" fill="#333333" fill-rule="evenodd"/>
<rect x="619" y="729" width="155" height="24" fill="#fff"/>
<path d="M619 749h155v1h-155zM619 743h155v1h-155zM619 738h155v1h-155zM619 732h155v1h-155zM619 751h155v2h-155zM619 745h155v2h-155zM619 740h155v2h-155zM619 735h155v2h-155zM619 729h155v2h-155zM661 729h2v24h-2zM731 729h2v24h-2z" fill="#EBEBEB"/>
<g clip-path="url(#c33)">
<rect x="630" y="751" width="63" height="1" fill="#FC8D62"/>
<rect x="700" y="751" width="64" height="1" fill="#66C2A5"/>
</g>
<path d="M619 729H775V754H619Z M620 730V752H773V730Z" fill="#333333" fill-rule="evenodd"/>
<rect x="619" y="768" width="155" height="24" fill="#fff"/>
<path d="M619 788h155v1h-155zM619 782h155v1h-155zM619 777h155v1h-155zM619 771h155v1h-155zM619 790h155v2h-155zM619 784h155v2h-155zM619 779h155v2h-155zM619 774h155v2h-155zM619 768h155v2h-155zM661 768h2v24h-2zM731 768h2v24h-2z" fill="#EBEBEB"/>
<g clip-path="url(#c34)">
<rect x="630" y="789" width="63" height="1" fill="#66C2A5"/>
<rect x="630" y="790" width="63" height="1" fill="#FC8D62"/>
</g>
<path d="M619 768H775V793H619Z M620 769V791H773V769Z" fill="#333333" fill-rule="evenodd"/>
<rect x="789" y="690" width="155" height="25" fill="#fff"/>
<path d="M789 711h155v1h-155zM789 705h155v1h-155zM789 699h155v1h-155zM789 693h155v1h-155zM789 713h155v2h-155zM789 707h155v2h-155zM789 702h155v2h-155zM789 696h155v2h-155zM789 690h155v2h-155zM817 690h2v25h-2zM866 690h2v25h-2zM914 690h2v25h-2z" fill="#EBEBEB"/>
<g clip-path="url(#c35)">
<rect x="796" y="692" width="44" height="12" fill="#66C2A5"/>
<rect x="796" y="704" width="44" height="9.75" fill="#FC8D62"/>
<rect x="845" y="710" width="43" height="2" fill="#66C2A5"/>
<rect x="845" y="712" width="43" height="1.75" fill="#FC8D62"/>
<rect x="893" y="711" width="43" height="1" fill="#66C2A5"/>
<rect x="893" y="712" width="43" height="1.75" fill="#FC8D62"/>
</g>
<path d="M789 690H945V716H789Z M790 691V714H943V691Z" fill="#333333" fill-rule="evenodd"/>
<rect x="789" y="729" width="155" height="24" fill="#fff"/>
<path d="M789 749h155v1h-155zM789 743h155v1h-155zM789 738h155v1h-155zM789 732h155v1h-155zM789 751h155v2h-155zM789 745h155v2h-155zM789 740h155v2h-155zM789 735h155v2h-155zM789 729h155v2h-155zM817 729h2v24h-2zM866 729h2v24h-2zM914 729h2v24h-2z" fill="#EBEBEB"/>
<g clip-path="url(#c36)">
<rect x="796" y="751" width="44" height="1" fill="#66C2A5"/>
<rect x="845" y="751" width="43" height="1" fill="#66C2A5"/>
</g>
<path d="M789 729H945V754H789Z M790 730V752H943V730Z" fill="#333333" fill-rule="evenodd"/>
<rect x="789" y="768" width="155" height="24" fill="#fff"/>
<path d="M789 788h155v1h-155zM789 782h155v1h-155zM789 777h155v1h-155zM789 771h155v1h-155zM789 790h155v2h-155zM789 784h155v2h-155zM789 779h155v2h-155zM789 774h155v2h-155zM789 768h155v2h-155zM817 768h2v24h-2zM866 768h2v24h-2zM914 768h2v24h-2z" fill="#EBEBEB"/>
<g clip-path="url(#c37)">
<rect x="796" y="790" width="44" height="1" fill="#66C2A5"/>
<rect x="893" y="790" width="43" height="1" fill="#FC8D62"/>
</g>
<path d="M789 768H945V793H789Z M790 769V791H943V769Z" fill="#333333" fill-rule="evenodd"/>
<rect x="619" y="807" width="155" height="44" fill="#fff"/>
<path d="M619 842h155v1h-155zM619 828h155v1h-155zM619 815h155v1h-155zM619 848h155v2h-155zM619 835h155v2h-155zM619 821h155v2h-155zM619 808h155v2h-155zM661 807h2v44h-2zM731 807h2v44h-2z" fill="#EBEBEB"/>
<g clip-path="url(#c38)">
<rect x="630" y="809.25" width="63" height="39.5" fill="#66C2A5"/>
<rect x="700" y="830" width="64" height="18.75" fill="#66C2A5"/>
</g>
<path d="M619 807H775V852H619Z M620 808V850H773V808Z" fill="#333333" fill-rule="evenodd"/>
<rect x="619" y="865" width="155" height="44" fill="#fff"/>
<path d="M619 900h155v1h-155zM619 886h155v1h-155zM619 873h155v1h-155zM619 906h155v2h-155zM619 893h155v2h-155zM619 879h155v2h-155zM619 866h155v2h-155zM661 865h2v44h-2zM731 865h2v44h-2z" fill="#EBEBEB"/>
<g clip-path="url(#c39)">
<rect x="630" y="868" width="63" height="38.75" fill="#FC8D62"/>
<rect x="700" y="890" width="64" height="16.75" fill="#FC8D62"/>
</g>
<path d="M619 865H775V910H619Z M620 866V908H773V866Z" fill="#333333" fill-rule="evenodd"/>
<rect x="789" y="807" width="155" height="44" fill="#fff"/>
<path d="M789 842h155v1h-155zM789 828h155v1h-155zM789 815h155v1h-155zM789 848h155v2h-155zM789 835h155v2h-155zM789 821h155v2h-155zM789 808h155v2h-155zM817 807h2v44h-2zM866 807h2v44h-2zM914 807h2v44h-2z" fill="#EBEBEB"/>
<g clip-path="url(#c40)">
<rect x="796" y="809.25" width="44" height="39.5" fill="#66C2A5"/>
<rect x="845" y="843" width="43" height="5.75" fill="#66C2A5"/>
<rect x="893" y="845" width="43" height="3.75" fill="#66C2A5"/>
</g>
<path d="M789 807H945V852H789Z M790 808V850H943V808Z" fill="#333333" fill-rule="evenodd"/>
<rect x="789" y="865" width="155" height="44" fill="#fff"/>
<path d="M789 900h155v1h-155zM789 886h155v1h-155zM789 873h155v1h-155zM789 906h155v2h-155zM789 893h155v2h-155zM789 879h155v2h-155zM789 866h155v2h-155zM817 865h2v44h-2zM866 865h2v44h-2zM914 865h2v44h-2z" fill="#EBEBEB"/>
<g clip-path="url(#c41)">
<rect x="796" y="876" width="44" height="30.75" fill="#FC8D62"/>
<rect x="845" y="899" width="43" height="7.75" fill="#FC8D62"/>
<rect x="893" y="898" width="43" height="8.75" fill="#FC8D62"/>
</g>
<path d="M789 865H945V910H789Z M790 866V908H943V866Z" fill="#333333" fill-rule="evenodd"/>
<rect x="958" y="807" width="155" height="44" fill="#fff"/>
<path d="M958 842h155v1h-155zM958 828h155v1h-155zM958 815h155v1h-155zM958 848h155v2h-155zM958 835h155v2h-155zM958 821h155v2h-155zM958 808h155v2h-155zM986 807h2v44h-2zM1035 807h2v44h-2zM1083 807h2v44h-2z" fill="#EBEBEB"/>
<g clip-path="url(#c42)">
<rect x="966" y="809.25" width="43" height="39.5" fill="#66C2A5"/>
<rect x="1014" y="846" width="43" height="2.75" fill="#66C2A5"/>
<rect x="1062" y="845" width="44" height="3.75" fill="#66C2A5"/>
</g>
<path d="M958 807H1114V852H958Z M959 808V850H1112V808Z" fill="#333333" fill-rule="evenodd"/>
<rect x="958" y="865" width="155" height="44" fill="#fff"/>
<path d="M958 900h155v1h-155zM958 886h155v1h-155zM958 873h155v1h-155zM958 906h155v2h-155zM958 893h155v2h-155zM958 879h155v2h-155zM958 866h155v2h-155zM986 865h2v44h-2zM1035 865h2v44h-2zM1083 865h2v44h-2z" fill="#EBEBEB"/>
<g clip-path="url(#c43)">
<rect x="966" y="871" width="43" height="35.75" fill="#FC8D62"/>
<rect x="1014" y="903" width="43" height="3.75" fill="#FC8D62"/>
<rect x="1062" y="903" width="44" height="3.75" fill="#FC8D62"/>
</g>
<path d="M958 865H1114V910H958Z M959 866V908H1112V866Z" fill="#333333" fill-rule="evenodd"/>
<rect x="104" y="118" width="7" height="2" fill="#333333"/>
<text transform="translate(97.6 128.5) scale(0.966 1)" font-size="23.6" fill="#4D4D4D" text-anchor="end" >0.00015</text>
<rect x="104" y="147" width="7" height="2" fill="#333333"/>
<text transform="translate(97.6 157.2) scale(0.966 1)" font-size="23.6" fill="#4D4D4D" text-anchor="end" >0.00010</text>
<rect x="104" y="175" width="7" height="2" fill="#333333"/>
<text transform="translate(97.6 185.9) scale(0.966 1)" font-size="23.6" fill="#4D4D4D" text-anchor="end" >0.00005</text>
<rect x="104" y="204" width="7" height="2" fill="#333333"/>
<text transform="translate(97.6 214.6) scale(0.966 1)" font-size="23.6" fill="#4D4D4D" text-anchor="end" >0.00000</text>
<rect x="104" y="241" width="7" height="2" fill="#333333"/>
<text transform="translate(97.6 251.45) scale(0.966 1)" font-size="23.6" fill="#4D4D4D" text-anchor="end" >180</text>
<rect x="104" y="268" width="7" height="2" fill="#333333"/>
<text transform="translate(97.6 278.1) scale(0.966 1)" font-size="23.6" fill="#4D4D4D" text-anchor="end" >160</text>
<rect x="104" y="294" width="7" height="2" fill="#333333"/>
<text transform="translate(97.6 304.75) scale(0.966 1)" font-size="23.6" fill="#4D4D4D" text-anchor="end" >140</text>
<rect x="104" y="321" width="7" height="2" fill="#333333"/>
<text transform="translate(97.6 331.4) scale(0.966 1)" font-size="23.6" fill="#4D4D4D" text-anchor="end" >120</text>
<rect x="104" y="348" width="7" height="2" fill="#333333"/>
<text transform="translate(97.6 359) scale(0.966 1)" font-size="23.6" fill="#4D4D4D" text-anchor="end" >125</text>
<rect x="104" y="372" width="7" height="2" fill="#333333"/>
<text transform="translate(97.6 382.35) scale(0.966 1)" font-size="23.6" fill="#4D4D4D" text-anchor="end" >100</text>
<rect x="104" y="395" width="7" height="2" fill="#333333"/>
<text transform="translate(97.6 405.7) scale(0.966 1)" font-size="23.6" fill="#4D4D4D" text-anchor="end" >75</text>
<rect x="104" y="419" width="7" height="2" fill="#333333"/>
<text transform="translate(97.6 429.05) scale(0.966 1)" font-size="23.6" fill="#4D4D4D" text-anchor="end" >50</text>
<rect x="104" y="442" width="7" height="2" fill="#333333"/>
<text transform="translate(97.6 452.4) scale(0.966 1)" font-size="23.6" fill="#4D4D4D" text-anchor="end" >25</text>
<rect x="104" y="498" width="7" height="2" fill="#333333"/>
<text transform="translate(97.6 508.5) scale(0.966 1)" font-size="23.6" fill="#4D4D4D" text-anchor="end" >0.0</text>
<rect x="104" y="488" width="7" height="2" fill="#333333"/>
<text transform="translate(97.6 498.5) scale(0.966 1)" font-size="23.6" fill="#4D4D4D" text-anchor="end" >0.5</text>
<rect x="104" y="478" width="7" height="2" fill="#333333"/>
<text transform="translate(97.6 488.5) scale(0.966 1)" font-size="23.6" fill="#4D4D4D" text-anchor="end" >1.0</text>
<rect x="104" y="468" width="7" height="2" fill="#333333"/>
<text transform="translate(97.6 478.5) scale(0.966 1)" font-size="23.6" fill="#4D4D4D" text-anchor="end" >1.5</text>
<rect x="104" y="458" width="7" height="2" fill="#333333"/>
<text transform="translate(97.6 468.5) scale(0.966 1)" font-size="23.6" fill="#4D4D4D" text-anchor="end" >2.0</text>
<rect x="104" y="556" width="7" height="2" fill="#333333"/>
<text transform="translate(97.6 566.55) scale(0.966 1)" font-size="23.6" fill="#4D4D4D" text-anchor="end" >0.0</text>
<rect x="104" y="546" width="7" height="2" fill="#333333"/>
<text transform="translate(97.6 556.77) scale(0.966 1)" font-size="23.6" fill="#4D4D4D" text-anchor="end" >0.5</text>
<rect x="104" y="536" width="7" height="2" fill="#333333"/>
<text transform="translate(97.6 547) scale(0.966 1)" font-size="23.6" fill="#4D4D4D" text-anchor="end" >1.0</text>
<rect x="104" y="527" width="7" height="2" fill="#333333"/>
<text transform="translate(97.6 537.23) scale(0.966 1)" font-size="23.6" fill="#4D4D4D" text-anchor="end" >1.5</text>
<rect x="104" y="517" width="7" height="2" fill="#333333"/>
<text transform="translate(97.6 527.45) scale(0.966 1)" font-size="23.6" fill="#4D4D4D" text-anchor="end" >2.0</text>
<rect x="104" y="596" width="7" height="2" fill="#333333"/>
<text transform="translate(97.6 606.41) scale(0.966 1)" font-size="23.6" fill="#4D4D4D" text-anchor="end" >0.0</text>
<rect x="104" y="590" width="7" height="2" fill="#333333"/>
<text transform="translate(97.6 600.95) scale(0.966 1)" font-size="23.6" fill="#4D4D4D" text-anchor="end" >0.5</text>
<rect x="104" y="585" width="7" height="2" fill="#333333"/>
<text transform="translate(97.6 595.5) scale(0.966 1)" font-size="23.6" fill="#4D4D4D" text-anchor="end" >1.0</text>
<rect x="104" y="580" width="7" height="2" fill="#333333"/>
<text transform="translate(97.6 590.05) scale(0.966 1)" font-size="23.6" fill="#4D4D4D" text-anchor="end" >1.5</text>
<rect x="104" y="574" width="7" height="2" fill="#333333"/>
<text transform="translate(97.6 584.59) scale(0.966 1)" font-size="23.6" fill="#4D4D4D" text-anchor="end" >2.0</text>
<rect x="104" y="635" width="7" height="2" fill="#333333"/>
<text transform="translate(97.6 645.41) scale(0.966 1)" font-size="23.6" fill="#4D4D4D" text-anchor="end" >0.0</text>
<rect x="104" y="629" width="7" height="2" fill="#333333"/>
<text transform="translate(97.6 639.95) scale(0.966 1)" font-size="23.6" fill="#4D4D4D" text-anchor="end" >0.5</text>
<rect x="104" y="624" width="7" height="2" fill="#333333"/>
<text transform="translate(97.6 634.5) scale(0.966 1)" font-size="23.6" fill="#4D4D4D" text-anchor="end" >1.0</text>
<rect x="104" y="619" width="7" height="2" fill="#333333"/>
<text transform="translate(97.6 629.05) scale(0.966 1)" font-size="23.6" fill="#4D4D4D" text-anchor="end" >1.5</text>
<rect x="104" y="613" width="7" height="2" fill="#333333"/>
<text transform="translate(97.6 623.59) scale(0.966 1)" font-size="23.6" fill="#4D4D4D" text-anchor="end" >2.0</text>
<rect x="104" y="674" width="7" height="2" fill="#333333"/>
<text transform="translate(97.6 684.41) scale(0.966 1)" font-size="23.6" fill="#4D4D4D" text-anchor="end" >0.0</text>
<rect x="104" y="668" width="7" height="2" fill="#333333"/>
<text transform="translate(97.6 678.95) scale(0.966 1)" font-size="23.6" fill="#4D4D4D" text-anchor="end" >0.5</text>
<rect x="104" y="663" width="7" height="2" fill="#333333"/>
<text transform="translate(97.6 673.5) scale(0.966 1)" font-size="23.6" fill="#4D4D4D" text-anchor="end" >1.0</text>
<rect x="104" y="658" width="7" height="2" fill="#333333"/>
<text transform="translate(97.6 668.05) scale(0.966 1)" font-size="23.6" fill="#4D4D4D" text-anchor="end" >1.5</text>
<rect x="104" y="652" width="7" height="2" fill="#333333"/>
<text transform="translate(97.6 662.59) scale(0.966 1)" font-size="23.6" fill="#4D4D4D" text-anchor="end" >2.0</text>
<rect x="104" y="713" width="7" height="2" fill="#333333"/>
<text transform="translate(97.6 723.36) scale(0.966 1)" font-size="23.6" fill="#4D4D4D" text-anchor="end" >0</text>
<rect x="104" y="705" width="7" height="2" fill="#333333"/>
<text transform="translate(97.6 715.79) scale(0.966 1)" font-size="23.6" fill="#4D4D4D" text-anchor="end" >1</text>
<rect x="104" y="698" width="7" height="2" fill="#333333"/>
<text transform="translate(97.6 708.21) scale(0.966 1)" font-size="23.6" fill="#4D4D4D" text-anchor="end" >2</text>
<rect x="104" y="690" width="7" height="2" fill="#333333"/>
<text transform="translate(97.6 700.64) scale(0.966 1)" font-size="23.6" fill="#4D4D4D" text-anchor="end" >3</text>
<rect x="104" y="751" width="7" height="2" fill="#333333"/>
<text transform="translate(97.6 761.41) scale(0.966 1)" font-size="23.6" fill="#4D4D4D" text-anchor="end" >0</text>
<rect x="104" y="744" width="7" height="2" fill="#333333"/>
<text transform="translate(97.6 754.14) scale(0.966 1)" font-size="23.6" fill="#4D4D4D" text-anchor="end" >1</text>
<rect x="104" y="736" width="7" height="2" fill="#333333"/>
<text transform="translate(97.6 746.86) scale(0.966 1)" font-size="23.6" fill="#4D4D4D" text-anchor="end" >2</text>
<rect x="104" y="729" width="7" height="2" fill="#333333"/>
<text transform="translate(97.6 739.59) scale(0.966 1)" font-size="23.6" fill="#4D4D4D" text-anchor="end" >3</text>
<rect x="104" y="790" width="7" height="2" fill="#333333"/>
<text transform="translate(97.6 800.41) scale(0.966 1)" font-size="23.6" fill="#4D4D4D" text-anchor="end" >0</text>
<rect x="104" y="783" width="7" height="2" fill="#333333"/>
<text transform="translate(97.6 793.14) scale(0.966 1)" font-size="23.6" fill="#4D4D4D" text-anchor="end" >1</text>
<rect x="104" y="775" width="7" height="2" fill="#333333"/>
<text transform="translate(97.6 785.86) scale(0.966 1)" font-size="23.6" fill="#4D4D4D" text-anchor="end" >2</text>
<rect x="104" y="768" width="7" height="2" fill="#333333"/>
<text transform="translate(97.6 778.59) scale(0.966 1)" font-size="23.6" fill="#4D4D4D" text-anchor="end" >3</text>
<rect x="104" y="848" width="7" height="2" fill="#333333"/>
<text transform="translate(97.6 858.5) scale(0.966 1)" font-size="23.6" fill="#4D4D4D" text-anchor="end" >0.0</text>
<rect x="104" y="838" width="7" height="2" fill="#333333"/>
<text transform="translate(97.6 848.5) scale(0.966 1)" font-size="23.6" fill="#4D4D4D" text-anchor="end" >0.5</text>
<rect x="104" y="828" width="7" height="2" fill="#333333"/>
<text transform="translate(97.6 838.5) scale(0.966 1)" font-size="23.6" fill="#4D4D4D" text-anchor="end" >1.0</text>
<rect x="104" y="818" width="7" height="2" fill="#333333"/>
<text transform="translate(97.6 828.5) scale(0.966 1)" font-size="23.6" fill="#4D4D4D" text-anchor="end" >1.5</text>
<rect x="104" y="808" width="7" height="2" fill="#333333"/>
<text transform="translate(97.6 818.5) scale(0.966 1)" font-size="23.6" fill="#4D4D4D" text-anchor="end" >2.0</text>
<rect x="104" y="906" width="7" height="2" fill="#333333"/>
<text transform="translate(97.6 916.5) scale(0.966 1)" font-size="23.6" fill="#4D4D4D" text-anchor="end" >0.0</text>
<rect x="104" y="896" width="7" height="2" fill="#333333"/>
<text transform="translate(97.6 906.5) scale(0.966 1)" font-size="23.6" fill="#4D4D4D" text-anchor="end" >0.5</text>
<rect x="104" y="886" width="7" height="2" fill="#333333"/>
<text transform="translate(97.6 896.5) scale(0.966 1)" font-size="23.6" fill="#4D4D4D" text-anchor="end" >1.0</text>
<rect x="104" y="876" width="7" height="2" fill="#333333"/>
<text transform="translate(97.6 886.5) scale(0.966 1)" font-size="23.6" fill="#4D4D4D" text-anchor="end" >1.5</text>
<rect x="104" y="866" width="7" height="2" fill="#333333"/>
<text transform="translate(97.6 876.5) scale(0.966 1)" font-size="23.6" fill="#4D4D4D" text-anchor="end" >2.0</text>
<rect x="113" y="910" width="2" height="6" fill="#333333"/>
<text transform="translate(113.75 941) scale(0.966 1)" font-size="23.6" fill="#4D4D4D" text-anchor="middle" >14000</text>
<rect x="143" y="910" width="2" height="6" fill="#333333"/>
<text transform="translate(144 941) scale(0.966 1)" font-size="23.6" fill="#4D4D4D" text-anchor="middle" >16000</text>
<rect x="173" y="910" width="2" height="6" fill="#333333"/>
<text transform="translate(174.25 941) scale(0.966 1)" font-size="23.6" fill="#4D4D4D" text-anchor="middle" >18000</text>
<rect x="204" y="910" width="2" height="6" fill="#333333"/>
<text transform="translate(204.5 941) scale(0.966 1)" font-size="23.6" fill="#4D4D4D" text-anchor="middle" >20000</text>
<rect x="234" y="910" width="2" height="6" fill="#333333"/>
<text transform="translate(234.75 941) scale(0.966 1)" font-size="23.6" fill="#4D4D4D" text-anchor="middle" >22000</text>
<rect x="264" y="910" width="2" height="6" fill="#333333"/>
<text transform="translate(265 941) scale(0.966 1)" font-size="23.6" fill="#4D4D4D" text-anchor="middle" >24000</text>
<rect x="288" y="910" width="2" height="6" fill="#333333"/>
<text transform="translate(288.5 941) scale(0.966 1)" font-size="23.6" fill="#4D4D4D" text-anchor="middle" >120</text>
<rect x="327" y="910" width="2" height="6" fill="#333333"/>
<text transform="translate(328.3 941) scale(0.966 1)" font-size="23.6" fill="#4D4D4D" text-anchor="middle" >140</text>
<rect x="367" y="910" width="2" height="6" fill="#333333"/>
<text transform="translate(368 941) scale(0.966 1)" font-size="23.6" fill="#4D4D4D" text-anchor="middle" >160</text>
<rect x="407" y="910" width="2" height="6" fill="#333333"/>
<text transform="translate(407.8 941) scale(0.966 1)" font-size="23.6" fill="#4D4D4D" text-anchor="middle" >180</text>
<rect x="448" y="910" width="2" height="6" fill="#333333"/>
<text transform="translate(449.5 941) scale(0.966 1)" font-size="23.6" fill="#4D4D4D" text-anchor="middle" >25</text>
<rect x="484" y="910" width="2" height="6" fill="#333333"/>
<text transform="translate(484.9 941) scale(0.966 1)" font-size="23.6" fill="#4D4D4D" text-anchor="middle" >50</text>
<rect x="519" y="910" width="2" height="6" fill="#333333"/>
<text transform="translate(520.3 941) scale(0.966 1)" font-size="23.6" fill="#4D4D4D" text-anchor="middle" >75</text>
<rect x="555" y="910" width="2" height="6" fill="#333333"/>
<text transform="translate(555.7 941) scale(0.966 1)" font-size="23.6" fill="#4D4D4D" text-anchor="middle" >100</text>
<rect x="590" y="910" width="2" height="6" fill="#333333"/>
<text transform="translate(591.1 941) scale(0.966 1)" font-size="23.6" fill="#4D4D4D" text-anchor="middle" >125</text>
<rect x="661" y="910" width="2" height="6" fill="#333333"/>
<text transform="translate(662 941) scale(0.966 1)" font-size="23.6" fill="#4D4D4D" text-anchor="middle" >1</text>
<rect x="731" y="910" width="2" height="6" fill="#333333"/>
<text transform="translate(732 941) scale(0.966 1)" font-size="23.6" fill="#4D4D4D" text-anchor="middle" >2</text>
<rect x="817" y="910" width="2" height="6" fill="#333333"/>
<text transform="translate(818.25 941) scale(0.966 1)" font-size="23.6" fill="#4D4D4D" text-anchor="middle" >1</text>
<rect x="866" y="910" width="2" height="6" fill="#333333"/>
<text transform="translate(866.5 941) scale(0.966 1)" font-size="23.6" fill="#4D4D4D" text-anchor="middle" >2</text>
<rect x="914" y="910" width="2" height="6" fill="#333333"/>
<text transform="translate(915 941) scale(0.966 1)" font-size="23.6" fill="#4D4D4D" text-anchor="middle" >3</text>
<rect x="986" y="910" width="2" height="6" fill="#333333"/>
<text transform="translate(987.25 941) scale(0.966 1)" font-size="23.6" fill="#4D4D4D" text-anchor="middle" >1</text>
<rect x="1035" y="910" width="2" height="6" fill="#333333"/>
<text transform="translate(1035.75 941) scale(0.966 1)" font-size="23.6" fill="#4D4D4D" text-anchor="middle" >2</text>
<rect x="1083" y="910" width="2" height="6" fill="#333333"/>
<text transform="translate(1084.25 941) scale(0.966 1)" font-size="23.6" fill="#4D4D4D" text-anchor="middle" >3</text>
<rect x="1169" y="910" width="2" height="6" fill="#333333"/>
<text transform="translate(1170 941) scale(0.966 1)" font-size="23.6" fill="#4D4D4D" text-anchor="middle" >0</text>
<rect x="1239" y="910" width="2" height="6" fill="#333333"/>
<text transform="translate(1240 941) scale(0.966 1)" font-size="23.6" fill="#4D4D4D" text-anchor="middle" >1</text>
</svg>
</body></html>
